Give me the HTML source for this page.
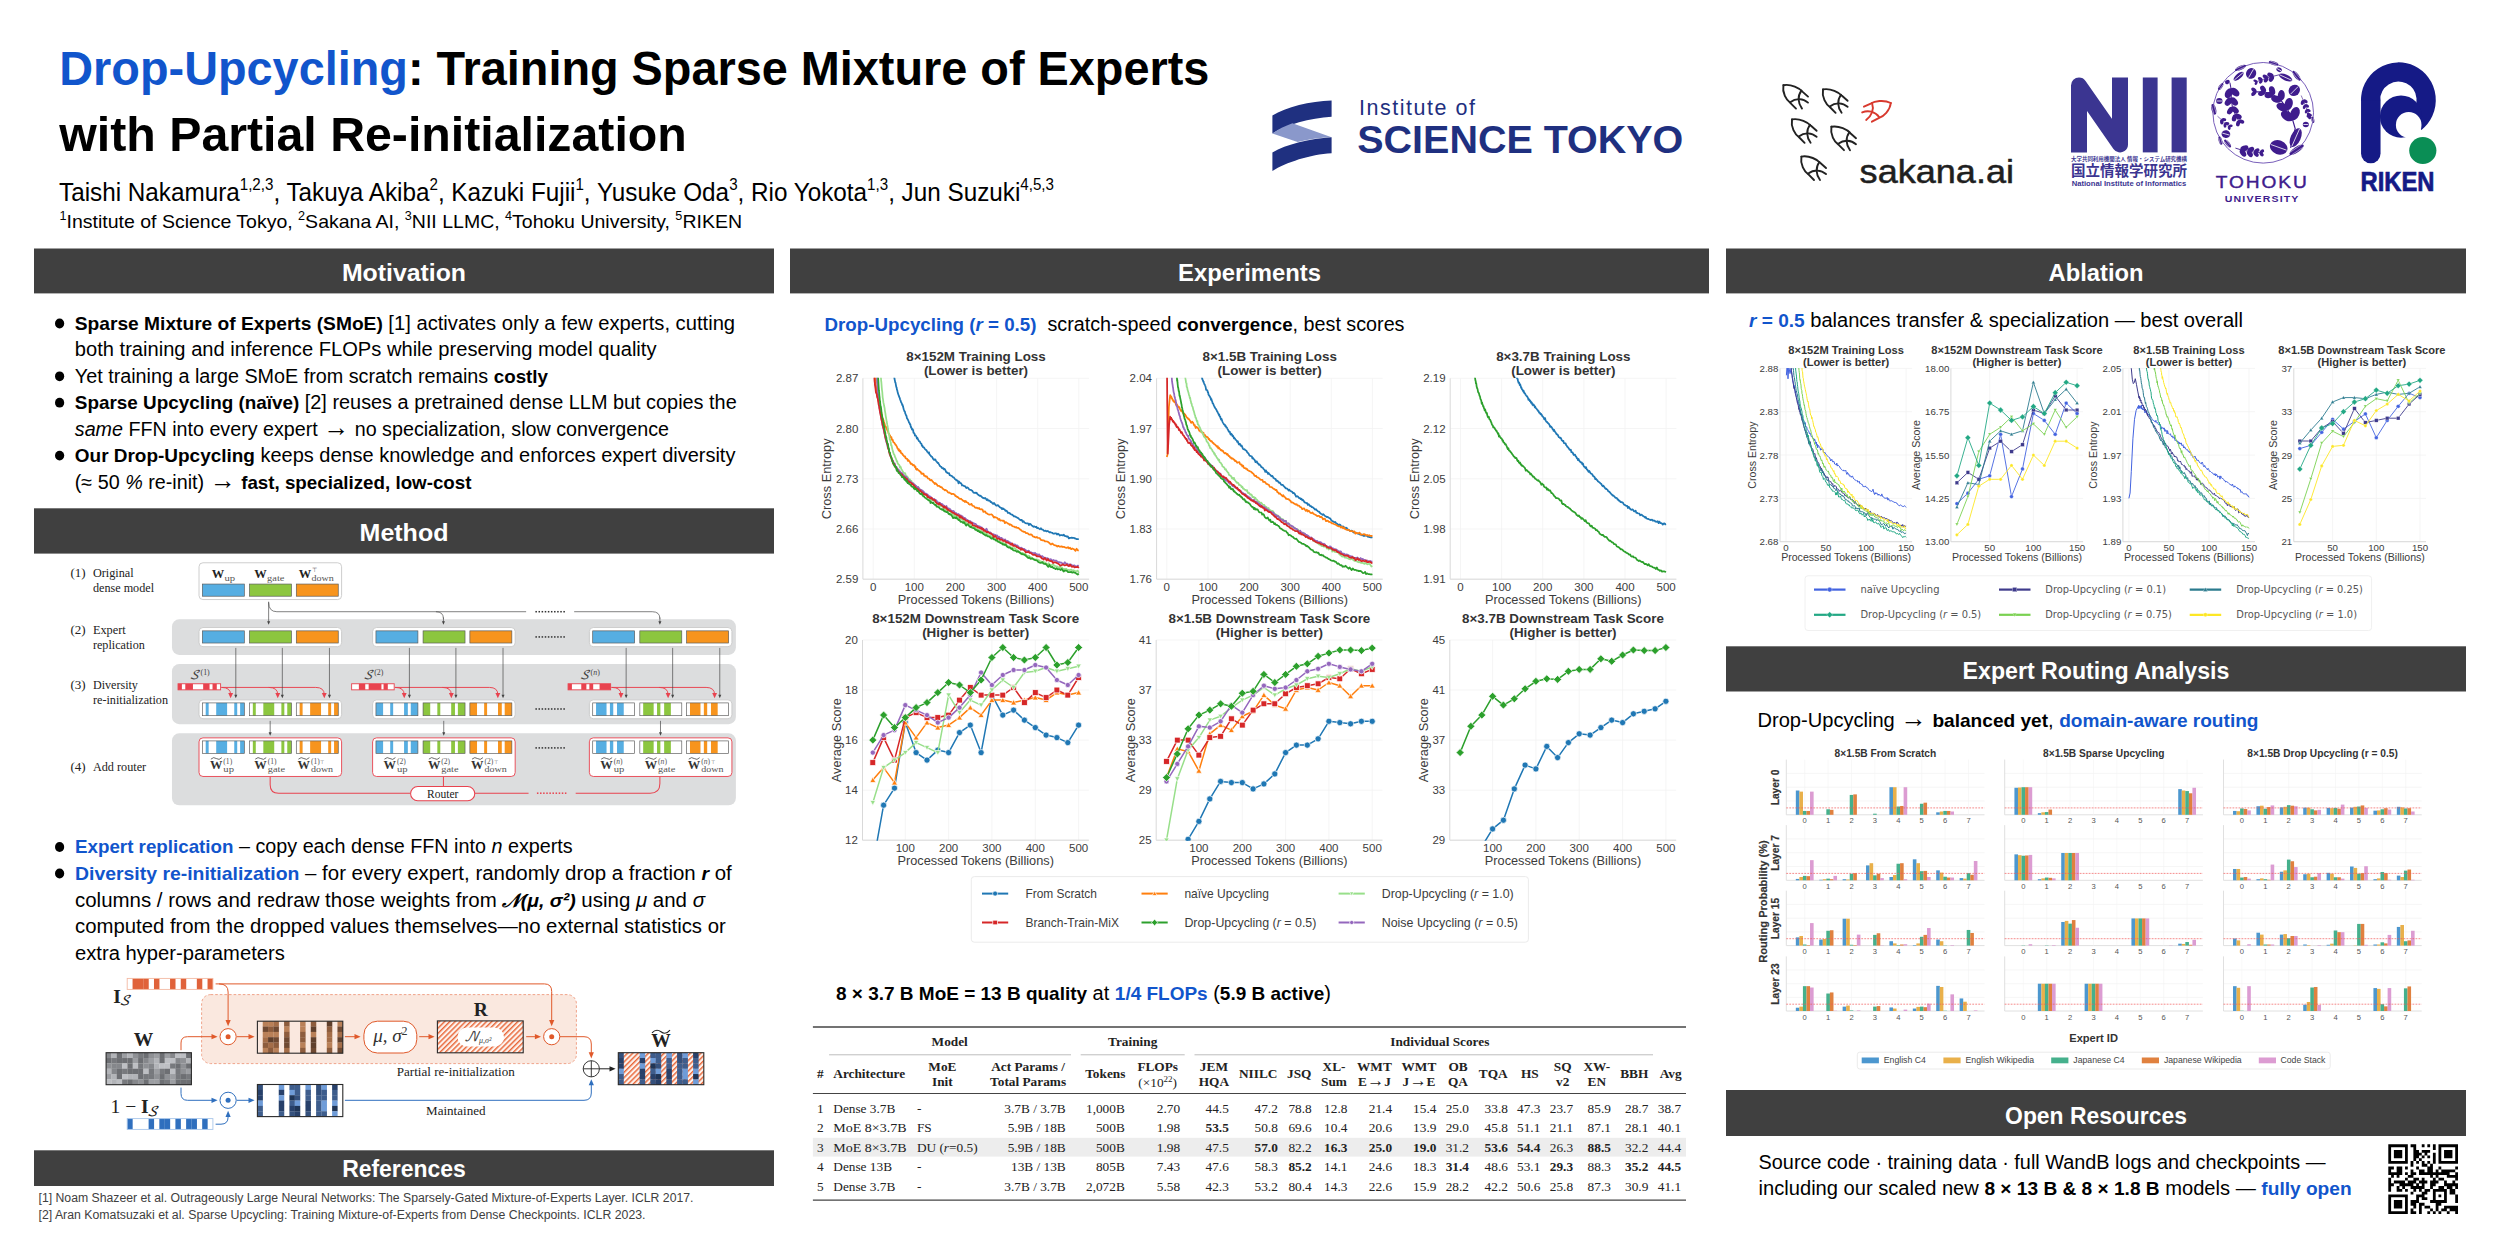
<!DOCTYPE html>
<html lang="en"><head><meta charset="utf-8"><title>Drop-Upcycling poster</title>
<style>html,body{margin:0;padding:0;background:#fff;overflow:hidden}svg{display:block}text{white-space:pre}</style></head>
<body><svg width="2500" height="1250" viewBox="0 0 2500 1250" font-family="Liberation Sans, sans-serif">
<rect width="2500" height="1250" fill="#fff"/>
<g id="part_text">
<text x="59.3" y="85.4" font-size="48" font-weight="bold" textLength="1150.0" lengthAdjust="spacingAndGlyphs"><tspan fill="#1155cc">Drop-Upcycling</tspan>: Training Sparse Mixture of Experts</text>
<text x="59.3" y="151.2" font-size="48" font-weight="bold" textLength="627.5" lengthAdjust="spacingAndGlyphs">with Partial Re-initialization</text>
<text x="59.0" y="200.6" font-size="25" textLength="995.0" lengthAdjust="spacingAndGlyphs"><tspan>Taishi Nakamura</tspan><tspan font-size="15.6" dy="-10.2">1,2,3</tspan><tspan dy="10.2">, Takuya Akiba</tspan><tspan font-size="15.6" dy="-10.2">2</tspan><tspan dy="10.2">, Kazuki Fujii</tspan><tspan font-size="15.6" dy="-10.2">1</tspan><tspan dy="10.2">, Yusuke Oda</tspan><tspan font-size="15.6" dy="-10.2">3</tspan><tspan dy="10.2">, Rio Yokota</tspan><tspan font-size="15.6" dy="-10.2">1,3</tspan><tspan dy="10.2">, Jun Suzuki</tspan><tspan font-size="15.6" dy="-10.2">4,5,3</tspan></text>
<text x="59.5" y="228.2" font-size="19" textLength="682.5" lengthAdjust="spacingAndGlyphs"><tspan font-size="12.3" dy="-8.2">1</tspan><tspan dy="8.2">Institute of Science Tokyo, </tspan><tspan font-size="12.3" dy="-8.2">2</tspan><tspan dy="8.2">Sakana AI, </tspan><tspan font-size="12.3" dy="-8.2">3</tspan><tspan dy="8.2">NII LLMC, </tspan><tspan font-size="12.3" dy="-8.2">4</tspan><tspan dy="8.2">Tohoku University, </tspan><tspan font-size="12.3" dy="-8.2">5</tspan><tspan dy="8.2">RIKEN</tspan></text>
<rect x="34.0" y="248.5" width="740.0" height="44.9" fill="#404040" /><text x="404.0" y="281.2" font-size="23.5" font-weight="bold" fill="#fff" text-anchor="middle" textLength="124.1" lengthAdjust="spacingAndGlyphs">Motivation</text>
<rect x="34.0" y="508.3" width="740.0" height="45.3" fill="#404040" /><text x="404.0" y="541.1" font-size="23.5" font-weight="bold" fill="#fff" text-anchor="middle" textLength="88.9" lengthAdjust="spacingAndGlyphs">Method</text>
<rect x="34.0" y="1150.3" width="740.0" height="35.7" fill="#404040" /><text x="404.0" y="1177.4" font-size="23.5" font-weight="bold" fill="#fff" text-anchor="middle" textLength="123.7" lengthAdjust="spacingAndGlyphs">References</text>
<rect x="790.0" y="248.5" width="919.0" height="44.9" fill="#404040" /><text x="1249.5" y="281.2" font-size="23.5" font-weight="bold" fill="#fff" text-anchor="middle" textLength="143.0" lengthAdjust="spacingAndGlyphs">Experiments</text>
<rect x="1726.0" y="248.5" width="740.0" height="44.9" fill="#404040" /><text x="2096.0" y="281.2" font-size="23.5" font-weight="bold" fill="#fff" text-anchor="middle" textLength="95.0" lengthAdjust="spacingAndGlyphs">Ablation</text>
<rect x="1726.0" y="646.3" width="740.0" height="45.2" fill="#404040" /><text x="2096.0" y="678.7" font-size="23.5" font-weight="bold" fill="#fff" text-anchor="middle" textLength="266.8" lengthAdjust="spacingAndGlyphs">Expert Routing Analysis</text>
<rect x="1726.0" y="1090.0" width="740.0" height="46.0" fill="#404040" /><text x="2096.0" y="1124.1" font-size="23.5" font-weight="bold" fill="#fff" text-anchor="middle" textLength="181.8" lengthAdjust="spacingAndGlyphs">Open Resources</text>
<text x="74.8" y="329.9" font-size="20" textLength="660.3" lengthAdjust="spacingAndGlyphs"><tspan font-weight="bold" font-size="0.95em">Sparse Mixture of Experts (SMoE)</tspan> [1] activates only a few experts, cutting</text>
<text x="74.8" y="356.3" font-size="20" textLength="581.7" lengthAdjust="spacingAndGlyphs">both training and inference FLOPs while preserving model quality</text>
<text x="74.8" y="382.7" font-size="20" textLength="473.2" lengthAdjust="spacingAndGlyphs">Yet training a large SMoE from scratch remains <tspan font-weight="bold" font-size="0.95em">costly</tspan></text>
<text x="74.8" y="409.1" font-size="20" textLength="661.9" lengthAdjust="spacingAndGlyphs"><tspan font-weight="bold" font-size="0.95em">Sparse Upcycling (naïve)</tspan> [2] reuses a pretrained dense LLM but copies the</text>
<text x="74.8" y="435.6" font-size="20" textLength="594.2" lengthAdjust="spacingAndGlyphs"><tspan font-style="italic">same</tspan> FFN into every expert <tspan font-size="1.32em">→</tspan> no specialization, slow convergence</text>
<text x="74.8" y="462.0" font-size="20" textLength="660.6" lengthAdjust="spacingAndGlyphs"><tspan font-weight="bold" font-size="0.95em">Our Drop‑Upcycling</tspan> keeps dense knowledge and enforces expert diversity</text>
<text x="74.8" y="488.5" font-size="20" textLength="396.7" lengthAdjust="spacingAndGlyphs">(≈ 50 <tspan font-style="italic">%</tspan> re‑init) <tspan font-size="1.32em">→</tspan> <tspan font-weight="bold" font-size="0.95em">fast, specialized, low‑cost</tspan></text>
<ellipse cx="59.6" cy="323.5" rx="4.6" ry="4.9" fill="#000"/>
<ellipse cx="59.6" cy="376.3" rx="4.6" ry="4.9" fill="#000"/>
<ellipse cx="59.6" cy="402.7" rx="4.6" ry="4.9" fill="#000"/>
<ellipse cx="59.6" cy="455.6" rx="4.6" ry="4.9" fill="#000"/>
<text x="75.0" y="853.4" font-size="20" textLength="497.7" lengthAdjust="spacingAndGlyphs"><tspan font-weight="bold" font-size="0.95em"><tspan fill="#1155cc">Expert replication</tspan></tspan> – copy each dense FFN into <tspan font-style="italic">n</tspan> experts</text>
<text x="75.0" y="879.9" font-size="20" textLength="656.7" lengthAdjust="spacingAndGlyphs"><tspan font-weight="bold" font-size="0.95em"><tspan fill="#1155cc">Diversity re‑initialization</tspan></tspan> – for every expert, randomly drop a fraction <tspan font-weight="bold" font-size="0.95em"><tspan font-style="italic">r</tspan></tspan> of</text>
<text x="75.0" y="906.7" font-size="20" textLength="630.0" lengthAdjust="spacingAndGlyphs">columns / rows and redraw those weights from <tspan font-weight="bold" font-size="0.95em"><tspan font-style="italic">𝒩(μ, σ²)</tspan></tspan> using <tspan font-style="italic">μ</tspan> and <tspan font-style="italic">σ</tspan></text>
<text x="75.0" y="933.1" font-size="20" textLength="650.7" lengthAdjust="spacingAndGlyphs">computed from the dropped values themselves—no external statistics or</text>
<text x="75.0" y="959.6" font-size="20" textLength="209.8" lengthAdjust="spacingAndGlyphs">extra hyper‑parameters</text>
<ellipse cx="59.6" cy="847.0" rx="4.6" ry="4.9" fill="#000"/>
<ellipse cx="59.6" cy="873.5" rx="4.6" ry="4.9" fill="#000"/>
<text x="38.5" y="1202.0" font-size="12.3" fill="#404040" textLength="655.0" lengthAdjust="spacingAndGlyphs">[1] Noam Shazeer et al. Outrageously Large Neural Networks: The Sparsely-Gated Mixture-of-Experts Layer. ICLR 2017.</text>
<text x="38.5" y="1218.6" font-size="12.3" fill="#404040" textLength="607.0" lengthAdjust="spacingAndGlyphs">[2] Aran Komatsuzaki et al. Sparse Upcycling: Training Mixture-of-Experts from Dense Checkpoints. ICLR 2023.</text>
<text x="824.5" y="331.0" font-size="20" textLength="580.0" lengthAdjust="spacingAndGlyphs"><tspan font-weight="bold" font-size="0.95em"><tspan fill="#1155cc">Drop‑Upcycling (<tspan font-style="italic">r</tspan> = 0.5)</tspan></tspan>  scratch‑speed <tspan font-weight="bold" font-size="0.95em">convergence</tspan>, best scores</text>
<text x="836.0" y="1000.0" font-size="20" textLength="495.0" lengthAdjust="spacingAndGlyphs"><tspan font-weight="bold" font-size="0.95em">8 × 3.7 B MoE = 13 B quality</tspan> at <tspan font-weight="bold" font-size="0.95em"><tspan fill="#1155cc">1/4 FLOPs</tspan></tspan> (<tspan font-weight="bold" font-size="0.95em">5.9 B active</tspan>)</text>
<text x="1749.0" y="326.5" font-size="20" textLength="494.0" lengthAdjust="spacingAndGlyphs"><tspan font-weight="bold" font-size="0.95em"><tspan fill="#1155cc"><tspan font-style="italic">r</tspan> = 0.5</tspan></tspan> balances transfer &amp; specialization — best overall</text>
<text x="1757.5" y="726.5" font-size="20" textLength="501.0" lengthAdjust="spacingAndGlyphs">Drop‑Upcycling <tspan font-size="1.32em">→</tspan> <tspan font-weight="bold" font-size="0.95em">balanced yet</tspan>, <tspan font-weight="bold" font-size="0.95em"><tspan fill="#1155cc">domain‑aware routing</tspan></tspan></text>
<text x="1758.6" y="1168.8" font-size="20" textLength="567.0" lengthAdjust="spacingAndGlyphs">Source code · training data · full WandB logs and checkpoints —</text>
<text x="1758.6" y="1195.0" font-size="20" textLength="593.0" lengthAdjust="spacingAndGlyphs">including our scaled new <tspan font-weight="bold" font-size="0.95em">8 × 13 B &amp; 8 × 1.8 B</tspan> models — <tspan font-weight="bold" font-size="0.95em"><tspan fill="#1155cc">fully open</tspan></tspan></text>
</g>
<g id="part_logos">
<path d="M1331.6,100.4 C1310.0,101.0 1286.0,107.0 1272.4,115.6 L1272.4,133.4 C1286.0,125.0 1310.0,118.0 1331.6,116.8 Z" fill="#1f3080"/><path d="M1272.4,133.4 C1278.0,129.4 1285.0,125.8 1292.4,123.2 L1331.6,137.2 C1320.0,137.6 1308.0,139.2 1297.6,142.0 Z" fill="#8a98cb"/><path d="M1331.6,137.2 L1331.6,153.2 C1310.0,154.4 1286.0,162.4 1272.4,171.0 L1272.4,152.4 C1286.0,144.4 1310.0,138.4 1331.6,137.2 Z" fill="#1f3080"/><text x="1359" y="115" font-size="21.5" fill="#1f3080" textLength="116" lengthAdjust="spacing">Institute of</text><text x="1357.3" y="153.0" font-size="38.4" font-weight="bold" fill="#1f3080" textLength="326.0" lengthAdjust="spacingAndGlyphs">SCIENCE TOKYO</text>
<g transform="translate(1782.8,84.6)" fill="none" stroke="#222" stroke-width="1.9" stroke-linecap="round" stroke-linejoin="round"><path d="M0.6,0.6 C8.4,-0.8 16.8,3.6 19.6,7 L25.2,12.0"/><path d="M0.6,0.6 C-0.8,8.4 3.6,15.6 7.4,18.2 L13.2,24.0"/><path d="M18.6,6.0 C14.6,11.4 15.0,18.4 19.2,24.0"/><path d="M7.4,17.6 C13.2,13.2 20.4,13.8 25.2,18.0"/></g><g transform="translate(1822.4,88.8)" fill="none" stroke="#222" stroke-width="1.9" stroke-linecap="round" stroke-linejoin="round"><path d="M0.6,0.6 C8.4,-0.8 16.8,3.6 19.6,7 L25.2,12.0"/><path d="M0.6,0.6 C-0.8,8.4 3.6,15.6 7.4,18.2 L13.2,24.0"/><path d="M18.6,6.0 C14.6,11.4 15.0,18.4 19.2,24.0"/><path d="M7.4,17.6 C13.2,13.2 20.4,13.8 25.2,18.0"/></g><g transform="translate(1791.4,118.8)" fill="none" stroke="#222" stroke-width="1.9" stroke-linecap="round" stroke-linejoin="round"><path d="M0.6,0.6 C8.4,-0.8 16.8,3.6 19.6,7 L25.2,12.0"/><path d="M0.6,0.6 C-0.8,8.4 3.6,15.6 7.4,18.2 L13.2,24.0"/><path d="M18.6,6.0 C14.6,11.4 15.0,18.4 19.2,24.0"/><path d="M7.4,17.6 C13.2,13.2 20.4,13.8 25.2,18.0"/></g><g transform="translate(1830.8,126.2)" fill="none" stroke="#222" stroke-width="1.9" stroke-linecap="round" stroke-linejoin="round"><path d="M0.6,0.6 C8.4,-0.8 16.8,3.6 19.6,7 L25.2,12.0"/><path d="M0.6,0.6 C-0.8,8.4 3.6,15.6 7.4,18.2 L13.2,24.0"/><path d="M18.6,6.0 C14.6,11.4 15.0,18.4 19.2,24.0"/><path d="M7.4,17.6 C13.2,13.2 20.4,13.8 25.2,18.0"/></g><g transform="translate(1800.8,156.0)" fill="none" stroke="#222" stroke-width="1.9" stroke-linecap="round" stroke-linejoin="round"><path d="M0.6,0.6 C8.4,-0.8 16.8,3.6 19.6,7 L25.2,12.0"/><path d="M0.6,0.6 C-0.8,8.4 3.6,15.6 7.4,18.2 L13.2,24.0"/><path d="M18.6,6.0 C14.6,11.4 15.0,18.4 19.2,24.0"/><path d="M7.4,17.6 C13.2,13.2 20.4,13.8 25.2,18.0"/></g><g transform="translate(1890.8,103.0) rotate(17) scale(-1,1) translate(-0.6,-0.6)" fill="none" stroke="#d8392e" stroke-width="1.9" stroke-linecap="round" stroke-linejoin="round"><path d="M0.6,0.6 C8.4,-0.8 16.8,3.6 19.6,7 L25.2,12.0"/><path d="M0.6,0.6 C-0.8,8.4 3.6,15.6 7.4,18.2 L13.2,24.0"/><path d="M18.6,6.0 C14.6,11.4 15.0,18.4 19.2,24.0"/><path d="M7.4,17.6 C13.2,13.2 20.4,13.8 25.2,18.0"/></g><text x="1859.6" y="182.7" font-size="33" fill="#1f1f1f" textLength="154.4" lengthAdjust="spacingAndGlyphs" stroke="#1f1f1f" stroke-width="0.5">sakana.ai</text>
<path d="M2079,152.4 L2079,85.5 L2120,144.4 L2120,77.5" fill="none" stroke="#3b3591" stroke-width="16" stroke-linejoin="round"/><rect x="2142.8" y="77.5" width="14.8" height="74.9" fill="#3b3591" /><rect x="2171.6" y="77.5" width="15.1" height="74.9" fill="#3b3591" /><text x="2071.0" y="160.6" font-size="5.2" font-family="Liberation Sans, Noto Sans CJK JP, sans-serif" font-weight="bold" fill="#3b3591" textLength="116.0" lengthAdjust="spacingAndGlyphs">大学共同利用機関法人 情報・システム研究機構</text><text x="2071.0" y="176.0" font-size="14.4" font-family="Liberation Sans, Noto Sans CJK JP, sans-serif" font-weight="bold" fill="#3b3591" textLength="116.0" lengthAdjust="spacingAndGlyphs">国立情報学研究所</text><text x="2071.7" y="186.3" font-size="7.3" font-weight="bold" fill="#3b3591" textLength="114.6" lengthAdjust="spacingAndGlyphs">National Institute of Informatics</text>
<circle cx="2263.2" cy="112.8" r="50.3" fill="none" stroke="#6a4db2" stroke-width="0.9"/><path d="M2290.6,147.9 L2295.2,128.6 L2292.5,119.4 L2287.4,109.3 L2281.0,100.3 L2273.1,94.7 L2264.9,92.0 L2255.9,91.8" fill="none" stroke="#3f1c8d" stroke-width="1.2" stroke-linejoin="round"/><ellipse cx="2294.9" cy="113.6" rx="6.9" ry="4.5" transform="rotate(-67 2294.9 113.6)" fill="#3f1c8d"/><ellipse cx="2287.2" cy="115.9" rx="6.9" ry="4.5" transform="rotate(-147 2287.2 115.9)" fill="#3f1c8d"/><ellipse cx="2288.7" cy="103.9" rx="6.1" ry="4.0" transform="rotate(-77 2288.7 103.9)" fill="#3f1c8d"/><ellipse cx="2282.3" cy="107.1" rx="6.1" ry="4.0" transform="rotate(-157 2282.3 107.1)" fill="#3f1c8d"/><ellipse cx="2281.3" cy="95.4" rx="5.3" ry="3.5" transform="rotate(-86 2281.3 95.4)" fill="#3f1c8d"/><ellipse cx="2276.3" cy="99.1" rx="5.3" ry="3.5" transform="rotate(-166 2276.3 99.1)" fill="#3f1c8d"/><ellipse cx="2272.1" cy="90.7" rx="4.5" ry="3.0" transform="rotate(-105 2272.1 90.7)" fill="#3f1c8d"/><ellipse cx="2269.0" cy="95.1" rx="4.5" ry="3.0" transform="rotate(-185 2269.0 95.1)" fill="#3f1c8d"/><ellipse cx="2263.1" cy="89.1" rx="3.8" ry="2.5" transform="rotate(-122 2263.1 89.1)" fill="#3f1c8d"/><ellipse cx="2261.7" cy="93.2" rx="3.8" ry="2.5" transform="rotate(-202 2261.7 93.2)" fill="#3f1c8d"/><ellipse cx="2253.9" cy="90.0" rx="3.0" ry="1.9" transform="rotate(-139 2253.9 90.0)" fill="#3f1c8d"/><ellipse cx="2253.8" cy="93.5" rx="3.0" ry="1.9" transform="rotate(-219 2253.8 93.5)" fill="#3f1c8d"/><path d="M2279.1,74.8 L2273.1,76.3 L2267.6,77.8 L2262.1,79.7 L2257.0,81.5" fill="none" stroke="#3f1c8d" stroke-width="0.8" stroke-linejoin="round"/><ellipse cx="2270.4" cy="75.1" rx="3.3" ry="2.2" transform="rotate(205 2270.4 75.1)" fill="#3f1c8d"/><ellipse cx="2271.4" cy="78.8" rx="3.3" ry="2.2" transform="rotate(125 2271.4 78.8)" fill="#3f1c8d"/><ellipse cx="2265.3" cy="76.7" rx="2.9" ry="1.9" transform="rotate(205 2265.3 76.7)" fill="#3f1c8d"/><ellipse cx="2266.1" cy="79.9" rx="2.9" ry="1.9" transform="rotate(125 2266.1 79.9)" fill="#3f1c8d"/><ellipse cx="2260.1" cy="78.8" rx="2.4" ry="1.6" transform="rotate(202 2260.1 78.8)" fill="#3f1c8d"/><ellipse cx="2260.9" cy="81.5" rx="2.4" ry="1.6" transform="rotate(122 2260.9 81.5)" fill="#3f1c8d"/><ellipse cx="2255.3" cy="80.9" rx="2.0" ry="1.3" transform="rotate(200 2255.3 80.9)" fill="#3f1c8d"/><ellipse cx="2256.1" cy="83.1" rx="2.0" ry="1.3" transform="rotate(120 2256.1 83.1)" fill="#3f1c8d"/><path d="M2229.9,82.6 L2231.1,89.0 L2231.3,98.2 L2232.4,107.4 L2235.4,114.8 L2238.6,120.5" fill="none" stroke="#3f1c8d" stroke-width="1.0" stroke-linejoin="round"/><ellipse cx="2228.7" cy="93.2" rx="5.3" ry="3.5" transform="rotate(119 2228.7 93.2)" fill="#3f1c8d"/><ellipse cx="2234.8" cy="92.1" rx="5.3" ry="3.5" transform="rotate(39 2234.8 92.1)" fill="#3f1c8d"/><ellipse cx="2228.6" cy="101.6" rx="4.7" ry="3.1" transform="rotate(129 2228.6 101.6)" fill="#3f1c8d"/><ellipse cx="2234.1" cy="101.5" rx="4.7" ry="3.1" transform="rotate(49 2234.1 101.5)" fill="#3f1c8d"/><ellipse cx="2230.3" cy="110.6" rx="4.2" ry="2.7" transform="rotate(123 2230.3 110.6)" fill="#3f1c8d"/><ellipse cx="2235.2" cy="110.0" rx="4.2" ry="2.7" transform="rotate(43 2235.2 110.0)" fill="#3f1c8d"/><ellipse cx="2234.4" cy="117.9" rx="3.6" ry="2.4" transform="rotate(108 2234.4 117.9)" fill="#3f1c8d"/><ellipse cx="2238.3" cy="116.3" rx="3.6" ry="2.4" transform="rotate(28 2238.3 116.3)" fill="#3f1c8d"/><ellipse cx="2238.1" cy="123.3" rx="3.1" ry="2.0" transform="rotate(101 2238.1 123.3)" fill="#3f1c8d"/><ellipse cx="2241.3" cy="121.5" rx="3.1" ry="2.0" transform="rotate(21 2241.3 121.5)" fill="#3f1c8d"/><path d="M2217.5,116.2 L2221.3,119.6 L2224.8,123.3 L2228.7,126.0" fill="none" stroke="#3f1c8d" stroke-width="0.6" stroke-linejoin="round"/><ellipse cx="2221.7" cy="122.0" rx="2.6" ry="1.7" transform="rotate(81 2221.7 122.0)" fill="#3f1c8d"/><ellipse cx="2223.7" cy="119.6" rx="2.6" ry="1.7" transform="rotate(1 2223.7 119.6)" fill="#3f1c8d"/><ellipse cx="2225.0" cy="125.4" rx="2.4" ry="1.5" transform="rotate(86 2225.0 125.4)" fill="#3f1c8d"/><ellipse cx="2227.0" cy="123.5" rx="2.4" ry="1.5" transform="rotate(6 2227.0 123.5)" fill="#3f1c8d"/><ellipse cx="2229.2" cy="127.9" rx="2.1" ry="1.4" transform="rotate(76 2229.2 127.9)" fill="#3f1c8d"/><ellipse cx="2230.6" cy="125.9" rx="2.1" ry="1.4" transform="rotate(-4 2230.6 125.9)" fill="#3f1c8d"/><path d="M2235.4,148.1 L2240.9,149.8 L2247.8,151.2 L2254.3,152.1 L2260.0,152.7" fill="none" stroke="#3f1c8d" stroke-width="0.9" stroke-linejoin="round"/><ellipse cx="2243.0" cy="152.9" rx="4.2" ry="2.7" transform="rotate(57 2243.0 152.9)" fill="#3f1c8d"/><ellipse cx="2244.4" cy="148.3" rx="4.2" ry="2.7" transform="rotate(-23 2244.4 148.3)" fill="#3f1c8d"/><ellipse cx="2249.9" cy="153.8" rx="3.6" ry="2.4" transform="rotate(52 2249.9 153.8)" fill="#3f1c8d"/><ellipse cx="2250.8" cy="149.7" rx="3.6" ry="2.4" transform="rotate(-28 2250.8 149.7)" fill="#3f1c8d"/><ellipse cx="2256.1" cy="154.2" rx="3.1" ry="2.0" transform="rotate(48 2256.1 154.2)" fill="#3f1c8d"/><ellipse cx="2256.7" cy="150.7" rx="3.1" ry="2.0" transform="rotate(-32 2256.7 150.7)" fill="#3f1c8d"/><ellipse cx="2261.6" cy="154.3" rx="2.5" ry="1.7" transform="rotate(46 2261.6 154.3)" fill="#3f1c8d"/><ellipse cx="2261.9" cy="151.4" rx="2.5" ry="1.7" transform="rotate(-34 2261.9 151.4)" fill="#3f1c8d"/><path d="M2301.2,95.5 L2303.2,100.3 L2305.1,104.9 L2306.9,109.5 L2308.6,113.9" fill="none" stroke="#3f1c8d" stroke-width="0.6" stroke-linejoin="round"/><ellipse cx="2302.5" cy="102.5" rx="2.5" ry="1.7" transform="rotate(107 2302.5 102.5)" fill="#3f1c8d"/><ellipse cx="2305.3" cy="101.3" rx="2.5" ry="1.7" transform="rotate(27 2305.3 101.3)" fill="#3f1c8d"/><ellipse cx="2304.4" cy="106.9" rx="2.3" ry="1.5" transform="rotate(108 2304.4 106.9)" fill="#3f1c8d"/><ellipse cx="2306.9" cy="105.9" rx="2.3" ry="1.5" transform="rotate(28 2306.9 105.9)" fill="#3f1c8d"/><ellipse cx="2306.3" cy="111.3" rx="2.2" ry="1.4" transform="rotate(108 2306.3 111.3)" fill="#3f1c8d"/><ellipse cx="2308.6" cy="110.4" rx="2.2" ry="1.4" transform="rotate(28 2308.6 110.4)" fill="#3f1c8d"/><ellipse cx="2308.0" cy="115.6" rx="2.0" ry="1.3" transform="rotate(109 2308.0 115.6)" fill="#3f1c8d"/><ellipse cx="2310.1" cy="114.8" rx="2.0" ry="1.3" transform="rotate(29 2310.1 114.8)" fill="#3f1c8d"/><ellipse cx="2251.1" cy="73.4" rx="5.5" ry="5.0" transform="rotate(-60 2251.1 73.4)" fill="#3f1c8d"/><path d="M2248.6,77.6 L2253.5,69.2" stroke="#fff" stroke-width="0.8"/><ellipse cx="2238.6" cy="76.3" rx="6.2" ry="2.6" transform="rotate(-40 2238.6 76.3)" fill="#3f1c8d"/><path d="M2234.3,80.0 L2243.0,72.7" stroke="#fff" stroke-width="0.8"/><ellipse cx="2240.5" cy="67.9" rx="6.0" ry="2.1" transform="rotate(-25 2240.5 67.9)" fill="#3f1c8d"/><path d="M2235.6,68.8 L2244.3,64.8" stroke="#fff" stroke-width="0.5"/><path d="M2236.6,71.0 L2245.3,66.9" stroke="#fff" stroke-width="0.5"/><ellipse cx="2273.6" cy="63.3" rx="5.0" ry="1.8" transform="rotate(18 2273.6 63.3)" fill="#3f1c8d"/><path d="M2270.3,61.1 L2277.5,63.5" stroke="#fff" stroke-width="0.5"/><path d="M2269.7,63.1 L2276.9,65.4" stroke="#fff" stroke-width="0.5"/><ellipse cx="2279.1" cy="69.7" rx="2.8" ry="2.2" transform="rotate(30 2279.1 69.7)" fill="#3f1c8d"/><path d="M2277.2,68.6 L2281.0,70.8" stroke="#fff" stroke-width="0.8"/><ellipse cx="2285.6" cy="77.5" rx="7.2" ry="2.9" transform="rotate(24 2285.6 77.5)" fill="#3f1c8d"/><path d="M2279.5,74.8 L2291.6,80.2" stroke="#fff" stroke-width="0.8"/><ellipse cx="2296.6" cy="75.8" rx="6.0" ry="2.2" transform="rotate(52 2296.6 75.8)" fill="#3f1c8d"/><path d="M2294.6,71.3 L2300.5,78.8" stroke="#fff" stroke-width="0.5"/><path d="M2292.7,72.8 L2298.6,80.3" stroke="#fff" stroke-width="0.5"/><ellipse cx="2294.3" cy="90.4" rx="6.0" ry="5.4" transform="rotate(-45 2294.3 90.4)" fill="#3f1c8d"/><path d="M2290.5,94.2 L2298.1,86.6" stroke="#fff" stroke-width="0.8"/><ellipse cx="2295.7" cy="137.6" rx="10.0" ry="5.0" transform="rotate(-66 2295.7 137.6)" fill="#3f1c8d"/><path d="M2291.9,146.2 L2299.5,129.0" stroke="#fff" stroke-width="0.8"/><ellipse cx="2278.7" cy="147.4" rx="9.0" ry="7.0" transform="rotate(20 2278.7 147.4)" fill="#3f1c8d"/><path d="M2270.8,144.5 L2286.6,150.2" stroke="#fff" stroke-width="0.8"/><ellipse cx="2296.6" cy="149.8" rx="8.5" ry="2.8" transform="rotate(-34 2296.6 149.8)" fill="#3f1c8d"/><path d="M2289.7,152.5 L2301.8,144.4" stroke="#fff" stroke-width="0.5"/><path d="M2291.4,155.1 L2303.5,147.0" stroke="#fff" stroke-width="0.5"/><ellipse cx="2225.9" cy="134.1" rx="4.4" ry="3.9" transform="rotate(15 2225.9 134.1)" fill="#3f1c8d"/><path d="M2222.3,133.1 L2229.6,135.1" stroke="#fff" stroke-width="0.8"/><ellipse cx="2219.3" cy="101.0" rx="3.2" ry="2.9" transform="rotate(0 2219.3 101.0)" fill="#3f1c8d"/><path d="M2216.7,101.0 L2221.9,101.0" stroke="#fff" stroke-width="0.8"/><ellipse cx="2213.8" cy="109.3" rx="5.5" ry="2.3" transform="rotate(75 2213.8 109.3)" fill="#3f1c8d"/><path d="M2213.9,104.8 L2216.2,113.1" stroke="#fff" stroke-width="0.5"/><path d="M2211.4,105.5 L2213.7,113.8" stroke="#fff" stroke-width="0.5"/><ellipse cx="2227.6" cy="143.5" rx="4.8" ry="1.9" transform="rotate(50 2227.6 143.5)" fill="#3f1c8d"/><path d="M2226.1,140.1 L2230.7,145.5" stroke="#fff" stroke-width="0.5"/><path d="M2224.5,141.5 L2229.1,146.9" stroke="#fff" stroke-width="0.5"/><ellipse cx="2220.4" cy="140.6" rx="4.2" ry="1.8" transform="rotate(75 2220.4 140.6)" fill="#3f1c8d"/><path d="M2220.6,137.3 L2222.2,143.2" stroke="#fff" stroke-width="0.5"/><path d="M2218.7,137.9 L2220.2,143.8" stroke="#fff" stroke-width="0.5"/><ellipse cx="2305.8" cy="124.5" rx="3.0" ry="2.7" transform="rotate(0 2305.8 124.5)" fill="#3f1c8d"/><path d="M2303.4,124.5 L2308.2,124.5" stroke="#fff" stroke-width="0.8"/><ellipse cx="2312.8" cy="119.9" rx="3.2" ry="1.5" transform="rotate(78 2312.8 119.9)" fill="#3f1c8d"/><path d="M2313.2,117.8 L2314.0,121.8" stroke="#fff" stroke-width="0.5"/><path d="M2311.5,118.1 L2312.4,122.1" stroke="#fff" stroke-width="0.5"/><ellipse cx="2227.4" cy="81.9" rx="2.5" ry="2.0" transform="rotate(-30 2227.4 81.9)" fill="#3f1c8d"/><ellipse cx="2220.7" cy="86.5" rx="4.0" ry="1.7" transform="rotate(-55 2220.7 86.5)" fill="#3f1c8d"/><path d="M2218.3,88.2 L2221.5,83.6" stroke="#fff" stroke-width="0.5"/><path d="M2219.9,89.3 L2223.1,84.7" stroke="#fff" stroke-width="0.5"/><ellipse cx="2309.0" cy="115.9" rx="3.5" ry="1.7" transform="rotate(70 2309.0 115.9)" fill="#3f1c8d"/><text transform="translate(2215.8,188.2) scale(1.14,1)" font-size="16.8" fill="#3f1c8d" stroke="#3f1c8d" stroke-width="0.4" textLength="79.8" lengthAdjust="spacing">TOHOKU</text><text transform="translate(2224.8,202.4) scale(1.1,1)" font-size="9.6" font-weight="bold" fill="#3f1c8d" textLength="66.9" lengthAdjust="spacing">UNIVERSITY</text>
<path d="M2370.8,153.6 L2370.8,100.6" stroke="#151a86" stroke-width="19.5" stroke-linecap="round" fill="none"/><path d="M2370.6,100.6 A27.8,28.2 0 1 1 2415.5,122.4" stroke="#151a86" stroke-width="19.2" fill="none"/><circle cx="2401.0" cy="116.6" r="21.1" fill="#151a86"/><clipPath id="rkc"><circle cx="2398.4" cy="100.6" r="18.3"/></clipPath><circle cx="2408.7" cy="124.9" r="12.8" fill="#fff"/><circle cx="2422.8" cy="150.5" r="13.6" fill="#0a8e55"/><text x="2360.5" y="190.6" font-size="27" font-weight="bold" fill="#151a86" textLength="74.0" lengthAdjust="spacingAndGlyphs" stroke="#151a86" stroke-width="0.7">RIKEN</text>
</g>
<g id="part_method">
<g transform="translate(30,550) scale(0.30400)"><rect x="467" y="228" width="1855" height="117" rx="24" fill="#dcddde"/><rect x="467" y="375" width="1855" height="198" rx="24" fill="#dcddde"/><rect x="467" y="603" width="1855" height="237" rx="24" fill="#dcddde"/><text x="133.0" y="88.0" font-size="38" font-family="Liberation Serif, serif" fill="#222" textLength="50.0" lengthAdjust="spacingAndGlyphs">(1)</text><text x="207.0" y="88.0" font-size="38" font-family="Liberation Serif, serif" fill="#222" textLength="134.0" lengthAdjust="spacingAndGlyphs">Original</text><text x="207.0" y="137.0" font-size="38" font-family="Liberation Serif, serif" fill="#222" textLength="201.0" lengthAdjust="spacingAndGlyphs">dense model</text><text x="133.0" y="277.0" font-size="38" font-family="Liberation Serif, serif" fill="#222" textLength="50.0" lengthAdjust="spacingAndGlyphs">(2)</text><text x="207.0" y="277.0" font-size="38" font-family="Liberation Serif, serif" fill="#222" textLength="108.0" lengthAdjust="spacingAndGlyphs">Expert</text><text x="207.0" y="325.0" font-size="38" font-family="Liberation Serif, serif" fill="#222" textLength="171.0" lengthAdjust="spacingAndGlyphs">replication</text><text x="133.0" y="458.0" font-size="38" font-family="Liberation Serif, serif" fill="#222" textLength="50.0" lengthAdjust="spacingAndGlyphs">(3)</text><text x="207.0" y="458.0" font-size="38" font-family="Liberation Serif, serif" fill="#222" textLength="148.0" lengthAdjust="spacingAndGlyphs">Diversity</text><text x="207.0" y="506.0" font-size="38" font-family="Liberation Serif, serif" fill="#222" textLength="247.0" lengthAdjust="spacingAndGlyphs">re-initialization</text><text x="133.0" y="727.0" font-size="38" font-family="Liberation Serif, serif" fill="#222" textLength="50.0" lengthAdjust="spacingAndGlyphs">(4)</text><text x="207.0" y="727.0" font-size="38" font-family="Liberation Serif, serif" fill="#222" textLength="175.0" lengthAdjust="spacingAndGlyphs">Add router</text><rect x="556" y="42" width="469" height="121" rx="13" fill="#fff" stroke="#c9c9c9" stroke-width="3"/><rect x="567" y="112" width="138" height="40" fill="#56aee2" stroke="#5a5a5a" stroke-width="2.2"/><rect x="722" y="112" width="138" height="40" fill="#8cc63f" stroke="#5a5a5a" stroke-width="2.2"/><rect x="876" y="112" width="138" height="40" fill="#f7941d" stroke="#5a5a5a" stroke-width="2.2"/><text x="598.0" y="92.0" font-size="41" font-family="Liberation Serif, serif" font-weight="bold" fill="#222">W</text><text x="640.0" y="101.0" font-size="25" font-family="Liberation Serif, serif" fill="#555" textLength="35.0" lengthAdjust="spacingAndGlyphs">up</text><text x="738.0" y="92.0" font-size="41" font-family="Liberation Serif, serif" font-weight="bold" fill="#222">W</text><text x="780.0" y="101.0" font-size="25" font-family="Liberation Serif, serif" fill="#555" textLength="57.0" lengthAdjust="spacingAndGlyphs">gate</text><text x="884.0" y="92.0" font-size="41" font-family="Liberation Serif, serif" font-weight="bold" fill="#222">W</text><text x="926.0" y="101.0" font-size="25" font-family="Liberation Serif, serif" fill="#555" textLength="73.0" lengthAdjust="spacingAndGlyphs">down</text><text x="928.0" y="74.0" font-size="20" font-family="Liberation Serif, serif" fill="#555">⊤</text><path d="M785,170 L785,239" stroke="#444" stroke-width="2.2" fill="none"/><path d="M780.0,234.1 L785,246 L790.0,234.1 Z" fill="#444"/><path d="M785,172 Q785,203 812,203 L1335,203 Q1360,203 1360,226 M1335,203 L1632,203 M1790,203 L2047,203 Q2072,203 2072,226" stroke="#444" stroke-width="2.2" fill="none"/><path d="M1360,222 L1360,239" stroke="#444" stroke-width="2.2" fill="none"/><path d="M1355.0,234.1 L1360,246 L1365.0,234.1 Z" fill="#444"/><path d="M2072,222 L2072,239" stroke="#444" stroke-width="2.2" fill="none"/><path d="M2067.0,234.1 L2072,246 L2077.0,234.1 Z" fill="#444"/><rect x="1662.5" y="200.5" width="5" height="5" fill="#333"/><rect x="1672.7" y="200.5" width="5" height="5" fill="#333"/><rect x="1682.9" y="200.5" width="5" height="5" fill="#333"/><rect x="1693.2" y="200.5" width="5" height="5" fill="#333"/><rect x="1703.4" y="200.5" width="5" height="5" fill="#333"/><rect x="1713.6" y="200.5" width="5" height="5" fill="#333"/><rect x="1723.8" y="200.5" width="5" height="5" fill="#333"/><rect x="1734.1" y="200.5" width="5" height="5" fill="#333"/><rect x="1744.3" y="200.5" width="5" height="5" fill="#333"/><rect x="1754.5" y="200.5" width="5" height="5" fill="#333"/><rect x="556" y="255" width="469" height="63" rx="13" fill="#fff" stroke="#c9c9c9" stroke-width="3"/><rect x="567" y="266" width="138" height="40" fill="#56aee2" stroke="#5a5a5a" stroke-width="2.2"/><rect x="722" y="266" width="138" height="40" fill="#8cc63f" stroke="#5a5a5a" stroke-width="2.2"/><rect x="876" y="266" width="138" height="40" fill="#f7941d" stroke="#5a5a5a" stroke-width="2.2"/><rect x="1127" y="255" width="469" height="63" rx="13" fill="#fff" stroke="#c9c9c9" stroke-width="3"/><rect x="1138" y="266" width="138" height="40" fill="#56aee2" stroke="#5a5a5a" stroke-width="2.2"/><rect x="1293" y="266" width="138" height="40" fill="#8cc63f" stroke="#5a5a5a" stroke-width="2.2"/><rect x="1447" y="266" width="138" height="40" fill="#f7941d" stroke="#5a5a5a" stroke-width="2.2"/><rect x="1840" y="255" width="469" height="63" rx="13" fill="#fff" stroke="#c9c9c9" stroke-width="3"/><rect x="1851" y="266" width="138" height="40" fill="#56aee2" stroke="#5a5a5a" stroke-width="2.2"/><rect x="2006" y="266" width="138" height="40" fill="#8cc63f" stroke="#5a5a5a" stroke-width="2.2"/><rect x="2160" y="266" width="138" height="40" fill="#f7941d" stroke="#5a5a5a" stroke-width="2.2"/><rect x="1662.5" y="283.5" width="5" height="5" fill="#333"/><rect x="1672.7" y="283.5" width="5" height="5" fill="#333"/><rect x="1682.9" y="283.5" width="5" height="5" fill="#333"/><rect x="1693.2" y="283.5" width="5" height="5" fill="#333"/><rect x="1703.4" y="283.5" width="5" height="5" fill="#333"/><rect x="1713.6" y="283.5" width="5" height="5" fill="#333"/><rect x="1723.8" y="283.5" width="5" height="5" fill="#333"/><rect x="1734.1" y="283.5" width="5" height="5" fill="#333"/><rect x="1744.3" y="283.5" width="5" height="5" fill="#333"/><rect x="1754.5" y="283.5" width="5" height="5" fill="#333"/><rect x="556" y="493" width="469" height="62" rx="13" fill="#fff" stroke="#c9c9c9" stroke-width="3"/><rect x="567" y="503" width="138" height="42" fill="#fff"/><rect x="578.0" y="503" width="9.7" height="42" fill="#56aee2"/><rect x="612.5" y="503" width="35.9" height="42" fill="#56aee2"/><rect x="671.9" y="503" width="9.7" height="42" fill="#56aee2"/><rect x="691.2" y="503" width="13.8" height="42" fill="#56aee2"/><rect x="567" y="503" width="138" height="42" fill="none" stroke="#5a5a5a" stroke-width="2.2"/><rect x="722" y="503" width="138" height="42" fill="#fff"/><rect x="733.0" y="503" width="9.7" height="42" fill="#8cc63f"/><rect x="767.5" y="503" width="35.9" height="42" fill="#8cc63f"/><rect x="826.9" y="503" width="9.7" height="42" fill="#8cc63f"/><rect x="846.2" y="503" width="13.8" height="42" fill="#8cc63f"/><rect x="722" y="503" width="138" height="42" fill="none" stroke="#5a5a5a" stroke-width="2.2"/><rect x="876" y="503" width="138" height="42" fill="#fff"/><rect x="887.0" y="503" width="9.7" height="42" fill="#f7941d"/><rect x="921.5" y="503" width="35.9" height="42" fill="#f7941d"/><rect x="980.9" y="503" width="9.7" height="42" fill="#f7941d"/><rect x="1000.2" y="503" width="13.8" height="42" fill="#f7941d"/><rect x="876" y="503" width="138" height="42" fill="none" stroke="#5a5a5a" stroke-width="2.2"/><rect x="487" y="440" width="140" height="20" fill="#fff"/><rect x="487.0" y="440" width="12.6" height="20" fill="#e8434f"/><rect x="510.8" y="440" width="25.2" height="20" fill="#e8434f"/><rect x="569.6" y="440" width="21.0" height="20" fill="#e8434f"/><rect x="600.4" y="440" width="14.0" height="20" fill="#e8434f"/><rect x="487" y="440" width="140" height="20" fill="none" stroke="#e8434f" stroke-width="3"/><text x="525.0" y="425.0" font-size="40" font-family="DejaVu Math TeX Gyre, DejaVu Serif, serif" font-style="italic" fill="#444">𝒮</text><text x="561.0" y="410.0" font-size="26" font-family="Liberation Serif, serif" fill="#444">(1)</text><path d="M629,452 L940,452 Q968,452 968,476 M630,452 Q660,452 660,476 M785,452 Q815,452 815,476" stroke="#e8434f" stroke-width="3.2" fill="none"/><path d="M652,470 L660,488 L668,470 Z" fill="#e8434f"/><path d="M807,470 L815,488 L823,470 Z" fill="#e8434f"/><path d="M960,470 L968,488 L976,470 Z" fill="#e8434f"/><path d="M677,322 L677,481" stroke="#444" stroke-width="2.2" fill="none"/><path d="M672.0,476.1 L677,488 L682.0,476.1 Z" fill="#444"/><path d="M830,322 L830,481" stroke="#444" stroke-width="2.2" fill="none"/><path d="M825.0,476.1 L830,488 L835.0,476.1 Z" fill="#444"/><path d="M985,322 L985,481" stroke="#444" stroke-width="2.2" fill="none"/><path d="M980.0,476.1 L985,488 L990.0,476.1 Z" fill="#444"/><path d="M790,562 L790,604" stroke="#444" stroke-width="2.2" fill="none"/><path d="M785.0,599.1 L790,611 L795.0,599.1 Z" fill="#444"/><rect x="556" y="618" width="469" height="127" rx="13" fill="#fff" stroke="#e8434f" stroke-width="3"/><rect x="567" y="628" width="138" height="41" fill="#fff"/><rect x="578.0" y="628" width="9.7" height="41" fill="#56aee2"/><rect x="612.5" y="628" width="35.9" height="41" fill="#56aee2"/><rect x="671.9" y="628" width="9.7" height="41" fill="#56aee2"/><rect x="691.2" y="628" width="13.8" height="41" fill="#56aee2"/><rect x="567" y="628" width="138" height="41" fill="none" stroke="#5a5a5a" stroke-width="2.2"/><rect x="722" y="628" width="138" height="41" fill="#fff"/><rect x="733.0" y="628" width="9.7" height="41" fill="#8cc63f"/><rect x="767.5" y="628" width="35.9" height="41" fill="#8cc63f"/><rect x="826.9" y="628" width="9.7" height="41" fill="#8cc63f"/><rect x="846.2" y="628" width="13.8" height="41" fill="#8cc63f"/><rect x="722" y="628" width="138" height="41" fill="none" stroke="#5a5a5a" stroke-width="2.2"/><rect x="876" y="628" width="138" height="41" fill="#fff"/><rect x="887.0" y="628" width="9.7" height="41" fill="#f7941d"/><rect x="921.5" y="628" width="35.9" height="41" fill="#f7941d"/><rect x="980.9" y="628" width="9.7" height="41" fill="#f7941d"/><rect x="1000.2" y="628" width="13.8" height="41" fill="#f7941d"/><rect x="876" y="628" width="138" height="41" fill="none" stroke="#5a5a5a" stroke-width="2.2"/><text x="592.0" y="719.0" font-size="41" font-family="Liberation Serif, serif" font-weight="bold" fill="#333">W</text><path d="M595,688 q9,-9 18,-2 t18,-3" stroke="#333" stroke-width="2.4" fill="none"/><text x="636.0" y="703.0" font-size="25" font-family="Liberation Serif, serif" fill="#555">(1)</text><text x="636.0" y="729.0" font-size="25" font-family="Liberation Serif, serif" fill="#555" textLength="35.0" lengthAdjust="spacingAndGlyphs">up</text><text x="738.0" y="719.0" font-size="41" font-family="Liberation Serif, serif" font-weight="bold" fill="#333">W</text><path d="M741,688 q9,-9 18,-2 t18,-3" stroke="#333" stroke-width="2.4" fill="none"/><text x="782.0" y="703.0" font-size="25" font-family="Liberation Serif, serif" fill="#555">(1)</text><text x="782.0" y="729.0" font-size="25" font-family="Liberation Serif, serif" fill="#555" textLength="57.0" lengthAdjust="spacingAndGlyphs">gate</text><text x="880.0" y="719.0" font-size="41" font-family="Liberation Serif, serif" font-weight="bold" fill="#333">W</text><path d="M883,688 q9,-9 18,-2 t18,-3" stroke="#333" stroke-width="2.4" fill="none"/><text x="924.0" y="703.0" font-size="25" font-family="Liberation Serif, serif" fill="#555">(1)<tspan font-size="18" dx="2">⊤</tspan></text><text x="924.0" y="729.0" font-size="25" font-family="Liberation Serif, serif" fill="#555" textLength="73.0" lengthAdjust="spacingAndGlyphs">down</text><rect x="1127" y="493" width="469" height="62" rx="13" fill="#fff" stroke="#c9c9c9" stroke-width="3"/><rect x="1138" y="503" width="138" height="42" fill="#fff"/><rect x="1138.0" y="503" width="23.5" height="42" fill="#56aee2"/><rect x="1184.9" y="503" width="9.7" height="42" fill="#56aee2"/><rect x="1230.5" y="503" width="12.4" height="42" fill="#56aee2"/><rect x="1252.5" y="503" width="23.5" height="42" fill="#56aee2"/><rect x="1138" y="503" width="138" height="42" fill="none" stroke="#5a5a5a" stroke-width="2.2"/><rect x="1293" y="503" width="138" height="42" fill="#fff"/><rect x="1293.0" y="503" width="23.5" height="42" fill="#8cc63f"/><rect x="1339.9" y="503" width="9.7" height="42" fill="#8cc63f"/><rect x="1385.5" y="503" width="12.4" height="42" fill="#8cc63f"/><rect x="1407.5" y="503" width="23.5" height="42" fill="#8cc63f"/><rect x="1293" y="503" width="138" height="42" fill="none" stroke="#5a5a5a" stroke-width="2.2"/><rect x="1447" y="503" width="138" height="42" fill="#fff"/><rect x="1447.0" y="503" width="23.5" height="42" fill="#f7941d"/><rect x="1493.9" y="503" width="9.7" height="42" fill="#f7941d"/><rect x="1539.5" y="503" width="12.4" height="42" fill="#f7941d"/><rect x="1561.5" y="503" width="23.5" height="42" fill="#f7941d"/><rect x="1447" y="503" width="138" height="42" fill="none" stroke="#5a5a5a" stroke-width="2.2"/><rect x="1058" y="440" width="140" height="20" fill="#fff"/><rect x="1081.8" y="440" width="21.0" height="20" fill="#e8434f"/><rect x="1114.0" y="440" width="42.0" height="20" fill="#e8434f"/><rect x="1163.0" y="440" width="14.0" height="20" fill="#e8434f"/><rect x="1058" y="440" width="140" height="20" fill="none" stroke="#e8434f" stroke-width="3"/><text x="1096.0" y="425.0" font-size="40" font-family="DejaVu Math TeX Gyre, DejaVu Serif, serif" font-style="italic" fill="#444">𝒮</text><text x="1132.0" y="410.0" font-size="26" font-family="Liberation Serif, serif" fill="#444">(2)</text><path d="M1200,452 L1511,452 Q1539,452 1539,476 M1201,452 Q1231,452 1231,476 M1356,452 Q1386,452 1386,476" stroke="#e8434f" stroke-width="3.2" fill="none"/><path d="M1223,470 L1231,488 L1239,470 Z" fill="#e8434f"/><path d="M1378,470 L1386,488 L1394,470 Z" fill="#e8434f"/><path d="M1531,470 L1539,488 L1547,470 Z" fill="#e8434f"/><path d="M1248,322 L1248,481" stroke="#444" stroke-width="2.2" fill="none"/><path d="M1243.0,476.1 L1248,488 L1253.0,476.1 Z" fill="#444"/><path d="M1401,322 L1401,481" stroke="#444" stroke-width="2.2" fill="none"/><path d="M1396.0,476.1 L1401,488 L1406.0,476.1 Z" fill="#444"/><path d="M1556,322 L1556,481" stroke="#444" stroke-width="2.2" fill="none"/><path d="M1551.0,476.1 L1556,488 L1561.0,476.1 Z" fill="#444"/><path d="M1361,562 L1361,604" stroke="#444" stroke-width="2.2" fill="none"/><path d="M1356.0,599.1 L1361,611 L1366.0,599.1 Z" fill="#444"/><rect x="1127" y="618" width="469" height="127" rx="13" fill="#fff" stroke="#e8434f" stroke-width="3"/><rect x="1138" y="628" width="138" height="41" fill="#fff"/><rect x="1138.0" y="628" width="23.5" height="41" fill="#56aee2"/><rect x="1184.9" y="628" width="9.7" height="41" fill="#56aee2"/><rect x="1230.5" y="628" width="12.4" height="41" fill="#56aee2"/><rect x="1252.5" y="628" width="23.5" height="41" fill="#56aee2"/><rect x="1138" y="628" width="138" height="41" fill="none" stroke="#5a5a5a" stroke-width="2.2"/><rect x="1293" y="628" width="138" height="41" fill="#fff"/><rect x="1293.0" y="628" width="23.5" height="41" fill="#8cc63f"/><rect x="1339.9" y="628" width="9.7" height="41" fill="#8cc63f"/><rect x="1385.5" y="628" width="12.4" height="41" fill="#8cc63f"/><rect x="1407.5" y="628" width="23.5" height="41" fill="#8cc63f"/><rect x="1293" y="628" width="138" height="41" fill="none" stroke="#5a5a5a" stroke-width="2.2"/><rect x="1447" y="628" width="138" height="41" fill="#fff"/><rect x="1447.0" y="628" width="23.5" height="41" fill="#f7941d"/><rect x="1493.9" y="628" width="9.7" height="41" fill="#f7941d"/><rect x="1539.5" y="628" width="12.4" height="41" fill="#f7941d"/><rect x="1561.5" y="628" width="23.5" height="41" fill="#f7941d"/><rect x="1447" y="628" width="138" height="41" fill="none" stroke="#5a5a5a" stroke-width="2.2"/><text x="1163.0" y="719.0" font-size="41" font-family="Liberation Serif, serif" font-weight="bold" fill="#333">W</text><path d="M1166,688 q9,-9 18,-2 t18,-3" stroke="#333" stroke-width="2.4" fill="none"/><text x="1207.0" y="703.0" font-size="25" font-family="Liberation Serif, serif" fill="#555">(2)</text><text x="1207.0" y="729.0" font-size="25" font-family="Liberation Serif, serif" fill="#555" textLength="35.0" lengthAdjust="spacingAndGlyphs">up</text><text x="1309.0" y="719.0" font-size="41" font-family="Liberation Serif, serif" font-weight="bold" fill="#333">W</text><path d="M1312,688 q9,-9 18,-2 t18,-3" stroke="#333" stroke-width="2.4" fill="none"/><text x="1353.0" y="703.0" font-size="25" font-family="Liberation Serif, serif" fill="#555">(2)</text><text x="1353.0" y="729.0" font-size="25" font-family="Liberation Serif, serif" fill="#555" textLength="57.0" lengthAdjust="spacingAndGlyphs">gate</text><text x="1451.0" y="719.0" font-size="41" font-family="Liberation Serif, serif" font-weight="bold" fill="#333">W</text><path d="M1454,688 q9,-9 18,-2 t18,-3" stroke="#333" stroke-width="2.4" fill="none"/><text x="1495.0" y="703.0" font-size="25" font-family="Liberation Serif, serif" fill="#555">(2)<tspan font-size="18" dx="2">⊤</tspan></text><text x="1495.0" y="729.0" font-size="25" font-family="Liberation Serif, serif" fill="#555" textLength="73.0" lengthAdjust="spacingAndGlyphs">down</text><rect x="1840" y="493" width="469" height="62" rx="13" fill="#fff" stroke="#c9c9c9" stroke-width="3"/><rect x="1851" y="503" width="138" height="42" fill="#fff"/><rect x="1862.0" y="503" width="34.5" height="42" fill="#56aee2"/><rect x="1907.6" y="503" width="11.0" height="42" fill="#56aee2"/><rect x="1931.0" y="503" width="22.1" height="42" fill="#56aee2"/><rect x="1851" y="503" width="138" height="42" fill="none" stroke="#5a5a5a" stroke-width="2.2"/><rect x="2006" y="503" width="138" height="42" fill="#fff"/><rect x="2017.0" y="503" width="34.5" height="42" fill="#8cc63f"/><rect x="2062.6" y="503" width="11.0" height="42" fill="#8cc63f"/><rect x="2086.0" y="503" width="22.1" height="42" fill="#8cc63f"/><rect x="2006" y="503" width="138" height="42" fill="none" stroke="#5a5a5a" stroke-width="2.2"/><rect x="2160" y="503" width="138" height="42" fill="#fff"/><rect x="2171.0" y="503" width="34.5" height="42" fill="#f7941d"/><rect x="2216.6" y="503" width="11.0" height="42" fill="#f7941d"/><rect x="2240.0" y="503" width="22.1" height="42" fill="#f7941d"/><rect x="2160" y="503" width="138" height="42" fill="none" stroke="#5a5a5a" stroke-width="2.2"/><rect x="1770" y="440" width="140" height="20" fill="#fff"/><rect x="1770.0" y="440" width="12.6" height="20" fill="#e8434f"/><rect x="1813.4" y="440" width="16.8" height="20" fill="#e8434f"/><rect x="1840.0" y="440" width="12.6" height="20" fill="#e8434f"/><rect x="1873.6" y="440" width="36.4" height="20" fill="#e8434f"/><rect x="1770" y="440" width="140" height="20" fill="none" stroke="#e8434f" stroke-width="3"/><text x="1808.0" y="425.0" font-size="40" font-family="DejaVu Math TeX Gyre, DejaVu Serif, serif" font-style="italic" fill="#444">𝒮</text><text x="1844.0" y="410.0" font-size="26" font-family="Liberation Serif, serif" fill="#444">(<tspan font-style="italic">n</tspan>)</text><path d="M1912,452 L2224,452 Q2252,452 2252,476 M1914,452 Q1944,452 1944,476 M2069,452 Q2099,452 2099,476" stroke="#e8434f" stroke-width="3.2" fill="none"/><path d="M1936,470 L1944,488 L1952,470 Z" fill="#e8434f"/><path d="M2091,470 L2099,488 L2107,470 Z" fill="#e8434f"/><path d="M2244,470 L2252,488 L2260,470 Z" fill="#e8434f"/><path d="M1961,322 L1961,481" stroke="#444" stroke-width="2.2" fill="none"/><path d="M1956.0,476.1 L1961,488 L1966.0,476.1 Z" fill="#444"/><path d="M2114,322 L2114,481" stroke="#444" stroke-width="2.2" fill="none"/><path d="M2109.0,476.1 L2114,488 L2119.0,476.1 Z" fill="#444"/><path d="M2269,322 L2269,481" stroke="#444" stroke-width="2.2" fill="none"/><path d="M2264.0,476.1 L2269,488 L2274.0,476.1 Z" fill="#444"/><path d="M2074,562 L2074,604" stroke="#444" stroke-width="2.2" fill="none"/><path d="M2069.0,599.1 L2074,611 L2079.0,599.1 Z" fill="#444"/><rect x="1840" y="618" width="469" height="127" rx="13" fill="#fff" stroke="#e8434f" stroke-width="3"/><rect x="1851" y="628" width="138" height="41" fill="#fff"/><rect x="1862.0" y="628" width="34.5" height="41" fill="#56aee2"/><rect x="1907.6" y="628" width="11.0" height="41" fill="#56aee2"/><rect x="1931.0" y="628" width="22.1" height="41" fill="#56aee2"/><rect x="1851" y="628" width="138" height="41" fill="none" stroke="#5a5a5a" stroke-width="2.2"/><rect x="2006" y="628" width="138" height="41" fill="#fff"/><rect x="2017.0" y="628" width="34.5" height="41" fill="#8cc63f"/><rect x="2062.6" y="628" width="11.0" height="41" fill="#8cc63f"/><rect x="2086.0" y="628" width="22.1" height="41" fill="#8cc63f"/><rect x="2006" y="628" width="138" height="41" fill="none" stroke="#5a5a5a" stroke-width="2.2"/><rect x="2160" y="628" width="138" height="41" fill="#fff"/><rect x="2171.0" y="628" width="34.5" height="41" fill="#f7941d"/><rect x="2216.6" y="628" width="11.0" height="41" fill="#f7941d"/><rect x="2240.0" y="628" width="22.1" height="41" fill="#f7941d"/><rect x="2160" y="628" width="138" height="41" fill="none" stroke="#5a5a5a" stroke-width="2.2"/><text x="1876.0" y="719.0" font-size="41" font-family="Liberation Serif, serif" font-weight="bold" fill="#333">W</text><path d="M1879,688 q9,-9 18,-2 t18,-3" stroke="#333" stroke-width="2.4" fill="none"/><text x="1920.0" y="703.0" font-size="25" font-family="Liberation Serif, serif" fill="#555">(<tspan font-style="italic">n</tspan>)</text><text x="1920.0" y="729.0" font-size="25" font-family="Liberation Serif, serif" fill="#555" textLength="35.0" lengthAdjust="spacingAndGlyphs">up</text><text x="2022.0" y="719.0" font-size="41" font-family="Liberation Serif, serif" font-weight="bold" fill="#333">W</text><path d="M2025,688 q9,-9 18,-2 t18,-3" stroke="#333" stroke-width="2.4" fill="none"/><text x="2066.0" y="703.0" font-size="25" font-family="Liberation Serif, serif" fill="#555">(<tspan font-style="italic">n</tspan>)</text><text x="2066.0" y="729.0" font-size="25" font-family="Liberation Serif, serif" fill="#555" textLength="57.0" lengthAdjust="spacingAndGlyphs">gate</text><text x="2164.0" y="719.0" font-size="41" font-family="Liberation Serif, serif" font-weight="bold" fill="#333">W</text><path d="M2167,688 q9,-9 18,-2 t18,-3" stroke="#333" stroke-width="2.4" fill="none"/><text x="2208.0" y="703.0" font-size="25" font-family="Liberation Serif, serif" fill="#555">(<tspan font-style="italic">n</tspan>)<tspan font-size="18" dx="2">⊤</tspan></text><text x="2208.0" y="729.0" font-size="25" font-family="Liberation Serif, serif" fill="#555" textLength="73.0" lengthAdjust="spacingAndGlyphs">down</text><rect x="1662.5" y="520.5" width="5" height="5" fill="#333"/><rect x="1672.7" y="520.5" width="5" height="5" fill="#333"/><rect x="1682.9" y="520.5" width="5" height="5" fill="#333"/><rect x="1693.2" y="520.5" width="5" height="5" fill="#333"/><rect x="1703.4" y="520.5" width="5" height="5" fill="#333"/><rect x="1713.6" y="520.5" width="5" height="5" fill="#333"/><rect x="1723.8" y="520.5" width="5" height="5" fill="#333"/><rect x="1734.1" y="520.5" width="5" height="5" fill="#333"/><rect x="1744.3" y="520.5" width="5" height="5" fill="#333"/><rect x="1754.5" y="520.5" width="5" height="5" fill="#333"/><rect x="1662.5" y="648.5" width="5" height="5" fill="#333"/><rect x="1672.7" y="648.5" width="5" height="5" fill="#333"/><rect x="1682.9" y="648.5" width="5" height="5" fill="#333"/><rect x="1693.2" y="648.5" width="5" height="5" fill="#333"/><rect x="1703.4" y="648.5" width="5" height="5" fill="#333"/><rect x="1713.6" y="648.5" width="5" height="5" fill="#333"/><rect x="1723.8" y="648.5" width="5" height="5" fill="#333"/><rect x="1734.1" y="648.5" width="5" height="5" fill="#333"/><rect x="1744.3" y="648.5" width="5" height="5" fill="#333"/><rect x="1754.5" y="648.5" width="5" height="5" fill="#333"/><path d="M790,746 L790,772 Q790,800 818,800 L1252,800 M1360,746 L1360,778 M1463,800 L1640,800 M1795,800 L2040,800 Q2072,800 2072,768 L2072,746" stroke="#e8434f" stroke-width="3.4" fill="none"/><rect x="1667.5" y="797.5" width="5" height="5" fill="#e8434f"/><rect x="1677.7" y="797.5" width="5" height="5" fill="#e8434f"/><rect x="1687.9" y="797.5" width="5" height="5" fill="#e8434f"/><rect x="1698.2" y="797.5" width="5" height="5" fill="#e8434f"/><rect x="1708.4" y="797.5" width="5" height="5" fill="#e8434f"/><rect x="1718.6" y="797.5" width="5" height="5" fill="#e8434f"/><rect x="1728.8" y="797.5" width="5" height="5" fill="#e8434f"/><rect x="1739.1" y="797.5" width="5" height="5" fill="#e8434f"/><rect x="1749.3" y="797.5" width="5" height="5" fill="#e8434f"/><rect x="1759.5" y="797.5" width="5" height="5" fill="#e8434f"/><rect x="1252" y="778" width="211" height="47" rx="23.5" fill="#fff" stroke="#e8434f" stroke-width="3.4"/><text x="1357.5" y="815.0" font-size="38" font-family="Liberation Serif, serif" fill="#222" text-anchor="middle">Router</text></g>
<defs><pattern id="hatch" width="3.7" height="3.7" patternUnits="userSpaceOnUse" patternTransform="rotate(-45)"><rect width="3.7" height="3.7" fill="#fdf3ee"/><rect width="3.7" height="1.45" fill="#e8683a"/></pattern></defs><rect x="201.6" y="994.6" width="374.8" height="69" rx="9" fill="#fae8df" stroke="#ee9b7f" stroke-width="0.9" stroke-dasharray="2.6 2"/><rect x="127.2" y="978.4" width="85.7" height="11" fill="#fff"/><rect x="132.56" y="978.4" width="5.46" height="11" fill="#e0623a"/><rect x="137.91" y="978.4" width="5.46" height="11" fill="#e0623a"/><rect x="143.27" y="978.4" width="5.46" height="11" fill="#e0623a"/><rect x="153.98" y="978.4" width="5.46" height="11" fill="#e0623a"/><rect x="170.05" y="978.4" width="5.46" height="11" fill="#e0623a"/><rect x="180.76" y="978.4" width="5.46" height="11" fill="#e0623a"/><rect x="196.83" y="978.4" width="5.46" height="11" fill="#e0623a"/><rect x="207.54" y="978.4" width="5.46" height="11" fill="#e0623a"/><rect x="127.2" y="978.4" width="85.7" height="11" fill="none" stroke="#f3b9a3" stroke-width="0.9"/><rect x="127.2" y="1118.6" width="85.7" height="10.8" fill="#fff"/><rect x="127.20" y="1118.6" width="5.46" height="10.8" fill="#2f6fbe"/><rect x="148.62" y="1118.6" width="5.46" height="10.8" fill="#2f6fbe"/><rect x="159.34" y="1118.6" width="5.46" height="10.8" fill="#2f6fbe"/><rect x="164.69" y="1118.6" width="5.46" height="10.8" fill="#2f6fbe"/><rect x="175.41" y="1118.6" width="5.46" height="10.8" fill="#2f6fbe"/><rect x="186.12" y="1118.6" width="5.46" height="10.8" fill="#2f6fbe"/><rect x="191.48" y="1118.6" width="5.46" height="10.8" fill="#2f6fbe"/><rect x="202.19" y="1118.6" width="5.46" height="10.8" fill="#2f6fbe"/><rect x="127.2" y="1118.6" width="85.7" height="10.8" fill="none" stroke="#a9c6ea" stroke-width="0.9"/><text x="113.2" y="1002.6" font-size="19.5" font-family="Liberation Serif, serif" font-weight="bold" fill="#222">I<tspan font-size="13.5" font-weight="normal" font-style="italic" dy="2.6" dx="-1.6" font-family="DejaVu Math TeX Gyre, DejaVu Serif, serif">𝒮</tspan></text><text x="110.6" y="1112.9" font-size="19.5" font-family="Liberation Serif, serif" fill="#222">1 − <tspan font-weight="bold">I</tspan><tspan font-size="13.5" font-style="italic" dy="2.6" dx="-1.6" font-family="DejaVu Math TeX Gyre, DejaVu Serif, serif">𝒮</tspan></text><text x="143.6" y="1046.3" font-size="19.5" font-family="Liberation Serif, serif" font-weight="bold" fill="#222" text-anchor="middle">W</text><text x="480.8" y="1015.8" font-size="19.5" font-family="Liberation Serif, serif" font-weight="bold" fill="#222" text-anchor="middle">R</text><text x="661.0" y="1046.8" font-size="19.5" font-family="Liberation Serif, serif" font-weight="bold" fill="#222" text-anchor="middle">W</text><path d="M652,1032.8 q4.4,-4.6 9,-1 t9,-1.6" stroke="#222" stroke-width="1.1" fill="none"/><rect x="106.10" y="1052.70" width="5.48" height="5.48" fill="#85878b"/><rect x="106.10" y="1058.03" width="5.48" height="5.48" fill="#6d6f73"/><rect x="106.10" y="1063.37" width="5.48" height="5.48" fill="#8f9195"/><rect x="106.10" y="1068.70" width="5.48" height="5.48" fill="#b2b4b8"/><rect x="106.10" y="1074.03" width="5.48" height="5.48" fill="#9c9ea2"/><rect x="106.10" y="1079.37" width="5.48" height="5.48" fill="#bdbfc3"/><rect x="111.43" y="1052.70" width="5.48" height="5.48" fill="#b2b4b8"/><rect x="111.43" y="1058.03" width="5.48" height="5.48" fill="#77797d"/><rect x="111.43" y="1063.37" width="5.48" height="5.48" fill="#85878b"/><rect x="111.43" y="1068.70" width="5.48" height="5.48" fill="#85878b"/><rect x="111.43" y="1074.03" width="5.48" height="5.48" fill="#b2b4b8"/><rect x="111.43" y="1079.37" width="5.48" height="5.48" fill="#b2b4b8"/><rect x="116.76" y="1052.70" width="5.48" height="5.48" fill="#6d6f73"/><rect x="116.76" y="1058.03" width="5.48" height="5.48" fill="#6d6f73"/><rect x="116.76" y="1063.37" width="5.48" height="5.48" fill="#85878b"/><rect x="116.76" y="1068.70" width="5.48" height="5.48" fill="#6d6f73"/><rect x="116.76" y="1074.03" width="5.48" height="5.48" fill="#6d6f73"/><rect x="116.76" y="1079.37" width="5.48" height="5.48" fill="#bdbfc3"/><rect x="122.09" y="1052.70" width="5.48" height="5.48" fill="#9c9ea2"/><rect x="122.09" y="1058.03" width="5.48" height="5.48" fill="#6d6f73"/><rect x="122.09" y="1063.37" width="5.48" height="5.48" fill="#bdbfc3"/><rect x="122.09" y="1068.70" width="5.48" height="5.48" fill="#77797d"/><rect x="122.09" y="1074.03" width="5.48" height="5.48" fill="#bdbfc3"/><rect x="122.09" y="1079.37" width="5.48" height="5.48" fill="#77797d"/><rect x="127.42" y="1052.70" width="5.48" height="5.48" fill="#b2b4b8"/><rect x="127.42" y="1058.03" width="5.48" height="5.48" fill="#6d6f73"/><rect x="127.42" y="1063.37" width="5.48" height="5.48" fill="#6d6f73"/><rect x="127.42" y="1068.70" width="5.48" height="5.48" fill="#6d6f73"/><rect x="127.42" y="1074.03" width="5.48" height="5.48" fill="#b2b4b8"/><rect x="127.42" y="1079.37" width="5.48" height="5.48" fill="#6d6f73"/><rect x="132.76" y="1052.70" width="5.48" height="5.48" fill="#8f9195"/><rect x="132.76" y="1058.03" width="5.48" height="5.48" fill="#9c9ea2"/><rect x="132.76" y="1063.37" width="5.48" height="5.48" fill="#bdbfc3"/><rect x="132.76" y="1068.70" width="5.48" height="5.48" fill="#6d6f73"/><rect x="132.76" y="1074.03" width="5.48" height="5.48" fill="#b2b4b8"/><rect x="132.76" y="1079.37" width="5.48" height="5.48" fill="#85878b"/><rect x="138.09" y="1052.70" width="5.48" height="5.48" fill="#77797d"/><rect x="138.09" y="1058.03" width="5.48" height="5.48" fill="#6d6f73"/><rect x="138.09" y="1063.37" width="5.48" height="5.48" fill="#77797d"/><rect x="138.09" y="1068.70" width="5.48" height="5.48" fill="#6d6f73"/><rect x="138.09" y="1074.03" width="5.48" height="5.48" fill="#6d6f73"/><rect x="138.09" y="1079.37" width="5.48" height="5.48" fill="#8f9195"/><rect x="143.42" y="1052.70" width="5.48" height="5.48" fill="#6d6f73"/><rect x="143.42" y="1058.03" width="5.48" height="5.48" fill="#85878b"/><rect x="143.42" y="1063.37" width="5.48" height="5.48" fill="#8f9195"/><rect x="143.42" y="1068.70" width="5.48" height="5.48" fill="#bdbfc3"/><rect x="143.42" y="1074.03" width="5.48" height="5.48" fill="#77797d"/><rect x="143.42" y="1079.37" width="5.48" height="5.48" fill="#6d6f73"/><rect x="148.75" y="1052.70" width="5.48" height="5.48" fill="#8f9195"/><rect x="148.75" y="1058.03" width="5.48" height="5.48" fill="#9c9ea2"/><rect x="148.75" y="1063.37" width="5.48" height="5.48" fill="#85878b"/><rect x="148.75" y="1068.70" width="5.48" height="5.48" fill="#77797d"/><rect x="148.75" y="1074.03" width="5.48" height="5.48" fill="#77797d"/><rect x="148.75" y="1079.37" width="5.48" height="5.48" fill="#9c9ea2"/><rect x="154.08" y="1052.70" width="5.48" height="5.48" fill="#9c9ea2"/><rect x="154.08" y="1058.03" width="5.48" height="5.48" fill="#b2b4b8"/><rect x="154.08" y="1063.37" width="5.48" height="5.48" fill="#b2b4b8"/><rect x="154.08" y="1068.70" width="5.48" height="5.48" fill="#9c9ea2"/><rect x="154.08" y="1074.03" width="5.48" height="5.48" fill="#8f9195"/><rect x="154.08" y="1079.37" width="5.48" height="5.48" fill="#9c9ea2"/><rect x="159.41" y="1052.70" width="5.48" height="5.48" fill="#6d6f73"/><rect x="159.41" y="1058.03" width="5.48" height="5.48" fill="#6d6f73"/><rect x="159.41" y="1063.37" width="5.48" height="5.48" fill="#bdbfc3"/><rect x="159.41" y="1068.70" width="5.48" height="5.48" fill="#77797d"/><rect x="159.41" y="1074.03" width="5.48" height="5.48" fill="#6d6f73"/><rect x="159.41" y="1079.37" width="5.48" height="5.48" fill="#6d6f73"/><rect x="164.74" y="1052.70" width="5.48" height="5.48" fill="#9c9ea2"/><rect x="164.74" y="1058.03" width="5.48" height="5.48" fill="#bdbfc3"/><rect x="164.74" y="1063.37" width="5.48" height="5.48" fill="#bdbfc3"/><rect x="164.74" y="1068.70" width="5.48" height="5.48" fill="#6d6f73"/><rect x="164.74" y="1074.03" width="5.48" height="5.48" fill="#8f9195"/><rect x="164.74" y="1079.37" width="5.48" height="5.48" fill="#77797d"/><rect x="170.07" y="1052.70" width="5.48" height="5.48" fill="#85878b"/><rect x="170.07" y="1058.03" width="5.48" height="5.48" fill="#bdbfc3"/><rect x="170.07" y="1063.37" width="5.48" height="5.48" fill="#77797d"/><rect x="170.07" y="1068.70" width="5.48" height="5.48" fill="#bdbfc3"/><rect x="170.07" y="1074.03" width="5.48" height="5.48" fill="#9c9ea2"/><rect x="170.07" y="1079.37" width="5.48" height="5.48" fill="#9c9ea2"/><rect x="175.41" y="1052.70" width="5.48" height="5.48" fill="#bdbfc3"/><rect x="175.41" y="1058.03" width="5.48" height="5.48" fill="#85878b"/><rect x="175.41" y="1063.37" width="5.48" height="5.48" fill="#6d6f73"/><rect x="175.41" y="1068.70" width="5.48" height="5.48" fill="#77797d"/><rect x="175.41" y="1074.03" width="5.48" height="5.48" fill="#77797d"/><rect x="175.41" y="1079.37" width="5.48" height="5.48" fill="#6d6f73"/><rect x="180.74" y="1052.70" width="5.48" height="5.48" fill="#bdbfc3"/><rect x="180.74" y="1058.03" width="5.48" height="5.48" fill="#8f9195"/><rect x="180.74" y="1063.37" width="5.48" height="5.48" fill="#8f9195"/><rect x="180.74" y="1068.70" width="5.48" height="5.48" fill="#8f9195"/><rect x="180.74" y="1074.03" width="5.48" height="5.48" fill="#6d6f73"/><rect x="180.74" y="1079.37" width="5.48" height="5.48" fill="#6d6f73"/><rect x="186.07" y="1052.70" width="5.48" height="5.48" fill="#6d6f73"/><rect x="186.07" y="1058.03" width="5.48" height="5.48" fill="#b2b4b8"/><rect x="186.07" y="1063.37" width="5.48" height="5.48" fill="#6d6f73"/><rect x="186.07" y="1068.70" width="5.48" height="5.48" fill="#9c9ea2"/><rect x="186.07" y="1074.03" width="5.48" height="5.48" fill="#77797d"/><rect x="186.07" y="1079.37" width="5.48" height="5.48" fill="#6d6f73"/><rect x="106.1" y="1052.7" width="85.3" height="32.0" fill="none" stroke="#2a2a2a" stroke-width="1.1"/><rect x="257.4" y="1021.2" width="85.4" height="32.0" fill="#fae8df"/><rect x="262.74" y="1021.20" width="5.49" height="5.48" fill="#b98058"/><rect x="262.74" y="1026.53" width="5.49" height="5.48" fill="#6f4932"/><rect x="262.74" y="1031.87" width="5.49" height="5.48" fill="#b98058"/><rect x="262.74" y="1037.20" width="5.49" height="5.48" fill="#a46d48"/><rect x="262.74" y="1042.53" width="5.49" height="5.48" fill="#8d5c3d"/><rect x="262.74" y="1047.87" width="5.49" height="5.48" fill="#b98058"/><rect x="268.07" y="1021.20" width="5.49" height="5.48" fill="#b98058"/><rect x="268.07" y="1026.53" width="5.49" height="5.48" fill="#8d5c3d"/><rect x="268.07" y="1031.87" width="5.49" height="5.48" fill="#b98058"/><rect x="268.07" y="1037.20" width="5.49" height="5.48" fill="#5f3f2c"/><rect x="268.07" y="1042.53" width="5.49" height="5.48" fill="#a46d48"/><rect x="268.07" y="1047.87" width="5.49" height="5.48" fill="#8d5c3d"/><rect x="273.41" y="1021.20" width="5.49" height="5.48" fill="#a46d48"/><rect x="273.41" y="1026.53" width="5.49" height="5.48" fill="#6f4932"/><rect x="273.41" y="1031.87" width="5.49" height="5.48" fill="#b98058"/><rect x="273.41" y="1037.20" width="5.49" height="5.48" fill="#6f4932"/><rect x="273.41" y="1042.53" width="5.49" height="5.48" fill="#8d5c3d"/><rect x="273.41" y="1047.87" width="5.49" height="5.48" fill="#b98058"/><rect x="284.09" y="1021.20" width="5.49" height="5.48" fill="#8d5c3d"/><rect x="284.09" y="1026.53" width="5.49" height="5.48" fill="#b98058"/><rect x="284.09" y="1031.87" width="5.49" height="5.48" fill="#8d5c3d"/><rect x="284.09" y="1037.20" width="5.49" height="5.48" fill="#6f4932"/><rect x="284.09" y="1042.53" width="5.49" height="5.48" fill="#6f4932"/><rect x="284.09" y="1047.87" width="5.49" height="5.48" fill="#a46d48"/><rect x="300.10" y="1021.20" width="5.49" height="5.48" fill="#b98058"/><rect x="300.10" y="1026.53" width="5.49" height="5.48" fill="#b98058"/><rect x="300.10" y="1031.87" width="5.49" height="5.48" fill="#8d5c3d"/><rect x="300.10" y="1037.20" width="5.49" height="5.48" fill="#8d5c3d"/><rect x="300.10" y="1042.53" width="5.49" height="5.48" fill="#b98058"/><rect x="300.10" y="1047.87" width="5.49" height="5.48" fill="#8d5c3d"/><rect x="310.77" y="1021.20" width="5.49" height="5.48" fill="#8d5c3d"/><rect x="310.77" y="1026.53" width="5.49" height="5.48" fill="#5f3f2c"/><rect x="310.77" y="1031.87" width="5.49" height="5.48" fill="#b98058"/><rect x="310.77" y="1037.20" width="5.49" height="5.48" fill="#5f3f2c"/><rect x="310.77" y="1042.53" width="5.49" height="5.48" fill="#5f3f2c"/><rect x="310.77" y="1047.87" width="5.49" height="5.48" fill="#6f4932"/><rect x="326.79" y="1021.20" width="5.49" height="5.48" fill="#5f3f2c"/><rect x="326.79" y="1026.53" width="5.49" height="5.48" fill="#8d5c3d"/><rect x="326.79" y="1031.87" width="5.49" height="5.48" fill="#a46d48"/><rect x="326.79" y="1037.20" width="5.49" height="5.48" fill="#a46d48"/><rect x="326.79" y="1042.53" width="5.49" height="5.48" fill="#b98058"/><rect x="326.79" y="1047.87" width="5.49" height="5.48" fill="#8d5c3d"/><rect x="337.46" y="1021.20" width="5.49" height="5.48" fill="#b98058"/><rect x="337.46" y="1026.53" width="5.49" height="5.48" fill="#6f4932"/><rect x="337.46" y="1031.87" width="5.49" height="5.48" fill="#a46d48"/><rect x="337.46" y="1037.20" width="5.49" height="5.48" fill="#5f3f2c"/><rect x="337.46" y="1042.53" width="5.49" height="5.48" fill="#a46d48"/><rect x="337.46" y="1047.87" width="5.49" height="5.48" fill="#6f4932"/><rect x="257.4" y="1021.2" width="85.4" height="32.0" fill="none" stroke="#2a2a2a" stroke-width="1.1"/><rect x="257.4" y="1084.5" width="85.4" height="32.1" fill="#fff"/><rect x="257.40" y="1084.50" width="5.49" height="5.50" fill="#34507c"/><rect x="257.40" y="1089.85" width="5.49" height="5.50" fill="#27406a"/><rect x="257.40" y="1095.20" width="5.49" height="5.50" fill="#27406a"/><rect x="257.40" y="1100.55" width="5.49" height="5.50" fill="#6f9cd8"/><rect x="257.40" y="1105.90" width="5.49" height="5.50" fill="#3e5d8c"/><rect x="257.40" y="1111.25" width="5.49" height="5.50" fill="#3e5d8c"/><rect x="278.75" y="1084.50" width="5.49" height="5.50" fill="#6f9cd8"/><rect x="278.75" y="1089.85" width="5.49" height="5.50" fill="#27406a"/><rect x="278.75" y="1095.20" width="5.49" height="5.50" fill="#6f9cd8"/><rect x="278.75" y="1100.55" width="5.49" height="5.50" fill="#27406a"/><rect x="278.75" y="1105.90" width="5.49" height="5.50" fill="#27406a"/><rect x="278.75" y="1111.25" width="5.49" height="5.50" fill="#3e5d8c"/><rect x="289.42" y="1084.50" width="5.49" height="5.50" fill="#3e5d8c"/><rect x="289.42" y="1089.85" width="5.49" height="5.50" fill="#6f9cd8"/><rect x="289.42" y="1095.20" width="5.49" height="5.50" fill="#1f3556"/><rect x="289.42" y="1100.55" width="5.49" height="5.50" fill="#3e5d8c"/><rect x="289.42" y="1105.90" width="5.49" height="5.50" fill="#27406a"/><rect x="289.42" y="1111.25" width="5.49" height="5.50" fill="#34507c"/><rect x="294.76" y="1084.50" width="5.49" height="5.50" fill="#3e5d8c"/><rect x="294.76" y="1089.85" width="5.49" height="5.50" fill="#3e5d8c"/><rect x="294.76" y="1095.20" width="5.49" height="5.50" fill="#34507c"/><rect x="294.76" y="1100.55" width="5.49" height="5.50" fill="#6f9cd8"/><rect x="294.76" y="1105.90" width="5.49" height="5.50" fill="#1f3556"/><rect x="294.76" y="1111.25" width="5.49" height="5.50" fill="#27406a"/><rect x="305.44" y="1084.50" width="5.49" height="5.50" fill="#6f9cd8"/><rect x="305.44" y="1089.85" width="5.49" height="5.50" fill="#3e5d8c"/><rect x="305.44" y="1095.20" width="5.49" height="5.50" fill="#3e5d8c"/><rect x="305.44" y="1100.55" width="5.49" height="5.50" fill="#27406a"/><rect x="305.44" y="1105.90" width="5.49" height="5.50" fill="#27406a"/><rect x="305.44" y="1111.25" width="5.49" height="5.50" fill="#34507c"/><rect x="316.11" y="1084.50" width="5.49" height="5.50" fill="#34507c"/><rect x="316.11" y="1089.85" width="5.49" height="5.50" fill="#34507c"/><rect x="316.11" y="1095.20" width="5.49" height="5.50" fill="#3e5d8c"/><rect x="316.11" y="1100.55" width="5.49" height="5.50" fill="#3e5d8c"/><rect x="316.11" y="1105.90" width="5.49" height="5.50" fill="#3e5d8c"/><rect x="316.11" y="1111.25" width="5.49" height="5.50" fill="#3e5d8c"/><rect x="321.45" y="1084.50" width="5.49" height="5.50" fill="#6f9cd8"/><rect x="321.45" y="1089.85" width="5.49" height="5.50" fill="#3e5d8c"/><rect x="321.45" y="1095.20" width="5.49" height="5.50" fill="#3e5d8c"/><rect x="321.45" y="1100.55" width="5.49" height="5.50" fill="#6f9cd8"/><rect x="321.45" y="1105.90" width="5.49" height="5.50" fill="#6f9cd8"/><rect x="321.45" y="1111.25" width="5.49" height="5.50" fill="#3e5d8c"/><rect x="332.12" y="1084.50" width="5.49" height="5.50" fill="#27406a"/><rect x="332.12" y="1089.85" width="5.49" height="5.50" fill="#3e5d8c"/><rect x="332.12" y="1095.20" width="5.49" height="5.50" fill="#3e5d8c"/><rect x="332.12" y="1100.55" width="5.49" height="5.50" fill="#6f9cd8"/><rect x="332.12" y="1105.90" width="5.49" height="5.50" fill="#1f3556"/><rect x="332.12" y="1111.25" width="5.49" height="5.50" fill="#6f9cd8"/><rect x="257.4" y="1084.5" width="85.4" height="32.1" fill="none" stroke="#2a2a2a" stroke-width="1.1"/><rect x="618.3" y="1052.7" width="85.5" height="32" fill="url(#hatch)"/><rect x="618.30" y="1052.70" width="5.49" height="5.48" fill="#34507c"/><rect x="618.30" y="1058.03" width="5.49" height="5.48" fill="#27406a"/><rect x="618.30" y="1063.37" width="5.49" height="5.48" fill="#27406a"/><rect x="618.30" y="1068.70" width="5.49" height="5.48" fill="#6f9cd8"/><rect x="618.30" y="1074.03" width="5.49" height="5.48" fill="#3e5d8c"/><rect x="618.30" y="1079.37" width="5.49" height="5.48" fill="#3e5d8c"/><rect x="639.67" y="1052.70" width="5.49" height="5.48" fill="#6f9cd8"/><rect x="639.67" y="1058.03" width="5.49" height="5.48" fill="#27406a"/><rect x="639.67" y="1063.37" width="5.49" height="5.48" fill="#6f9cd8"/><rect x="639.67" y="1068.70" width="5.49" height="5.48" fill="#27406a"/><rect x="639.67" y="1074.03" width="5.49" height="5.48" fill="#27406a"/><rect x="639.67" y="1079.37" width="5.49" height="5.48" fill="#3e5d8c"/><rect x="650.36" y="1052.70" width="5.49" height="5.48" fill="#3e5d8c"/><rect x="650.36" y="1058.03" width="5.49" height="5.48" fill="#6f9cd8"/><rect x="650.36" y="1063.37" width="5.49" height="5.48" fill="#1f3556"/><rect x="650.36" y="1068.70" width="5.49" height="5.48" fill="#3e5d8c"/><rect x="650.36" y="1074.03" width="5.49" height="5.48" fill="#27406a"/><rect x="650.36" y="1079.37" width="5.49" height="5.48" fill="#34507c"/><rect x="655.71" y="1052.70" width="5.49" height="5.48" fill="#3e5d8c"/><rect x="655.71" y="1058.03" width="5.49" height="5.48" fill="#3e5d8c"/><rect x="655.71" y="1063.37" width="5.49" height="5.48" fill="#34507c"/><rect x="655.71" y="1068.70" width="5.49" height="5.48" fill="#6f9cd8"/><rect x="655.71" y="1074.03" width="5.49" height="5.48" fill="#1f3556"/><rect x="655.71" y="1079.37" width="5.49" height="5.48" fill="#27406a"/><rect x="666.39" y="1052.70" width="5.49" height="5.48" fill="#6f9cd8"/><rect x="666.39" y="1058.03" width="5.49" height="5.48" fill="#3e5d8c"/><rect x="666.39" y="1063.37" width="5.49" height="5.48" fill="#3e5d8c"/><rect x="666.39" y="1068.70" width="5.49" height="5.48" fill="#27406a"/><rect x="666.39" y="1074.03" width="5.49" height="5.48" fill="#27406a"/><rect x="666.39" y="1079.37" width="5.49" height="5.48" fill="#34507c"/><rect x="677.08" y="1052.70" width="5.49" height="5.48" fill="#34507c"/><rect x="677.08" y="1058.03" width="5.49" height="5.48" fill="#34507c"/><rect x="677.08" y="1063.37" width="5.49" height="5.48" fill="#3e5d8c"/><rect x="677.08" y="1068.70" width="5.49" height="5.48" fill="#3e5d8c"/><rect x="677.08" y="1074.03" width="5.49" height="5.48" fill="#3e5d8c"/><rect x="677.08" y="1079.37" width="5.49" height="5.48" fill="#3e5d8c"/><rect x="682.42" y="1052.70" width="5.49" height="5.48" fill="#6f9cd8"/><rect x="682.42" y="1058.03" width="5.49" height="5.48" fill="#3e5d8c"/><rect x="682.42" y="1063.37" width="5.49" height="5.48" fill="#3e5d8c"/><rect x="682.42" y="1068.70" width="5.49" height="5.48" fill="#6f9cd8"/><rect x="682.42" y="1074.03" width="5.49" height="5.48" fill="#6f9cd8"/><rect x="682.42" y="1079.37" width="5.49" height="5.48" fill="#3e5d8c"/><rect x="693.11" y="1052.70" width="5.49" height="5.48" fill="#27406a"/><rect x="693.11" y="1058.03" width="5.49" height="5.48" fill="#3e5d8c"/><rect x="693.11" y="1063.37" width="5.49" height="5.48" fill="#3e5d8c"/><rect x="693.11" y="1068.70" width="5.49" height="5.48" fill="#6f9cd8"/><rect x="693.11" y="1074.03" width="5.49" height="5.48" fill="#1f3556"/><rect x="693.11" y="1079.37" width="5.49" height="5.48" fill="#6f9cd8"/><rect x="618.3" y="1052.7" width="85.5" height="32.0" fill="none" stroke="#2a2a2a" stroke-width="1.1"/><rect x="437.4" y="1020.9" width="85.8" height="31.9" fill="url(#hatch)" stroke="#2a2a2a" stroke-width="1.1"/><rect x="457.5" y="1027.5" width="46.5" height="19" rx="9.5" fill="#fff"/><text x="464.0" y="1040.5" font-size="13.5" font-family="Liberation Serif, serif" fill="#444"><tspan font-family="DejaVu Math TeX Gyre, DejaVu Serif, serif" font-style="italic">𝒩</tspan><tspan font-size="8" dy="2.6" font-style="italic">μ,σ²</tspan></text><rect x="363.9" y="1021.2" width="52.9" height="31.8" rx="13.5" fill="#fff" stroke="#e0592a" stroke-width="1"/><text x="390.4" y="1042.3" font-size="19" font-family="Liberation Serif, serif" fill="#333" text-anchor="middle"><tspan font-style="italic">μ, σ</tspan><tspan font-size="12" dy="-7.5">2</tspan></text><path d="M215.6,983.9 L544.5,983.9 Q551.7,983.9 551.7,991.5 L551.7,1022 M219,983.9 Q228.1,983.9 228.1,992 L228.1,1022 M181,1050.2 L181,1043 Q181,1036.7 187.5,1036.7 L213,1036.7 M236.7,1036.7 L250.5,1036.7 M344.9,1036.7 L356.5,1036.7 M419.2,1036.7 L430.5,1036.7 M526.2,1036.7 L537,1036.7 M560,1036.7 L584,1036.7 Q591.3,1036.7 591.3,1044 L591.3,1054" stroke="#e0592a" stroke-width="1" fill="none"/><path d="M0,0 L-6.1,-2.6 L-6.1,2.6 Z" fill="#e0592a" transform="translate(551.7,1026.2) rotate(90)"/><path d="M0,0 L-6.1,-2.6 L-6.1,2.6 Z" fill="#e0592a" transform="translate(228.1,1026.2) rotate(90)"/><path d="M0,0 L-6.1,-2.6 L-6.1,2.6 Z" fill="#e0592a" transform="translate(217.6,1036.7) rotate(0)"/><path d="M0,0 L-6.1,-2.6 L-6.1,2.6 Z" fill="#e0592a" transform="translate(254.6,1036.7) rotate(0)"/><path d="M0,0 L-6.1,-2.6 L-6.1,2.6 Z" fill="#e0592a" transform="translate(360.6,1036.7) rotate(0)"/><path d="M0,0 L-6.1,-2.6 L-6.1,2.6 Z" fill="#e0592a" transform="translate(434.6,1036.7) rotate(0)"/><path d="M0,0 L-6.1,-2.6 L-6.1,2.6 Z" fill="#e0592a" transform="translate(541.0,1036.7) rotate(0)"/><path d="M0,0 L-6.1,-2.6 L-6.1,2.6 Z" fill="#e0592a" transform="translate(591.3,1058.4) rotate(90)"/><circle cx="228.1" cy="1036.7" r="8.1" fill="#fff" stroke="#e0592a" stroke-width="1"/><circle cx="228.1" cy="1036.7" r="2.5" fill="#e0592a"/><circle cx="551.7" cy="1036.7" r="8.1" fill="#fff" stroke="#e0592a" stroke-width="1"/><circle cx="551.7" cy="1036.7" r="2.5" fill="#e0592a"/><path d="M181,1087.6 L181,1093.5 Q181,1100.3 187.5,1100.3 L213,1100.3 M236.7,1100.3 L250.5,1100.3 M344.9,1100.3 L584,1100.3 Q591.3,1100.3 591.3,1093 L591.3,1083.5 M215.6,1124.2 L221,1124.2 Q228.1,1124.2 228.1,1117 L228.1,1115" stroke="#2f6fbe" stroke-width="1" fill="none"/><path d="M0,0 L-6.1,-2.6 L-6.1,2.6 Z" fill="#2f6fbe" transform="translate(217.6,1100.3) rotate(0)"/><path d="M0,0 L-6.1,-2.6 L-6.1,2.6 Z" fill="#2f6fbe" transform="translate(254.6,1100.3) rotate(0)"/><path d="M0,0 L-6.1,-2.6 L-6.1,2.6 Z" fill="#2f6fbe" transform="translate(591.3,1079.2) rotate(-90)"/><path d="M0,0 L-6.1,-2.6 L-6.1,2.6 Z" fill="#2f6fbe" transform="translate(228.1,1110.8) rotate(-90)"/><circle cx="228.1" cy="1100.3" r="8.1" fill="#fff" stroke="#2f6fbe" stroke-width="1"/><circle cx="228.1" cy="1100.3" r="2.5" fill="#2f6fbe"/><circle cx="591.3" cy="1068.8" r="8.1" fill="#fff" stroke="#222" stroke-width="0.9"/><path d="M583.2,1068.8 L599.4,1068.8 M591.3,1060.7 L591.3,1076.9" stroke="#222" stroke-width="0.9"/><path d="M599.4,1068.8 L611,1068.8" stroke="#222" stroke-width="1"/><path d="M0,0 L-6.1,-2.6 L-6.1,2.6 Z" fill="#222" transform="translate(615.6,1068.8) rotate(0)"/><text x="455.8" y="1076.3" font-size="12.8" font-family="Liberation Serif, serif" fill="#222" text-anchor="middle" textLength="118.0" lengthAdjust="spacingAndGlyphs">Partial re-initialization</text><text x="455.8" y="1114.6" font-size="12.8" font-family="Liberation Serif, serif" fill="#222" text-anchor="middle" textLength="59.5" lengthAdjust="spacingAndGlyphs">Maintained</text>
</g>
<g id="part_charts">
<path d="M873.2,378.3 L873.2,579.2" stroke="#f3f3f3" stroke-width="0.8"/><path d="M914.3,378.3 L914.3,579.2" stroke="#f3f3f3" stroke-width="0.8"/><path d="M955.4,378.3 L955.4,579.2" stroke="#f3f3f3" stroke-width="0.8"/><path d="M996.6,378.3 L996.6,579.2" stroke="#f3f3f3" stroke-width="0.8"/><path d="M1037.7,378.3 L1037.7,579.2" stroke="#f3f3f3" stroke-width="0.8"/><path d="M1078.8,378.3 L1078.8,579.2" stroke="#f3f3f3" stroke-width="0.8"/><path d="M862.9,378.3 L1089.1,378.3" stroke="#f3f3f3" stroke-width="0.8"/><path d="M862.9,428.5 L1089.1,428.5" stroke="#f3f3f3" stroke-width="0.8"/><path d="M862.9,478.8 L1089.1,478.8" stroke="#f3f3f3" stroke-width="0.8"/><path d="M862.9,529.0 L1089.1,529.0" stroke="#f3f3f3" stroke-width="0.8"/><path d="M862.9,579.2 L1089.1,579.2" stroke="#f3f3f3" stroke-width="0.8"/><path d="M862.9,378.3 L862.9,579.2 L1089.1,579.2" stroke="#d9d9d9" stroke-width="1" fill="none"/><text x="873.2" y="590.8" font-size="11.5" fill="#3c3c3c" text-anchor="middle">0</text><text x="914.3" y="590.8" font-size="11.5" fill="#3c3c3c" text-anchor="middle">100</text><text x="955.4" y="590.8" font-size="11.5" fill="#3c3c3c" text-anchor="middle">200</text><text x="996.6" y="590.8" font-size="11.5" fill="#3c3c3c" text-anchor="middle">300</text><text x="1037.7" y="590.8" font-size="11.5" fill="#3c3c3c" text-anchor="middle">400</text><text x="1078.8" y="590.8" font-size="11.5" fill="#3c3c3c" text-anchor="middle">500</text><text x="858.3" y="382.4" font-size="11.5" fill="#3c3c3c" text-anchor="end">2.87</text><text x="858.3" y="432.7" font-size="11.5" fill="#3c3c3c" text-anchor="end">2.80</text><text x="858.3" y="482.9" font-size="11.5" fill="#3c3c3c" text-anchor="end">2.73</text><text x="858.3" y="533.1" font-size="11.5" fill="#3c3c3c" text-anchor="end">2.66</text><text x="858.3" y="583.3" font-size="11.5" fill="#3c3c3c" text-anchor="end">2.59</text><text x="976.0" y="360.7" font-size="13.4" font-weight="bold" fill="#333" text-anchor="middle">8×152M Training Loss</text><text x="976.0" y="375.4" font-size="13.4" font-weight="bold" fill="#333" text-anchor="middle">(Lower is better)</text><text x="976.0" y="603.5" font-size="12.75" fill="#3c3c3c" text-anchor="middle">Processed Tokens (Billions)</text><text x="831.4" y="478.8" font-size="12.75" fill="#3c3c3c" text-anchor="middle" transform="rotate(-90 831.4 478.8)">Cross Entropy</text>
<clipPath id="cp1"><rect x="862.9" y="377.8" width="226.2" height="201.9"/></clipPath>
<polyline points="889.6,334.6 889.7,335.1 889.7,336.8 889.8,336.6 889.8,337.1 889.9,338.7 890.0,339.3 890.1,340.5 890.2,341.8 890.3,343.2 890.5,344.3 890.6,345.4 890.8,348.1 890.9,348.6 891.1,350.7 891.2,352.3 891.4,354.9 891.6,356.0 891.8,357.1 891.9,360.2 892.1,362.5 892.3,364.2 892.6,365.0 892.8,365.6 893.0,368.1 893.2,369.5 893.4,372.0 893.7,372.9 893.9,375.4 894.2,376.4 894.4,378.3 894.7,379.7 894.9,380.7 895.2,382.3 895.5,382.6 895.8,384.4 896.0,385.5 896.3,387.1 896.6,387.4 896.9,389.6 897.2,390.0 897.5,391.6 897.8,392.9 898.1,393.7 898.5,394.9 898.8,395.6 899.1,396.7 899.4,397.3 899.8,398.2 900.1,399.5 900.5,400.4 900.8,401.2 901.2,402.5 901.5,402.8 901.9,403.7 902.2,405.0 902.6,404.8 903.0,406.6 903.4,408.1 903.7,409.3 904.1,410.2 904.5,411.4 904.9,411.6 905.3,413.6 905.7,414.3 906.1,415.6 906.5,415.8 906.9,418.1 907.3,418.6 907.8,419.5 908.2,420.3 908.6,421.3 909.0,422.6 909.5,423.0 909.9,424.3 910.3,424.2 910.8,427.2 911.2,427.0 911.7,428.8 912.1,429.6 912.6,429.1 913.1,430.1 913.5,432.9 914.0,432.9 914.5,433.6 914.9,435.5 915.4,435.2 915.9,435.8 916.4,436.7 916.9,438.6 917.4,437.8 917.8,439.0 918.3,439.9 918.8,441.0 919.3,441.0 919.9,441.6 920.4,443.0 920.9,443.5 921.4,443.8 921.9,445.9 922.4,445.5 923.0,447.3 923.5,447.5 924.0,447.4 924.6,448.4 925.1,449.2 925.6,449.8 926.2,449.9 926.7,450.6 927.3,452.0 927.8,452.1 928.4,453.2 929.0,452.3 929.5,454.6 930.1,455.0 930.7,455.7 931.2,456.4 931.8,456.7 932.4,457.3 933.0,458.9 933.5,459.0 934.1,460.0 934.7,459.3 935.3,459.3 935.9,460.6 936.5,461.7 937.1,462.0 937.7,463.1 938.3,462.9 938.9,464.1 939.5,465.2 940.2,466.3 940.8,466.6 941.4,466.8 942.0,468.2 942.6,468.3 943.3,468.1 943.9,469.3 944.5,468.9 945.2,469.8 945.8,471.3 946.5,472.5 947.1,472.4 947.8,473.2 948.4,473.3 949.1,473.2 949.7,475.2 950.4,475.4 951.0,475.6 951.7,475.8 952.4,476.6 953.0,477.3 953.7,477.3 954.4,478.3 955.1,479.2 955.8,479.6 956.4,480.5 957.1,480.4 957.8,480.7 958.5,483.3 959.2,481.6 959.9,482.8 960.6,483.1 961.3,483.5 962.0,485.5 962.7,485.4 963.4,485.5 964.1,486.2 964.9,486.1 965.6,487.0 966.3,488.1 967.0,487.4 967.7,487.6 968.5,488.4 969.2,489.5 969.9,489.8 970.7,489.8 971.4,490.3 972.1,490.5 972.9,491.7 973.6,492.7 974.4,492.8 975.1,492.6 975.9,493.0 976.6,492.7 977.4,494.2 978.2,494.6 978.9,495.3 979.7,495.9 980.4,495.7 981.2,496.3 982.0,497.1 982.8,497.9 983.5,497.9 984.3,498.4 985.1,498.0 985.9,498.6 986.7,500.0 987.5,499.3 988.3,500.7 989.0,500.7 989.8,500.6 990.6,502.2 991.4,502.0 992.2,503.1 993.1,504.0 993.9,502.9 994.7,503.9 995.5,504.8 996.3,505.7 997.1,505.6 997.9,505.1 998.8,506.1 999.6,507.0 1000.4,507.7 1001.2,507.8 1002.1,509.2 1002.9,508.3 1003.7,509.2 1004.6,509.4 1005.4,510.9 1006.3,510.7 1007.1,511.3 1008.0,513.0 1008.8,512.7 1009.7,513.1 1010.5,514.1 1011.4,514.6 1012.2,514.7 1013.1,515.5 1014.0,516.5 1014.8,516.2 1015.7,516.9 1016.6,517.3 1017.4,517.9 1018.3,518.2 1019.2,519.1 1020.1,519.9 1020.9,520.3 1021.8,519.8 1022.7,521.9 1023.6,521.1 1024.5,522.6 1025.4,523.1 1026.3,523.3 1027.2,523.4 1028.1,523.3 1029.0,525.0 1029.9,523.7 1030.8,524.4 1031.7,525.5 1032.6,526.0 1033.5,526.8 1034.4,526.4 1035.4,527.1 1036.3,526.7 1037.2,528.2 1038.1,527.9 1039.0,528.6 1040.0,529.3 1040.9,528.2 1041.8,529.4 1042.8,529.5 1043.7,530.7 1044.6,530.9 1045.6,530.7 1046.5,531.4 1047.5,531.0 1048.4,531.4 1049.4,532.3 1050.3,532.1 1051.3,532.5 1052.2,532.8 1053.2,533.6 1054.1,533.7 1055.1,533.4 1056.1,533.3 1057.0,534.6 1058.0,533.7 1059.0,534.5 1059.9,535.6 1060.9,535.0 1061.9,535.0 1062.9,535.5 1063.8,534.7 1064.8,536.0 1065.8,536.0 1066.8,536.7 1067.8,536.4 1068.8,538.4 1069.8,537.9 1070.8,537.9 1071.8,537.6 1072.8,538.0 1073.8,537.8 1074.8,538.4 1075.8,538.7 1076.8,539.1 1077.8,539.2 1078.8,539.1" fill="none" stroke="#1f77b4" stroke-width="1.75" stroke-linejoin="round" clip-path="url(#cp1)"/>
<polyline points="874.0,320.0 874.0,322.7 874.1,326.0 874.2,331.5 874.2,335.3 874.3,341.1 874.4,347.3 874.5,353.0 874.6,358.9 874.8,365.4 874.9,370.5 875.1,374.6 875.2,377.3 875.4,379.7 875.6,382.9 875.7,384.7 875.9,385.4 876.1,386.6 876.3,388.8 876.5,390.5 876.7,390.7 876.9,392.6 877.2,393.2 877.4,393.9 877.6,395.5 877.9,397.0 878.1,398.0 878.4,400.1 878.7,401.2 878.9,402.8 879.2,404.0 879.5,405.5 879.8,406.6 880.0,408.1 880.3,409.1 880.6,410.4 880.9,411.6 881.3,412.2 881.6,415.0 881.9,414.7 882.2,416.7 882.5,418.3 882.9,418.9 883.2,419.8 883.6,420.3 883.9,422.5 884.3,422.8 884.6,423.8 885.0,425.7 885.4,426.4 885.7,426.4 886.1,427.3 886.5,428.0 886.9,429.1 887.3,430.1 887.7,431.1 888.1,431.4 888.5,433.3 888.9,433.7 889.3,434.2 889.7,436.1 890.1,435.4 890.5,437.2 891.0,437.6 891.4,437.2 891.8,439.6 892.3,440.1 892.7,439.8 893.2,441.9 893.6,442.3 894.1,442.5 894.5,443.3 895.0,443.9 895.5,444.8 895.9,444.9 896.4,445.8 896.9,446.7 897.4,448.1 897.9,448.7 898.4,450.0 898.9,449.3 899.4,451.3 899.9,450.5 900.4,450.7 900.9,452.8 901.4,453.2 901.9,453.8 902.4,453.7 903.0,455.2 903.5,455.4 904.0,456.2 904.5,456.7 905.1,456.5 905.6,458.3 906.2,458.3 906.7,458.8 907.3,459.1 907.8,460.8 908.4,460.1 909.0,461.0 909.5,461.4 910.1,462.4 910.7,463.9 911.2,463.9 911.8,463.7 912.4,464.7 913.0,465.3 913.6,464.9 914.2,465.3 914.8,467.0 915.4,466.5 916.0,469.1 916.6,469.7 917.2,468.8 917.8,469.9 918.4,470.0 919.0,470.6 919.7,471.4 920.3,471.6 920.9,472.4 921.5,473.8 922.2,473.4 922.8,474.0 923.5,473.6 924.1,475.7 924.8,475.6 925.4,476.4 926.1,476.7 926.7,476.3 927.4,477.5 928.0,478.4 928.7,478.6 929.4,478.8 930.0,480.2 930.7,480.3 931.4,479.9 932.1,480.8 932.8,481.7 933.5,482.4 934.1,482.8 934.8,484.0 935.5,483.2 936.2,484.0 936.9,484.5 937.6,485.8 938.4,485.9 939.1,485.8 939.8,486.4 940.5,487.2 941.2,487.2 941.9,487.4 942.7,488.7 943.4,489.1 944.1,489.7 944.9,490.4 945.6,489.8 946.3,490.4 947.1,490.9 947.8,492.2 948.6,492.6 949.3,492.5 950.1,493.1 950.8,493.3 951.6,494.2 952.4,493.9 953.1,493.8 953.9,494.3 954.7,494.8 955.4,496.0 956.2,496.0 957.0,497.1 957.8,496.9 958.6,498.0 959.3,498.5 960.1,499.0 960.9,498.7 961.7,499.4 962.5,499.9 963.3,501.0 964.1,500.8 964.9,502.0 965.7,500.9 966.6,502.2 967.4,502.5 968.2,503.0 969.0,504.3 969.8,504.6 970.7,504.3 971.5,503.9 972.3,505.7 973.2,506.0 974.0,506.1 974.8,507.4 975.7,507.8 976.5,507.6 977.4,507.8 978.2,508.5 979.1,507.9 979.9,509.2 980.8,509.4 981.6,509.2 982.5,509.6 983.4,511.8 984.2,511.6 985.1,511.3 986.0,513.0 986.8,513.3 987.7,513.9 988.6,514.4 989.5,514.7 990.4,514.5 991.3,514.4 992.1,514.7 993.0,516.0 993.9,517.5 994.8,516.9 995.7,517.5 996.6,517.6 997.5,518.3 998.5,519.7 999.4,519.0 1000.3,520.7 1001.2,520.5 1002.1,520.4 1003.0,520.9 1003.9,520.7 1004.9,523.2 1005.8,522.2 1006.7,522.5 1007.7,523.5 1008.6,523.5 1009.5,524.9 1010.5,524.4 1011.4,524.9 1012.4,526.2 1013.3,526.5 1014.3,526.7 1015.2,527.4 1016.2,527.0 1017.1,528.0 1018.1,527.8 1019.0,528.4 1020.0,529.5 1021.0,530.1 1021.9,531.0 1022.9,531.4 1023.9,531.9 1024.9,531.8 1025.8,533.0 1026.8,533.0 1027.8,533.4 1028.8,534.3 1029.8,534.6 1030.8,534.3 1031.8,534.7 1032.8,536.4 1033.8,536.6 1034.8,537.1 1035.8,537.5 1036.8,537.0 1037.8,537.9 1038.8,538.0 1039.8,538.2 1040.8,539.8 1041.8,540.1 1042.8,540.4 1043.9,540.3 1044.9,541.3 1045.9,541.4 1046.9,541.5 1048.0,541.9 1049.0,542.7 1050.0,543.7 1051.1,544.5 1052.1,543.5 1053.1,544.2 1054.2,545.2 1055.2,545.3 1056.3,545.6 1057.3,546.5 1058.4,545.8 1059.4,546.6 1060.5,546.6 1061.6,546.3 1062.6,547.0 1063.7,546.9 1064.7,547.2 1065.8,547.7 1066.9,547.9 1068.0,547.1 1069.0,548.4 1070.1,547.7 1071.2,549.2 1072.3,548.5 1073.3,549.0 1074.4,549.6 1075.5,550.8 1076.6,548.7 1077.7,550.3 1078.8,550.3" fill="none" stroke="#ff7f0e" stroke-width="1.75" stroke-linejoin="round" clip-path="url(#cp1)"/>
<polyline points="879.0,313.5 879.0,315.0 879.0,316.4 879.1,319.9 879.2,321.7 879.2,326.5 879.3,329.6 879.4,333.9 879.6,338.8 879.7,341.6 879.8,348.3 880.0,352.6 880.1,357.1 880.3,363.1 880.4,366.2 880.6,371.2 880.8,374.3 881.0,378.5 881.2,381.2 881.4,382.7 881.6,385.5 881.8,388.1 882.0,390.1 882.3,392.2 882.5,395.1 882.7,397.6 883.0,399.2 883.2,401.0 883.5,402.9 883.7,403.7 884.0,405.3 884.3,406.7 884.6,408.2 884.8,410.1 885.1,411.8 885.4,413.4 885.7,415.8 886.0,417.5 886.3,419.1 886.6,421.3 887.0,423.2 887.3,424.9 887.6,426.1 887.9,428.5 888.3,430.7 888.6,432.7 889.0,434.4 889.3,435.0 889.7,439.6 890.0,439.4 890.4,441.3 890.8,442.6 891.1,445.3 891.5,445.1 891.9,447.2 892.3,449.2 892.7,450.4 893.1,452.1 893.4,452.9 893.8,454.1 894.3,454.6 894.7,455.9 895.1,457.1 895.5,457.7 895.9,458.7 896.3,459.8 896.8,461.6 897.2,461.2 897.6,463.2 898.1,463.9 898.5,464.3 899.0,464.8 899.4,465.1 899.9,467.5 900.4,466.6 900.8,467.2 901.3,469.1 901.8,469.6 902.2,470.5 902.7,471.2 903.2,472.3 903.7,473.1 904.2,473.0 904.7,473.4 905.2,473.2 905.7,475.3 906.2,476.5 906.7,476.0 907.2,476.9 907.7,477.1 908.2,478.1 908.7,479.1 909.3,479.4 909.8,479.2 910.3,480.1 910.9,481.3 911.4,480.9 912.0,482.7 912.5,482.8 913.0,483.0 913.6,484.4 914.2,484.9 914.7,484.9 915.3,485.5 915.8,486.2 916.4,487.0 917.0,487.8 917.6,488.2 918.1,486.8 918.7,489.2 919.3,488.7 919.9,490.3 920.5,489.8 921.1,490.4 921.7,491.4 922.3,492.5 922.9,493.4 923.5,492.7 924.1,494.3 924.7,494.8 925.3,493.9 926.0,494.4 926.6,495.7 927.2,496.3 927.8,497.0 928.5,497.0 929.1,497.9 929.7,498.9 930.4,499.0 931.0,498.9 931.7,500.4 932.3,500.5 933.0,500.4 933.6,500.1 934.3,501.3 935.0,501.9 935.6,501.3 936.3,503.3 937.0,503.6 937.6,503.3 938.3,503.6 939.0,504.4 939.7,506.5 940.4,505.2 941.0,505.7 941.7,506.4 942.4,506.6 943.1,506.6 943.8,507.8 944.5,508.8 945.2,509.7 945.9,509.2 946.7,510.0 947.4,510.4 948.1,511.2 948.8,510.9 949.5,511.1 950.3,511.8 951.0,513.0 951.7,512.5 952.4,513.2 953.2,515.2 953.9,514.0 954.7,515.9 955.4,515.9 956.2,515.3 956.9,515.9 957.7,517.1 958.4,517.7 959.2,517.6 959.9,519.2 960.7,518.5 961.5,519.3 962.2,519.3 963.0,520.2 963.8,521.2 964.5,521.0 965.3,521.8 966.1,522.8 966.9,523.2 967.7,523.6 968.5,523.5 969.3,523.6 970.1,524.5 970.9,525.6 971.7,525.6 972.5,525.6 973.3,525.8 974.1,527.4 974.9,527.2 975.7,528.0 976.5,529.4 977.3,529.5 978.2,529.6 979.0,530.0 979.8,530.4 980.6,531.0 981.5,531.0 982.3,532.2 983.1,533.0 984.0,532.3 984.8,533.4 985.7,533.1 986.5,534.5 987.4,533.8 988.2,535.6 989.1,536.1 989.9,535.6 990.8,535.5 991.6,537.3 992.5,536.5 993.4,537.0 994.2,537.9 995.1,538.9 996.0,540.4 996.9,540.5 997.7,540.6 998.6,540.4 999.5,541.2 1000.4,541.9 1001.3,542.0 1002.2,543.4 1003.1,542.8 1004.0,544.0 1004.9,543.3 1005.8,544.4 1006.7,545.4 1007.6,545.7 1008.5,546.8 1009.4,546.4 1010.3,547.5 1011.2,547.5 1012.1,547.3 1013.0,548.2 1014.0,548.6 1014.9,548.0 1015.8,549.5 1016.7,549.7 1017.7,550.9 1018.6,551.9 1019.5,551.6 1020.5,552.8 1021.4,554.3 1022.4,552.8 1023.3,553.4 1024.3,554.6 1025.2,553.8 1026.2,555.0 1027.1,555.7 1028.1,556.4 1029.0,555.7 1030.0,557.0 1031.0,557.4 1031.9,557.8 1032.9,558.4 1033.9,559.3 1034.8,559.2 1035.8,559.7 1036.8,559.3 1037.8,560.7 1038.8,560.0 1039.7,561.0 1040.7,561.6 1041.7,561.6 1042.7,561.9 1043.7,562.2 1044.7,562.3 1045.7,562.9 1046.7,564.2 1047.7,564.1 1048.7,563.2 1049.7,564.5 1050.7,566.0 1051.7,565.0 1052.7,564.5 1053.8,565.1 1054.8,566.0 1055.8,566.2 1056.8,566.3 1057.8,567.0 1058.9,567.4 1059.9,566.6 1060.9,567.9 1062.0,567.4 1063.0,569.1 1064.0,568.9 1065.1,569.3 1066.1,568.8 1067.2,569.6 1068.2,569.8 1069.3,570.2 1070.3,569.8 1071.4,569.6 1072.4,570.7 1073.5,570.2 1074.5,570.8 1075.6,571.3 1076.7,571.0 1077.7,570.6 1078.8,572.9" fill="none" stroke="#98df8a" stroke-width="1.75" stroke-linejoin="round" clip-path="url(#cp1)"/>
<polyline points="875.3,314.1 875.3,314.5 875.3,317.4 875.4,320.4 875.5,323.9 875.5,328.8 875.6,333.4 875.8,339.0 875.9,344.3 876.0,351.3 876.1,356.8 876.3,362.6 876.4,366.8 876.6,371.9 876.8,375.4 877.0,379.0 877.1,382.1 877.3,383.9 877.5,387.5 877.7,390.5 877.9,393.6 878.2,394.9 878.4,397.4 878.6,400.7 878.9,402.4 879.1,404.2 879.3,407.2 879.6,408.4 879.9,409.3 880.1,412.6 880.4,413.2 880.7,414.1 881.0,417.0 881.2,418.5 881.5,419.6 881.8,421.0 882.1,422.6 882.4,425.1 882.8,426.2 883.1,427.3 883.4,429.0 883.7,429.8 884.1,432.2 884.4,433.7 884.7,434.1 885.1,436.6 885.4,438.6 885.8,439.6 886.2,441.2 886.5,442.1 886.9,443.6 887.3,445.4 887.6,446.8 888.0,448.2 888.4,448.5 888.8,449.5 889.2,451.8 889.6,452.7 890.0,453.9 890.4,455.5 890.8,456.6 891.3,457.7 891.7,459.4 892.1,459.8 892.5,460.1 893.0,460.8 893.4,462.2 893.8,463.1 894.3,463.3 894.7,463.4 895.2,465.7 895.7,466.3 896.1,466.8 896.6,467.0 897.1,468.3 897.5,468.3 898.0,469.5 898.5,469.5 899.0,470.5 899.5,471.1 899.9,471.1 900.4,472.7 900.9,473.0 901.4,472.7 902.0,473.2 902.5,474.0 903.0,475.8 903.5,474.8 904.0,475.5 904.5,476.3 905.1,477.6 905.6,476.6 906.1,476.6 906.7,477.8 907.2,477.8 907.8,479.3 908.3,479.3 908.9,480.2 909.4,480.9 910.0,481.0 910.5,481.8 911.1,482.2 911.7,482.6 912.2,482.9 912.8,483.4 913.4,483.6 914.0,484.9 914.6,484.5 915.2,486.2 915.8,485.7 916.4,486.2 917.0,487.9 917.6,487.4 918.2,487.1 918.8,488.0 919.4,488.9 920.0,489.5 920.6,489.5 921.2,490.1 921.9,490.2 922.5,491.0 923.1,491.1 923.8,491.8 924.4,492.9 925.0,493.5 925.7,493.7 926.3,493.7 927.0,494.8 927.6,494.4 928.3,496.1 928.9,495.9 929.6,496.7 930.3,496.5 930.9,497.1 931.6,497.7 932.3,498.7 933.0,499.0 933.6,499.3 934.3,498.9 935.0,500.2 935.7,500.1 936.4,500.3 937.1,501.7 937.8,502.0 938.5,503.3 939.2,502.8 939.9,502.7 940.6,504.0 941.3,503.8 942.0,504.0 942.8,504.7 943.5,505.6 944.2,505.7 944.9,506.6 945.7,506.9 946.4,505.9 947.1,507.9 947.9,508.4 948.6,508.4 949.4,508.8 950.1,509.0 950.9,510.3 951.6,510.9 952.4,511.3 953.1,510.9 953.9,511.2 954.6,512.6 955.4,512.9 956.2,513.1 957.0,514.1 957.7,514.3 958.5,514.0 959.3,515.6 960.1,515.3 960.9,515.3 961.6,517.0 962.4,516.3 963.2,517.3 964.0,518.1 964.8,517.8 965.6,518.7 966.4,519.4 967.2,520.0 968.0,520.6 968.9,520.9 969.7,521.2 970.5,521.2 971.3,522.2 972.1,522.4 973.0,523.2 973.8,523.2 974.6,524.0 975.5,523.8 976.3,524.8 977.1,526.2 978.0,525.9 978.8,526.5 979.7,526.3 980.5,527.2 981.4,527.3 982.2,527.8 983.1,529.0 983.9,529.3 984.8,529.6 985.7,530.6 986.5,528.7 987.4,530.7 988.3,532.1 989.1,532.6 990.0,532.3 990.9,533.0 991.8,534.1 992.7,534.6 993.6,534.2 994.4,534.9 995.3,534.9 996.2,535.6 997.1,535.4 998.0,537.4 998.9,536.6 999.8,537.8 1000.7,538.3 1001.7,537.8 1002.6,539.8 1003.5,539.3 1004.4,539.9 1005.3,539.5 1006.2,541.4 1007.2,540.9 1008.1,541.3 1009.0,542.0 1010.0,542.4 1010.9,543.0 1011.8,544.1 1012.8,544.1 1013.7,545.3 1014.6,544.3 1015.6,544.7 1016.5,546.4 1017.5,545.5 1018.4,546.7 1019.4,547.8 1020.4,547.8 1021.3,547.6 1022.3,548.4 1023.3,549.3 1024.2,548.9 1025.2,549.8 1026.2,550.4 1027.1,551.2 1028.1,550.7 1029.1,550.9 1030.1,552.3 1031.1,552.4 1032.0,552.8 1033.0,552.9 1034.0,554.0 1035.0,552.8 1036.0,554.1 1037.0,554.2 1038.0,555.2 1039.0,554.3 1040.0,555.6 1041.0,557.1 1042.0,556.0 1043.1,557.0 1044.1,557.9 1045.1,557.7 1046.1,558.5 1047.1,558.1 1048.1,558.5 1049.2,559.9 1050.2,559.2 1051.2,559.3 1052.3,561.5 1053.3,559.9 1054.3,560.5 1055.4,560.7 1056.4,560.7 1057.5,561.8 1058.5,562.5 1059.6,562.1 1060.6,562.7 1061.7,562.6 1062.7,564.3 1063.8,563.6 1064.8,562.3 1065.9,563.7 1067.0,563.6 1068.0,564.2 1069.1,564.8 1070.2,564.4 1071.2,564.7 1072.3,565.5 1073.4,565.6 1074.5,565.3 1075.5,566.3 1076.6,566.5 1077.7,565.6 1078.8,565.8" fill="none" stroke="#9467bd" stroke-width="1.75" stroke-linejoin="round" clip-path="url(#cp1)"/>
<polyline points="873.4,312.9 873.4,316.0 873.5,320.6 873.5,326.9 873.6,335.0 873.7,341.6 873.8,350.4 873.9,357.1 874.0,364.6 874.2,369.9 874.3,375.4 874.4,378.5 874.6,381.4 874.8,382.5 874.9,384.8 875.1,386.0 875.3,387.4 875.5,388.7 875.7,390.4 875.9,392.3 876.1,393.0 876.3,392.9 876.6,393.7 876.8,394.5 877.0,396.5 877.3,397.7 877.5,397.8 877.8,399.0 878.1,400.8 878.3,402.3 878.6,404.4 878.9,405.4 879.2,406.1 879.4,408.9 879.7,410.2 880.0,411.6 880.3,413.3 880.7,415.7 881.0,416.7 881.3,418.3 881.6,419.8 882.0,421.5 882.3,422.9 882.6,425.0 883.0,425.1 883.3,427.7 883.7,428.3 884.0,429.8 884.4,432.1 884.8,434.4 885.2,436.5 885.5,437.8 885.9,438.8 886.3,440.2 886.7,442.3 887.1,443.8 887.5,443.7 887.9,446.6 888.3,448.9 888.7,449.5 889.1,451.9 889.6,454.1 890.0,454.2 890.4,456.1 890.8,456.9 891.3,457.3 891.7,459.4 892.2,461.1 892.6,460.8 893.1,463.8 893.5,464.2 894.0,463.8 894.5,464.5 894.9,466.2 895.4,467.3 895.9,467.5 896.4,468.2 896.8,469.0 897.3,470.0 897.8,471.1 898.3,471.4 898.8,471.9 899.3,472.5 899.8,473.2 900.3,473.5 900.9,474.9 901.4,474.1 901.9,474.4 902.4,475.9 903.0,476.9 903.5,476.5 904.0,476.9 904.6,477.7 905.1,477.6 905.7,478.9 906.2,479.7 906.8,478.8 907.3,480.3 907.9,480.7 908.4,482.2 909.0,481.7 909.6,482.3 910.2,482.4 910.7,482.5 911.3,483.3 911.9,484.5 912.5,483.8 913.1,484.7 913.7,485.1 914.3,485.9 914.9,486.4 915.5,487.7 916.1,488.2 916.7,488.3 917.3,488.8 917.9,488.9 918.6,491.2 919.2,490.3 919.8,490.9 920.4,490.4 921.1,491.8 921.7,492.2 922.3,492.4 923.0,492.7 923.6,494.4 924.3,494.5 924.9,494.0 925.6,494.7 926.3,495.3 926.9,495.0 927.6,497.1 928.3,496.7 928.9,497.5 929.6,497.5 930.3,498.5 931.0,498.4 931.6,497.7 932.3,499.2 933.0,499.8 933.7,499.6 934.4,500.5 935.1,500.2 935.8,502.2 936.5,502.8 937.2,503.7 937.9,503.6 938.6,504.6 939.4,503.2 940.1,504.4 940.8,504.7 941.5,505.3 942.3,505.9 943.0,506.4 943.7,507.6 944.5,506.4 945.2,507.9 945.9,507.2 946.7,508.2 947.4,509.8 948.2,509.7 948.9,510.2 949.7,510.8 950.4,511.2 951.2,511.4 952.0,512.2 952.7,512.7 953.5,512.8 954.3,513.3 955.1,514.0 955.8,514.0 956.6,514.9 957.4,514.9 958.2,515.6 959.0,515.5 959.8,517.5 960.6,516.1 961.4,517.8 962.2,517.4 963.0,518.8 963.8,519.1 964.6,519.2 965.4,520.1 966.2,520.7 967.0,521.0 967.9,520.6 968.7,522.8 969.5,522.4 970.3,522.1 971.2,523.4 972.0,522.9 972.8,525.4 973.7,525.4 974.5,525.5 975.4,526.1 976.2,526.6 977.1,526.3 977.9,527.7 978.8,527.4 979.6,527.9 980.5,528.7 981.3,527.9 982.2,529.7 983.1,528.9 983.9,530.8 984.8,530.6 985.7,531.2 986.6,532.3 987.4,531.9 988.3,532.1 989.2,532.9 990.1,533.7 991.0,533.4 991.9,534.2 992.8,534.9 993.7,537.1 994.6,536.1 995.5,536.0 996.4,537.6 997.3,539.1 998.2,538.4 999.1,538.5 1000.0,539.8 1001.0,539.6 1001.9,539.6 1002.8,540.8 1003.7,541.0 1004.7,540.5 1005.6,541.7 1006.5,542.7 1007.5,542.4 1008.4,542.7 1009.3,543.5 1010.3,544.0 1011.2,544.8 1012.2,543.4 1013.1,545.8 1014.1,545.7 1015.0,546.0 1016.0,546.1 1016.9,547.3 1017.9,547.4 1018.9,548.3 1019.8,548.3 1020.8,549.9 1021.8,548.7 1022.7,549.7 1023.7,549.9 1024.7,550.8 1025.7,552.3 1026.7,552.1 1027.7,552.2 1028.6,551.7 1029.6,553.0 1030.6,552.8 1031.6,553.7 1032.6,554.6 1033.6,554.8 1034.6,554.7 1035.6,555.1 1036.6,556.3 1037.6,556.2 1038.7,556.5 1039.7,556.6 1040.7,556.7 1041.7,558.5 1042.7,558.6 1043.7,559.6 1044.8,558.0 1045.8,559.3 1046.8,560.6 1047.9,559.0 1048.9,560.6 1049.9,560.8 1051.0,561.1 1052.0,561.2 1053.1,563.0 1054.1,562.3 1055.2,562.2 1056.2,562.7 1057.3,563.3 1058.3,563.8 1059.4,564.6 1060.4,565.7 1061.5,565.3 1062.6,564.3 1063.6,564.7 1064.7,565.4 1065.8,565.2 1066.8,564.5 1067.9,565.7 1069.0,566.2 1070.1,564.6 1071.2,566.3 1072.2,566.9 1073.3,566.1 1074.4,567.3 1075.5,567.1 1076.6,567.2 1077.7,566.7 1078.8,568.0" fill="none" stroke="#d62728" stroke-width="1.75" stroke-linejoin="round" clip-path="url(#cp1)"/>
<polyline points="876.5,313.9 876.5,314.7 876.6,317.3 876.6,320.7 876.7,324.1 876.8,329.6 876.9,334.2 877.0,339.5 877.1,344.6 877.2,350.4 877.4,356.0 877.5,361.3 877.7,366.4 877.8,371.3 878.0,376.0 878.2,378.7 878.4,382.1 878.5,384.0 878.7,387.2 878.9,390.2 879.2,392.8 879.4,395.6 879.6,397.3 879.8,400.1 880.1,401.4 880.3,404.5 880.6,406.1 880.8,406.5 881.1,408.2 881.3,410.0 881.6,413.3 881.9,414.8 882.2,416.3 882.4,418.1 882.7,418.7 883.0,420.7 883.3,422.2 883.6,424.2 883.9,426.2 884.3,426.4 884.6,429.0 884.9,431.6 885.2,432.2 885.6,434.9 885.9,436.4 886.3,437.2 886.6,440.0 887.0,441.4 887.3,443.1 887.7,443.6 888.1,445.1 888.4,447.5 888.8,448.2 889.2,451.4 889.6,452.2 890.0,452.8 890.4,455.0 890.8,456.0 891.2,457.3 891.6,458.2 892.0,459.6 892.4,461.6 892.8,462.1 893.2,463.3 893.7,463.5 894.1,465.6 894.5,466.0 895.0,465.8 895.4,467.0 895.9,466.7 896.3,468.8 896.8,470.9 897.2,469.7 897.7,470.8 898.2,471.8 898.6,473.0 899.1,473.0 899.6,473.2 900.1,474.0 900.5,474.7 901.0,475.1 901.5,475.9 902.0,477.1 902.5,476.9 903.0,477.4 903.5,477.2 904.0,478.7 904.6,479.8 905.1,479.1 905.6,479.9 906.1,481.1 906.6,481.9 907.2,481.0 907.7,483.2 908.3,483.1 908.8,483.1 909.3,484.3 909.9,484.4 910.4,484.5 911.0,485.5 911.6,486.5 912.1,486.7 912.7,486.9 913.3,486.8 913.8,488.5 914.4,487.7 915.0,489.4 915.6,488.8 916.2,488.9 916.7,489.9 917.3,491.2 917.9,490.7 918.5,491.5 919.1,492.4 919.7,493.3 920.3,493.9 921.0,494.2 921.6,493.4 922.2,494.9 922.8,495.5 923.4,496.4 924.1,496.5 924.7,497.3 925.3,498.0 926.0,498.1 926.6,498.9 927.3,499.0 927.9,499.6 928.5,500.4 929.2,500.3 929.9,500.7 930.5,503.0 931.2,502.1 931.8,502.5 932.5,503.0 933.2,502.7 933.8,503.8 934.5,504.5 935.2,505.2 935.9,504.9 936.6,506.6 937.3,506.3 938.0,507.0 938.6,507.3 939.3,507.7 940.0,508.6 940.7,509.1 941.5,509.0 942.2,509.9 942.9,509.1 943.6,510.2 944.3,511.4 945.0,511.0 945.7,511.8 946.5,512.1 947.2,511.8 947.9,512.6 948.7,514.0 949.4,513.8 950.1,514.7 950.9,514.4 951.6,515.4 952.4,516.7 953.1,518.2 953.9,517.2 954.6,517.7 955.4,518.2 956.2,517.1 956.9,518.6 957.7,518.7 958.5,520.1 959.2,519.8 960.0,520.9 960.8,521.8 961.6,521.7 962.4,522.0 963.1,523.0 963.9,522.1 964.7,523.3 965.5,524.6 966.3,525.6 967.1,524.3 967.9,524.8 968.7,525.3 969.5,526.6 970.3,527.1 971.1,526.7 972.0,527.7 972.8,528.0 973.6,528.1 974.4,528.3 975.3,529.8 976.1,529.9 976.9,530.1 977.7,531.1 978.6,530.7 979.4,532.2 980.3,531.9 981.1,532.8 982.0,532.4 982.8,533.4 983.7,534.3 984.5,534.6 985.4,535.5 986.2,535.0 987.1,535.9 988.0,536.4 988.8,536.5 989.7,536.9 990.6,537.9 991.4,538.7 992.3,538.0 993.2,538.8 994.1,539.4 995.0,539.5 995.8,540.6 996.7,540.1 997.6,541.5 998.5,541.9 999.4,542.2 1000.3,542.9 1001.2,543.3 1002.1,543.6 1003.0,544.6 1003.9,544.4 1004.9,545.1 1005.8,544.6 1006.7,546.3 1007.6,547.0 1008.5,547.6 1009.4,547.4 1010.4,547.9 1011.3,549.0 1012.2,548.6 1013.2,550.4 1014.1,550.5 1015.0,550.7 1016.0,551.0 1016.9,551.9 1017.9,551.2 1018.8,551.8 1019.8,552.8 1020.7,553.3 1021.7,553.9 1022.6,554.3 1023.6,554.4 1024.6,554.8 1025.5,555.5 1026.5,556.4 1027.5,557.4 1028.4,558.0 1029.4,557.5 1030.4,558.8 1031.3,558.8 1032.3,558.3 1033.3,559.2 1034.3,559.7 1035.3,560.2 1036.3,560.3 1037.3,560.7 1038.3,562.0 1039.3,562.5 1040.3,562.8 1041.3,562.8 1042.3,562.1 1043.3,563.5 1044.3,564.0 1045.3,563.9 1046.3,564.4 1047.3,565.7 1048.3,566.9 1049.3,564.8 1050.4,566.7 1051.4,567.2 1052.4,566.7 1053.5,568.2 1054.5,568.2 1055.5,569.1 1056.5,568.2 1057.6,569.4 1058.6,569.2 1059.7,569.2 1060.7,570.0 1061.8,568.9 1062.8,570.5 1063.9,571.5 1064.9,570.5 1066.0,570.7 1067.0,570.9 1068.1,572.1 1069.1,572.2 1070.2,572.2 1071.3,571.9 1072.3,572.7 1073.4,572.1 1074.5,572.6 1075.6,572.8 1076.6,573.8 1077.7,574.5 1078.8,573.6" fill="none" stroke="#2ca02c" stroke-width="1.75" stroke-linejoin="round" clip-path="url(#cp1)"/>
<path d="M1166.8,378.3 L1166.8,579.2" stroke="#f3f3f3" stroke-width="0.8"/><path d="M1208.0,378.3 L1208.0,579.2" stroke="#f3f3f3" stroke-width="0.8"/><path d="M1249.1,378.3 L1249.1,579.2" stroke="#f3f3f3" stroke-width="0.8"/><path d="M1290.2,378.3 L1290.2,579.2" stroke="#f3f3f3" stroke-width="0.8"/><path d="M1331.3,378.3 L1331.3,579.2" stroke="#f3f3f3" stroke-width="0.8"/><path d="M1372.4,378.3 L1372.4,579.2" stroke="#f3f3f3" stroke-width="0.8"/><path d="M1156.6,378.3 L1382.7,378.3" stroke="#f3f3f3" stroke-width="0.8"/><path d="M1156.6,428.5 L1382.7,428.5" stroke="#f3f3f3" stroke-width="0.8"/><path d="M1156.6,478.8 L1382.7,478.8" stroke="#f3f3f3" stroke-width="0.8"/><path d="M1156.6,529.0 L1382.7,529.0" stroke="#f3f3f3" stroke-width="0.8"/><path d="M1156.6,579.2 L1382.7,579.2" stroke="#f3f3f3" stroke-width="0.8"/><path d="M1156.6,378.3 L1156.6,579.2 L1382.7,579.2" stroke="#d9d9d9" stroke-width="1" fill="none"/><text x="1166.8" y="590.8" font-size="11.5" fill="#3c3c3c" text-anchor="middle">0</text><text x="1208.0" y="590.8" font-size="11.5" fill="#3c3c3c" text-anchor="middle">100</text><text x="1249.1" y="590.8" font-size="11.5" fill="#3c3c3c" text-anchor="middle">200</text><text x="1290.2" y="590.8" font-size="11.5" fill="#3c3c3c" text-anchor="middle">300</text><text x="1331.3" y="590.8" font-size="11.5" fill="#3c3c3c" text-anchor="middle">400</text><text x="1372.4" y="590.8" font-size="11.5" fill="#3c3c3c" text-anchor="middle">500</text><text x="1152.0" y="382.4" font-size="11.5" fill="#3c3c3c" text-anchor="end">2.04</text><text x="1152.0" y="432.7" font-size="11.5" fill="#3c3c3c" text-anchor="end">1.97</text><text x="1152.0" y="482.9" font-size="11.5" fill="#3c3c3c" text-anchor="end">1.90</text><text x="1152.0" y="533.1" font-size="11.5" fill="#3c3c3c" text-anchor="end">1.83</text><text x="1152.0" y="583.3" font-size="11.5" fill="#3c3c3c" text-anchor="end">1.76</text><text x="1269.7" y="360.7" font-size="13.4" font-weight="bold" fill="#333" text-anchor="middle">8×1.5B Training Loss</text><text x="1269.7" y="375.4" font-size="13.4" font-weight="bold" fill="#333" text-anchor="middle">(Lower is better)</text><text x="1269.7" y="603.5" font-size="12.75" fill="#3c3c3c" text-anchor="middle">Processed Tokens (Billions)</text><text x="1125.1" y="478.8" font-size="12.75" fill="#3c3c3c" text-anchor="middle" transform="rotate(-90 1125.1 478.8)">Cross Entropy</text>
<clipPath id="cp2"><rect x="1156.6" y="377.8" width="226.2" height="201.9"/></clipPath>
<polyline points="1195.6,349.1 1195.7,349.6 1195.7,349.7 1195.7,351.4 1195.8,351.1 1195.9,350.7 1196.0,351.0 1196.1,352.5 1196.2,352.3 1196.3,352.9 1196.4,353.6 1196.5,354.7 1196.7,355.5 1196.8,356.3 1197.0,357.3 1197.1,357.3 1197.3,358.2 1197.4,358.2 1197.6,359.3 1197.8,360.5 1198.0,361.7 1198.2,364.1 1198.4,362.8 1198.6,363.6 1198.8,365.3 1199.0,366.2 1199.2,367.1 1199.4,367.2 1199.6,368.9 1199.9,370.9 1200.1,371.3 1200.3,372.3 1200.6,372.2 1200.8,372.5 1201.1,375.0 1201.3,376.3 1201.6,376.1 1201.9,378.0 1202.2,377.9 1202.4,379.6 1202.7,380.0 1203.0,380.5 1203.3,381.8 1203.6,381.5 1203.9,382.7 1204.2,383.6 1204.5,384.4 1204.8,384.7 1205.1,385.5 1205.4,386.2 1205.7,387.4 1206.1,389.8 1206.4,389.4 1206.7,389.9 1207.1,390.2 1207.4,390.6 1207.8,392.3 1208.1,392.2 1208.5,394.5 1208.8,395.0 1209.2,395.7 1209.5,396.0 1209.9,396.6 1210.3,397.6 1210.6,397.8 1211.0,399.8 1211.4,399.0 1211.8,400.7 1212.2,401.4 1212.6,403.3 1213.0,403.3 1213.4,404.3 1213.8,405.4 1214.2,406.1 1214.6,407.1 1215.0,407.7 1215.4,408.4 1215.8,408.8 1216.2,409.5 1216.7,410.4 1217.1,411.5 1217.5,411.8 1217.9,413.0 1218.4,413.5 1218.8,414.9 1219.3,414.7 1219.7,416.5 1220.2,416.5 1220.6,418.4 1221.1,419.7 1221.5,418.9 1222.0,420.4 1222.5,421.8 1222.9,422.6 1223.4,423.4 1223.9,424.3 1224.3,424.7 1224.8,424.6 1225.3,426.2 1225.8,426.0 1226.3,427.4 1226.8,427.3 1227.3,428.5 1227.8,429.6 1228.3,430.2 1228.8,431.6 1229.3,431.4 1229.8,431.8 1230.3,434.0 1230.8,434.6 1231.3,433.7 1231.9,434.5 1232.4,436.0 1232.9,435.6 1233.4,436.6 1234.0,438.4 1234.5,438.0 1235.0,438.5 1235.6,439.8 1236.1,440.0 1236.7,440.7 1237.2,441.8 1237.8,441.3 1238.3,442.9 1238.9,444.4 1239.4,444.1 1240.0,443.9 1240.6,445.8 1241.1,446.0 1241.7,445.5 1242.3,447.2 1242.8,448.4 1243.4,449.2 1244.0,449.3 1244.6,449.2 1245.2,450.1 1245.8,450.5 1246.4,450.6 1247.0,452.0 1247.5,452.7 1248.1,453.2 1248.7,453.8 1249.4,455.3 1250.0,455.8 1250.6,456.0 1251.2,456.3 1251.8,456.3 1252.4,458.5 1253.0,458.0 1253.6,458.8 1254.3,459.5 1254.9,460.5 1255.5,462.1 1256.2,461.6 1256.8,461.4 1257.4,463.2 1258.1,463.4 1258.7,464.7 1259.4,464.3 1260.0,465.2 1260.7,465.9 1261.3,467.0 1262.0,467.4 1262.6,467.5 1263.3,468.6 1263.9,469.3 1264.6,470.0 1265.3,471.9 1265.9,470.3 1266.6,472.0 1267.3,472.0 1268.0,473.9 1268.6,472.9 1269.3,474.1 1270.0,474.7 1270.7,475.3 1271.4,476.3 1272.1,475.9 1272.7,476.2 1273.4,478.0 1274.1,478.3 1274.8,478.8 1275.5,478.8 1276.2,480.8 1276.9,480.7 1277.7,480.8 1278.4,482.2 1279.1,482.8 1279.8,482.4 1280.5,483.6 1281.2,484.8 1282.0,484.8 1282.7,484.8 1283.4,485.8 1284.1,486.4 1284.9,487.3 1285.6,488.3 1286.3,488.4 1287.1,488.6 1287.8,489.3 1288.6,490.5 1289.3,489.6 1290.0,490.8 1290.8,491.1 1291.5,491.7 1292.3,491.9 1293.1,493.3 1293.8,492.8 1294.6,493.6 1295.3,495.0 1296.1,496.7 1296.9,496.2 1297.6,496.3 1298.4,497.2 1299.2,498.2 1299.9,498.0 1300.7,499.2 1301.5,498.7 1302.3,500.3 1303.1,500.0 1303.9,501.2 1304.6,502.5 1305.4,502.6 1306.2,503.1 1307.0,503.0 1307.8,504.9 1308.6,504.1 1309.4,505.1 1310.2,506.2 1311.0,506.1 1311.8,507.1 1312.6,507.1 1313.5,508.0 1314.3,508.7 1315.1,509.7 1315.9,509.2 1316.7,510.1 1317.5,510.9 1318.4,511.7 1319.2,511.7 1320.0,513.0 1320.9,513.7 1321.7,514.0 1322.5,514.8 1323.4,514.2 1324.2,515.2 1325.0,516.0 1325.9,516.4 1326.7,517.0 1327.6,516.8 1328.4,517.6 1329.3,518.1 1330.1,518.3 1331.0,519.8 1331.8,520.7 1332.7,521.4 1333.6,521.7 1334.4,522.2 1335.3,522.0 1336.2,523.5 1337.0,523.6 1337.9,524.4 1338.8,525.3 1339.6,524.5 1340.5,525.0 1341.4,526.9 1342.3,526.7 1343.2,526.4 1344.0,527.7 1344.9,527.5 1345.8,528.8 1346.7,527.8 1347.6,529.7 1348.5,529.6 1349.4,530.4 1350.3,531.2 1351.2,530.7 1352.1,530.8 1353.0,531.8 1353.9,532.6 1354.8,532.5 1355.7,532.5 1356.6,533.2 1357.6,533.5 1358.5,533.9 1359.4,534.0 1360.3,534.7 1361.2,534.5 1362.2,535.4 1363.1,535.4 1364.0,536.1 1364.9,535.4 1365.9,535.6 1366.8,535.5 1367.7,536.7 1368.7,536.8 1369.6,537.2 1370.6,537.3 1371.5,537.3 1372.4,537.7" fill="none" stroke="#1f77b4" stroke-width="1.75" stroke-linejoin="round" clip-path="url(#cp2)"/>
<polyline points="1166.8,456.9 1167.5,454.4 1168.1,435.7 1168.9,407.0 1170.1,395.7 1170.2,395.8 1170.2,395.2 1170.3,396.5 1170.3,395.6 1170.4,397.0 1170.5,396.4 1170.6,396.5 1170.8,396.0 1170.9,396.8 1171.0,397.3 1171.2,396.5 1171.3,396.6 1171.5,398.0 1171.6,397.5 1171.8,398.4 1172.0,398.3 1172.2,398.6 1172.4,399.6 1172.6,399.2 1172.8,400.1 1173.0,400.4 1173.3,400.4 1173.5,401.5 1173.7,401.6 1174.0,401.0 1174.2,401.1 1174.5,401.4 1174.7,402.4 1175.0,402.1 1175.2,402.0 1175.5,402.6 1175.8,404.3 1176.1,404.9 1176.4,404.1 1176.7,404.1 1177.0,405.1 1177.3,405.0 1177.6,405.7 1177.9,406.2 1178.2,406.5 1178.6,407.0 1178.9,407.7 1179.2,407.0 1179.6,407.9 1179.9,409.1 1180.3,409.4 1180.6,410.3 1181.0,409.9 1181.3,411.4 1181.7,411.3 1182.1,411.2 1182.5,411.8 1182.8,412.2 1183.2,413.6 1183.6,413.1 1184.0,414.0 1184.4,413.7 1184.8,415.1 1185.2,414.5 1185.6,415.7 1186.0,416.0 1186.5,417.0 1186.9,417.5 1187.3,418.0 1187.7,417.8 1188.2,419.0 1188.6,419.3 1189.1,419.1 1189.5,419.9 1190.0,420.8 1190.4,421.0 1190.9,422.4 1191.3,422.9 1191.8,422.4 1192.3,421.7 1192.7,422.5 1193.2,422.8 1193.7,424.3 1194.2,425.3 1194.7,425.0 1195.2,426.7 1195.7,428.0 1196.2,426.8 1196.7,427.0 1197.2,427.6 1197.7,427.7 1198.2,428.6 1198.7,429.3 1199.2,430.6 1199.8,430.6 1200.3,431.6 1200.8,431.7 1201.4,431.0 1201.9,432.4 1202.4,432.8 1203.0,433.9 1203.5,432.7 1204.1,435.6 1204.7,435.5 1205.2,435.1 1205.8,436.5 1206.3,437.0 1206.9,436.8 1207.5,437.2 1208.1,437.8 1208.6,439.1 1209.2,438.8 1209.8,440.3 1210.4,440.7 1211.0,441.3 1211.6,441.1 1212.2,442.0 1212.8,442.9 1213.4,442.9 1214.0,444.0 1214.6,444.3 1215.2,444.7 1215.8,445.4 1216.5,446.2 1217.1,446.8 1217.7,446.2 1218.3,448.4 1219.0,447.7 1219.6,448.8 1220.3,449.3 1220.9,450.4 1221.5,450.0 1222.2,450.9 1222.8,450.6 1223.5,452.0 1224.2,452.8 1224.8,453.4 1225.5,452.8 1226.2,453.5 1226.8,454.5 1227.5,454.0 1228.2,455.3 1228.9,456.1 1229.5,456.2 1230.2,457.6 1230.9,457.5 1231.6,458.7 1232.3,458.3 1233.0,458.8 1233.7,459.7 1234.4,459.6 1235.1,461.1 1235.8,460.9 1236.5,461.8 1237.2,462.8 1238.0,462.4 1238.7,462.4 1239.4,462.2 1240.1,464.3 1240.8,464.6 1241.6,464.5 1242.3,466.4 1243.1,465.6 1243.8,467.8 1244.5,468.1 1245.3,468.1 1246.0,468.8 1246.8,468.6 1247.5,470.2 1248.3,470.3 1249.0,470.9 1249.8,471.2 1250.6,471.5 1251.3,471.9 1252.1,472.8 1252.9,473.4 1253.7,474.1 1254.4,475.5 1255.2,476.2 1256.0,475.7 1256.8,477.2 1257.6,477.4 1258.4,477.5 1259.2,478.4 1260.0,479.2 1260.8,479.8 1261.6,479.9 1262.4,479.8 1263.2,482.0 1264.0,481.9 1264.8,481.9 1265.6,482.8 1266.4,483.9 1267.3,484.1 1268.1,484.6 1268.9,484.8 1269.7,486.8 1270.6,487.0 1271.4,487.1 1272.2,487.6 1273.1,488.4 1273.9,488.9 1274.8,489.3 1275.6,490.2 1276.5,489.8 1277.3,492.1 1278.2,492.6 1279.0,493.8 1279.9,493.4 1280.7,494.3 1281.6,495.1 1282.5,496.3 1283.3,495.3 1284.2,496.8 1285.1,497.2 1286.0,498.9 1286.8,498.7 1287.7,499.2 1288.6,499.1 1289.5,500.3 1290.4,500.6 1291.3,502.5 1292.2,502.4 1293.1,502.8 1294.0,503.4 1294.9,504.0 1295.8,504.6 1296.7,504.2 1297.6,505.6 1298.5,505.5 1299.4,506.1 1300.3,507.1 1301.3,507.3 1302.2,509.2 1303.1,508.7 1304.0,508.3 1305.0,509.7 1305.9,510.9 1306.8,509.8 1307.8,511.5 1308.7,510.6 1309.6,511.8 1310.6,513.0 1311.5,513.1 1312.5,512.5 1313.4,513.7 1314.4,514.3 1315.3,514.7 1316.3,515.3 1317.2,516.1 1318.2,515.9 1319.2,515.9 1320.1,517.1 1321.1,516.8 1322.1,517.5 1323.0,519.4 1324.0,518.7 1325.0,518.8 1326.0,521.1 1327.0,520.8 1327.9,520.7 1328.9,521.9 1329.9,521.9 1330.9,522.5 1331.9,523.3 1332.9,523.4 1333.9,524.0 1334.9,524.3 1335.9,524.7 1336.9,525.5 1337.9,526.1 1338.9,526.4 1339.9,526.3 1341.0,527.6 1342.0,526.8 1343.0,528.4 1344.0,527.4 1345.0,528.9 1346.1,529.5 1347.1,529.9 1348.1,529.8 1349.2,530.3 1350.2,531.2 1351.2,531.0 1352.3,531.2 1353.3,531.7 1354.4,531.4 1355.4,533.7 1356.5,532.8 1357.5,533.3 1358.6,533.0 1359.6,532.6 1360.7,534.6 1361.7,534.6 1362.8,534.5 1363.9,534.1 1364.9,534.3 1366.0,535.5 1367.1,534.9 1368.1,535.6 1369.2,535.2 1370.3,535.9 1371.4,535.9 1372.4,536.4" fill="none" stroke="#ff7f0e" stroke-width="1.75" stroke-linejoin="round" clip-path="url(#cp2)"/>
<polyline points="1181.7,342.5 1181.7,343.4 1181.7,342.6 1181.8,344.0 1181.8,345.0 1181.9,346.3 1182.0,346.4 1182.1,348.7 1182.2,349.2 1182.4,351.2 1182.5,352.4 1182.6,354.1 1182.8,355.3 1182.9,356.8 1183.1,359.5 1183.2,360.1 1183.4,362.1 1183.6,363.7 1183.8,365.2 1184.0,368.6 1184.2,368.6 1184.4,372.1 1184.6,373.3 1184.8,374.4 1185.0,375.6 1185.3,377.3 1185.5,378.9 1185.7,380.2 1186.0,382.4 1186.2,383.1 1186.5,383.1 1186.7,386.9 1187.0,387.0 1187.3,388.1 1187.5,389.6 1187.8,390.4 1188.1,391.4 1188.4,392.6 1188.7,393.6 1189.0,395.2 1189.3,395.4 1189.6,397.1 1189.9,398.4 1190.2,397.8 1190.5,400.3 1190.9,401.4 1191.2,403.3 1191.5,403.3 1191.9,405.2 1192.2,406.2 1192.6,406.7 1192.9,408.0 1193.3,409.9 1193.6,410.5 1194.0,411.8 1194.4,413.3 1194.7,414.9 1195.1,415.3 1195.5,417.6 1195.9,417.7 1196.3,419.1 1196.7,420.8 1197.0,421.8 1197.4,421.0 1197.8,424.4 1198.3,424.3 1198.7,425.5 1199.1,426.0 1199.5,427.0 1199.9,427.6 1200.3,428.6 1200.8,429.9 1201.2,431.5 1201.6,431.8 1202.1,432.2 1202.5,433.1 1203.0,433.6 1203.4,435.1 1203.9,436.5 1204.3,437.0 1204.8,437.4 1205.3,437.9 1205.7,438.7 1206.2,439.6 1206.7,441.5 1207.2,441.9 1207.6,442.2 1208.1,443.2 1208.6,443.7 1209.1,445.7 1209.6,445.6 1210.1,448.2 1210.6,447.8 1211.1,448.4 1211.6,449.4 1212.1,449.7 1212.6,451.1 1213.2,451.8 1213.7,452.3 1214.2,453.9 1214.7,453.5 1215.3,455.5 1215.8,455.6 1216.3,456.7 1216.9,457.8 1217.4,458.4 1218.0,459.1 1218.5,460.3 1219.1,459.7 1219.6,462.2 1220.2,462.5 1220.7,462.7 1221.3,463.8 1221.9,464.3 1222.4,466.4 1223.0,466.5 1223.6,467.2 1224.2,467.3 1224.8,469.1 1225.3,469.5 1225.9,469.2 1226.5,470.7 1227.1,471.4 1227.7,472.4 1228.3,472.5 1228.9,474.8 1229.5,475.0 1230.1,475.5 1230.7,475.8 1231.4,476.6 1232.0,478.4 1232.6,477.9 1233.2,479.0 1233.9,477.8 1234.5,480.0 1235.1,480.0 1235.7,481.5 1236.4,482.0 1237.0,482.9 1237.7,482.7 1238.3,483.0 1239.0,485.0 1239.6,484.7 1240.3,485.2 1240.9,485.5 1241.6,487.1 1242.3,486.6 1242.9,488.6 1243.6,488.4 1244.3,489.4 1244.9,489.9 1245.6,489.8 1246.3,490.7 1247.0,490.1 1247.7,492.2 1248.3,493.2 1249.0,492.8 1249.7,493.9 1250.4,494.8 1251.1,494.5 1251.8,495.0 1252.5,497.1 1253.2,497.2 1253.9,496.9 1254.6,498.5 1255.4,497.8 1256.1,499.4 1256.8,499.6 1257.5,500.3 1258.2,501.6 1259.0,501.7 1259.7,502.5 1260.4,502.9 1261.2,502.7 1261.9,503.5 1262.6,504.6 1263.4,504.9 1264.1,504.8 1264.9,506.2 1265.6,506.9 1266.4,506.9 1267.1,508.2 1267.9,509.1 1268.6,508.0 1269.4,510.2 1270.2,510.1 1270.9,510.5 1271.7,511.5 1272.5,510.9 1273.2,511.5 1274.0,512.9 1274.8,514.5 1275.6,514.1 1276.4,515.8 1277.1,515.2 1277.9,515.6 1278.7,516.5 1279.5,516.6 1280.3,517.7 1281.1,518.9 1281.9,519.2 1282.7,519.0 1283.5,521.4 1284.3,520.7 1285.1,522.1 1286.0,520.8 1286.8,523.4 1287.6,524.4 1288.4,523.3 1289.2,523.9 1290.1,525.4 1290.9,525.6 1291.7,526.9 1292.5,526.8 1293.4,526.9 1294.2,527.8 1295.1,528.5 1295.9,529.4 1296.7,529.1 1297.6,529.3 1298.4,530.0 1299.3,532.1 1300.1,531.9 1301.0,533.0 1301.9,533.3 1302.7,533.5 1303.6,532.8 1304.4,534.6 1305.3,535.4 1306.2,536.2 1307.0,536.2 1307.9,537.9 1308.8,537.2 1309.7,537.7 1310.6,539.2 1311.4,538.4 1312.3,538.5 1313.2,540.7 1314.1,540.4 1315.0,541.6 1315.9,542.2 1316.8,541.9 1317.7,542.7 1318.6,544.1 1319.5,544.7 1320.4,544.3 1321.3,545.7 1322.2,546.1 1323.1,546.0 1324.0,546.7 1324.9,546.7 1325.9,546.3 1326.8,548.5 1327.7,547.5 1328.6,549.5 1329.6,549.2 1330.5,549.2 1331.4,548.9 1332.3,551.6 1333.3,550.2 1334.2,551.6 1335.2,552.0 1336.1,552.2 1337.0,552.0 1338.0,552.1 1338.9,553.7 1339.9,554.7 1340.8,555.3 1341.8,556.5 1342.8,556.6 1343.7,555.6 1344.7,557.6 1345.6,557.7 1346.6,557.8 1347.6,558.3 1348.5,558.7 1349.5,559.2 1350.5,559.3 1351.5,558.6 1352.4,559.3 1353.4,560.0 1354.4,560.8 1355.4,560.6 1356.4,560.9 1357.4,561.8 1358.4,562.3 1359.4,561.8 1360.3,562.7 1361.3,563.0 1362.3,562.9 1363.3,563.2 1364.3,563.9 1365.4,562.8 1366.4,563.8 1367.4,564.3 1368.4,564.0 1369.4,563.9 1370.4,564.9 1371.4,566.5 1372.4,566.0" fill="none" stroke="#98df8a" stroke-width="1.75" stroke-linejoin="round" clip-path="url(#cp2)"/>
<polyline points="1169.7,342.1 1169.8,342.9 1169.8,344.4 1169.9,345.0 1169.9,346.8 1170.0,349.7 1170.1,351.6 1170.2,354.3 1170.3,356.9 1170.5,357.9 1170.6,361.6 1170.8,363.8 1170.9,366.6 1171.1,369.3 1171.2,372.4 1171.4,374.7 1171.6,376.2 1171.8,377.8 1172.0,381.2 1172.2,382.4 1172.4,383.8 1172.6,384.8 1172.8,386.6 1173.1,388.0 1173.3,389.8 1173.6,391.8 1173.8,392.8 1174.1,393.4 1174.3,395.2 1174.6,397.2 1174.8,397.0 1175.1,398.7 1175.4,399.8 1175.7,400.3 1176.0,402.8 1176.3,404.0 1176.6,406.2 1176.9,406.0 1177.2,407.0 1177.5,408.5 1177.8,409.7 1178.2,410.4 1178.5,411.9 1178.8,413.1 1179.2,414.5 1179.5,415.6 1179.9,416.2 1180.2,417.9 1180.6,419.2 1181.0,420.4 1181.3,421.3 1181.7,422.2 1182.1,423.1 1182.5,424.3 1182.8,425.6 1183.2,427.3 1183.6,427.1 1184.0,428.9 1184.4,429.5 1184.8,429.7 1185.2,431.1 1185.7,432.6 1186.1,432.7 1186.5,434.1 1186.9,435.0 1187.4,435.0 1187.8,436.1 1188.2,435.6 1188.7,438.6 1189.1,438.8 1189.6,439.3 1190.0,439.6 1190.5,441.2 1191.0,440.9 1191.4,442.4 1191.9,443.5 1192.4,443.9 1192.9,444.5 1193.3,445.2 1193.8,446.1 1194.3,446.6 1194.8,446.6 1195.3,447.3 1195.8,447.4 1196.3,449.4 1196.8,450.1 1197.3,449.1 1197.9,450.6 1198.4,451.2 1198.9,452.5 1199.4,452.4 1199.9,453.2 1200.5,453.8 1201.0,453.8 1201.6,455.4 1202.1,455.5 1202.6,457.1 1203.2,456.6 1203.8,458.0 1204.3,457.0 1204.9,459.3 1205.4,458.4 1206.0,460.3 1206.6,461.3 1207.1,460.9 1207.7,461.6 1208.3,462.8 1208.9,463.6 1209.5,464.8 1210.1,464.4 1210.7,464.7 1211.3,466.6 1211.9,466.1 1212.5,465.9 1213.1,468.3 1213.7,467.8 1214.3,468.4 1214.9,469.7 1215.5,469.8 1216.1,471.2 1216.8,471.0 1217.4,471.0 1218.0,472.7 1218.7,473.4 1219.3,474.8 1219.9,473.4 1220.6,474.0 1221.2,475.9 1221.9,476.2 1222.5,476.9 1223.2,476.7 1223.9,478.9 1224.5,478.3 1225.2,480.4 1225.9,479.5 1226.5,480.8 1227.2,480.3 1227.9,481.3 1228.6,482.5 1229.2,483.1 1229.9,483.9 1230.6,483.0 1231.3,483.8 1232.0,485.3 1232.7,486.2 1233.4,485.8 1234.1,486.6 1234.8,487.4 1235.5,487.6 1236.2,487.8 1237.0,488.7 1237.7,488.9 1238.4,489.7 1239.1,490.1 1239.9,491.1 1240.6,490.9 1241.3,491.7 1242.0,492.5 1242.8,492.8 1243.5,493.5 1244.3,494.0 1245.0,494.1 1245.8,494.5 1246.5,496.3 1247.3,496.1 1248.0,496.5 1248.8,497.6 1249.6,497.4 1250.3,498.2 1251.1,498.9 1251.9,500.1 1252.6,500.5 1253.4,500.2 1254.2,499.8 1255.0,501.5 1255.8,502.9 1256.6,501.7 1257.3,502.8 1258.1,502.8 1258.9,504.3 1259.7,504.0 1260.5,504.8 1261.3,506.2 1262.1,506.3 1263.0,506.6 1263.8,507.6 1264.6,507.1 1265.4,508.5 1266.2,508.3 1267.0,509.5 1267.9,509.6 1268.7,510.2 1269.5,512.0 1270.4,511.7 1271.2,511.8 1272.0,512.9 1272.9,512.5 1273.7,513.2 1274.6,514.9 1275.4,514.9 1276.3,515.3 1277.1,516.6 1278.0,515.9 1278.8,517.0 1279.7,517.9 1280.6,519.0 1281.4,519.6 1282.3,520.1 1283.2,519.9 1284.0,521.4 1284.9,521.1 1285.8,520.9 1286.7,523.4 1287.6,523.6 1288.4,523.3 1289.3,524.3 1290.2,525.5 1291.1,525.6 1292.0,526.2 1292.9,526.4 1293.8,527.8 1294.7,528.1 1295.6,528.6 1296.5,528.9 1297.4,529.8 1298.4,531.0 1299.3,531.5 1300.2,530.7 1301.1,532.2 1302.0,532.4 1303.0,533.0 1303.9,533.4 1304.8,533.5 1305.7,534.7 1306.7,534.9 1307.6,535.5 1308.6,536.2 1309.5,537.5 1310.4,537.6 1311.4,537.4 1312.3,538.6 1313.3,539.1 1314.2,539.6 1315.2,540.6 1316.2,540.9 1317.1,540.8 1318.1,541.9 1319.1,542.5 1320.0,542.0 1321.0,542.4 1322.0,543.3 1322.9,544.3 1323.9,543.7 1324.9,544.5 1325.9,546.0 1326.9,546.1 1327.9,546.9 1328.8,547.6 1329.8,546.4 1330.8,546.7 1331.8,549.1 1332.8,548.1 1333.8,549.0 1334.8,549.2 1335.8,549.4 1336.8,549.9 1337.9,550.8 1338.9,551.6 1339.9,551.4 1340.9,551.3 1341.9,553.3 1342.9,553.5 1344.0,553.7 1345.0,554.5 1346.0,554.6 1347.0,554.4 1348.1,555.0 1349.1,555.7 1350.2,556.0 1351.2,556.7 1352.2,556.3 1353.3,557.3 1354.3,557.9 1355.4,557.9 1356.4,557.9 1357.5,557.5 1358.5,558.6 1359.6,559.0 1360.6,558.0 1361.7,559.4 1362.8,558.9 1363.8,559.6 1364.9,559.8 1366.0,561.0 1367.1,560.4 1368.1,561.1 1369.2,561.6 1370.3,561.0 1371.4,561.5 1372.4,561.6" fill="none" stroke="#9467bd" stroke-width="1.75" stroke-linejoin="round" clip-path="url(#cp2)"/>
<polyline points="1166.8,342.4 1167.3,407.0 1167.7,453.6 1168.3,442.9 1169.1,424.9 1170.1,416.7 1170.2,417.8 1170.2,417.7 1170.3,418.1 1170.3,418.2 1170.4,418.5 1170.5,417.6 1170.6,417.9 1170.8,419.1 1170.9,418.3 1171.0,418.2 1171.2,417.8 1171.3,418.5 1171.5,419.1 1171.6,419.7 1171.8,419.2 1172.0,419.2 1172.2,419.6 1172.4,420.4 1172.6,420.5 1172.8,421.7 1173.0,421.0 1173.3,420.9 1173.5,421.9 1173.7,422.2 1174.0,421.9 1174.2,422.9 1174.5,422.4 1174.7,423.4 1175.0,423.4 1175.2,424.5 1175.5,424.4 1175.8,424.1 1176.1,426.1 1176.4,425.0 1176.7,427.2 1177.0,426.6 1177.3,426.6 1177.6,427.6 1177.9,427.6 1178.2,427.5 1178.6,428.5 1178.9,430.1 1179.2,429.1 1179.6,429.5 1179.9,430.4 1180.3,431.0 1180.6,431.4 1181.0,432.8 1181.3,432.7 1181.7,432.1 1182.1,433.0 1182.5,433.7 1182.8,434.8 1183.2,435.3 1183.6,435.3 1184.0,436.1 1184.4,436.7 1184.8,437.5 1185.2,437.5 1185.6,438.7 1186.0,439.0 1186.5,438.9 1186.9,440.9 1187.3,440.2 1187.7,441.5 1188.2,442.9 1188.6,442.7 1189.1,443.2 1189.5,442.7 1190.0,443.2 1190.4,443.1 1190.9,445.0 1191.3,445.5 1191.8,446.0 1192.3,445.6 1192.7,446.7 1193.2,447.6 1193.7,448.6 1194.2,447.7 1194.7,450.1 1195.2,449.9 1195.7,450.5 1196.2,450.6 1196.7,452.2 1197.2,451.4 1197.7,452.7 1198.2,453.7 1198.7,454.2 1199.2,454.4 1199.8,455.2 1200.3,455.0 1200.8,456.6 1201.4,456.4 1201.9,456.2 1202.4,457.6 1203.0,457.8 1203.5,458.4 1204.1,460.4 1204.7,459.4 1205.2,460.6 1205.8,460.7 1206.3,461.1 1206.9,462.0 1207.5,462.7 1208.1,464.0 1208.6,463.5 1209.2,464.4 1209.8,464.7 1210.4,465.0 1211.0,466.6 1211.6,466.1 1212.2,466.4 1212.8,467.8 1213.4,469.1 1214.0,467.6 1214.6,468.9 1215.2,469.5 1215.8,470.3 1216.5,471.1 1217.1,471.7 1217.7,471.8 1218.3,472.4 1219.0,473.1 1219.6,473.9 1220.3,473.9 1220.9,475.1 1221.5,475.9 1222.2,476.3 1222.8,477.0 1223.5,476.4 1224.2,477.6 1224.8,477.4 1225.5,478.2 1226.2,478.0 1226.8,479.1 1227.5,479.6 1228.2,480.9 1228.9,482.1 1229.5,481.4 1230.2,481.8 1230.9,483.2 1231.6,483.9 1232.3,484.4 1233.0,485.2 1233.7,484.8 1234.4,486.1 1235.1,486.3 1235.8,487.2 1236.5,488.4 1237.2,487.6 1238.0,489.4 1238.7,490.3 1239.4,489.8 1240.1,490.8 1240.8,492.0 1241.6,493.0 1242.3,493.8 1243.1,494.2 1243.8,494.1 1244.5,495.4 1245.3,495.0 1246.0,496.4 1246.8,496.3 1247.5,497.8 1248.3,497.9 1249.0,498.5 1249.8,499.2 1250.6,499.7 1251.3,500.5 1252.1,500.8 1252.9,500.3 1253.7,501.7 1254.4,501.6 1255.2,502.1 1256.0,503.1 1256.8,503.3 1257.6,504.2 1258.4,504.9 1259.2,505.6 1260.0,506.3 1260.8,506.9 1261.6,506.0 1262.4,507.5 1263.2,508.0 1264.0,508.1 1264.8,510.6 1265.6,509.5 1266.4,510.1 1267.3,510.7 1268.1,511.6 1268.9,512.1 1269.7,511.9 1270.6,512.3 1271.4,513.3 1272.2,514.2 1273.1,514.8 1273.9,515.6 1274.8,516.8 1275.6,516.7 1276.5,517.9 1277.3,519.1 1278.2,518.9 1279.0,519.7 1279.9,520.3 1280.7,521.0 1281.6,522.1 1282.5,522.4 1283.3,523.1 1284.2,524.3 1285.1,523.9 1286.0,524.3 1286.8,525.4 1287.7,526.0 1288.6,526.6 1289.5,527.0 1290.4,528.3 1291.3,528.3 1292.2,529.0 1293.1,529.9 1294.0,530.0 1294.9,530.9 1295.8,531.1 1296.7,531.0 1297.6,531.0 1298.5,532.7 1299.4,533.6 1300.3,532.8 1301.3,534.5 1302.2,534.2 1303.1,534.9 1304.0,535.3 1305.0,536.0 1305.9,537.1 1306.8,536.5 1307.8,537.5 1308.7,538.3 1309.6,538.2 1310.6,539.2 1311.5,538.1 1312.5,539.5 1313.4,540.7 1314.4,540.8 1315.3,541.6 1316.3,542.2 1317.2,542.7 1318.2,542.8 1319.2,543.0 1320.1,543.6 1321.1,544.3 1322.1,544.4 1323.0,544.5 1324.0,545.8 1325.0,545.3 1326.0,545.7 1327.0,547.4 1327.9,547.3 1328.9,547.9 1329.9,548.0 1330.9,547.9 1331.9,548.7 1332.9,550.0 1333.9,549.8 1334.9,550.5 1335.9,550.1 1336.9,551.5 1337.9,552.2 1338.9,552.4 1339.9,553.0 1341.0,554.0 1342.0,554.2 1343.0,554.7 1344.0,555.3 1345.0,555.8 1346.1,555.5 1347.1,556.0 1348.1,555.7 1349.2,557.3 1350.2,557.5 1351.2,557.8 1352.3,557.0 1353.3,558.3 1354.4,557.8 1355.4,560.3 1356.5,559.6 1357.5,558.3 1358.6,560.0 1359.6,559.5 1360.7,560.7 1361.7,561.3 1362.8,560.6 1363.9,561.0 1364.9,561.3 1366.0,560.4 1367.1,562.2 1368.1,562.1 1369.2,561.6 1370.3,561.8 1371.4,563.0 1372.4,562.5" fill="none" stroke="#d62728" stroke-width="1.75" stroke-linejoin="round" clip-path="url(#cp2)"/>
<polyline points="1174.3,342.3 1174.3,342.3 1174.3,344.0 1174.4,344.9 1174.5,346.4 1174.5,347.4 1174.6,349.2 1174.7,349.7 1174.9,353.6 1175.0,354.0 1175.1,357.0 1175.3,358.8 1175.4,359.7 1175.6,363.7 1175.7,365.2 1175.9,368.1 1176.1,369.0 1176.3,372.4 1176.5,373.4 1176.7,376.1 1176.9,376.6 1177.1,381.0 1177.3,379.9 1177.5,382.7 1177.8,385.5 1178.0,387.3 1178.2,387.6 1178.5,389.5 1178.7,391.1 1179.0,391.2 1179.3,393.6 1179.5,396.0 1179.8,395.6 1180.1,397.6 1180.4,399.0 1180.7,400.4 1181.0,401.9 1181.3,403.8 1181.6,404.8 1181.9,407.4 1182.2,407.8 1182.5,410.4 1182.8,410.7 1183.2,412.7 1183.5,413.6 1183.8,415.5 1184.2,416.8 1184.5,418.4 1184.9,419.5 1185.2,419.8 1185.6,421.6 1186.0,422.6 1186.3,425.0 1186.7,425.0 1187.1,426.4 1187.5,428.3 1187.8,429.4 1188.2,429.9 1188.6,431.2 1189.0,431.4 1189.4,432.6 1189.8,434.0 1190.2,435.7 1190.7,435.5 1191.1,437.2 1191.5,437.3 1191.9,438.0 1192.4,438.8 1192.8,439.6 1193.2,441.0 1193.7,441.7 1194.1,443.4 1194.6,442.6 1195.0,443.2 1195.5,444.5 1195.9,445.8 1196.4,445.7 1196.9,447.0 1197.3,447.5 1197.8,447.1 1198.3,448.9 1198.8,450.0 1199.3,450.0 1199.8,451.1 1200.2,452.3 1200.7,452.3 1201.2,452.5 1201.7,454.1 1202.3,453.8 1202.8,455.4 1203.3,456.7 1203.8,456.5 1204.3,457.8 1204.8,457.5 1205.4,459.1 1205.9,459.5 1206.4,460.4 1207.0,460.7 1207.5,461.2 1208.1,462.3 1208.6,463.7 1209.2,463.2 1209.7,464.1 1210.3,466.1 1210.8,465.2 1211.4,466.8 1212.0,467.2 1212.5,467.6 1213.1,467.9 1213.7,469.4 1214.3,470.3 1214.9,470.7 1215.4,471.2 1216.0,473.0 1216.6,473.3 1217.2,473.8 1217.8,474.7 1218.4,475.2 1219.0,475.7 1219.6,476.5 1220.2,476.5 1220.9,478.1 1221.5,478.3 1222.1,479.0 1222.7,479.0 1223.4,479.3 1224.0,481.4 1224.6,481.8 1225.3,482.8 1225.9,483.2 1226.5,483.9 1227.2,484.7 1227.8,485.6 1228.5,486.0 1229.1,487.6 1229.8,486.4 1230.4,488.2 1231.1,489.2 1231.8,488.5 1232.4,489.7 1233.1,489.2 1233.8,491.4 1234.5,491.2 1235.1,492.4 1235.8,492.5 1236.5,493.6 1237.2,493.9 1237.9,494.7 1238.6,495.1 1239.3,494.7 1240.0,496.1 1240.7,496.1 1241.4,497.5 1242.1,497.4 1242.8,499.0 1243.5,499.5 1244.2,499.1 1245.0,500.3 1245.7,501.9 1246.4,501.5 1247.1,502.4 1247.9,502.3 1248.6,503.2 1249.3,503.4 1250.1,504.4 1250.8,505.5 1251.6,506.6 1252.3,506.9 1253.1,507.3 1253.8,509.0 1254.6,507.8 1255.3,509.7 1256.1,509.0 1256.8,509.7 1257.6,509.4 1258.4,510.9 1259.1,512.1 1259.9,512.4 1260.7,512.5 1261.5,512.7 1262.2,514.6 1263.0,514.1 1263.8,514.5 1264.6,516.7 1265.4,517.7 1266.2,518.4 1267.0,518.1 1267.8,517.5 1268.6,519.4 1269.4,520.6 1270.2,519.6 1271.0,522.1 1271.8,522.2 1272.6,521.7 1273.5,522.4 1274.3,524.1 1275.1,523.4 1275.9,524.9 1276.7,524.8 1277.6,525.5 1278.4,525.8 1279.2,526.6 1280.1,528.3 1280.9,528.6 1281.8,529.0 1282.6,529.9 1283.4,530.2 1284.3,530.8 1285.2,531.0 1286.0,531.1 1286.9,532.6 1287.7,533.0 1288.6,535.3 1289.4,534.8 1290.3,535.2 1291.2,535.8 1292.1,536.6 1292.9,536.8 1293.8,538.0 1294.7,538.6 1295.6,538.9 1296.4,538.7 1297.3,539.9 1298.2,541.2 1299.1,542.1 1300.0,542.2 1300.9,542.7 1301.8,543.7 1302.7,543.8 1303.6,543.8 1304.5,544.7 1305.4,544.8 1306.3,546.3 1307.2,545.9 1308.1,546.8 1309.1,547.4 1310.0,548.7 1310.9,549.5 1311.8,549.8 1312.8,550.1 1313.7,551.8 1314.6,552.2 1315.5,552.3 1316.5,552.1 1317.4,552.9 1318.4,552.7 1319.3,554.5 1320.2,555.1 1321.2,554.7 1322.1,555.5 1323.1,555.2 1324.0,556.4 1325.0,556.8 1326.0,557.7 1326.9,557.7 1327.9,558.5 1328.9,559.2 1329.8,559.5 1330.8,560.2 1331.8,560.7 1332.7,560.8 1333.7,560.7 1334.7,561.6 1335.7,561.7 1336.7,562.8 1337.6,563.8 1338.6,563.4 1339.6,564.8 1340.6,565.3 1341.6,565.1 1342.6,566.8 1343.6,566.4 1344.6,566.7 1345.6,565.8 1346.6,566.9 1347.6,567.7 1348.6,568.7 1349.6,567.5 1350.7,568.9 1351.7,570.1 1352.7,568.4 1353.7,569.4 1354.7,570.0 1355.8,569.8 1356.8,570.7 1357.8,570.5 1358.8,571.2 1359.9,570.9 1360.9,571.2 1362.0,572.2 1363.0,573.1 1364.0,573.0 1365.1,571.9 1366.1,574.1 1367.2,573.4 1368.2,574.1 1369.3,574.1 1370.3,574.3 1371.4,574.3 1372.4,574.7" fill="none" stroke="#2ca02c" stroke-width="1.75" stroke-linejoin="round" clip-path="url(#cp2)"/>
<path d="M1460.5,378.3 L1460.5,579.2" stroke="#f3f3f3" stroke-width="0.8"/><path d="M1501.6,378.3 L1501.6,579.2" stroke="#f3f3f3" stroke-width="0.8"/><path d="M1542.7,378.3 L1542.7,579.2" stroke="#f3f3f3" stroke-width="0.8"/><path d="M1583.9,378.3 L1583.9,579.2" stroke="#f3f3f3" stroke-width="0.8"/><path d="M1625.0,378.3 L1625.0,579.2" stroke="#f3f3f3" stroke-width="0.8"/><path d="M1666.1,378.3 L1666.1,579.2" stroke="#f3f3f3" stroke-width="0.8"/><path d="M1450.2,378.3 L1676.4,378.3" stroke="#f3f3f3" stroke-width="0.8"/><path d="M1450.2,428.5 L1676.4,428.5" stroke="#f3f3f3" stroke-width="0.8"/><path d="M1450.2,478.8 L1676.4,478.8" stroke="#f3f3f3" stroke-width="0.8"/><path d="M1450.2,529.0 L1676.4,529.0" stroke="#f3f3f3" stroke-width="0.8"/><path d="M1450.2,579.2 L1676.4,579.2" stroke="#f3f3f3" stroke-width="0.8"/><path d="M1450.2,378.3 L1450.2,579.2 L1676.4,579.2" stroke="#d9d9d9" stroke-width="1" fill="none"/><text x="1460.5" y="590.8" font-size="11.5" fill="#3c3c3c" text-anchor="middle">0</text><text x="1501.6" y="590.8" font-size="11.5" fill="#3c3c3c" text-anchor="middle">100</text><text x="1542.7" y="590.8" font-size="11.5" fill="#3c3c3c" text-anchor="middle">200</text><text x="1583.9" y="590.8" font-size="11.5" fill="#3c3c3c" text-anchor="middle">300</text><text x="1625.0" y="590.8" font-size="11.5" fill="#3c3c3c" text-anchor="middle">400</text><text x="1666.1" y="590.8" font-size="11.5" fill="#3c3c3c" text-anchor="middle">500</text><text x="1445.6" y="382.4" font-size="11.5" fill="#3c3c3c" text-anchor="end">2.19</text><text x="1445.6" y="432.7" font-size="11.5" fill="#3c3c3c" text-anchor="end">2.12</text><text x="1445.6" y="482.9" font-size="11.5" fill="#3c3c3c" text-anchor="end">2.05</text><text x="1445.6" y="533.1" font-size="11.5" fill="#3c3c3c" text-anchor="end">1.98</text><text x="1445.6" y="583.3" font-size="11.5" fill="#3c3c3c" text-anchor="end">1.91</text><text x="1563.3" y="360.7" font-size="13.4" font-weight="bold" fill="#333" text-anchor="middle">8×3.7B Training Loss</text><text x="1563.3" y="375.4" font-size="13.4" font-weight="bold" fill="#333" text-anchor="middle">(Lower is better)</text><text x="1563.3" y="603.5" font-size="12.75" fill="#3c3c3c" text-anchor="middle">Processed Tokens (Billions)</text><text x="1418.7" y="478.8" font-size="12.75" fill="#3c3c3c" text-anchor="middle" transform="rotate(-90 1418.7 478.8)">Cross Entropy</text>
<clipPath id="cp3"><rect x="1450.2" y="377.8" width="226.2" height="201.9"/></clipPath>
<polyline points="1509.8,350.3 1509.9,348.9 1509.9,350.4 1509.9,349.9 1510.0,350.5 1510.1,350.6 1510.1,352.1 1510.2,350.8 1510.3,352.0 1510.4,353.1 1510.5,352.3 1510.6,353.6 1510.8,354.6 1510.9,355.3 1511.0,354.8 1511.1,355.7 1511.3,357.0 1511.4,357.2 1511.6,359.3 1511.7,358.5 1511.9,359.7 1512.1,360.7 1512.2,361.4 1512.4,361.4 1512.6,364.3 1512.8,362.7 1513.0,363.6 1513.2,365.5 1513.4,365.5 1513.6,367.7 1513.8,368.2 1514.0,369.1 1514.2,368.8 1514.4,370.6 1514.7,371.2 1514.9,372.1 1515.1,371.9 1515.4,374.3 1515.6,374.4 1515.8,374.4 1516.1,375.1 1516.3,376.6 1516.6,377.1 1516.9,377.1 1517.1,378.7 1517.4,378.7 1517.7,378.9 1517.9,380.8 1518.2,381.4 1518.5,382.9 1518.8,382.2 1519.1,382.6 1519.4,383.3 1519.7,385.2 1520.0,384.2 1520.3,384.6 1520.6,385.9 1520.9,387.1 1521.2,387.8 1521.5,387.7 1521.8,389.1 1522.1,389.5 1522.5,389.6 1522.8,390.5 1523.1,391.1 1523.4,391.7 1523.8,391.1 1524.1,392.9 1524.5,392.7 1524.8,393.5 1525.2,393.7 1525.5,394.6 1525.9,395.0 1526.2,395.5 1526.6,396.1 1526.9,396.2 1527.3,396.5 1527.7,397.8 1528.0,397.9 1528.4,399.9 1528.8,399.1 1529.2,399.6 1529.6,400.2 1529.9,401.1 1530.3,400.8 1530.7,401.9 1531.1,402.8 1531.5,402.2 1531.9,402.7 1532.3,404.5 1532.7,404.4 1533.1,405.3 1533.5,404.4 1534.0,405.3 1534.4,405.8 1534.8,407.3 1535.2,406.6 1535.6,408.0 1536.1,408.2 1536.5,408.7 1536.9,409.2 1537.4,410.1 1537.8,410.1 1538.2,411.1 1538.7,411.1 1539.1,412.8 1539.6,413.0 1540.0,412.8 1540.5,414.3 1540.9,413.8 1541.4,414.4 1541.9,415.1 1542.3,416.3 1542.8,416.4 1543.2,417.0 1543.7,417.6 1544.2,419.2 1544.7,419.4 1545.1,418.1 1545.6,420.4 1546.1,421.2 1546.6,421.9 1547.1,421.8 1547.6,422.9 1548.1,423.1 1548.6,423.7 1549.1,424.1 1549.5,425.0 1550.1,426.8 1550.6,426.2 1551.1,426.8 1551.6,427.2 1552.1,428.0 1552.6,429.2 1553.1,429.4 1553.6,430.9 1554.1,429.9 1554.7,431.2 1555.2,432.0 1555.7,432.6 1556.2,433.6 1556.8,434.4 1557.3,434.4 1557.9,435.1 1558.4,436.4 1558.9,437.2 1559.5,437.4 1560.0,438.0 1560.6,437.7 1561.1,438.5 1561.7,440.1 1562.2,440.6 1562.8,441.1 1563.3,440.8 1563.9,443.0 1564.5,443.0 1565.0,443.5 1565.6,443.4 1566.2,445.2 1566.7,445.6 1567.3,446.9 1567.9,447.1 1568.5,448.2 1569.0,448.7 1569.6,449.7 1570.2,450.2 1570.8,449.6 1571.4,452.2 1572.0,452.3 1572.6,452.3 1573.2,454.0 1573.8,455.0 1574.4,454.9 1575.0,454.6 1575.6,456.1 1576.2,456.7 1576.8,458.1 1577.4,458.4 1578.0,460.1 1578.6,459.0 1579.2,460.7 1579.8,461.3 1580.5,462.3 1581.1,462.5 1581.7,462.3 1582.3,464.3 1583.0,463.6 1583.6,465.9 1584.2,466.9 1584.9,466.8 1585.5,468.0 1586.1,467.2 1586.8,469.4 1587.4,469.8 1588.1,471.0 1588.7,471.9 1589.3,471.0 1590.0,472.1 1590.6,473.5 1591.3,473.7 1592.0,474.0 1592.6,475.0 1593.3,476.4 1593.9,476.4 1594.6,477.1 1595.3,479.1 1595.9,478.6 1596.6,479.8 1597.3,480.0 1597.9,481.3 1598.6,481.8 1599.3,482.2 1600.0,482.8 1600.7,483.6 1601.3,483.8 1602.0,485.4 1602.7,486.2 1603.4,485.6 1604.1,486.7 1604.8,487.8 1605.5,488.8 1606.2,488.6 1606.9,489.4 1607.6,489.9 1608.3,491.3 1609.0,491.5 1609.7,492.1 1610.4,493.0 1611.1,493.9 1611.8,494.4 1612.5,495.6 1613.2,495.4 1614.0,496.1 1614.7,496.8 1615.4,497.9 1616.1,497.8 1616.9,498.0 1617.6,499.6 1618.3,499.5 1619.0,500.8 1619.8,500.8 1620.5,502.2 1621.2,502.0 1622.0,502.4 1622.7,502.4 1623.5,503.8 1624.2,504.9 1624.9,504.8 1625.7,505.5 1626.4,505.9 1627.2,505.8 1627.9,508.0 1628.7,506.8 1629.5,508.1 1630.2,509.0 1631.0,509.7 1631.7,509.8 1632.5,509.4 1633.3,510.1 1634.0,511.4 1634.8,511.3 1635.6,510.6 1636.3,512.8 1637.1,512.8 1637.9,513.4 1638.7,513.5 1639.4,513.7 1640.2,515.3 1641.0,514.8 1641.8,514.7 1642.6,515.7 1643.4,516.1 1644.1,516.7 1644.9,517.5 1645.7,517.0 1646.5,518.5 1647.3,518.8 1648.1,518.9 1648.9,519.3 1649.7,519.6 1650.5,520.1 1651.3,519.9 1652.1,519.7 1652.9,520.8 1653.7,520.5 1654.6,520.7 1655.4,521.6 1656.2,521.7 1657.0,521.9 1657.8,521.3 1658.6,523.1 1659.5,521.6 1660.3,523.1 1661.1,523.2 1661.9,523.4 1662.8,524.6 1663.6,523.6 1664.4,523.3 1665.3,524.3 1666.1,524.1" fill="none" stroke="#1f77b4" stroke-width="1.75" stroke-linejoin="round" clip-path="url(#cp3)"/>
<polyline points="1472.0,350.6 1472.0,350.1 1472.1,350.8 1472.1,351.5 1472.2,352.6 1472.3,352.5 1472.4,353.4 1472.5,354.5 1472.6,356.9 1472.7,357.4 1472.9,359.2 1473.0,361.4 1473.1,362.6 1473.3,363.9 1473.5,365.2 1473.6,366.9 1473.8,369.1 1474.0,370.3 1474.2,371.9 1474.4,372.8 1474.6,374.3 1474.8,376.5 1475.0,377.7 1475.2,378.9 1475.4,380.4 1475.7,381.1 1475.9,383.3 1476.2,383.2 1476.4,384.7 1476.7,386.8 1476.9,387.2 1477.2,388.5 1477.4,388.5 1477.7,389.9 1478.0,391.7 1478.3,392.4 1478.6,392.7 1478.9,393.2 1479.2,394.4 1479.5,395.7 1479.8,395.9 1480.1,396.9 1480.4,398.8 1480.7,399.5 1481.1,400.0 1481.4,401.5 1481.7,403.7 1482.1,402.5 1482.4,404.5 1482.8,404.9 1483.1,406.3 1483.5,406.1 1483.8,408.0 1484.2,408.2 1484.6,410.4 1484.9,409.1 1485.3,409.9 1485.7,411.9 1486.1,412.4 1486.5,413.5 1486.9,413.0 1487.3,415.3 1487.7,416.6 1488.1,417.4 1488.5,416.8 1488.9,416.9 1489.3,418.9 1489.7,419.5 1490.2,419.7 1490.6,421.0 1491.0,421.8 1491.5,422.9 1491.9,424.4 1492.3,425.1 1492.8,425.4 1493.2,427.3 1493.7,427.0 1494.2,427.7 1494.6,428.0 1495.1,429.2 1495.6,429.7 1496.0,430.7 1496.5,430.6 1497.0,431.9 1497.5,432.7 1498.0,433.8 1498.4,433.4 1498.9,436.5 1499.4,435.5 1499.9,436.9 1500.4,437.5 1500.9,438.1 1501.5,438.4 1502.0,439.2 1502.5,440.8 1503.0,440.4 1503.5,442.5 1504.1,442.6 1504.6,443.3 1505.1,444.4 1505.7,444.2 1506.2,445.4 1506.7,446.2 1507.3,448.0 1507.8,449.1 1508.4,448.3 1508.9,450.3 1509.5,450.8 1510.1,451.0 1510.6,452.3 1511.2,452.4 1511.8,453.6 1512.3,454.2 1512.9,455.0 1513.5,455.9 1514.1,456.8 1514.7,456.8 1515.3,458.1 1515.9,457.9 1516.5,458.1 1517.1,460.0 1517.7,461.2 1518.3,460.6 1518.9,462.6 1519.5,463.1 1520.1,462.5 1520.7,464.7 1521.3,464.5 1522.0,465.9 1522.6,465.7 1523.2,466.3 1523.8,466.9 1524.5,467.4 1525.1,468.5 1525.8,470.6 1526.4,470.0 1527.0,470.3 1527.7,471.2 1528.3,471.8 1529.0,472.3 1529.7,472.8 1530.3,474.4 1531.0,473.8 1531.6,474.7 1532.3,475.6 1533.0,476.8 1533.7,476.6 1534.3,477.3 1535.0,478.5 1535.7,479.0 1536.4,479.3 1537.1,480.1 1537.8,480.7 1538.5,480.2 1539.1,481.3 1539.8,481.7 1540.5,482.8 1541.3,484.8 1542.0,483.6 1542.7,484.5 1543.4,484.5 1544.1,486.8 1544.8,487.1 1545.5,487.7 1546.3,487.5 1547.0,489.7 1547.7,488.8 1548.4,490.0 1549.2,490.6 1549.9,490.2 1550.7,491.5 1551.4,493.1 1552.1,493.2 1552.9,494.0 1553.6,495.0 1554.4,496.4 1555.1,496.6 1555.9,498.2 1556.7,498.0 1557.4,498.2 1558.2,498.4 1559.0,498.9 1559.7,500.2 1560.5,500.6 1561.3,500.3 1562.0,503.3 1562.8,504.1 1563.6,503.8 1564.4,504.8 1565.2,504.9 1566.0,506.3 1566.8,506.6 1567.6,506.8 1568.4,507.5 1569.2,508.2 1570.0,508.6 1570.8,509.7 1571.6,510.4 1572.4,510.9 1573.2,511.7 1574.0,511.9 1574.8,512.4 1575.6,513.2 1576.5,514.9 1577.3,515.3 1578.1,516.0 1578.9,515.4 1579.8,517.1 1580.6,517.1 1581.4,518.8 1582.3,518.1 1583.1,519.0 1584.0,520.0 1584.8,521.2 1585.7,520.2 1586.5,522.4 1587.4,523.1 1588.2,523.2 1589.1,523.6 1589.9,525.5 1590.8,526.3 1591.7,525.7 1592.5,527.6 1593.4,527.8 1594.3,528.3 1595.2,528.8 1596.0,530.2 1596.9,530.0 1597.8,531.3 1598.7,531.7 1599.6,533.6 1600.5,534.3 1601.3,534.7 1602.2,535.3 1603.1,534.9 1604.0,536.3 1604.9,536.9 1605.8,536.8 1606.7,537.2 1607.6,538.7 1608.6,539.9 1609.5,540.8 1610.4,540.7 1611.3,541.8 1612.2,542.4 1613.1,542.6 1614.1,544.2 1615.0,544.2 1615.9,544.6 1616.8,546.5 1617.8,546.8 1618.7,547.3 1619.6,547.9 1620.6,549.3 1621.5,549.2 1622.5,549.8 1623.4,550.9 1624.4,551.6 1625.3,551.9 1626.3,552.7 1627.2,553.1 1628.2,553.7 1629.1,554.7 1630.1,554.5 1631.0,556.2 1632.0,556.6 1633.0,556.2 1633.9,557.4 1634.9,557.5 1635.9,558.1 1636.9,559.7 1637.8,560.3 1638.8,561.0 1639.8,560.5 1640.8,561.5 1641.8,562.1 1642.8,561.9 1643.8,563.1 1644.8,564.1 1645.7,563.9 1646.7,564.3 1647.7,565.3 1648.7,564.2 1649.8,565.9 1650.8,566.3 1651.8,566.3 1652.8,567.3 1653.8,567.7 1654.8,567.9 1655.8,569.0 1656.8,567.5 1657.9,569.6 1658.9,569.8 1659.9,570.8 1660.9,570.3 1662.0,571.6 1663.0,571.3 1664.0,571.3 1665.1,571.6 1666.1,571.8" fill="none" stroke="#2ca02c" stroke-width="1.75" stroke-linejoin="round" clip-path="url(#cp3)"/>
<path d="M905.3,640.0 L905.3,840.2" stroke="#f3f3f3" stroke-width="0.8"/><path d="M948.6,640.0 L948.6,840.2" stroke="#f3f3f3" stroke-width="0.8"/><path d="M991.9,640.0 L991.9,840.2" stroke="#f3f3f3" stroke-width="0.8"/><path d="M1035.3,640.0 L1035.3,840.2" stroke="#f3f3f3" stroke-width="0.8"/><path d="M1078.6,640.0 L1078.6,840.2" stroke="#f3f3f3" stroke-width="0.8"/><path d="M862.5,640.0 L1088.9,640.0" stroke="#f3f3f3" stroke-width="0.8"/><path d="M862.5,690.0 L1088.9,690.0" stroke="#f3f3f3" stroke-width="0.8"/><path d="M862.5,740.1 L1088.9,740.1" stroke="#f3f3f3" stroke-width="0.8"/><path d="M862.5,790.2 L1088.9,790.2" stroke="#f3f3f3" stroke-width="0.8"/><path d="M862.5,840.2 L1088.9,840.2" stroke="#f3f3f3" stroke-width="0.8"/><path d="M862.5,640.0 L862.5,840.2 L1088.9,840.2" stroke="#d9d9d9" stroke-width="1" fill="none"/><text x="905.3" y="851.7" font-size="11.5" fill="#3c3c3c" text-anchor="middle">100</text><text x="948.6" y="851.7" font-size="11.5" fill="#3c3c3c" text-anchor="middle">200</text><text x="991.9" y="851.7" font-size="11.5" fill="#3c3c3c" text-anchor="middle">300</text><text x="1035.3" y="851.7" font-size="11.5" fill="#3c3c3c" text-anchor="middle">400</text><text x="1078.6" y="851.7" font-size="11.5" fill="#3c3c3c" text-anchor="middle">500</text><text x="857.9" y="644.1" font-size="11.5" fill="#3c3c3c" text-anchor="end">20</text><text x="857.9" y="694.2" font-size="11.5" fill="#3c3c3c" text-anchor="end">18</text><text x="857.9" y="744.2" font-size="11.5" fill="#3c3c3c" text-anchor="end">16</text><text x="857.9" y="794.3" font-size="11.5" fill="#3c3c3c" text-anchor="end">14</text><text x="857.9" y="844.3" font-size="11.5" fill="#3c3c3c" text-anchor="end">12</text><text x="975.7" y="622.6" font-size="13.4" font-weight="bold" fill="#333" text-anchor="middle">8×152M Downstream Task Score</text><text x="975.7" y="637.2" font-size="13.4" font-weight="bold" fill="#333" text-anchor="middle">(Higher is better)</text><text x="975.7" y="864.6" font-size="12.75" fill="#3c3c3c" text-anchor="middle">Processed Tokens (Billions)</text><text x="841.0" y="740.1" font-size="12.75" fill="#3c3c3c" text-anchor="middle" transform="rotate(-90 841.0 740.1)">Average Score</text>
<clipPath id="cp4"><rect x="861.5" y="631.5" width="233.4" height="209.2"/></clipPath>
<g clip-path="url(#cp4)"><polyline points="872.8,865.2 883.6,805.2 894.5,788.1 905.3,722.6 916.1,752.6 927.0,760.1 937.8,750.1 948.6,752.6 959.5,732.6 970.3,725.1 981.1,752.6 991.9,695.1 1002.8,715.1 1013.6,710.1 1024.4,720.1 1035.3,727.6 1046.1,735.1 1056.9,737.6 1067.8,742.6 1078.6,725.1" fill="none" stroke="#1f77b4" stroke-width="1.5" stroke-linejoin="round"/><circle cx="872.8" cy="865.2" r="3.1" fill="#1f77b4" stroke="#fff" stroke-width="0.7"/><circle cx="883.6" cy="805.2" r="3.1" fill="#1f77b4" stroke="#fff" stroke-width="0.7"/><circle cx="894.5" cy="788.1" r="3.1" fill="#1f77b4" stroke="#fff" stroke-width="0.7"/><circle cx="905.3" cy="722.6" r="3.1" fill="#1f77b4" stroke="#fff" stroke-width="0.7"/><circle cx="916.1" cy="752.6" r="3.1" fill="#1f77b4" stroke="#fff" stroke-width="0.7"/><circle cx="927.0" cy="760.1" r="3.1" fill="#1f77b4" stroke="#fff" stroke-width="0.7"/><circle cx="937.8" cy="750.1" r="3.1" fill="#1f77b4" stroke="#fff" stroke-width="0.7"/><circle cx="948.6" cy="752.6" r="3.1" fill="#1f77b4" stroke="#fff" stroke-width="0.7"/><circle cx="959.5" cy="732.6" r="3.1" fill="#1f77b4" stroke="#fff" stroke-width="0.7"/><circle cx="970.3" cy="725.1" r="3.1" fill="#1f77b4" stroke="#fff" stroke-width="0.7"/><circle cx="981.1" cy="752.6" r="3.1" fill="#1f77b4" stroke="#fff" stroke-width="0.7"/><circle cx="991.9" cy="695.1" r="3.1" fill="#1f77b4" stroke="#fff" stroke-width="0.7"/><circle cx="1002.8" cy="715.1" r="3.1" fill="#1f77b4" stroke="#fff" stroke-width="0.7"/><circle cx="1013.6" cy="710.1" r="3.1" fill="#1f77b4" stroke="#fff" stroke-width="0.7"/><circle cx="1024.4" cy="720.1" r="3.1" fill="#1f77b4" stroke="#fff" stroke-width="0.7"/><circle cx="1035.3" cy="727.6" r="3.1" fill="#1f77b4" stroke="#fff" stroke-width="0.7"/><circle cx="1046.1" cy="735.1" r="3.1" fill="#1f77b4" stroke="#fff" stroke-width="0.7"/><circle cx="1056.9" cy="737.6" r="3.1" fill="#1f77b4" stroke="#fff" stroke-width="0.7"/><circle cx="1067.8" cy="742.6" r="3.1" fill="#1f77b4" stroke="#fff" stroke-width="0.7"/><circle cx="1078.6" cy="725.1" r="3.1" fill="#1f77b4" stroke="#fff" stroke-width="0.7"/></g>
<g clip-path="url(#cp4)"><polyline points="872.8,780.1 883.6,767.6 894.5,782.6 905.3,722.6 916.1,737.6 927.0,722.6 937.8,727.6 948.6,725.1 959.5,717.6 970.3,707.6 981.1,715.1 991.9,700.1 1002.8,700.1 1013.6,702.6 1024.4,700.1 1035.3,697.6 1046.1,700.1 1056.9,692.6 1067.8,695.1 1078.6,692.6" fill="none" stroke="#ff7f0e" stroke-width="1.5" stroke-linejoin="round"/><path d="M872.8,777.1 L875.8,782.5 L869.8,782.5 Z" fill="#ff7f0e" stroke="#fff" stroke-width="0.7"/><path d="M883.6,764.6 L886.6,770.0 L880.6,770.0 Z" fill="#ff7f0e" stroke="#fff" stroke-width="0.7"/><path d="M894.5,779.6 L897.5,785.0 L891.5,785.0 Z" fill="#ff7f0e" stroke="#fff" stroke-width="0.7"/><path d="M905.3,719.6 L908.3,725.0 L902.3,725.0 Z" fill="#ff7f0e" stroke="#fff" stroke-width="0.7"/><path d="M916.1,734.6 L919.1,740.0 L913.1,740.0 Z" fill="#ff7f0e" stroke="#fff" stroke-width="0.7"/><path d="M927.0,719.6 L930.0,725.0 L924.0,725.0 Z" fill="#ff7f0e" stroke="#fff" stroke-width="0.7"/><path d="M937.8,724.6 L940.8,730.0 L934.8,730.0 Z" fill="#ff7f0e" stroke="#fff" stroke-width="0.7"/><path d="M948.6,722.1 L951.6,727.5 L945.6,727.5 Z" fill="#ff7f0e" stroke="#fff" stroke-width="0.7"/><path d="M959.5,714.6 L962.5,720.0 L956.5,720.0 Z" fill="#ff7f0e" stroke="#fff" stroke-width="0.7"/><path d="M970.3,704.6 L973.3,710.0 L967.3,710.0 Z" fill="#ff7f0e" stroke="#fff" stroke-width="0.7"/><path d="M981.1,712.1 L984.1,717.5 L978.1,717.5 Z" fill="#ff7f0e" stroke="#fff" stroke-width="0.7"/><path d="M991.9,697.1 L994.9,702.5 L988.9,702.5 Z" fill="#ff7f0e" stroke="#fff" stroke-width="0.7"/><path d="M1002.8,697.1 L1005.8,702.5 L999.8,702.5 Z" fill="#ff7f0e" stroke="#fff" stroke-width="0.7"/><path d="M1013.6,699.6 L1016.6,705.0 L1010.6,705.0 Z" fill="#ff7f0e" stroke="#fff" stroke-width="0.7"/><path d="M1024.4,697.1 L1027.4,702.5 L1021.4,702.5 Z" fill="#ff7f0e" stroke="#fff" stroke-width="0.7"/><path d="M1035.3,694.6 L1038.3,700.0 L1032.3,700.0 Z" fill="#ff7f0e" stroke="#fff" stroke-width="0.7"/><path d="M1046.1,697.1 L1049.1,702.5 L1043.1,702.5 Z" fill="#ff7f0e" stroke="#fff" stroke-width="0.7"/><path d="M1056.9,689.6 L1059.9,695.0 L1053.9,695.0 Z" fill="#ff7f0e" stroke="#fff" stroke-width="0.7"/><path d="M1067.8,692.1 L1070.8,697.5 L1064.8,697.5 Z" fill="#ff7f0e" stroke="#fff" stroke-width="0.7"/><path d="M1078.6,689.6 L1081.6,695.0 L1075.6,695.0 Z" fill="#ff7f0e" stroke="#fff" stroke-width="0.7"/></g>
<g clip-path="url(#cp4)"><polyline points="872.8,762.6 883.6,737.6 894.5,760.1 905.3,717.6 916.1,712.6 927.0,717.6 937.8,717.6 948.6,715.1 959.5,700.1 970.3,687.5 981.1,695.1 991.9,695.1 1002.8,695.1 1013.6,687.5 1024.4,702.6 1035.3,692.6 1046.1,697.6 1056.9,690.0 1067.8,695.1 1078.6,677.5" fill="none" stroke="#d62728" stroke-width="1.5" stroke-linejoin="round"/><rect x="869.9" y="759.7" width="5.8" height="5.8" fill="#d62728" stroke="#fff" stroke-width="0.7"/><rect x="880.7" y="734.7" width="5.8" height="5.8" fill="#d62728" stroke="#fff" stroke-width="0.7"/><rect x="891.6" y="757.2" width="5.8" height="5.8" fill="#d62728" stroke="#fff" stroke-width="0.7"/><rect x="902.4" y="714.7" width="5.8" height="5.8" fill="#d62728" stroke="#fff" stroke-width="0.7"/><rect x="913.2" y="709.7" width="5.8" height="5.8" fill="#d62728" stroke="#fff" stroke-width="0.7"/><rect x="924.1" y="714.7" width="5.8" height="5.8" fill="#d62728" stroke="#fff" stroke-width="0.7"/><rect x="934.9" y="714.7" width="5.8" height="5.8" fill="#d62728" stroke="#fff" stroke-width="0.7"/><rect x="945.7" y="712.2" width="5.8" height="5.8" fill="#d62728" stroke="#fff" stroke-width="0.7"/><rect x="956.6" y="697.2" width="5.8" height="5.8" fill="#d62728" stroke="#fff" stroke-width="0.7"/><rect x="967.4" y="684.6" width="5.8" height="5.8" fill="#d62728" stroke="#fff" stroke-width="0.7"/><rect x="978.2" y="692.2" width="5.8" height="5.8" fill="#d62728" stroke="#fff" stroke-width="0.7"/><rect x="989.0" y="692.2" width="5.8" height="5.8" fill="#d62728" stroke="#fff" stroke-width="0.7"/><rect x="999.9" y="692.2" width="5.8" height="5.8" fill="#d62728" stroke="#fff" stroke-width="0.7"/><rect x="1010.7" y="684.6" width="5.8" height="5.8" fill="#d62728" stroke="#fff" stroke-width="0.7"/><rect x="1021.5" y="699.7" width="5.8" height="5.8" fill="#d62728" stroke="#fff" stroke-width="0.7"/><rect x="1032.4" y="689.7" width="5.8" height="5.8" fill="#d62728" stroke="#fff" stroke-width="0.7"/><rect x="1043.2" y="694.7" width="5.8" height="5.8" fill="#d62728" stroke="#fff" stroke-width="0.7"/><rect x="1054.0" y="687.1" width="5.8" height="5.8" fill="#d62728" stroke="#fff" stroke-width="0.7"/><rect x="1064.9" y="692.2" width="5.8" height="5.8" fill="#d62728" stroke="#fff" stroke-width="0.7"/><rect x="1075.7" y="674.6" width="5.8" height="5.8" fill="#d62728" stroke="#fff" stroke-width="0.7"/></g>
<g clip-path="url(#cp4)"><polyline points="872.8,802.7 883.6,767.6 894.5,760.1 905.3,752.6 916.1,742.6 927.0,747.6 937.8,752.6 948.6,695.1 959.5,712.6 970.3,700.1 981.1,705.1 991.9,690.0 1002.8,680.0 1013.6,687.5 1024.4,672.5 1035.3,671.3 1046.1,667.5 1056.9,671.3 1067.8,668.8 1078.6,666.3" fill="none" stroke="#98df8a" stroke-width="1.5" stroke-linejoin="round"/><path d="M872.8,805.4 L875.5,800.5 L870.1,800.5 Z" fill="#98df8a" stroke="#fff" stroke-width="0.7"/><path d="M883.6,770.3 L886.3,765.5 L880.9,765.5 Z" fill="#98df8a" stroke="#fff" stroke-width="0.7"/><path d="M894.5,762.8 L897.2,758.0 L891.8,758.0 Z" fill="#98df8a" stroke="#fff" stroke-width="0.7"/><path d="M905.3,755.3 L908.0,750.5 L902.6,750.5 Z" fill="#98df8a" stroke="#fff" stroke-width="0.7"/><path d="M916.1,745.3 L918.8,740.4 L913.4,740.4 Z" fill="#98df8a" stroke="#fff" stroke-width="0.7"/><path d="M927.0,750.3 L929.7,745.4 L924.3,745.4 Z" fill="#98df8a" stroke="#fff" stroke-width="0.7"/><path d="M937.8,755.3 L940.5,750.5 L935.1,750.5 Z" fill="#98df8a" stroke="#fff" stroke-width="0.7"/><path d="M948.6,697.8 L951.3,692.9 L945.9,692.9 Z" fill="#98df8a" stroke="#fff" stroke-width="0.7"/><path d="M959.5,715.3 L962.2,710.4 L956.8,710.4 Z" fill="#98df8a" stroke="#fff" stroke-width="0.7"/><path d="M970.3,702.8 L973.0,697.9 L967.6,697.9 Z" fill="#98df8a" stroke="#fff" stroke-width="0.7"/><path d="M981.1,707.8 L983.8,702.9 L978.4,702.9 Z" fill="#98df8a" stroke="#fff" stroke-width="0.7"/><path d="M991.9,692.8 L994.6,687.9 L989.2,687.9 Z" fill="#98df8a" stroke="#fff" stroke-width="0.7"/><path d="M1002.8,682.7 L1005.5,677.9 L1000.1,677.9 Z" fill="#98df8a" stroke="#fff" stroke-width="0.7"/><path d="M1013.6,690.2 L1016.3,685.4 L1010.9,685.4 Z" fill="#98df8a" stroke="#fff" stroke-width="0.7"/><path d="M1024.4,675.2 L1027.1,670.4 L1021.7,670.4 Z" fill="#98df8a" stroke="#fff" stroke-width="0.7"/><path d="M1035.3,674.0 L1038.0,669.1 L1032.6,669.1 Z" fill="#98df8a" stroke="#fff" stroke-width="0.7"/><path d="M1046.1,670.2 L1048.8,665.4 L1043.4,665.4 Z" fill="#98df8a" stroke="#fff" stroke-width="0.7"/><path d="M1056.9,674.0 L1059.6,669.1 L1054.2,669.1 Z" fill="#98df8a" stroke="#fff" stroke-width="0.7"/><path d="M1067.8,671.5 L1070.5,666.6 L1065.1,666.6 Z" fill="#98df8a" stroke="#fff" stroke-width="0.7"/><path d="M1078.6,669.0 L1081.3,664.1 L1075.9,664.1 Z" fill="#98df8a" stroke="#fff" stroke-width="0.7"/></g>
<g clip-path="url(#cp4)"><polyline points="872.8,752.6 883.6,735.1 894.5,730.1 905.3,705.1 916.1,710.1 927.0,715.1 937.8,722.6 948.6,717.6 959.5,707.6 970.3,695.1 981.1,672.5 991.9,685.0 1002.8,675.0 1013.6,670.0 1024.4,670.0 1035.3,665.0 1046.1,667.5 1056.9,680.0 1067.8,685.0 1078.6,675.0" fill="none" stroke="#9467bd" stroke-width="1.5" stroke-linejoin="round"/><circle cx="872.8" cy="752.6" r="2.6" fill="#9467bd" stroke="#fff" stroke-width="0.7"/><circle cx="883.6" cy="735.1" r="2.6" fill="#9467bd" stroke="#fff" stroke-width="0.7"/><circle cx="894.5" cy="730.1" r="2.6" fill="#9467bd" stroke="#fff" stroke-width="0.7"/><circle cx="905.3" cy="705.1" r="2.6" fill="#9467bd" stroke="#fff" stroke-width="0.7"/><circle cx="916.1" cy="710.1" r="2.6" fill="#9467bd" stroke="#fff" stroke-width="0.7"/><circle cx="927.0" cy="715.1" r="2.6" fill="#9467bd" stroke="#fff" stroke-width="0.7"/><circle cx="937.8" cy="722.6" r="2.6" fill="#9467bd" stroke="#fff" stroke-width="0.7"/><circle cx="948.6" cy="717.6" r="2.6" fill="#9467bd" stroke="#fff" stroke-width="0.7"/><circle cx="959.5" cy="707.6" r="2.6" fill="#9467bd" stroke="#fff" stroke-width="0.7"/><circle cx="970.3" cy="695.1" r="2.6" fill="#9467bd" stroke="#fff" stroke-width="0.7"/><circle cx="981.1" cy="672.5" r="2.6" fill="#9467bd" stroke="#fff" stroke-width="0.7"/><circle cx="991.9" cy="685.0" r="2.6" fill="#9467bd" stroke="#fff" stroke-width="0.7"/><circle cx="1002.8" cy="675.0" r="2.6" fill="#9467bd" stroke="#fff" stroke-width="0.7"/><circle cx="1013.6" cy="670.0" r="2.6" fill="#9467bd" stroke="#fff" stroke-width="0.7"/><circle cx="1024.4" cy="670.0" r="2.6" fill="#9467bd" stroke="#fff" stroke-width="0.7"/><circle cx="1035.3" cy="665.0" r="2.6" fill="#9467bd" stroke="#fff" stroke-width="0.7"/><circle cx="1046.1" cy="667.5" r="2.6" fill="#9467bd" stroke="#fff" stroke-width="0.7"/><circle cx="1056.9" cy="680.0" r="2.6" fill="#9467bd" stroke="#fff" stroke-width="0.7"/><circle cx="1067.8" cy="685.0" r="2.6" fill="#9467bd" stroke="#fff" stroke-width="0.7"/><circle cx="1078.6" cy="675.0" r="2.6" fill="#9467bd" stroke="#fff" stroke-width="0.7"/></g>
<g clip-path="url(#cp4)"><polyline points="872.8,740.1 883.6,715.1 894.5,727.6 905.3,717.6 916.1,707.6 927.0,702.6 937.8,692.6 948.6,682.5 959.5,685.0 970.3,692.6 981.1,680.0 991.9,657.5 1002.8,647.5 1013.6,657.5 1024.4,660.0 1035.3,657.5 1046.1,647.5 1056.9,665.0 1067.8,662.5 1078.6,647.5" fill="none" stroke="#2ca02c" stroke-width="1.5" stroke-linejoin="round"/><path d="M872.8,736.1 L876.8,740.1 L872.8,744.1 L868.8,740.1 Z" fill="#2ca02c" stroke="#fff" stroke-width="0.7"/><path d="M883.6,711.1 L887.6,715.1 L883.6,719.1 L879.6,715.1 Z" fill="#2ca02c" stroke="#fff" stroke-width="0.7"/><path d="M894.5,723.6 L898.5,727.6 L894.5,731.6 L890.5,727.6 Z" fill="#2ca02c" stroke="#fff" stroke-width="0.7"/><path d="M905.3,713.6 L909.3,717.6 L905.3,721.6 L901.3,717.6 Z" fill="#2ca02c" stroke="#fff" stroke-width="0.7"/><path d="M916.1,703.6 L920.1,707.6 L916.1,711.6 L912.1,707.6 Z" fill="#2ca02c" stroke="#fff" stroke-width="0.7"/><path d="M927.0,698.6 L931.0,702.6 L927.0,706.6 L923.0,702.6 Z" fill="#2ca02c" stroke="#fff" stroke-width="0.7"/><path d="M937.8,688.6 L941.8,692.6 L937.8,696.6 L933.8,692.6 Z" fill="#2ca02c" stroke="#fff" stroke-width="0.7"/><path d="M948.6,678.5 L952.6,682.5 L948.6,686.5 L944.6,682.5 Z" fill="#2ca02c" stroke="#fff" stroke-width="0.7"/><path d="M959.5,681.0 L963.5,685.0 L959.5,689.0 L955.5,685.0 Z" fill="#2ca02c" stroke="#fff" stroke-width="0.7"/><path d="M970.3,688.6 L974.3,692.6 L970.3,696.6 L966.3,692.6 Z" fill="#2ca02c" stroke="#fff" stroke-width="0.7"/><path d="M981.1,676.0 L985.1,680.0 L981.1,684.0 L977.1,680.0 Z" fill="#2ca02c" stroke="#fff" stroke-width="0.7"/><path d="M991.9,653.5 L995.9,657.5 L991.9,661.5 L987.9,657.5 Z" fill="#2ca02c" stroke="#fff" stroke-width="0.7"/><path d="M1002.8,643.5 L1006.8,647.5 L1002.8,651.5 L998.8,647.5 Z" fill="#2ca02c" stroke="#fff" stroke-width="0.7"/><path d="M1013.6,653.5 L1017.6,657.5 L1013.6,661.5 L1009.6,657.5 Z" fill="#2ca02c" stroke="#fff" stroke-width="0.7"/><path d="M1024.4,656.0 L1028.4,660.0 L1024.4,664.0 L1020.4,660.0 Z" fill="#2ca02c" stroke="#fff" stroke-width="0.7"/><path d="M1035.3,653.5 L1039.3,657.5 L1035.3,661.5 L1031.3,657.5 Z" fill="#2ca02c" stroke="#fff" stroke-width="0.7"/><path d="M1046.1,643.5 L1050.1,647.5 L1046.1,651.5 L1042.1,647.5 Z" fill="#2ca02c" stroke="#fff" stroke-width="0.7"/><path d="M1056.9,661.0 L1060.9,665.0 L1056.9,669.0 L1052.9,665.0 Z" fill="#2ca02c" stroke="#fff" stroke-width="0.7"/><path d="M1067.8,658.5 L1071.8,662.5 L1067.8,666.5 L1063.8,662.5 Z" fill="#2ca02c" stroke="#fff" stroke-width="0.7"/><path d="M1078.6,643.5 L1082.6,647.5 L1078.6,651.5 L1074.6,647.5 Z" fill="#2ca02c" stroke="#fff" stroke-width="0.7"/></g>
<path d="M1198.9,640.0 L1198.9,840.2" stroke="#f3f3f3" stroke-width="0.8"/><path d="M1242.3,640.0 L1242.3,840.2" stroke="#f3f3f3" stroke-width="0.8"/><path d="M1285.6,640.0 L1285.6,840.2" stroke="#f3f3f3" stroke-width="0.8"/><path d="M1328.9,640.0 L1328.9,840.2" stroke="#f3f3f3" stroke-width="0.8"/><path d="M1372.2,640.0 L1372.2,840.2" stroke="#f3f3f3" stroke-width="0.8"/><path d="M1156.2,640.0 L1382.5,640.0" stroke="#f3f3f3" stroke-width="0.8"/><path d="M1156.2,690.0 L1382.5,690.0" stroke="#f3f3f3" stroke-width="0.8"/><path d="M1156.2,740.1 L1382.5,740.1" stroke="#f3f3f3" stroke-width="0.8"/><path d="M1156.2,790.2 L1382.5,790.2" stroke="#f3f3f3" stroke-width="0.8"/><path d="M1156.2,840.2 L1382.5,840.2" stroke="#f3f3f3" stroke-width="0.8"/><path d="M1156.2,640.0 L1156.2,840.2 L1382.5,840.2" stroke="#d9d9d9" stroke-width="1" fill="none"/><text x="1198.9" y="851.7" font-size="11.5" fill="#3c3c3c" text-anchor="middle">100</text><text x="1242.3" y="851.7" font-size="11.5" fill="#3c3c3c" text-anchor="middle">200</text><text x="1285.6" y="851.7" font-size="11.5" fill="#3c3c3c" text-anchor="middle">300</text><text x="1328.9" y="851.7" font-size="11.5" fill="#3c3c3c" text-anchor="middle">400</text><text x="1372.2" y="851.7" font-size="11.5" fill="#3c3c3c" text-anchor="middle">500</text><text x="1151.6" y="644.1" font-size="11.5" fill="#3c3c3c" text-anchor="end">41</text><text x="1151.6" y="694.2" font-size="11.5" fill="#3c3c3c" text-anchor="end">37</text><text x="1151.6" y="744.2" font-size="11.5" fill="#3c3c3c" text-anchor="end">33</text><text x="1151.6" y="794.3" font-size="11.5" fill="#3c3c3c" text-anchor="end">29</text><text x="1151.6" y="844.3" font-size="11.5" fill="#3c3c3c" text-anchor="end">25</text><text x="1269.4" y="622.6" font-size="13.4" font-weight="bold" fill="#333" text-anchor="middle">8×1.5B Downstream Task Score</text><text x="1269.4" y="637.2" font-size="13.4" font-weight="bold" fill="#333" text-anchor="middle">(Higher is better)</text><text x="1269.4" y="864.6" font-size="12.75" fill="#3c3c3c" text-anchor="middle">Processed Tokens (Billions)</text><text x="1134.7" y="740.1" font-size="12.75" fill="#3c3c3c" text-anchor="middle" transform="rotate(-90 1134.7 740.1)">Average Score</text>
<clipPath id="cp5"><rect x="1155.2" y="631.5" width="233.4" height="209.2"/></clipPath>
<g clip-path="url(#cp5)"><polyline points="1166.5,896.5 1177.3,865.2 1188.1,839.3 1198.9,821.4 1209.8,798.9 1220.6,781.4 1231.4,782.6 1242.3,782.6 1253.1,788.9 1263.9,783.9 1274.8,773.9 1285.6,752.6 1296.4,745.1 1307.3,745.1 1318.1,738.8 1328.9,721.3 1339.8,722.6 1350.6,723.8 1361.4,721.3 1372.2,721.3" fill="none" stroke="#1f77b4" stroke-width="1.5" stroke-linejoin="round"/><circle cx="1166.5" cy="896.5" r="3.1" fill="#1f77b4" stroke="#fff" stroke-width="0.7"/><circle cx="1177.3" cy="865.2" r="3.1" fill="#1f77b4" stroke="#fff" stroke-width="0.7"/><circle cx="1188.1" cy="839.3" r="3.1" fill="#1f77b4" stroke="#fff" stroke-width="0.7"/><circle cx="1198.9" cy="821.4" r="3.1" fill="#1f77b4" stroke="#fff" stroke-width="0.7"/><circle cx="1209.8" cy="798.9" r="3.1" fill="#1f77b4" stroke="#fff" stroke-width="0.7"/><circle cx="1220.6" cy="781.4" r="3.1" fill="#1f77b4" stroke="#fff" stroke-width="0.7"/><circle cx="1231.4" cy="782.6" r="3.1" fill="#1f77b4" stroke="#fff" stroke-width="0.7"/><circle cx="1242.3" cy="782.6" r="3.1" fill="#1f77b4" stroke="#fff" stroke-width="0.7"/><circle cx="1253.1" cy="788.9" r="3.1" fill="#1f77b4" stroke="#fff" stroke-width="0.7"/><circle cx="1263.9" cy="783.9" r="3.1" fill="#1f77b4" stroke="#fff" stroke-width="0.7"/><circle cx="1274.8" cy="773.9" r="3.1" fill="#1f77b4" stroke="#fff" stroke-width="0.7"/><circle cx="1285.6" cy="752.6" r="3.1" fill="#1f77b4" stroke="#fff" stroke-width="0.7"/><circle cx="1296.4" cy="745.1" r="3.1" fill="#1f77b4" stroke="#fff" stroke-width="0.7"/><circle cx="1307.3" cy="745.1" r="3.1" fill="#1f77b4" stroke="#fff" stroke-width="0.7"/><circle cx="1318.1" cy="738.8" r="3.1" fill="#1f77b4" stroke="#fff" stroke-width="0.7"/><circle cx="1328.9" cy="721.3" r="3.1" fill="#1f77b4" stroke="#fff" stroke-width="0.7"/><circle cx="1339.8" cy="722.6" r="3.1" fill="#1f77b4" stroke="#fff" stroke-width="0.7"/><circle cx="1350.6" cy="723.8" r="3.1" fill="#1f77b4" stroke="#fff" stroke-width="0.7"/><circle cx="1361.4" cy="721.3" r="3.1" fill="#1f77b4" stroke="#fff" stroke-width="0.7"/><circle cx="1372.2" cy="721.3" r="3.1" fill="#1f77b4" stroke="#fff" stroke-width="0.7"/></g>
<g clip-path="url(#cp5)"><polyline points="1166.5,777.6 1177.3,748.9 1188.1,751.4 1198.9,770.8 1209.8,733.8 1220.6,725.1 1231.4,730.1 1242.3,716.3 1253.1,711.3 1263.9,695.1 1274.8,705.1 1285.6,708.8 1296.4,690.0 1307.3,687.5 1318.1,690.0 1328.9,682.5 1339.8,685.7 1350.6,696.3 1361.4,685.7 1372.2,685.7" fill="none" stroke="#ff7f0e" stroke-width="1.5" stroke-linejoin="round"/><path d="M1166.5,774.6 L1169.5,780.0 L1163.5,780.0 Z" fill="#ff7f0e" stroke="#fff" stroke-width="0.7"/><path d="M1177.3,745.9 L1180.3,751.3 L1174.3,751.3 Z" fill="#ff7f0e" stroke="#fff" stroke-width="0.7"/><path d="M1188.1,748.4 L1191.1,753.8 L1185.1,753.8 Z" fill="#ff7f0e" stroke="#fff" stroke-width="0.7"/><path d="M1198.9,767.8 L1201.9,773.2 L1195.9,773.2 Z" fill="#ff7f0e" stroke="#fff" stroke-width="0.7"/><path d="M1209.8,730.8 L1212.8,736.2 L1206.8,736.2 Z" fill="#ff7f0e" stroke="#fff" stroke-width="0.7"/><path d="M1220.6,722.1 L1223.6,727.5 L1217.6,727.5 Z" fill="#ff7f0e" stroke="#fff" stroke-width="0.7"/><path d="M1231.4,727.1 L1234.4,732.5 L1228.4,732.5 Z" fill="#ff7f0e" stroke="#fff" stroke-width="0.7"/><path d="M1242.3,713.3 L1245.3,718.7 L1239.3,718.7 Z" fill="#ff7f0e" stroke="#fff" stroke-width="0.7"/><path d="M1253.1,708.3 L1256.1,713.7 L1250.1,713.7 Z" fill="#ff7f0e" stroke="#fff" stroke-width="0.7"/><path d="M1263.9,692.1 L1266.9,697.5 L1260.9,697.5 Z" fill="#ff7f0e" stroke="#fff" stroke-width="0.7"/><path d="M1274.8,702.1 L1277.8,707.5 L1271.8,707.5 Z" fill="#ff7f0e" stroke="#fff" stroke-width="0.7"/><path d="M1285.6,705.8 L1288.6,711.2 L1282.6,711.2 Z" fill="#ff7f0e" stroke="#fff" stroke-width="0.7"/><path d="M1296.4,687.0 L1299.4,692.4 L1293.4,692.4 Z" fill="#ff7f0e" stroke="#fff" stroke-width="0.7"/><path d="M1307.3,684.5 L1310.3,689.9 L1304.3,689.9 Z" fill="#ff7f0e" stroke="#fff" stroke-width="0.7"/><path d="M1318.1,687.0 L1321.1,692.4 L1315.1,692.4 Z" fill="#ff7f0e" stroke="#fff" stroke-width="0.7"/><path d="M1328.9,679.5 L1331.9,684.9 L1325.9,684.9 Z" fill="#ff7f0e" stroke="#fff" stroke-width="0.7"/><path d="M1339.8,682.7 L1342.8,688.1 L1336.8,688.1 Z" fill="#ff7f0e" stroke="#fff" stroke-width="0.7"/><path d="M1350.6,693.3 L1353.6,698.7 L1347.6,698.7 Z" fill="#ff7f0e" stroke="#fff" stroke-width="0.7"/><path d="M1361.4,682.7 L1364.4,688.1 L1358.4,688.1 Z" fill="#ff7f0e" stroke="#fff" stroke-width="0.7"/><path d="M1372.2,682.7 L1375.2,688.1 L1369.2,688.1 Z" fill="#ff7f0e" stroke="#fff" stroke-width="0.7"/></g>
<g clip-path="url(#cp5)"><polyline points="1166.5,761.4 1177.3,740.1 1188.1,740.1 1198.9,755.1 1209.8,737.6 1220.6,736.3 1231.4,718.8 1242.3,725.1 1253.1,710.1 1263.9,703.8 1274.8,703.8 1285.6,693.8 1296.4,687.5 1307.3,685.7 1318.1,683.8 1328.9,677.5 1339.8,678.8 1350.6,668.8 1361.4,673.8 1372.2,669.4" fill="none" stroke="#d62728" stroke-width="1.5" stroke-linejoin="round"/><rect x="1163.6" y="758.5" width="5.8" height="5.8" fill="#d62728" stroke="#fff" stroke-width="0.7"/><rect x="1174.4" y="737.2" width="5.8" height="5.8" fill="#d62728" stroke="#fff" stroke-width="0.7"/><rect x="1185.2" y="737.2" width="5.8" height="5.8" fill="#d62728" stroke="#fff" stroke-width="0.7"/><rect x="1196.0" y="752.2" width="5.8" height="5.8" fill="#d62728" stroke="#fff" stroke-width="0.7"/><rect x="1206.9" y="734.7" width="5.8" height="5.8" fill="#d62728" stroke="#fff" stroke-width="0.7"/><rect x="1217.7" y="733.4" width="5.8" height="5.8" fill="#d62728" stroke="#fff" stroke-width="0.7"/><rect x="1228.5" y="715.9" width="5.8" height="5.8" fill="#d62728" stroke="#fff" stroke-width="0.7"/><rect x="1239.4" y="722.2" width="5.8" height="5.8" fill="#d62728" stroke="#fff" stroke-width="0.7"/><rect x="1250.2" y="707.2" width="5.8" height="5.8" fill="#d62728" stroke="#fff" stroke-width="0.7"/><rect x="1261.0" y="700.9" width="5.8" height="5.8" fill="#d62728" stroke="#fff" stroke-width="0.7"/><rect x="1271.9" y="700.9" width="5.8" height="5.8" fill="#d62728" stroke="#fff" stroke-width="0.7"/><rect x="1282.7" y="690.9" width="5.8" height="5.8" fill="#d62728" stroke="#fff" stroke-width="0.7"/><rect x="1293.5" y="684.6" width="5.8" height="5.8" fill="#d62728" stroke="#fff" stroke-width="0.7"/><rect x="1304.4" y="682.8" width="5.8" height="5.8" fill="#d62728" stroke="#fff" stroke-width="0.7"/><rect x="1315.2" y="680.9" width="5.8" height="5.8" fill="#d62728" stroke="#fff" stroke-width="0.7"/><rect x="1326.0" y="674.6" width="5.8" height="5.8" fill="#d62728" stroke="#fff" stroke-width="0.7"/><rect x="1336.9" y="675.9" width="5.8" height="5.8" fill="#d62728" stroke="#fff" stroke-width="0.7"/><rect x="1347.7" y="665.9" width="5.8" height="5.8" fill="#d62728" stroke="#fff" stroke-width="0.7"/><rect x="1358.5" y="670.9" width="5.8" height="5.8" fill="#d62728" stroke="#fff" stroke-width="0.7"/><rect x="1369.3" y="666.5" width="5.8" height="5.8" fill="#d62728" stroke="#fff" stroke-width="0.7"/></g>
<g clip-path="url(#cp5)"><polyline points="1166.5,840.2 1177.3,778.9 1188.1,750.1 1198.9,737.6 1209.8,720.1 1220.6,716.3 1231.4,707.6 1242.3,700.1 1253.1,695.1 1263.9,687.5 1274.8,695.1 1285.6,688.8 1296.4,685.0 1307.3,678.8 1318.1,676.3 1328.9,677.5 1339.8,673.8 1350.6,668.8 1361.4,671.3 1372.2,666.9" fill="none" stroke="#98df8a" stroke-width="1.5" stroke-linejoin="round"/><path d="M1166.5,842.9 L1169.2,838.0 L1163.8,838.0 Z" fill="#98df8a" stroke="#fff" stroke-width="0.7"/><path d="M1177.3,781.6 L1180.0,776.7 L1174.6,776.7 Z" fill="#98df8a" stroke="#fff" stroke-width="0.7"/><path d="M1188.1,752.8 L1190.8,748.0 L1185.4,748.0 Z" fill="#98df8a" stroke="#fff" stroke-width="0.7"/><path d="M1198.9,740.3 L1201.6,735.4 L1196.2,735.4 Z" fill="#98df8a" stroke="#fff" stroke-width="0.7"/><path d="M1209.8,722.8 L1212.5,717.9 L1207.1,717.9 Z" fill="#98df8a" stroke="#fff" stroke-width="0.7"/><path d="M1220.6,719.0 L1223.3,714.2 L1217.9,714.2 Z" fill="#98df8a" stroke="#fff" stroke-width="0.7"/><path d="M1231.4,710.3 L1234.1,705.4 L1228.7,705.4 Z" fill="#98df8a" stroke="#fff" stroke-width="0.7"/><path d="M1242.3,702.8 L1245.0,697.9 L1239.6,697.9 Z" fill="#98df8a" stroke="#fff" stroke-width="0.7"/><path d="M1253.1,697.8 L1255.8,692.9 L1250.4,692.9 Z" fill="#98df8a" stroke="#fff" stroke-width="0.7"/><path d="M1263.9,690.2 L1266.6,685.4 L1261.2,685.4 Z" fill="#98df8a" stroke="#fff" stroke-width="0.7"/><path d="M1274.8,697.8 L1277.5,692.9 L1272.1,692.9 Z" fill="#98df8a" stroke="#fff" stroke-width="0.7"/><path d="M1285.6,691.5 L1288.3,686.6 L1282.9,686.6 Z" fill="#98df8a" stroke="#fff" stroke-width="0.7"/><path d="M1296.4,687.7 L1299.1,682.9 L1293.7,682.9 Z" fill="#98df8a" stroke="#fff" stroke-width="0.7"/><path d="M1307.3,681.5 L1310.0,676.6 L1304.6,676.6 Z" fill="#98df8a" stroke="#fff" stroke-width="0.7"/><path d="M1318.1,679.0 L1320.8,674.1 L1315.4,674.1 Z" fill="#98df8a" stroke="#fff" stroke-width="0.7"/><path d="M1328.9,680.2 L1331.6,675.4 L1326.2,675.4 Z" fill="#98df8a" stroke="#fff" stroke-width="0.7"/><path d="M1339.8,676.5 L1342.5,671.6 L1337.1,671.6 Z" fill="#98df8a" stroke="#fff" stroke-width="0.7"/><path d="M1350.6,671.5 L1353.3,666.6 L1347.9,666.6 Z" fill="#98df8a" stroke="#fff" stroke-width="0.7"/><path d="M1361.4,674.0 L1364.1,669.1 L1358.7,669.1 Z" fill="#98df8a" stroke="#fff" stroke-width="0.7"/><path d="M1372.2,669.6 L1374.9,664.7 L1369.5,664.7 Z" fill="#98df8a" stroke="#fff" stroke-width="0.7"/></g>
<g clip-path="url(#cp5)"><polyline points="1166.5,781.4 1177.3,763.9 1188.1,746.4 1198.9,726.3 1209.8,727.6 1220.6,721.3 1231.4,705.1 1242.3,712.6 1253.1,695.1 1263.9,685.7 1274.8,688.8 1285.6,687.5 1296.4,680.0 1307.3,671.3 1318.1,668.8 1328.9,663.8 1339.8,666.9 1350.6,669.4 1361.4,671.3 1372.2,663.8" fill="none" stroke="#9467bd" stroke-width="1.5" stroke-linejoin="round"/><circle cx="1166.5" cy="781.4" r="2.6" fill="#9467bd" stroke="#fff" stroke-width="0.7"/><circle cx="1177.3" cy="763.9" r="2.6" fill="#9467bd" stroke="#fff" stroke-width="0.7"/><circle cx="1188.1" cy="746.4" r="2.6" fill="#9467bd" stroke="#fff" stroke-width="0.7"/><circle cx="1198.9" cy="726.3" r="2.6" fill="#9467bd" stroke="#fff" stroke-width="0.7"/><circle cx="1209.8" cy="727.6" r="2.6" fill="#9467bd" stroke="#fff" stroke-width="0.7"/><circle cx="1220.6" cy="721.3" r="2.6" fill="#9467bd" stroke="#fff" stroke-width="0.7"/><circle cx="1231.4" cy="705.1" r="2.6" fill="#9467bd" stroke="#fff" stroke-width="0.7"/><circle cx="1242.3" cy="712.6" r="2.6" fill="#9467bd" stroke="#fff" stroke-width="0.7"/><circle cx="1253.1" cy="695.1" r="2.6" fill="#9467bd" stroke="#fff" stroke-width="0.7"/><circle cx="1263.9" cy="685.7" r="2.6" fill="#9467bd" stroke="#fff" stroke-width="0.7"/><circle cx="1274.8" cy="688.8" r="2.6" fill="#9467bd" stroke="#fff" stroke-width="0.7"/><circle cx="1285.6" cy="687.5" r="2.6" fill="#9467bd" stroke="#fff" stroke-width="0.7"/><circle cx="1296.4" cy="680.0" r="2.6" fill="#9467bd" stroke="#fff" stroke-width="0.7"/><circle cx="1307.3" cy="671.3" r="2.6" fill="#9467bd" stroke="#fff" stroke-width="0.7"/><circle cx="1318.1" cy="668.8" r="2.6" fill="#9467bd" stroke="#fff" stroke-width="0.7"/><circle cx="1328.9" cy="663.8" r="2.6" fill="#9467bd" stroke="#fff" stroke-width="0.7"/><circle cx="1339.8" cy="666.9" r="2.6" fill="#9467bd" stroke="#fff" stroke-width="0.7"/><circle cx="1350.6" cy="669.4" r="2.6" fill="#9467bd" stroke="#fff" stroke-width="0.7"/><circle cx="1361.4" cy="671.3" r="2.6" fill="#9467bd" stroke="#fff" stroke-width="0.7"/><circle cx="1372.2" cy="663.8" r="2.6" fill="#9467bd" stroke="#fff" stroke-width="0.7"/></g>
<g clip-path="url(#cp5)"><polyline points="1166.5,777.6 1177.3,753.9 1188.1,728.8 1198.9,715.1 1209.8,710.1 1220.6,703.8 1231.4,706.3 1242.3,693.2 1253.1,691.3 1263.9,674.4 1274.8,682.5 1285.6,674.4 1296.4,666.3 1307.3,663.8 1318.1,656.3 1328.9,653.1 1339.8,650.0 1350.6,650.0 1361.4,650.6 1372.2,648.1" fill="none" stroke="#2ca02c" stroke-width="1.5" stroke-linejoin="round"/><path d="M1166.5,773.6 L1170.5,777.6 L1166.5,781.6 L1162.5,777.6 Z" fill="#2ca02c" stroke="#fff" stroke-width="0.7"/><path d="M1177.3,749.9 L1181.3,753.9 L1177.3,757.9 L1173.3,753.9 Z" fill="#2ca02c" stroke="#fff" stroke-width="0.7"/><path d="M1188.1,724.8 L1192.1,728.8 L1188.1,732.8 L1184.1,728.8 Z" fill="#2ca02c" stroke="#fff" stroke-width="0.7"/><path d="M1198.9,711.1 L1202.9,715.1 L1198.9,719.1 L1194.9,715.1 Z" fill="#2ca02c" stroke="#fff" stroke-width="0.7"/><path d="M1209.8,706.1 L1213.8,710.1 L1209.8,714.1 L1205.8,710.1 Z" fill="#2ca02c" stroke="#fff" stroke-width="0.7"/><path d="M1220.6,699.8 L1224.6,703.8 L1220.6,707.8 L1216.6,703.8 Z" fill="#2ca02c" stroke="#fff" stroke-width="0.7"/><path d="M1231.4,702.3 L1235.4,706.3 L1231.4,710.3 L1227.4,706.3 Z" fill="#2ca02c" stroke="#fff" stroke-width="0.7"/><path d="M1242.3,689.2 L1246.3,693.2 L1242.3,697.2 L1238.3,693.2 Z" fill="#2ca02c" stroke="#fff" stroke-width="0.7"/><path d="M1253.1,687.3 L1257.1,691.3 L1253.1,695.3 L1249.1,691.3 Z" fill="#2ca02c" stroke="#fff" stroke-width="0.7"/><path d="M1263.9,670.4 L1267.9,674.4 L1263.9,678.4 L1259.9,674.4 Z" fill="#2ca02c" stroke="#fff" stroke-width="0.7"/><path d="M1274.8,678.5 L1278.8,682.5 L1274.8,686.5 L1270.8,682.5 Z" fill="#2ca02c" stroke="#fff" stroke-width="0.7"/><path d="M1285.6,670.4 L1289.6,674.4 L1285.6,678.4 L1281.6,674.4 Z" fill="#2ca02c" stroke="#fff" stroke-width="0.7"/><path d="M1296.4,662.3 L1300.4,666.3 L1296.4,670.3 L1292.4,666.3 Z" fill="#2ca02c" stroke="#fff" stroke-width="0.7"/><path d="M1307.3,659.8 L1311.3,663.8 L1307.3,667.8 L1303.3,663.8 Z" fill="#2ca02c" stroke="#fff" stroke-width="0.7"/><path d="M1318.1,652.3 L1322.1,656.3 L1318.1,660.3 L1314.1,656.3 Z" fill="#2ca02c" stroke="#fff" stroke-width="0.7"/><path d="M1328.9,649.1 L1332.9,653.1 L1328.9,657.1 L1324.9,653.1 Z" fill="#2ca02c" stroke="#fff" stroke-width="0.7"/><path d="M1339.8,646.0 L1343.8,650.0 L1339.8,654.0 L1335.8,650.0 Z" fill="#2ca02c" stroke="#fff" stroke-width="0.7"/><path d="M1350.6,646.0 L1354.6,650.0 L1350.6,654.0 L1346.6,650.0 Z" fill="#2ca02c" stroke="#fff" stroke-width="0.7"/><path d="M1361.4,646.6 L1365.4,650.6 L1361.4,654.6 L1357.4,650.6 Z" fill="#2ca02c" stroke="#fff" stroke-width="0.7"/><path d="M1372.2,644.1 L1376.2,648.1 L1372.2,652.1 L1368.2,648.1 Z" fill="#2ca02c" stroke="#fff" stroke-width="0.7"/></g>
<path d="M1492.6,640.0 L1492.6,840.2" stroke="#f3f3f3" stroke-width="0.8"/><path d="M1535.9,640.0 L1535.9,840.2" stroke="#f3f3f3" stroke-width="0.8"/><path d="M1579.2,640.0 L1579.2,840.2" stroke="#f3f3f3" stroke-width="0.8"/><path d="M1622.6,640.0 L1622.6,840.2" stroke="#f3f3f3" stroke-width="0.8"/><path d="M1665.9,640.0 L1665.9,840.2" stroke="#f3f3f3" stroke-width="0.8"/><path d="M1449.8,640.0 L1676.2,640.0" stroke="#f3f3f3" stroke-width="0.8"/><path d="M1449.8,690.0 L1676.2,690.0" stroke="#f3f3f3" stroke-width="0.8"/><path d="M1449.8,740.1 L1676.2,740.1" stroke="#f3f3f3" stroke-width="0.8"/><path d="M1449.8,790.2 L1676.2,790.2" stroke="#f3f3f3" stroke-width="0.8"/><path d="M1449.8,840.2 L1676.2,840.2" stroke="#f3f3f3" stroke-width="0.8"/><path d="M1449.8,640.0 L1449.8,840.2 L1676.2,840.2" stroke="#d9d9d9" stroke-width="1" fill="none"/><text x="1492.6" y="851.7" font-size="11.5" fill="#3c3c3c" text-anchor="middle">100</text><text x="1535.9" y="851.7" font-size="11.5" fill="#3c3c3c" text-anchor="middle">200</text><text x="1579.2" y="851.7" font-size="11.5" fill="#3c3c3c" text-anchor="middle">300</text><text x="1622.6" y="851.7" font-size="11.5" fill="#3c3c3c" text-anchor="middle">400</text><text x="1665.9" y="851.7" font-size="11.5" fill="#3c3c3c" text-anchor="middle">500</text><text x="1445.2" y="644.1" font-size="11.5" fill="#3c3c3c" text-anchor="end">45</text><text x="1445.2" y="694.2" font-size="11.5" fill="#3c3c3c" text-anchor="end">41</text><text x="1445.2" y="744.2" font-size="11.5" fill="#3c3c3c" text-anchor="end">37</text><text x="1445.2" y="794.3" font-size="11.5" fill="#3c3c3c" text-anchor="end">33</text><text x="1445.2" y="844.3" font-size="11.5" fill="#3c3c3c" text-anchor="end">29</text><text x="1563.0" y="622.6" font-size="13.4" font-weight="bold" fill="#333" text-anchor="middle">8×3.7B Downstream Task Score</text><text x="1563.0" y="637.2" font-size="13.4" font-weight="bold" fill="#333" text-anchor="middle">(Higher is better)</text><text x="1563.0" y="864.6" font-size="12.75" fill="#3c3c3c" text-anchor="middle">Processed Tokens (Billions)</text><text x="1428.3" y="740.1" font-size="12.75" fill="#3c3c3c" text-anchor="middle" transform="rotate(-90 1428.3 740.1)">Average Score</text>
<clipPath id="cp6"><rect x="1448.8" y="631.5" width="233.4" height="209.2"/></clipPath>
<g clip-path="url(#cp6)"><polyline points="1460.1,902.8 1470.9,871.5 1481.8,846.5 1492.6,828.9 1503.4,820.2 1514.3,788.9 1525.1,765.1 1535.9,768.9 1546.8,746.4 1557.6,757.6 1568.4,742.6 1579.2,733.8 1590.1,735.1 1600.9,727.6 1611.7,720.1 1622.6,722.6 1633.4,713.8 1644.2,711.3 1655.1,708.8 1665.9,701.3" fill="none" stroke="#1f77b4" stroke-width="1.5" stroke-linejoin="round"/><circle cx="1460.1" cy="902.8" r="3.1" fill="#1f77b4" stroke="#fff" stroke-width="0.7"/><circle cx="1470.9" cy="871.5" r="3.1" fill="#1f77b4" stroke="#fff" stroke-width="0.7"/><circle cx="1481.8" cy="846.5" r="3.1" fill="#1f77b4" stroke="#fff" stroke-width="0.7"/><circle cx="1492.6" cy="828.9" r="3.1" fill="#1f77b4" stroke="#fff" stroke-width="0.7"/><circle cx="1503.4" cy="820.2" r="3.1" fill="#1f77b4" stroke="#fff" stroke-width="0.7"/><circle cx="1514.3" cy="788.9" r="3.1" fill="#1f77b4" stroke="#fff" stroke-width="0.7"/><circle cx="1525.1" cy="765.1" r="3.1" fill="#1f77b4" stroke="#fff" stroke-width="0.7"/><circle cx="1535.9" cy="768.9" r="3.1" fill="#1f77b4" stroke="#fff" stroke-width="0.7"/><circle cx="1546.8" cy="746.4" r="3.1" fill="#1f77b4" stroke="#fff" stroke-width="0.7"/><circle cx="1557.6" cy="757.6" r="3.1" fill="#1f77b4" stroke="#fff" stroke-width="0.7"/><circle cx="1568.4" cy="742.6" r="3.1" fill="#1f77b4" stroke="#fff" stroke-width="0.7"/><circle cx="1579.2" cy="733.8" r="3.1" fill="#1f77b4" stroke="#fff" stroke-width="0.7"/><circle cx="1590.1" cy="735.1" r="3.1" fill="#1f77b4" stroke="#fff" stroke-width="0.7"/><circle cx="1600.9" cy="727.6" r="3.1" fill="#1f77b4" stroke="#fff" stroke-width="0.7"/><circle cx="1611.7" cy="720.1" r="3.1" fill="#1f77b4" stroke="#fff" stroke-width="0.7"/><circle cx="1622.6" cy="722.6" r="3.1" fill="#1f77b4" stroke="#fff" stroke-width="0.7"/><circle cx="1633.4" cy="713.8" r="3.1" fill="#1f77b4" stroke="#fff" stroke-width="0.7"/><circle cx="1644.2" cy="711.3" r="3.1" fill="#1f77b4" stroke="#fff" stroke-width="0.7"/><circle cx="1655.1" cy="708.8" r="3.1" fill="#1f77b4" stroke="#fff" stroke-width="0.7"/><circle cx="1665.9" cy="701.3" r="3.1" fill="#1f77b4" stroke="#fff" stroke-width="0.7"/></g>
<g clip-path="url(#cp6)"><polyline points="1460.1,752.6 1470.9,726.3 1481.8,715.1 1492.6,696.3 1503.4,705.1 1514.3,698.8 1525.1,688.8 1535.9,681.3 1546.8,678.8 1557.6,679.4 1568.4,671.3 1579.2,669.4 1590.1,669.4 1600.9,658.8 1611.7,661.3 1622.6,655.0 1633.4,650.0 1644.2,650.6 1655.1,650.6 1665.9,647.5" fill="none" stroke="#2ca02c" stroke-width="1.5" stroke-linejoin="round"/><path d="M1460.1,748.6 L1464.1,752.6 L1460.1,756.6 L1456.1,752.6 Z" fill="#2ca02c" stroke="#fff" stroke-width="0.7"/><path d="M1470.9,722.3 L1474.9,726.3 L1470.9,730.3 L1466.9,726.3 Z" fill="#2ca02c" stroke="#fff" stroke-width="0.7"/><path d="M1481.8,711.1 L1485.8,715.1 L1481.8,719.1 L1477.8,715.1 Z" fill="#2ca02c" stroke="#fff" stroke-width="0.7"/><path d="M1492.6,692.3 L1496.6,696.3 L1492.6,700.3 L1488.6,696.3 Z" fill="#2ca02c" stroke="#fff" stroke-width="0.7"/><path d="M1503.4,701.1 L1507.4,705.1 L1503.4,709.1 L1499.4,705.1 Z" fill="#2ca02c" stroke="#fff" stroke-width="0.7"/><path d="M1514.3,694.8 L1518.3,698.8 L1514.3,702.8 L1510.3,698.8 Z" fill="#2ca02c" stroke="#fff" stroke-width="0.7"/><path d="M1525.1,684.8 L1529.1,688.8 L1525.1,692.8 L1521.1,688.8 Z" fill="#2ca02c" stroke="#fff" stroke-width="0.7"/><path d="M1535.9,677.3 L1539.9,681.3 L1535.9,685.3 L1531.9,681.3 Z" fill="#2ca02c" stroke="#fff" stroke-width="0.7"/><path d="M1546.8,674.8 L1550.8,678.8 L1546.8,682.8 L1542.8,678.8 Z" fill="#2ca02c" stroke="#fff" stroke-width="0.7"/><path d="M1557.6,675.4 L1561.6,679.4 L1557.6,683.4 L1553.6,679.4 Z" fill="#2ca02c" stroke="#fff" stroke-width="0.7"/><path d="M1568.4,667.3 L1572.4,671.3 L1568.4,675.3 L1564.4,671.3 Z" fill="#2ca02c" stroke="#fff" stroke-width="0.7"/><path d="M1579.2,665.4 L1583.2,669.4 L1579.2,673.4 L1575.2,669.4 Z" fill="#2ca02c" stroke="#fff" stroke-width="0.7"/><path d="M1590.1,665.4 L1594.1,669.4 L1590.1,673.4 L1586.1,669.4 Z" fill="#2ca02c" stroke="#fff" stroke-width="0.7"/><path d="M1600.9,654.8 L1604.9,658.8 L1600.9,662.8 L1596.9,658.8 Z" fill="#2ca02c" stroke="#fff" stroke-width="0.7"/><path d="M1611.7,657.3 L1615.7,661.3 L1611.7,665.3 L1607.7,661.3 Z" fill="#2ca02c" stroke="#fff" stroke-width="0.7"/><path d="M1622.6,651.0 L1626.6,655.0 L1622.6,659.0 L1618.6,655.0 Z" fill="#2ca02c" stroke="#fff" stroke-width="0.7"/><path d="M1633.4,646.0 L1637.4,650.0 L1633.4,654.0 L1629.4,650.0 Z" fill="#2ca02c" stroke="#fff" stroke-width="0.7"/><path d="M1644.2,646.6 L1648.2,650.6 L1644.2,654.6 L1640.2,650.6 Z" fill="#2ca02c" stroke="#fff" stroke-width="0.7"/><path d="M1655.1,646.6 L1659.1,650.6 L1655.1,654.6 L1651.1,650.6 Z" fill="#2ca02c" stroke="#fff" stroke-width="0.7"/><path d="M1665.9,643.5 L1669.9,647.5 L1665.9,651.5 L1661.9,647.5 Z" fill="#2ca02c" stroke="#fff" stroke-width="0.7"/></g>
<rect x="971.3" y="876.6" width="557.1" height="65.6" rx="3" fill="#fff" stroke="#ebebeb" stroke-width="1"/>
<path d="M982,893.6 L1008.2,893.6" stroke="#1f77b4" stroke-width="2"/>
<circle cx="995.1" cy="893.6" r="2.5" fill="#1f77b4" stroke="#fff" stroke-width="0.7"/>
<text x="1025.4" y="897.8" font-size="11.9" fill="#3c3c3c" textLength="71.5" lengthAdjust="spacingAndGlyphs">From Scratch</text>
<path d="M982,922.5 L1008.2,922.5" stroke="#d62728" stroke-width="2"/>
<rect x="992.8" y="920.2" width="4.6" height="4.6" fill="#d62728" stroke="#fff" stroke-width="0.7"/>
<text x="1025.4" y="926.7" font-size="11.9" fill="#3c3c3c" textLength="93.5" lengthAdjust="spacingAndGlyphs">Branch-Train-MiX</text>
<path d="M1141.5,893.6 L1167.7,893.6" stroke="#ff7f0e" stroke-width="2"/>
<path d="M1154.6,891.2 L1157.0,895.5 L1152.2,895.5 Z" fill="#ff7f0e" stroke="#fff" stroke-width="0.7"/>
<text x="1184.4" y="897.8" font-size="11.9" fill="#3c3c3c" textLength="84.5" lengthAdjust="spacingAndGlyphs">naïve Upcycling</text>
<path d="M1141.5,922.5 L1167.7,922.5" stroke="#2ca02c" stroke-width="2"/>
<path d="M1154.6,919.3 L1157.8,922.5 L1154.6,925.7 L1151.4,922.5 Z" fill="#2ca02c" stroke="#fff" stroke-width="0.7"/>
<text x="1184.4" y="926.7" font-size="11.9" fill="#3c3c3c" textLength="132.0" lengthAdjust="spacingAndGlyphs">Drop-Upcycling (<tspan font-style="italic">r</tspan> = 0.5)</text>
<path d="M1338.6,893.6 L1364.8,893.6" stroke="#98df8a" stroke-width="2"/>
<path d="M1351.7,895.8 L1353.9,891.9 L1349.5,891.9 Z" fill="#98df8a" stroke="#fff" stroke-width="0.7"/>
<text x="1381.7" y="897.8" font-size="11.9" fill="#3c3c3c" textLength="132.0" lengthAdjust="spacingAndGlyphs">Drop-Upcycling (<tspan font-style="italic">r</tspan> = 1.0)</text>
<path d="M1338.6,922.5 L1364.8,922.5" stroke="#9467bd" stroke-width="2"/>
<circle cx="1351.7" cy="922.5" r="2.1" fill="#9467bd" stroke="#fff" stroke-width="0.7"/>
<text x="1381.7" y="926.7" font-size="11.9" fill="#3c3c3c" textLength="136.3" lengthAdjust="spacingAndGlyphs">Noise Upcycling (<tspan font-style="italic">r</tspan> = 0.5)</text>
<path d="M1786.0,368.4 L1786.0,541.7" stroke="#f3f3f3" stroke-width="0.8"/><path d="M1826.0,368.4 L1826.0,541.7" stroke="#f3f3f3" stroke-width="0.8"/><path d="M1866.1,368.4 L1866.1,541.7" stroke="#f3f3f3" stroke-width="0.8"/><path d="M1906.1,368.4 L1906.1,541.7" stroke="#f3f3f3" stroke-width="0.8"/><path d="M1780.0,368.4 L1912.1,368.4" stroke="#f3f3f3" stroke-width="0.8"/><path d="M1780.0,411.7 L1912.1,411.7" stroke="#f3f3f3" stroke-width="0.8"/><path d="M1780.0,455.0 L1912.1,455.0" stroke="#f3f3f3" stroke-width="0.8"/><path d="M1780.0,498.4 L1912.1,498.4" stroke="#f3f3f3" stroke-width="0.8"/><path d="M1780.0,541.7 L1912.1,541.7" stroke="#f3f3f3" stroke-width="0.8"/><path d="M1780.0,368.4 L1780.0,541.7 L1912.1,541.7" stroke="#d9d9d9" stroke-width="1" fill="none"/><text x="1786.0" y="550.7" font-size="9.7" fill="#3c3c3c" text-anchor="middle">0</text><text x="1826.0" y="550.7" font-size="9.7" fill="#3c3c3c" text-anchor="middle">50</text><text x="1866.1" y="550.7" font-size="9.7" fill="#3c3c3c" text-anchor="middle">100</text><text x="1906.1" y="550.7" font-size="9.7" fill="#3c3c3c" text-anchor="middle">150</text><text x="1778.4" y="371.9" font-size="9.7" fill="#3c3c3c" text-anchor="end">2.88</text><text x="1778.4" y="415.2" font-size="9.7" fill="#3c3c3c" text-anchor="end">2.83</text><text x="1778.4" y="458.5" font-size="9.7" fill="#3c3c3c" text-anchor="end">2.78</text><text x="1778.4" y="501.9" font-size="9.7" fill="#3c3c3c" text-anchor="end">2.73</text><text x="1778.4" y="545.2" font-size="9.7" fill="#3c3c3c" text-anchor="end">2.68</text><text x="1846.1" y="353.6" font-size="11.1" font-weight="bold" fill="#333" text-anchor="middle">8×152M Training Loss</text><text x="1846.1" y="365.7" font-size="11.1" font-weight="bold" fill="#333" text-anchor="middle">(Lower is better)</text><text x="1846.1" y="560.7" font-size="10.6" fill="#3c3c3c" text-anchor="middle">Processed Tokens (Billions)</text><text x="1755.6" y="455.1" font-size="10.6" fill="#3c3c3c" text-anchor="middle" transform="rotate(-90 1755.6 455.1)">Cross Entropy</text>
<clipPath id="cp7"><rect x="1780.0" y="367.9" width="132.1" height="174.3"/></clipPath>
<polyline points="1786.4,375.3 1787.2,364.1 1788.0,378.8 1788.8,366.7 1790.0,373.6 1791.2,368.4 1792.4,378.8 1794.0,387.0 1794.0,385.9 1794.1,386.6 1794.1,387.5 1794.2,385.5 1794.3,387.5 1794.4,388.2 1794.5,387.1 1794.6,389.6 1794.7,390.2 1794.8,389.6 1794.9,389.6 1795.1,390.4 1795.2,392.0 1795.4,393.2 1795.5,391.8 1795.7,391.1 1795.9,393.8 1796.1,395.4 1796.3,395.6 1796.4,397.4 1796.6,397.8 1796.8,399.1 1797.1,399.8 1797.3,400.4 1797.5,401.1 1797.7,402.5 1797.9,401.7 1798.2,404.2 1798.4,404.3 1798.7,404.9 1798.9,405.6 1799.2,408.8 1799.4,408.1 1799.7,408.8 1800.0,410.0 1800.2,411.5 1800.5,411.0 1800.8,413.5 1801.1,413.6 1801.4,415.0 1801.7,415.0 1802.0,415.8 1802.3,418.6 1802.6,419.6 1802.9,419.3 1803.2,420.2 1803.6,420.5 1803.9,421.0 1804.2,423.4 1804.6,423.9 1804.9,424.0 1805.2,422.5 1805.6,426.8 1805.9,426.2 1806.3,426.6 1806.7,427.1 1807.0,428.4 1807.4,429.3 1807.8,429.7 1808.1,430.5 1808.5,431.3 1808.9,431.4 1809.3,433.4 1809.7,433.5 1810.1,433.0 1810.5,434.6 1810.9,435.4 1811.3,436.6 1811.7,436.7 1812.1,437.0 1812.5,437.6 1812.9,437.8 1813.3,438.6 1813.8,438.4 1814.2,440.7 1814.6,439.0 1815.1,440.4 1815.5,441.3 1815.9,443.8 1816.4,442.0 1816.8,445.6 1817.3,444.2 1817.7,447.9 1818.2,445.5 1818.7,445.6 1819.1,446.5 1819.6,447.5 1820.1,447.8 1820.5,450.2 1821.0,448.5 1821.5,449.8 1822.0,449.1 1822.5,448.9 1823.0,449.6 1823.5,452.5 1824.0,452.7 1824.5,452.5 1825.0,452.3 1825.5,454.0 1826.0,454.3 1826.5,454.6 1827.0,455.6 1827.5,455.9 1828.1,456.5 1828.6,457.0 1829.1,457.6 1829.6,457.7 1830.2,459.1 1830.7,461.0 1831.3,460.0 1831.8,459.3 1832.3,460.7 1832.9,462.1 1833.4,461.4 1834.0,461.4 1834.6,464.0 1835.1,464.4 1835.7,464.5 1836.3,465.1 1836.8,463.1 1837.4,466.1 1838.0,464.9 1838.5,465.5 1839.1,466.0 1839.7,466.9 1840.3,468.3 1840.9,468.6 1841.5,469.6 1842.1,469.9 1842.7,470.5 1843.3,470.1 1843.9,471.1 1844.5,470.7 1845.1,470.6 1845.7,470.0 1846.3,472.7 1846.9,474.4 1847.5,472.4 1848.2,474.2 1848.8,473.9 1849.4,476.1 1850.1,476.0 1850.7,475.9 1851.3,477.3 1852.0,476.0 1852.6,476.2 1853.2,477.8 1853.9,479.0 1854.5,479.6 1855.2,479.8 1855.8,480.3 1856.5,481.1 1857.2,480.4 1857.8,482.2 1858.5,482.0 1859.2,481.2 1859.8,483.6 1860.5,483.4 1861.2,484.3 1861.8,484.0 1862.5,485.2 1863.2,486.8 1863.9,486.3 1864.6,486.8 1865.3,485.9 1866.0,487.2 1866.7,487.5 1867.4,487.9 1868.1,488.4 1868.8,489.8 1869.5,490.5 1870.2,490.8 1870.9,490.9 1871.6,491.8 1872.3,490.8 1873.0,489.2 1873.7,492.1 1874.5,494.5 1875.2,492.6 1875.9,494.1 1876.6,492.8 1877.4,493.7 1878.1,495.3 1878.8,494.0 1879.6,495.2 1880.3,495.5 1881.1,496.2 1881.8,493.9 1882.6,496.6 1883.3,496.9 1884.1,497.3 1884.8,498.5 1885.6,498.2 1886.3,498.6 1887.1,497.4 1887.9,500.1 1888.6,498.5 1889.4,500.5 1890.2,501.3 1891.0,500.3 1891.7,501.1 1892.5,501.3 1893.3,501.5 1894.1,502.6 1894.9,502.2 1895.6,502.5 1896.4,502.7 1897.2,504.0 1898.0,504.4 1898.8,505.6 1899.6,505.8 1900.4,504.8 1901.2,505.4 1902.0,506.2 1902.8,506.4 1903.7,506.6 1904.5,505.6 1905.3,506.5 1906.1,507.4" fill="none" stroke="#4363e0" stroke-width="1.0" stroke-linejoin="round" clip-path="url(#cp7)"/>
<polyline points="1789.2,325.3 1789.2,325.6 1789.3,325.9 1789.3,329.8 1789.4,330.7 1789.5,333.2 1789.6,336.1 1789.7,339.5 1789.8,341.9 1789.9,342.6 1790.0,348.3 1790.2,351.6 1790.3,355.3 1790.5,356.8 1790.6,360.8 1790.8,363.2 1791.0,366.7 1791.2,368.8 1791.3,370.5 1791.5,371.8 1791.7,372.8 1791.9,374.4 1792.2,375.4 1792.4,377.9 1792.6,378.2 1792.8,380.2 1793.1,382.1 1793.3,383.5 1793.6,386.1 1793.8,387.0 1794.1,388.7 1794.3,387.4 1794.6,389.4 1794.9,390.4 1795.1,391.4 1795.4,393.7 1795.7,394.9 1796.0,396.5 1796.3,397.3 1796.6,399.2 1796.9,400.0 1797.2,402.1 1797.5,403.2 1797.8,404.0 1798.2,405.3 1798.5,407.1 1798.8,409.4 1799.2,408.6 1799.5,411.8 1799.9,412.4 1800.2,413.9 1800.6,415.1 1800.9,415.6 1801.3,416.5 1801.6,418.7 1802.0,420.3 1802.4,421.1 1802.8,422.1 1803.2,422.8 1803.5,425.4 1803.9,426.5 1804.3,428.2 1804.7,428.3 1805.1,430.5 1805.5,430.1 1805.9,430.9 1806.4,432.8 1806.8,433.5 1807.2,437.0 1807.6,436.2 1808.1,437.5 1808.5,439.6 1808.9,443.2 1809.4,441.3 1809.8,442.2 1810.3,441.7 1810.7,444.7 1811.2,446.3 1811.6,448.3 1812.1,448.4 1812.5,448.6 1813.0,450.0 1813.5,452.4 1814.0,454.2 1814.4,453.8 1814.9,453.5 1815.4,457.4 1815.9,457.2 1816.4,458.0 1816.9,460.1 1817.4,461.4 1817.9,461.8 1818.4,462.8 1818.9,463.6 1819.4,465.3 1819.9,466.5 1820.4,466.6 1821.0,469.6 1821.5,468.2 1822.0,469.8 1822.6,471.2 1823.1,473.2 1823.6,473.6 1824.2,473.3 1824.7,475.2 1825.3,475.4 1825.8,477.6 1826.4,477.6 1826.9,476.5 1827.5,477.9 1828.0,477.2 1828.6,480.6 1829.2,480.9 1829.8,481.1 1830.3,481.7 1830.9,481.6 1831.5,483.5 1832.1,484.3 1832.7,483.5 1833.3,486.8 1833.9,487.1 1834.4,485.5 1835.0,485.5 1835.7,486.0 1836.3,486.8 1836.9,489.3 1837.5,488.7 1838.1,489.4 1838.7,489.7 1839.3,491.1 1840.0,490.8 1840.6,490.6 1841.2,491.0 1841.8,492.4 1842.5,492.9 1843.1,492.9 1843.8,493.7 1844.4,493.9 1845.0,495.9 1845.7,495.5 1846.3,496.4 1847.0,496.6 1847.7,497.0 1848.3,498.0 1849.0,498.3 1849.6,497.8 1850.3,497.5 1851.0,500.0 1851.7,499.6 1852.3,499.3 1853.0,500.0 1853.7,501.3 1854.4,503.5 1855.1,501.3 1855.8,503.5 1856.4,503.2 1857.1,504.5 1857.8,504.9 1858.5,504.8 1859.2,506.2 1859.9,504.7 1860.7,506.4 1861.4,505.9 1862.1,507.0 1862.8,507.1 1863.5,508.3 1864.2,508.3 1865.0,509.9 1865.7,508.2 1866.4,509.4 1867.2,509.4 1867.9,512.6 1868.6,512.3 1869.4,511.7 1870.1,511.0 1870.9,512.6 1871.6,513.4 1872.4,513.9 1873.1,514.0 1873.9,514.2 1874.6,513.4 1875.4,514.3 1876.1,516.1 1876.9,515.1 1877.7,514.6 1878.4,516.6 1879.2,517.4 1880.0,516.3 1880.8,517.4 1881.6,516.4 1882.3,518.1 1883.1,517.6 1883.9,518.1 1884.7,517.7 1885.5,518.8 1886.3,518.6 1887.1,518.6 1887.9,521.4 1888.7,519.1 1889.5,520.8 1890.3,520.9 1891.1,520.4 1891.9,521.2 1892.7,522.0 1893.6,523.3 1894.4,522.7 1895.2,522.7 1896.0,523.9 1896.9,522.0 1897.7,522.5 1898.5,524.1 1899.3,525.1 1900.2,526.1 1901.0,524.9 1901.9,526.3 1902.7,524.5 1903.6,527.1 1904.4,525.3 1905.3,526.4 1906.1,526.0" fill="none" stroke="#3f3b8c" stroke-width="1.0" stroke-linejoin="round" clip-path="url(#cp7)"/>
<polyline points="1790.8,324.6 1790.8,326.6 1790.9,326.4 1790.9,328.6 1791.0,329.6 1791.1,331.2 1791.2,332.6 1791.3,335.4 1791.4,338.8 1791.5,339.7 1791.6,344.0 1791.8,345.2 1791.9,349.0 1792.1,351.6 1792.2,354.0 1792.4,357.8 1792.6,360.8 1792.7,362.9 1792.9,365.9 1793.1,368.8 1793.3,368.8 1793.5,370.4 1793.7,372.8 1793.9,375.6 1794.2,377.3 1794.4,377.5 1794.6,379.0 1794.9,381.7 1795.1,381.9 1795.3,385.1 1795.6,386.2 1795.9,388.3 1796.1,390.3 1796.4,390.7 1796.7,392.3 1796.9,393.3 1797.2,393.7 1797.5,396.1 1797.8,397.0 1798.1,399.4 1798.4,400.2 1798.7,401.4 1799.0,403.7 1799.3,404.1 1799.6,406.4 1800.0,408.9 1800.3,410.0 1800.6,413.9 1801.0,414.2 1801.3,413.8 1801.7,415.8 1802.0,416.9 1802.4,419.2 1802.7,421.5 1803.1,422.8 1803.4,424.4 1803.8,426.2 1804.2,426.8 1804.6,429.1 1804.9,430.0 1805.3,431.0 1805.7,433.6 1806.1,434.8 1806.5,434.5 1806.9,437.6 1807.3,438.4 1807.7,438.5 1808.1,440.4 1808.6,442.0 1809.0,444.2 1809.4,443.0 1809.8,445.3 1810.3,446.4 1810.7,447.2 1811.1,447.4 1811.6,449.6 1812.0,451.2 1812.5,451.8 1812.9,452.1 1813.4,455.1 1813.8,455.5 1814.3,457.6 1814.7,457.4 1815.2,457.2 1815.7,460.2 1816.2,460.6 1816.6,461.2 1817.1,462.3 1817.6,462.6 1818.1,465.0 1818.6,466.1 1819.1,467.2 1819.6,467.3 1820.1,468.7 1820.6,469.5 1821.1,471.0 1821.6,469.1 1822.1,471.9 1822.7,473.0 1823.2,471.5 1823.7,474.2 1824.2,475.8 1824.8,475.8 1825.3,476.1 1825.8,477.6 1826.4,479.4 1826.9,480.1 1827.5,480.8 1828.0,479.5 1828.6,480.4 1829.1,483.3 1829.7,484.5 1830.2,484.6 1830.8,484.7 1831.4,485.0 1831.9,486.1 1832.5,486.7 1833.1,486.0 1833.7,487.9 1834.3,488.9 1834.8,488.4 1835.4,489.5 1836.0,490.8 1836.6,489.2 1837.2,490.3 1837.8,490.9 1838.4,492.9 1839.0,493.6 1839.6,493.9 1840.2,493.7 1840.9,495.0 1841.5,495.0 1842.1,496.3 1842.7,495.3 1843.3,496.7 1844.0,496.6 1844.6,498.0 1845.2,499.2 1845.9,500.3 1846.5,499.6 1847.2,500.3 1847.8,501.3 1848.5,500.9 1849.1,502.4 1849.8,502.3 1850.4,502.8 1851.1,503.3 1851.7,503.4 1852.4,505.8 1853.1,506.2 1853.7,505.8 1854.4,505.5 1855.1,506.6 1855.8,509.2 1856.4,508.0 1857.1,508.0 1857.8,508.9 1858.5,508.9 1859.2,507.8 1859.9,511.7 1860.6,511.3 1861.3,511.6 1862.0,511.7 1862.7,511.8 1863.4,512.0 1864.1,513.1 1864.8,512.8 1865.5,514.2 1866.2,515.8 1867.0,513.1 1867.7,513.5 1868.4,515.2 1869.1,515.7 1869.9,517.1 1870.6,517.8 1871.3,517.6 1872.1,517.6 1872.8,519.0 1873.6,518.9 1874.3,519.0 1875.1,519.5 1875.8,518.8 1876.6,520.6 1877.3,519.7 1878.1,520.2 1878.8,520.3 1879.6,521.5 1880.4,522.6 1881.1,524.6 1881.9,524.8 1882.7,523.9 1883.4,523.5 1884.2,523.9 1885.0,525.5 1885.8,526.2 1886.6,524.1 1887.3,526.1 1888.1,527.0 1888.9,528.0 1889.7,526.3 1890.5,526.3 1891.3,526.7 1892.1,526.3 1892.9,529.2 1893.7,527.6 1894.5,527.7 1895.4,528.8 1896.2,529.0 1897.0,529.6 1897.8,529.3 1898.6,530.8 1899.4,531.4 1900.3,530.4 1901.1,532.3 1901.9,532.2 1902.8,531.8 1903.6,532.4 1904.4,533.7 1905.3,533.4 1906.1,533.1" fill="none" stroke="#2b7b8e" stroke-width="1.0" stroke-linejoin="round" clip-path="url(#cp7)"/>
<polyline points="1795.6,324.9 1795.6,324.4 1795.7,327.8 1795.7,327.5 1795.8,327.3 1795.9,327.4 1796.0,331.3 1796.1,331.8 1796.2,335.9 1796.3,336.2 1796.4,338.2 1796.5,340.4 1796.7,342.1 1796.8,344.6 1797.0,345.6 1797.1,350.3 1797.3,349.4 1797.5,354.0 1797.6,353.9 1797.8,356.2 1798.0,358.0 1798.2,361.7 1798.4,364.6 1798.6,366.7 1798.8,367.6 1799.0,370.6 1799.3,372.6 1799.5,374.1 1799.7,378.1 1800.0,380.2 1800.2,379.8 1800.4,382.1 1800.7,383.5 1801.0,385.1 1801.2,388.3 1801.5,389.8 1801.8,390.5 1802.0,393.7 1802.3,394.1 1802.6,396.7 1802.9,398.6 1803.2,400.2 1803.5,401.3 1803.8,403.3 1804.1,405.2 1804.4,404.9 1804.7,406.9 1805.0,409.5 1805.3,410.1 1805.7,411.3 1806.0,413.5 1806.3,415.4 1806.7,417.3 1807.0,417.6 1807.4,419.6 1807.7,420.2 1808.1,422.2 1808.4,423.3 1808.8,423.5 1809.2,425.3 1809.5,426.6 1809.9,428.2 1810.3,429.6 1810.7,429.8 1811.0,431.9 1811.4,433.6 1811.8,434.8 1812.2,435.6 1812.6,437.5 1813.0,439.2 1813.4,438.5 1813.8,441.4 1814.2,441.9 1814.7,444.5 1815.1,444.6 1815.5,445.4 1815.9,447.0 1816.4,449.4 1816.8,449.2 1817.2,449.6 1817.7,451.0 1818.1,454.2 1818.6,453.3 1819.0,455.6 1819.5,455.9 1819.9,455.9 1820.4,457.5 1820.8,459.0 1821.3,460.7 1821.8,459.9 1822.2,461.3 1822.7,464.0 1823.2,463.3 1823.7,465.9 1824.2,467.4 1824.6,465.9 1825.1,467.0 1825.6,468.4 1826.1,470.0 1826.6,470.4 1827.1,470.8 1827.6,471.4 1828.1,470.9 1828.7,472.0 1829.2,474.3 1829.7,474.7 1830.2,475.1 1830.7,475.0 1831.3,477.7 1831.8,477.6 1832.3,477.4 1832.9,479.0 1833.4,481.6 1833.9,481.2 1834.5,479.5 1835.0,483.0 1835.6,482.1 1836.1,483.1 1836.7,483.6 1837.2,483.4 1837.8,484.0 1838.4,485.0 1838.9,484.7 1839.5,486.9 1840.1,487.2 1840.7,488.0 1841.2,490.5 1841.8,488.0 1842.4,492.3 1843.0,491.0 1843.6,492.3 1844.2,491.1 1844.8,492.6 1845.4,492.8 1846.0,494.1 1846.6,496.1 1847.2,494.5 1847.8,496.9 1848.4,497.7 1849.0,497.1 1849.6,496.1 1850.2,498.3 1850.9,499.0 1851.5,499.8 1852.1,499.7 1852.7,501.7 1853.4,500.9 1854.0,502.5 1854.6,502.9 1855.3,502.6 1855.9,502.7 1856.6,503.7 1857.2,505.3 1857.9,505.1 1858.5,506.7 1859.2,506.9 1859.8,505.9 1860.5,507.4 1861.1,509.0 1861.8,507.4 1862.5,508.4 1863.1,509.4 1863.8,510.2 1864.5,510.1 1865.2,510.5 1865.9,511.3 1866.5,511.3 1867.2,511.9 1867.9,511.3 1868.6,513.8 1869.3,512.2 1870.0,515.6 1870.7,513.1 1871.4,515.4 1872.1,515.1 1872.8,515.5 1873.5,514.6 1874.2,516.0 1874.9,517.0 1875.6,517.3 1876.3,517.3 1877.1,517.9 1877.8,518.1 1878.5,518.6 1879.2,519.9 1880.0,521.1 1880.7,519.6 1881.4,521.0 1882.2,520.6 1882.9,521.4 1883.6,520.7 1884.4,523.0 1885.1,523.2 1885.9,523.3 1886.6,522.8 1887.4,523.8 1888.1,523.2 1888.9,523.3 1889.6,525.8 1890.4,526.4 1891.2,525.6 1891.9,525.4 1892.7,525.2 1893.5,524.8 1894.2,525.9 1895.0,526.0 1895.8,526.4 1896.6,525.9 1897.4,527.7 1898.1,526.8 1898.9,526.2 1899.7,527.6 1900.5,527.7 1901.3,530.5 1902.1,529.1 1902.9,529.8 1903.7,530.8 1904.5,529.7 1905.3,530.4 1906.1,530.8" fill="none" stroke="#7ad151" stroke-width="1.0" stroke-linejoin="round" clip-path="url(#cp7)"/>
<polyline points="1798.8,326.6 1798.8,326.3 1798.9,326.0 1798.9,328.2 1799.0,327.6 1799.1,328.8 1799.2,332.1 1799.2,333.9 1799.3,333.7 1799.5,336.6 1799.6,337.4 1799.7,339.8 1799.8,342.9 1800.0,344.8 1800.1,347.0 1800.3,348.9 1800.4,351.0 1800.6,353.2 1800.8,355.8 1801.0,355.2 1801.1,360.8 1801.3,361.8 1801.5,363.8 1801.7,364.8 1801.9,367.1 1802.1,370.3 1802.4,371.4 1802.6,372.0 1802.8,375.1 1803.0,377.8 1803.3,378.2 1803.5,380.9 1803.8,381.8 1804.0,383.2 1804.3,384.8 1804.5,386.2 1804.8,387.1 1805.0,388.2 1805.3,389.5 1805.6,391.1 1805.9,392.3 1806.2,393.3 1806.5,395.3 1806.7,396.3 1807.0,398.3 1807.3,400.1 1807.6,401.5 1808.0,401.0 1808.3,403.0 1808.6,404.8 1808.9,407.0 1809.2,408.4 1809.6,408.7 1809.9,410.1 1810.2,412.9 1810.6,415.0 1810.9,415.5 1811.3,415.6 1811.6,418.6 1812.0,417.3 1812.3,419.5 1812.7,420.6 1813.1,422.6 1813.4,424.2 1813.8,426.6 1814.2,426.5 1814.6,427.9 1814.9,429.1 1815.3,429.5 1815.7,432.1 1816.1,432.4 1816.5,433.7 1816.9,435.5 1817.3,437.3 1817.7,436.7 1818.1,437.6 1818.5,440.2 1819.0,441.5 1819.4,442.4 1819.8,443.3 1820.2,443.6 1820.7,445.2 1821.1,447.0 1821.5,447.4 1822.0,448.4 1822.4,447.7 1822.9,449.6 1823.3,452.9 1823.8,452.6 1824.2,453.6 1824.7,455.3 1825.1,456.3 1825.6,455.4 1826.1,456.6 1826.5,459.8 1827.0,458.6 1827.5,460.3 1828.0,461.6 1828.4,462.6 1828.9,463.8 1829.4,463.1 1829.9,464.5 1830.4,465.4 1830.9,467.4 1831.4,468.0 1831.9,468.0 1832.4,469.7 1832.9,470.1 1833.4,471.6 1833.9,470.6 1834.5,474.2 1835.0,473.6 1835.5,474.7 1836.0,476.9 1836.6,475.9 1837.1,476.5 1837.6,477.0 1838.2,477.5 1838.7,480.0 1839.2,480.9 1839.8,480.5 1840.3,481.5 1840.9,483.8 1841.4,483.3 1842.0,484.1 1842.6,484.0 1843.1,483.9 1843.7,485.3 1844.2,485.0 1844.8,487.7 1845.4,488.5 1846.0,488.1 1846.5,489.2 1847.1,489.0 1847.7,492.5 1848.3,490.9 1848.9,492.6 1849.5,492.4 1850.1,494.1 1850.7,494.9 1851.3,495.5 1851.9,494.0 1852.5,497.7 1853.1,496.5 1853.7,496.4 1854.3,498.8 1854.9,499.8 1855.5,501.1 1856.1,500.0 1856.7,500.6 1857.4,500.9 1858.0,502.6 1858.6,503.1 1859.3,504.7 1859.9,504.3 1860.5,505.6 1861.2,507.0 1861.8,505.1 1862.4,508.9 1863.1,507.0 1863.7,507.9 1864.4,509.3 1865.0,509.2 1865.7,509.8 1866.4,508.4 1867.0,511.0 1867.7,511.1 1868.3,509.2 1869.0,512.0 1869.7,512.5 1870.4,513.3 1871.0,512.9 1871.7,513.5 1872.4,513.3 1873.1,513.1 1873.8,513.2 1874.4,514.4 1875.1,514.5 1875.8,515.8 1876.5,515.4 1877.2,515.5 1877.9,516.6 1878.6,515.6 1879.3,515.6 1880.0,516.3 1880.7,518.7 1881.4,517.2 1882.1,518.4 1882.9,518.6 1883.6,518.4 1884.3,520.3 1885.0,520.0 1885.7,519.3 1886.5,520.2 1887.2,521.3 1887.9,519.2 1888.7,522.9 1889.4,521.8 1890.1,522.6 1890.9,521.5 1891.6,522.9 1892.3,523.7 1893.1,523.2 1893.8,523.5 1894.6,523.9 1895.3,523.0 1896.1,524.6 1896.9,524.4 1897.6,525.7 1898.4,524.1 1899.1,526.4 1899.9,524.8 1900.7,525.8 1901.4,527.2 1902.2,527.3 1903.0,526.8 1903.8,527.3 1904.5,525.7 1905.3,528.9 1906.1,528.5" fill="none" stroke="#fde725" stroke-width="1.0" stroke-linejoin="round" clip-path="url(#cp7)"/>
<polyline points="1793.2,326.4 1793.2,325.6 1793.3,327.9 1793.3,327.4 1793.4,328.9 1793.5,331.2 1793.6,332.9 1793.7,334.7 1793.8,336.6 1793.9,340.1 1794.0,341.1 1794.1,346.1 1794.3,346.5 1794.4,352.4 1794.6,354.0 1794.8,355.3 1794.9,359.0 1795.1,361.3 1795.3,363.7 1795.5,366.2 1795.7,370.1 1795.9,371.8 1796.1,373.2 1796.3,374.9 1796.5,376.9 1796.7,379.3 1796.9,381.5 1797.2,381.9 1797.4,384.9 1797.7,386.6 1797.9,389.0 1798.2,391.1 1798.4,392.1 1798.7,393.4 1798.9,395.0 1799.2,397.3 1799.5,400.5 1799.8,400.4 1800.1,403.9 1800.3,405.2 1800.6,406.3 1800.9,408.0 1801.2,408.1 1801.6,410.0 1801.9,411.3 1802.2,413.8 1802.5,414.6 1802.8,415.1 1803.2,418.5 1803.5,419.4 1803.8,420.8 1804.2,422.6 1804.5,423.0 1804.9,423.9 1805.2,425.7 1805.6,427.2 1805.9,427.5 1806.3,430.8 1806.7,431.7 1807.1,432.0 1807.4,433.9 1807.8,437.2 1808.2,435.2 1808.6,437.8 1809.0,439.4 1809.4,442.1 1809.8,443.3 1810.2,443.1 1810.6,445.2 1811.0,446.8 1811.4,447.4 1811.8,450.7 1812.2,450.3 1812.7,452.2 1813.1,452.4 1813.5,454.7 1814.0,456.3 1814.4,457.8 1814.8,457.8 1815.3,460.9 1815.7,459.4 1816.2,462.0 1816.7,462.7 1817.1,465.7 1817.6,466.1 1818.0,463.8 1818.5,467.5 1819.0,468.2 1819.5,471.0 1819.9,472.4 1820.4,472.5 1820.9,472.0 1821.4,472.9 1821.9,475.6 1822.4,476.2 1822.9,476.6 1823.4,479.5 1823.9,478.3 1824.4,478.6 1824.9,479.3 1825.4,480.8 1825.9,482.2 1826.5,482.4 1827.0,483.6 1827.5,485.1 1828.0,485.2 1828.6,485.8 1829.1,484.2 1829.6,487.4 1830.2,487.5 1830.7,488.4 1831.3,489.6 1831.8,489.2 1832.4,491.2 1832.9,491.2 1833.5,491.2 1834.0,491.6 1834.6,491.6 1835.2,492.3 1835.8,495.1 1836.3,492.6 1836.9,495.0 1837.5,491.3 1838.1,494.3 1838.6,497.0 1839.2,497.0 1839.8,497.0 1840.4,496.1 1841.0,497.9 1841.6,499.4 1842.2,499.3 1842.8,500.1 1843.4,500.5 1844.0,500.4 1844.7,500.7 1845.3,501.6 1845.9,503.5 1846.5,503.8 1847.1,503.7 1847.8,504.1 1848.4,505.1 1849.0,504.5 1849.7,506.1 1850.3,506.6 1850.9,507.3 1851.6,506.9 1852.2,508.3 1852.9,507.5 1853.5,508.3 1854.2,508.5 1854.8,509.5 1855.5,510.2 1856.1,511.0 1856.8,510.4 1857.5,510.3 1858.1,510.4 1858.8,512.1 1859.5,513.6 1860.2,513.9 1860.8,512.8 1861.5,513.7 1862.2,515.2 1862.9,514.2 1863.6,513.3 1864.3,517.0 1865.0,515.8 1865.7,516.7 1866.4,517.3 1867.1,518.3 1867.8,520.5 1868.5,519.7 1869.2,519.0 1869.9,520.4 1870.6,520.9 1871.3,518.2 1872.1,521.6 1872.8,519.5 1873.5,522.5 1874.2,522.7 1875.0,522.5 1875.7,521.9 1876.4,522.9 1877.2,524.0 1877.9,523.7 1878.7,523.2 1879.4,524.9 1880.1,525.1 1880.9,527.3 1881.6,527.1 1882.4,526.3 1883.2,525.8 1883.9,529.1 1884.7,527.8 1885.4,527.8 1886.2,527.8 1887.0,530.4 1887.7,530.3 1888.5,529.4 1889.3,531.3 1890.1,530.7 1890.8,531.0 1891.6,530.9 1892.4,532.0 1893.2,531.5 1894.0,532.3 1894.8,531.9 1895.6,533.0 1896.4,534.0 1897.2,533.4 1898.0,533.9 1898.8,534.5 1899.6,533.4 1900.4,535.0 1901.2,535.6 1902.0,536.3 1902.8,537.7 1903.6,536.5 1904.5,536.7 1905.3,536.4 1906.1,537.3" fill="none" stroke="#22a884" stroke-width="1.0" stroke-linejoin="round" clip-path="url(#cp7)"/>
<path d="M2128.9,368.4 L2128.9,541.7" stroke="#f3f3f3" stroke-width="0.8"/><path d="M2168.9,368.4 L2168.9,541.7" stroke="#f3f3f3" stroke-width="0.8"/><path d="M2209.0,368.4 L2209.0,541.7" stroke="#f3f3f3" stroke-width="0.8"/><path d="M2249.0,368.4 L2249.0,541.7" stroke="#f3f3f3" stroke-width="0.8"/><path d="M2122.9,368.4 L2255.0,368.4" stroke="#f3f3f3" stroke-width="0.8"/><path d="M2122.9,411.7 L2255.0,411.7" stroke="#f3f3f3" stroke-width="0.8"/><path d="M2122.9,455.1 L2255.0,455.1" stroke="#f3f3f3" stroke-width="0.8"/><path d="M2122.9,498.4 L2255.0,498.4" stroke="#f3f3f3" stroke-width="0.8"/><path d="M2122.9,541.7 L2255.0,541.7" stroke="#f3f3f3" stroke-width="0.8"/><path d="M2122.9,368.4 L2122.9,541.7 L2255.0,541.7" stroke="#d9d9d9" stroke-width="1" fill="none"/><text x="2128.9" y="550.7" font-size="9.7" fill="#3c3c3c" text-anchor="middle">0</text><text x="2168.9" y="550.7" font-size="9.7" fill="#3c3c3c" text-anchor="middle">50</text><text x="2209.0" y="550.7" font-size="9.7" fill="#3c3c3c" text-anchor="middle">100</text><text x="2249.0" y="550.7" font-size="9.7" fill="#3c3c3c" text-anchor="middle">150</text><text x="2121.3" y="371.9" font-size="9.7" fill="#3c3c3c" text-anchor="end">2.05</text><text x="2121.3" y="415.2" font-size="9.7" fill="#3c3c3c" text-anchor="end">2.01</text><text x="2121.3" y="458.5" font-size="9.7" fill="#3c3c3c" text-anchor="end">1.97</text><text x="2121.3" y="501.9" font-size="9.7" fill="#3c3c3c" text-anchor="end">1.93</text><text x="2121.3" y="545.2" font-size="9.7" fill="#3c3c3c" text-anchor="end">1.89</text><text x="2189.0" y="353.6" font-size="11.1" font-weight="bold" fill="#333" text-anchor="middle">8×1.5B Training Loss</text><text x="2189.0" y="365.7" font-size="11.1" font-weight="bold" fill="#333" text-anchor="middle">(Lower is better)</text><text x="2189.0" y="560.7" font-size="10.6" fill="#3c3c3c" text-anchor="middle">Processed Tokens (Billions)</text><text x="2097.1" y="455.1" font-size="10.6" fill="#3c3c3c" text-anchor="middle" transform="rotate(-90 2097.1 455.1)">Cross Entropy</text>
<clipPath id="cp8"><rect x="2122.9" y="367.9" width="132.1" height="174.3"/></clipPath>
<polyline points="2128.9,498.4 2130.1,493.0 2131.3,471.3 2132.9,438.8 2134.5,419.3 2136.1,410.6 2138.5,405.6 2138.5,406.2 2138.6,407.0 2138.6,406.7 2138.7,406.5 2138.8,405.5 2138.9,408.9 2139.0,406.8 2139.1,407.6 2139.2,407.1 2139.3,407.9 2139.4,405.9 2139.6,407.1 2139.7,407.1 2139.9,407.3 2140.0,406.5 2140.2,406.6 2140.4,407.2 2140.5,406.6 2140.7,406.3 2140.9,408.4 2141.1,408.5 2141.3,405.0 2141.5,408.8 2141.7,408.3 2141.9,407.6 2142.2,408.8 2142.4,409.5 2142.6,408.6 2142.9,408.4 2143.1,410.0 2143.3,409.1 2143.6,408.7 2143.9,410.0 2144.1,410.3 2144.4,410.8 2144.7,410.4 2144.9,412.8 2145.2,411.2 2145.5,411.5 2145.8,411.7 2146.1,412.8 2146.4,410.5 2146.7,412.2 2147.0,412.4 2147.3,413.8 2147.6,413.5 2147.9,414.2 2148.2,414.9 2148.6,414.2 2148.9,414.6 2149.2,416.4 2149.6,415.5 2149.9,416.2 2150.3,415.9 2150.6,416.6 2151.0,416.9 2151.3,418.0 2151.7,418.3 2152.1,418.9 2152.4,419.6 2152.8,420.1 2153.2,420.7 2153.6,420.4 2153.9,420.6 2154.3,421.2 2154.7,421.0 2155.1,422.1 2155.5,421.8 2155.9,420.3 2156.3,422.5 2156.7,423.1 2157.1,422.6 2157.6,422.7 2158.0,423.6 2158.4,424.6 2158.8,424.6 2159.3,424.7 2159.7,424.8 2160.1,425.6 2160.6,425.4 2161.0,426.4 2161.5,428.8 2161.9,427.4 2162.4,428.3 2162.8,427.6 2163.3,428.0 2163.7,429.2 2164.2,427.9 2164.7,431.0 2165.1,431.6 2165.6,429.7 2166.1,430.4 2166.6,430.7 2167.1,434.0 2167.5,430.6 2168.0,432.4 2168.5,433.7 2169.0,433.7 2169.5,434.4 2170.0,433.8 2170.5,433.9 2171.0,435.8 2171.6,436.7 2172.1,435.8 2172.6,437.2 2173.1,438.2 2173.6,437.5 2174.2,436.3 2174.7,439.3 2175.2,440.6 2175.8,439.8 2176.3,440.7 2176.8,440.2 2177.4,441.9 2177.9,441.2 2178.5,443.5 2179.0,442.0 2179.6,444.1 2180.1,442.9 2180.7,444.1 2181.3,442.9 2181.8,445.5 2182.4,445.5 2183.0,444.7 2183.6,447.9 2184.1,446.6 2184.7,447.9 2185.3,447.6 2185.9,449.3 2186.5,449.7 2187.1,450.0 2187.7,449.7 2188.3,451.6 2188.9,451.6 2189.5,452.6 2190.1,450.9 2190.7,452.0 2191.3,455.4 2191.9,454.7 2192.5,455.4 2193.1,457.6 2193.8,456.9 2194.4,457.0 2195.0,456.1 2195.6,458.4 2196.3,458.4 2196.9,460.5 2197.5,460.3 2198.2,460.1 2198.8,461.1 2199.5,462.5 2200.1,462.9 2200.8,463.5 2201.4,463.9 2202.1,462.0 2202.7,463.4 2203.4,465.7 2204.0,466.9 2204.7,465.4 2205.4,467.4 2206.0,467.6 2206.7,468.6 2207.4,469.8 2208.1,468.3 2208.8,469.6 2209.4,471.3 2210.1,471.1 2210.8,471.8 2211.5,472.5 2212.2,472.9 2212.9,473.2 2213.6,474.3 2214.3,475.1 2215.0,473.5 2215.7,476.0 2216.4,474.1 2217.1,475.2 2217.8,477.3 2218.5,476.4 2219.2,476.0 2220.0,479.2 2220.7,475.9 2221.4,477.4 2222.1,478.5 2222.9,478.4 2223.6,479.4 2224.3,480.7 2225.1,480.7 2225.8,482.2 2226.5,481.5 2227.3,482.1 2228.0,482.4 2228.8,483.4 2229.5,484.0 2230.3,484.7 2231.0,484.4 2231.8,485.7 2232.5,484.1 2233.3,486.6 2234.1,487.3 2234.8,485.8 2235.6,486.8 2236.4,487.6 2237.1,487.4 2237.9,489.1 2238.7,488.5 2239.5,489.9 2240.3,489.6 2241.0,492.5 2241.8,491.6 2242.6,492.9 2243.4,493.8 2244.2,493.9 2245.0,493.9 2245.8,493.9 2246.6,493.9 2247.4,495.8 2248.2,495.7 2249.0,497.4" fill="none" stroke="#4363e0" stroke-width="1.0" stroke-linejoin="round" clip-path="url(#cp8)"/>
<polyline points="2130.5,346.7 2131.3,368.4 2132.3,379.2 2133.3,383.6 2134.3,382.5 2135.3,378.7 2136.5,384.6 2137.7,391.1 2138.9,396.9 2138.9,397.6 2139.0,397.1 2139.0,396.4 2139.1,397.4 2139.2,396.7 2139.3,396.4 2139.4,398.4 2139.5,397.7 2139.6,398.9 2139.7,398.7 2139.8,397.5 2140.0,399.6 2140.1,400.5 2140.3,401.1 2140.4,399.6 2140.6,400.5 2140.8,401.0 2140.9,400.2 2141.1,402.8 2141.3,402.2 2141.5,402.2 2141.7,403.2 2141.9,402.8 2142.1,404.3 2142.3,404.7 2142.5,404.8 2142.8,406.1 2143.0,404.9 2143.2,405.5 2143.5,405.7 2143.7,408.1 2144.0,407.6 2144.2,407.7 2144.5,407.4 2144.8,410.9 2145.0,410.1 2145.3,409.1 2145.6,410.0 2145.9,410.5 2146.2,411.8 2146.5,411.6 2146.7,413.0 2147.0,414.4 2147.4,413.7 2147.7,416.0 2148.0,415.8 2148.3,416.3 2148.6,416.2 2148.9,417.2 2149.3,418.5 2149.6,418.6 2149.9,418.9 2150.3,418.8 2150.6,419.9 2151.0,420.1 2151.3,422.4 2151.7,422.5 2152.0,422.1 2152.4,423.8 2152.8,424.0 2153.2,424.5 2153.5,426.0 2153.9,425.1 2154.3,426.8 2154.7,426.2 2155.1,427.5 2155.5,429.1 2155.9,428.7 2156.3,429.4 2156.7,430.9 2157.1,430.9 2157.5,431.6 2157.9,432.2 2158.3,433.0 2158.7,432.6 2159.2,433.6 2159.6,434.5 2160.0,434.2 2160.4,436.2 2160.9,437.0 2161.3,438.3 2161.8,438.7 2162.2,439.2 2162.7,439.3 2163.1,439.6 2163.6,441.0 2164.0,441.9 2164.5,443.0 2165.0,443.9 2165.4,442.9 2165.9,444.6 2166.4,445.5 2166.9,446.1 2167.4,445.8 2167.8,446.6 2168.3,446.8 2168.8,448.9 2169.3,449.0 2169.8,451.1 2170.3,449.2 2170.8,450.7 2171.3,452.3 2171.8,454.1 2172.4,452.4 2172.9,454.1 2173.4,454.7 2173.9,454.7 2174.4,457.0 2175.0,456.0 2175.5,456.9 2176.0,457.1 2176.6,456.9 2177.1,458.1 2177.6,460.8 2178.2,460.3 2178.7,461.7 2179.3,461.5 2179.8,461.9 2180.4,461.0 2181.0,462.6 2181.5,464.4 2182.1,464.6 2182.7,464.7 2183.2,465.3 2183.8,465.9 2184.4,465.4 2185.0,467.4 2185.5,466.7 2186.1,469.7 2186.7,468.5 2187.3,469.6 2187.9,470.2 2188.5,471.1 2189.1,471.3 2189.7,471.1 2190.3,473.4 2190.9,472.2 2191.5,471.7 2192.1,476.4 2192.7,475.9 2193.3,476.4 2194.0,475.6 2194.6,476.0 2195.2,477.5 2195.8,476.9 2196.5,480.1 2197.1,477.8 2197.7,480.3 2198.4,479.4 2199.0,479.6 2199.6,481.4 2200.3,482.5 2200.9,484.6 2201.6,483.4 2202.2,482.9 2202.9,483.7 2203.5,484.3 2204.2,486.1 2204.9,486.6 2205.5,486.9 2206.2,487.9 2206.9,487.8 2207.5,488.9 2208.2,489.7 2208.9,490.5 2209.6,489.9 2210.3,491.2 2210.9,491.3 2211.6,492.0 2212.3,493.7 2213.0,494.0 2213.7,494.2 2214.4,493.2 2215.1,495.5 2215.8,495.5 2216.5,495.8 2217.2,496.4 2217.9,496.8 2218.6,497.2 2219.4,498.7 2220.1,497.8 2220.8,498.5 2221.5,498.6 2222.2,499.5 2223.0,499.1 2223.7,500.1 2224.4,501.1 2225.1,502.8 2225.9,503.5 2226.6,503.3 2227.4,505.7 2228.1,504.1 2228.8,505.3 2229.6,504.0 2230.3,507.0 2231.1,506.0 2231.8,507.3 2232.6,507.0 2233.4,507.8 2234.1,506.4 2234.9,509.7 2235.7,510.6 2236.4,509.9 2237.2,509.0 2238.0,508.9 2238.7,512.9 2239.5,512.3 2240.3,512.0 2241.1,512.4 2241.9,514.2 2242.6,514.5 2243.4,513.4 2244.2,516.1 2245.0,515.5 2245.8,516.6 2246.6,514.8 2247.4,515.8 2248.2,517.5 2249.0,517.0" fill="none" stroke="#3f3b8c" stroke-width="1.0" stroke-linejoin="round" clip-path="url(#cp8)"/>
<polyline points="2136.1,324.8 2136.1,326.0 2136.2,328.0 2136.2,326.6 2136.3,326.9 2136.4,331.0 2136.5,331.8 2136.6,332.4 2136.7,334.6 2136.8,337.2 2136.9,338.0 2137.0,340.7 2137.2,344.1 2137.3,345.5 2137.5,346.0 2137.7,350.7 2137.8,350.9 2138.0,354.0 2138.2,355.4 2138.4,357.8 2138.6,362.1 2138.8,363.7 2139.0,365.9 2139.2,366.0 2139.4,370.1 2139.6,369.9 2139.8,371.0 2140.1,374.7 2140.3,376.5 2140.6,377.0 2140.8,378.5 2141.1,380.6 2141.3,382.8 2141.6,384.3 2141.8,384.4 2142.1,388.0 2142.4,388.8 2142.7,389.0 2143.0,390.7 2143.2,392.4 2143.5,395.2 2143.8,396.9 2144.1,397.7 2144.5,397.5 2144.8,400.2 2145.1,401.6 2145.4,403.5 2145.7,402.4 2146.1,404.8 2146.4,406.7 2146.7,407.1 2147.1,407.6 2147.4,408.5 2147.8,410.1 2148.1,412.2 2148.5,412.4 2148.8,412.4 2149.2,413.6 2149.6,415.0 2150.0,416.1 2150.3,418.8 2150.7,420.0 2151.1,419.6 2151.5,422.4 2151.9,422.1 2152.3,423.6 2152.7,423.6 2153.1,424.6 2153.5,427.2 2153.9,427.8 2154.3,427.7 2154.7,428.6 2155.1,429.4 2155.6,431.4 2156.0,431.7 2156.4,431.6 2156.9,433.0 2157.3,433.8 2157.7,433.8 2158.2,434.7 2158.6,435.7 2159.1,436.0 2159.6,438.5 2160.0,438.2 2160.5,440.6 2160.9,440.2 2161.4,439.6 2161.9,441.4 2162.4,441.1 2162.8,443.0 2163.3,444.9 2163.8,442.5 2164.3,445.5 2164.8,444.8 2165.3,447.9 2165.8,448.1 2166.3,447.3 2166.8,448.9 2167.3,450.6 2167.8,450.7 2168.3,451.3 2168.8,454.1 2169.4,454.7 2169.9,453.2 2170.4,456.5 2170.9,455.3 2171.5,456.0 2172.0,456.8 2172.5,459.4 2173.1,460.0 2173.6,459.4 2174.2,460.5 2174.7,461.2 2175.3,463.6 2175.8,463.1 2176.4,464.2 2176.9,464.9 2177.5,465.0 2178.1,467.2 2178.7,465.3 2179.2,469.1 2179.8,466.8 2180.4,469.8 2181.0,471.0 2181.5,470.7 2182.1,471.6 2182.7,472.1 2183.3,473.4 2183.9,473.8 2184.5,472.6 2185.1,474.6 2185.7,474.8 2186.3,477.9 2186.9,478.6 2187.6,477.6 2188.2,480.4 2188.8,480.6 2189.4,480.9 2190.0,480.6 2190.7,482.9 2191.3,483.1 2191.9,484.6 2192.6,483.4 2193.2,484.5 2193.8,485.0 2194.5,486.5 2195.1,485.7 2195.8,488.2 2196.4,487.7 2197.1,488.4 2197.7,489.6 2198.4,490.3 2199.0,491.1 2199.7,491.5 2200.4,493.4 2201.0,493.2 2201.7,492.8 2202.4,495.2 2203.1,496.3 2203.7,495.6 2204.4,495.8 2205.1,497.9 2205.8,497.8 2206.5,499.1 2207.2,502.1 2207.9,501.9 2208.6,501.8 2209.3,500.9 2210.0,505.0 2210.7,503.0 2211.4,505.7 2212.1,505.4 2212.8,504.8 2213.5,505.3 2214.2,507.3 2215.0,507.9 2215.7,507.7 2216.4,507.6 2217.1,509.5 2217.9,510.2 2218.6,510.5 2219.3,511.1 2220.1,511.5 2220.8,512.9 2221.6,513.6 2222.3,515.2 2223.0,516.7 2223.8,515.2 2224.5,516.6 2225.3,516.2 2226.1,517.5 2226.8,518.2 2227.6,520.0 2228.3,519.1 2229.1,519.9 2229.9,521.0 2230.6,521.9 2231.4,522.6 2232.2,523.5 2233.0,522.9 2233.7,524.6 2234.5,524.0 2235.3,524.4 2236.1,525.4 2236.9,524.5 2237.7,525.9 2238.5,526.3 2239.3,527.9 2240.1,529.0 2240.9,528.5 2241.7,529.2 2242.5,530.5 2243.3,530.6 2244.1,530.7 2244.9,530.6 2245.7,532.2 2246.5,533.1 2247.4,535.6 2248.2,533.2 2249.0,534.0" fill="none" stroke="#2b7b8e" stroke-width="1.0" stroke-linejoin="round" clip-path="url(#cp8)"/>
<polyline points="2149.7,324.6 2149.7,323.5 2149.8,323.6 2149.8,326.0 2149.9,328.1 2150.0,327.7 2150.0,328.1 2150.1,330.7 2150.2,331.1 2150.3,330.7 2150.4,331.4 2150.5,335.3 2150.7,335.0 2150.8,336.9 2150.9,337.9 2151.1,340.5 2151.2,340.6 2151.4,343.0 2151.5,344.2 2151.7,346.3 2151.9,347.5 2152.1,349.2 2152.2,351.4 2152.4,353.2 2152.6,353.8 2152.8,355.0 2153.0,357.5 2153.2,359.5 2153.4,359.8 2153.6,361.1 2153.8,364.3 2154.1,365.9 2154.3,369.8 2154.5,367.5 2154.8,370.0 2155.0,371.7 2155.2,371.7 2155.5,373.0 2155.7,374.4 2156.0,376.8 2156.3,378.3 2156.5,378.9 2156.8,379.8 2157.1,382.9 2157.3,381.3 2157.6,385.0 2157.9,385.2 2158.2,387.0 2158.5,387.2 2158.8,388.7 2159.1,389.6 2159.4,390.4 2159.7,392.8 2160.0,393.3 2160.3,394.7 2160.6,397.3 2160.9,397.0 2161.2,397.4 2161.6,398.7 2161.9,401.1 2162.2,400.5 2162.6,403.0 2162.9,404.0 2163.2,404.2 2163.6,405.9 2163.9,405.5 2164.3,407.5 2164.6,407.9 2165.0,409.8 2165.4,410.7 2165.7,411.5 2166.1,414.7 2166.5,414.5 2166.8,416.3 2167.2,417.3 2167.6,416.5 2168.0,417.6 2168.4,419.2 2168.8,420.7 2169.1,421.6 2169.5,421.4 2169.9,424.2 2170.3,424.5 2170.7,425.9 2171.1,424.8 2171.6,427.4 2172.0,429.3 2172.4,428.8 2172.8,431.4 2173.2,432.6 2173.6,434.2 2174.1,435.0 2174.5,436.4 2174.9,434.9 2175.4,438.0 2175.8,439.0 2176.3,440.1 2176.7,441.7 2177.1,442.4 2177.6,442.7 2178.0,444.1 2178.5,444.3 2179.0,446.5 2179.4,447.9 2179.9,448.7 2180.3,448.1 2180.8,450.2 2181.3,452.8 2181.8,450.6 2182.2,454.3 2182.7,454.1 2183.2,454.9 2183.7,457.3 2184.2,457.8 2184.7,456.9 2185.1,458.2 2185.6,459.2 2186.1,460.1 2186.6,461.2 2187.1,462.6 2187.6,463.5 2188.1,463.9 2188.7,465.4 2189.2,466.6 2189.7,466.1 2190.2,465.4 2190.7,468.7 2191.2,470.2 2191.8,469.9 2192.3,470.7 2192.8,470.9 2193.4,472.5 2193.9,473.3 2194.4,473.5 2195.0,474.3 2195.5,474.8 2196.0,476.9 2196.6,478.0 2197.1,478.9 2197.7,478.8 2198.2,478.0 2198.8,481.0 2199.4,482.2 2199.9,480.6 2200.5,481.4 2201.0,484.2 2201.6,484.7 2202.2,484.4 2202.8,485.0 2203.3,486.4 2203.9,487.0 2204.5,488.2 2205.1,489.5 2205.7,489.4 2206.2,490.0 2206.8,490.9 2207.4,491.8 2208.0,490.6 2208.6,492.7 2209.2,493.2 2209.8,493.8 2210.4,494.0 2211.0,495.4 2211.6,496.4 2212.2,496.5 2212.8,498.4 2213.4,497.4 2214.1,497.8 2214.7,500.7 2215.3,498.4 2215.9,499.4 2216.5,501.3 2217.2,503.1 2217.8,501.3 2218.4,503.8 2219.1,504.3 2219.7,504.8 2220.3,504.6 2221.0,505.8 2221.6,506.7 2222.3,506.5 2222.9,508.2 2223.6,507.8 2224.2,509.3 2224.9,509.5 2225.5,511.1 2226.2,510.3 2226.8,511.4 2227.5,512.5 2228.2,514.3 2228.8,512.8 2229.5,514.0 2230.2,515.1 2230.8,515.0 2231.5,515.6 2232.2,515.9 2232.9,517.2 2233.5,516.3 2234.2,518.1 2234.9,518.4 2235.6,518.2 2236.3,519.6 2237.0,519.7 2237.7,521.2 2238.3,522.2 2239.0,521.8 2239.7,521.7 2240.4,522.8 2241.1,524.7 2241.9,526.3 2242.6,524.8 2243.3,526.0 2244.0,526.0 2244.7,526.6 2245.4,527.1 2246.1,526.5 2246.8,527.3 2247.6,527.2 2248.3,527.4 2249.0,528.5" fill="none" stroke="#7ad151" stroke-width="1.0" stroke-linejoin="round" clip-path="url(#cp8)"/>
<polyline points="2155.3,324.6 2155.3,325.8 2155.4,326.0 2155.4,325.4 2155.5,326.1 2155.5,327.9 2155.6,327.4 2155.7,328.0 2155.8,330.5 2155.9,330.7 2156.0,332.1 2156.1,332.2 2156.2,334.6 2156.3,335.4 2156.5,335.7 2156.6,338.4 2156.7,339.5 2156.9,341.3 2157.0,341.8 2157.2,343.3 2157.4,346.1 2157.5,348.1 2157.7,348.5 2157.9,350.6 2158.0,352.1 2158.2,352.5 2158.4,352.9 2158.6,355.6 2158.8,354.8 2159.0,359.7 2159.2,358.8 2159.4,361.0 2159.6,364.1 2159.9,364.7 2160.1,366.4 2160.3,367.7 2160.5,367.9 2160.8,368.9 2161.0,370.5 2161.2,372.0 2161.5,372.4 2161.7,375.1 2162.0,375.7 2162.2,378.5 2162.5,376.7 2162.8,378.1 2163.0,380.0 2163.3,380.3 2163.6,382.5 2163.9,382.9 2164.1,384.5 2164.4,384.7 2164.7,386.3 2165.0,387.3 2165.3,387.2 2165.6,388.9 2165.9,388.3 2166.2,389.7 2166.5,391.9 2166.8,393.1 2167.1,394.4 2167.4,393.3 2167.8,395.6 2168.1,396.2 2168.4,397.2 2168.7,397.7 2169.1,399.9 2169.4,400.1 2169.7,400.5 2170.1,403.1 2170.4,402.7 2170.8,402.5 2171.1,404.3 2171.5,405.8 2171.8,405.7 2172.2,407.2 2172.6,407.9 2172.9,408.9 2173.3,408.2 2173.7,411.2 2174.0,411.3 2174.4,410.6 2174.8,413.0 2175.2,412.8 2175.5,414.8 2175.9,417.0 2176.3,416.7 2176.7,417.3 2177.1,416.8 2177.5,418.5 2177.9,418.9 2178.3,422.1 2178.7,422.5 2179.1,424.0 2179.5,423.4 2179.9,424.7 2180.4,426.5 2180.8,427.9 2181.2,427.5 2181.6,429.2 2182.0,430.0 2182.5,432.8 2182.9,433.5 2183.3,433.7 2183.8,435.0 2184.2,436.6 2184.7,438.7 2185.1,438.2 2185.6,440.1 2186.0,442.6 2186.5,443.9 2186.9,443.8 2187.4,445.6 2187.8,445.9 2188.3,447.1 2188.7,447.9 2189.2,449.0 2189.7,450.1 2190.2,451.0 2190.6,452.3 2191.1,453.4 2191.6,453.9 2192.1,455.8 2192.5,455.4 2193.0,456.3 2193.5,457.5 2194.0,459.1 2194.5,458.8 2195.0,461.5 2195.5,460.2 2196.0,462.4 2196.5,463.2 2197.0,462.7 2197.5,465.8 2198.0,465.6 2198.5,466.9 2199.0,467.7 2199.6,468.7 2200.1,469.5 2200.6,470.6 2201.1,470.0 2201.6,470.2 2202.2,472.0 2202.7,473.0 2203.2,474.7 2203.8,475.0 2204.3,475.2 2204.8,476.8 2205.4,477.0 2205.9,477.3 2206.5,477.3 2207.0,478.8 2207.6,479.3 2208.1,481.1 2208.7,481.6 2209.2,483.6 2209.8,482.7 2210.3,483.3 2210.9,485.4 2211.5,484.5 2212.0,486.5 2212.6,487.1 2213.2,487.3 2213.7,489.0 2214.3,488.6 2214.9,489.5 2215.5,488.9 2216.0,491.0 2216.6,492.8 2217.2,493.6 2217.8,493.1 2218.4,493.5 2219.0,493.1 2219.6,494.1 2220.2,495.8 2220.8,495.8 2221.4,496.8 2222.0,495.7 2222.6,497.4 2223.2,500.1 2223.8,499.2 2224.4,500.1 2225.0,500.1 2225.6,501.1 2226.2,502.3 2226.8,502.3 2227.5,503.4 2228.1,501.8 2228.7,504.5 2229.3,503.8 2230.0,504.2 2230.6,505.7 2231.2,506.0 2231.9,506.2 2232.5,505.7 2233.1,508.2 2233.8,506.1 2234.4,509.4 2235.1,508.9 2235.7,508.0 2236.3,509.5 2237.0,508.7 2237.6,509.8 2238.3,510.0 2239.0,510.9 2239.6,510.1 2240.3,512.8 2240.9,512.2 2241.6,512.5 2242.3,512.7 2242.9,513.6 2243.6,513.7 2244.3,513.2 2244.9,514.9 2245.6,514.6 2246.3,514.8 2247.0,514.4 2247.6,514.4 2248.3,516.3 2249.0,517.6" fill="none" stroke="#fde725" stroke-width="1.0" stroke-linejoin="round" clip-path="url(#cp8)"/>
<polyline points="2142.5,325.7 2142.5,325.2 2142.6,325.4 2142.6,324.9 2142.7,327.0 2142.8,329.4 2142.8,329.0 2142.9,330.9 2143.0,330.9 2143.2,332.5 2143.3,334.8 2143.4,336.2 2143.5,338.9 2143.7,340.7 2143.8,341.3 2144.0,344.3 2144.1,346.1 2144.3,348.2 2144.5,348.7 2144.6,350.5 2144.8,352.7 2145.0,356.2 2145.2,356.7 2145.4,358.2 2145.6,361.3 2145.8,362.5 2146.0,364.8 2146.3,365.9 2146.5,369.2 2146.7,370.0 2146.9,371.3 2147.2,371.7 2147.4,373.2 2147.7,376.1 2147.9,378.0 2148.2,379.3 2148.4,379.1 2148.7,381.0 2149.0,382.0 2149.2,384.9 2149.5,386.3 2149.8,387.2 2150.1,389.1 2150.4,389.3 2150.7,391.4 2151.0,391.9 2151.3,395.7 2151.6,398.3 2151.9,399.2 2152.2,399.1 2152.5,399.9 2152.9,400.6 2153.2,402.4 2153.5,404.1 2153.8,404.3 2154.2,406.4 2154.5,408.4 2154.9,407.7 2155.2,408.4 2155.6,410.6 2155.9,412.7 2156.3,413.2 2156.7,415.7 2157.0,416.0 2157.4,415.5 2157.8,417.8 2158.1,420.9 2158.5,421.7 2158.9,422.5 2159.3,422.0 2159.7,424.9 2160.1,424.0 2160.5,429.3 2160.9,428.6 2161.3,431.0 2161.7,431.7 2162.1,434.4 2162.5,436.7 2162.9,436.8 2163.3,439.6 2163.8,440.1 2164.2,440.9 2164.6,442.8 2165.1,443.2 2165.5,443.4 2165.9,445.7 2166.4,447.6 2166.8,449.4 2167.3,449.2 2167.7,452.3 2168.2,452.7 2168.6,454.5 2169.1,455.0 2169.6,454.7 2170.0,455.1 2170.5,456.7 2171.0,457.8 2171.4,458.7 2171.9,459.2 2172.4,459.3 2172.9,461.4 2173.4,461.8 2173.9,463.1 2174.4,463.0 2174.9,463.3 2175.4,464.8 2175.9,466.7 2176.4,466.2 2176.9,467.9 2177.4,469.1 2177.9,468.5 2178.4,468.9 2178.9,469.9 2179.5,471.2 2180.0,471.2 2180.5,471.7 2181.0,473.4 2181.6,471.0 2182.1,474.5 2182.6,474.8 2183.2,475.6 2183.7,475.8 2184.3,477.1 2184.8,478.7 2185.4,476.0 2185.9,478.3 2186.5,478.3 2187.0,479.3 2187.6,480.4 2188.2,482.3 2188.7,482.2 2189.3,482.8 2189.9,483.8 2190.5,483.6 2191.0,484.3 2191.6,485.1 2192.2,486.8 2192.8,488.5 2193.4,487.2 2194.0,487.3 2194.6,487.7 2195.2,488.7 2195.8,489.1 2196.4,491.2 2197.0,488.8 2197.6,492.5 2198.2,492.5 2198.8,491.5 2199.4,493.8 2200.0,495.3 2200.6,495.0 2201.3,494.8 2201.9,495.3 2202.5,495.6 2203.1,497.2 2203.8,498.5 2204.4,499.9 2205.0,499.3 2205.7,499.9 2206.3,501.3 2207.0,500.9 2207.6,501.3 2208.3,502.5 2208.9,503.7 2209.6,503.1 2210.2,504.2 2210.9,505.2 2211.5,505.7 2212.2,505.1 2212.9,506.1 2213.5,507.1 2214.2,507.1 2214.9,508.7 2215.5,509.6 2216.2,509.0 2216.9,510.3 2217.6,510.8 2218.3,510.1 2218.9,511.5 2219.6,512.7 2220.3,512.5 2221.0,512.9 2221.7,513.9 2222.4,514.0 2223.1,516.3 2223.8,515.9 2224.5,516.6 2225.2,518.3 2225.9,517.3 2226.6,519.2 2227.4,520.0 2228.1,519.8 2228.8,520.6 2229.5,521.7 2230.2,521.5 2231.0,523.5 2231.7,523.1 2232.4,526.0 2233.1,523.6 2233.9,526.5 2234.6,525.5 2235.3,526.8 2236.1,527.6 2236.8,527.1 2237.6,528.3 2238.3,529.1 2239.1,530.7 2239.8,531.0 2240.6,532.0 2241.3,532.1 2242.1,532.9 2242.8,534.2 2243.6,534.3 2244.4,534.4 2245.1,535.6 2245.9,537.5 2246.7,537.4 2247.5,537.9 2248.2,538.3 2249.0,538.3" fill="none" stroke="#22a884" stroke-width="1.0" stroke-linejoin="round" clip-path="url(#cp8)"/>
<path d="M1989.7,368.4 L1989.7,541.7" stroke="#f3f3f3" stroke-width="0.8"/><path d="M2033.4,368.4 L2033.4,541.7" stroke="#f3f3f3" stroke-width="0.8"/><path d="M2077.1,368.4 L2077.1,541.7" stroke="#f3f3f3" stroke-width="0.8"/><path d="M1950.9,368.4 L2083.1,368.4" stroke="#f3f3f3" stroke-width="0.8"/><path d="M1950.9,411.7 L2083.1,411.7" stroke="#f3f3f3" stroke-width="0.8"/><path d="M1950.9,455.1 L2083.1,455.1" stroke="#f3f3f3" stroke-width="0.8"/><path d="M1950.9,498.4 L2083.1,498.4" stroke="#f3f3f3" stroke-width="0.8"/><path d="M1950.9,541.7 L2083.1,541.7" stroke="#f3f3f3" stroke-width="0.8"/><path d="M1950.9,368.4 L1950.9,541.7 L2083.1,541.7" stroke="#d9d9d9" stroke-width="1" fill="none"/><text x="1989.7" y="550.7" font-size="9.7" fill="#3c3c3c" text-anchor="middle">50</text><text x="2033.4" y="550.7" font-size="9.7" fill="#3c3c3c" text-anchor="middle">100</text><text x="2077.1" y="550.7" font-size="9.7" fill="#3c3c3c" text-anchor="middle">150</text><text x="1949.3" y="371.9" font-size="9.7" fill="#3c3c3c" text-anchor="end">18.00</text><text x="1949.3" y="415.2" font-size="9.7" fill="#3c3c3c" text-anchor="end">16.75</text><text x="1949.3" y="458.5" font-size="9.7" fill="#3c3c3c" text-anchor="end">15.50</text><text x="1949.3" y="501.9" font-size="9.7" fill="#3c3c3c" text-anchor="end">14.25</text><text x="1949.3" y="545.2" font-size="9.7" fill="#3c3c3c" text-anchor="end">13.00</text><text x="2017.0" y="353.6" font-size="11.1" font-weight="bold" fill="#333" text-anchor="middle">8×152M Downstream Task Score</text><text x="2017.0" y="365.7" font-size="11.1" font-weight="bold" fill="#333" text-anchor="middle">(Higher is better)</text><text x="2017.0" y="560.7" font-size="10.6" fill="#3c3c3c" text-anchor="middle">Processed Tokens (Billions)</text><text x="1920.2" y="455.1" font-size="10.6" fill="#3c3c3c" text-anchor="middle" transform="rotate(-90 1920.2 455.1)">Average Score</text>
<polyline points="1956.9,503.6 1967.9,493.2 1978.8,479.3 1989.7,475.8 2000.6,434.3 2011.5,496.6 2022.5,468.9 2033.4,413.5 2044.3,420.4 2055.2,434.3 2066.2,403.1 2077.1,413.5" fill="none" stroke="#4363e0" stroke-width="0.9" stroke-linejoin="round"/>
<circle cx="1956.9" cy="503.6" r="1.9" fill="#4363e0" stroke="#fff" stroke-width="0.3"/>
<circle cx="1967.9" cy="493.2" r="1.9" fill="#4363e0" stroke="#fff" stroke-width="0.3"/>
<circle cx="1978.8" cy="479.3" r="1.9" fill="#4363e0" stroke="#fff" stroke-width="0.3"/>
<circle cx="1989.7" cy="475.8" r="1.9" fill="#4363e0" stroke="#fff" stroke-width="0.3"/>
<circle cx="2000.6" cy="434.3" r="1.9" fill="#4363e0" stroke="#fff" stroke-width="0.3"/>
<circle cx="2011.5" cy="496.6" r="1.9" fill="#4363e0" stroke="#fff" stroke-width="0.3"/>
<circle cx="2022.5" cy="468.9" r="1.9" fill="#4363e0" stroke="#fff" stroke-width="0.3"/>
<circle cx="2033.4" cy="413.5" r="1.9" fill="#4363e0" stroke="#fff" stroke-width="0.3"/>
<circle cx="2044.3" cy="420.4" r="1.9" fill="#4363e0" stroke="#fff" stroke-width="0.3"/>
<circle cx="2055.2" cy="434.3" r="1.9" fill="#4363e0" stroke="#fff" stroke-width="0.3"/>
<circle cx="2066.2" cy="403.1" r="1.9" fill="#4363e0" stroke="#fff" stroke-width="0.3"/>
<circle cx="2077.1" cy="413.5" r="1.9" fill="#4363e0" stroke="#fff" stroke-width="0.3"/>
<polyline points="1956.9,482.8 1967.9,472.4 1978.8,479.3 1989.7,448.1 2000.6,441.2 2011.5,451.6 2022.5,444.7 2033.4,410.0 2044.3,413.5 2055.2,396.1 2066.2,410.0 2077.1,410.0" fill="none" stroke="#3f3b8c" stroke-width="0.9" stroke-linejoin="round"/>
<rect x="1955.1" y="481.0" width="3.6" height="3.6" fill="#3f3b8c" stroke="#fff" stroke-width="0.3"/>
<rect x="1966.1" y="470.6" width="3.6" height="3.6" fill="#3f3b8c" stroke="#fff" stroke-width="0.3"/>
<rect x="1977.0" y="477.5" width="3.6" height="3.6" fill="#3f3b8c" stroke="#fff" stroke-width="0.3"/>
<rect x="1987.9" y="446.3" width="3.6" height="3.6" fill="#3f3b8c" stroke="#fff" stroke-width="0.3"/>
<rect x="1998.8" y="439.4" width="3.6" height="3.6" fill="#3f3b8c" stroke="#fff" stroke-width="0.3"/>
<rect x="2009.8" y="449.8" width="3.6" height="3.6" fill="#3f3b8c" stroke="#fff" stroke-width="0.3"/>
<rect x="2020.7" y="442.9" width="3.6" height="3.6" fill="#3f3b8c" stroke="#fff" stroke-width="0.3"/>
<rect x="2031.6" y="408.2" width="3.6" height="3.6" fill="#3f3b8c" stroke="#fff" stroke-width="0.3"/>
<rect x="2042.5" y="411.7" width="3.6" height="3.6" fill="#3f3b8c" stroke="#fff" stroke-width="0.3"/>
<rect x="2053.5" y="394.3" width="3.6" height="3.6" fill="#3f3b8c" stroke="#fff" stroke-width="0.3"/>
<rect x="2064.4" y="408.2" width="3.6" height="3.6" fill="#3f3b8c" stroke="#fff" stroke-width="0.3"/>
<rect x="2075.3" y="408.2" width="3.6" height="3.6" fill="#3f3b8c" stroke="#fff" stroke-width="0.3"/>
<polyline points="1956.9,507.0 1967.9,482.8 1978.8,484.5 1989.7,441.2 2000.6,430.8 2011.5,434.3 2022.5,430.8 2033.4,382.3 2044.3,413.5 2055.2,399.6 2066.2,389.2 2077.1,403.1" fill="none" stroke="#2b7b8e" stroke-width="0.9" stroke-linejoin="round"/>
<path d="M1956.9,505.2 L1958.8,508.5 L1955.1,508.5 Z" fill="#2b7b8e" stroke="#fff" stroke-width="0.3"/>
<path d="M1967.9,480.9 L1969.7,484.3 L1966.0,484.3 Z" fill="#2b7b8e" stroke="#fff" stroke-width="0.3"/>
<path d="M1978.8,482.7 L1980.6,486.0 L1976.9,486.0 Z" fill="#2b7b8e" stroke="#fff" stroke-width="0.3"/>
<path d="M1989.7,439.3 L1991.6,442.7 L1987.8,442.7 Z" fill="#2b7b8e" stroke="#fff" stroke-width="0.3"/>
<path d="M2000.6,428.9 L2002.5,432.3 L1998.8,432.3 Z" fill="#2b7b8e" stroke="#fff" stroke-width="0.3"/>
<path d="M2011.5,432.4 L2013.4,435.7 L2009.7,435.7 Z" fill="#2b7b8e" stroke="#fff" stroke-width="0.3"/>
<path d="M2022.5,428.9 L2024.3,432.3 L2020.6,432.3 Z" fill="#2b7b8e" stroke="#fff" stroke-width="0.3"/>
<path d="M2033.4,380.4 L2035.3,383.8 L2031.5,383.8 Z" fill="#2b7b8e" stroke="#fff" stroke-width="0.3"/>
<path d="M2044.3,411.6 L2046.2,414.9 L2042.5,414.9 Z" fill="#2b7b8e" stroke="#fff" stroke-width="0.3"/>
<path d="M2055.2,397.7 L2057.1,401.1 L2053.4,401.1 Z" fill="#2b7b8e" stroke="#fff" stroke-width="0.3"/>
<path d="M2066.2,387.3 L2068.0,390.7 L2064.3,390.7 Z" fill="#2b7b8e" stroke="#fff" stroke-width="0.3"/>
<path d="M2077.1,401.2 L2079.0,404.5 L2075.2,404.5 Z" fill="#2b7b8e" stroke="#fff" stroke-width="0.3"/>
<polyline points="1956.9,524.4 1967.9,496.6 1978.8,451.6 1989.7,434.3 2000.6,427.3 2011.5,416.9 2022.5,430.8 2033.4,423.9 2044.3,434.3 2055.2,410.0 2066.2,427.3 2077.1,416.9" fill="none" stroke="#7ad151" stroke-width="0.9" stroke-linejoin="round"/>
<path d="M1956.9,526.0 L1958.6,523.0 L1955.3,523.0 Z" fill="#7ad151" stroke="#fff" stroke-width="0.3"/>
<path d="M1967.9,498.3 L1969.5,495.3 L1966.2,495.3 Z" fill="#7ad151" stroke="#fff" stroke-width="0.3"/>
<path d="M1978.8,453.3 L1980.4,450.2 L1977.1,450.2 Z" fill="#7ad151" stroke="#fff" stroke-width="0.3"/>
<path d="M1989.7,435.9 L1991.4,432.9 L1988.0,432.9 Z" fill="#7ad151" stroke="#fff" stroke-width="0.3"/>
<path d="M2000.6,429.0 L2002.3,426.0 L1999.0,426.0 Z" fill="#7ad151" stroke="#fff" stroke-width="0.3"/>
<path d="M2011.5,418.6 L2013.2,415.6 L2009.9,415.6 Z" fill="#7ad151" stroke="#fff" stroke-width="0.3"/>
<path d="M2022.5,432.5 L2024.1,429.4 L2020.8,429.4 Z" fill="#7ad151" stroke="#fff" stroke-width="0.3"/>
<path d="M2033.4,425.5 L2035.1,422.5 L2031.7,422.5 Z" fill="#7ad151" stroke="#fff" stroke-width="0.3"/>
<path d="M2044.3,435.9 L2046.0,432.9 L2042.7,432.9 Z" fill="#7ad151" stroke="#fff" stroke-width="0.3"/>
<path d="M2055.2,411.7 L2056.9,408.7 L2053.6,408.7 Z" fill="#7ad151" stroke="#fff" stroke-width="0.3"/>
<path d="M2066.2,429.0 L2067.8,426.0 L2064.5,426.0 Z" fill="#7ad151" stroke="#fff" stroke-width="0.3"/>
<path d="M2077.1,418.6 L2078.8,415.6 L2075.4,415.6 Z" fill="#7ad151" stroke="#fff" stroke-width="0.3"/>
<polyline points="1956.9,534.8 1967.9,524.4 1978.8,486.2 1989.7,479.3 2000.6,479.3 2011.5,465.4 2022.5,479.3 2033.4,455.1 2044.3,465.4 2055.2,441.2 2066.2,441.2 2077.1,448.1" fill="none" stroke="#fde725" stroke-width="0.9" stroke-linejoin="round"/>
<circle cx="1956.9" cy="534.8" r="1.6" fill="#fde725" stroke="#fff" stroke-width="0.3"/>
<circle cx="1967.9" cy="524.4" r="1.6" fill="#fde725" stroke="#fff" stroke-width="0.3"/>
<circle cx="1978.8" cy="486.2" r="1.6" fill="#fde725" stroke="#fff" stroke-width="0.3"/>
<circle cx="1989.7" cy="479.3" r="1.6" fill="#fde725" stroke="#fff" stroke-width="0.3"/>
<circle cx="2000.6" cy="479.3" r="1.6" fill="#fde725" stroke="#fff" stroke-width="0.3"/>
<circle cx="2011.5" cy="465.4" r="1.6" fill="#fde725" stroke="#fff" stroke-width="0.3"/>
<circle cx="2022.5" cy="479.3" r="1.6" fill="#fde725" stroke="#fff" stroke-width="0.3"/>
<circle cx="2033.4" cy="455.1" r="1.6" fill="#fde725" stroke="#fff" stroke-width="0.3"/>
<circle cx="2044.3" cy="465.4" r="1.6" fill="#fde725" stroke="#fff" stroke-width="0.3"/>
<circle cx="2055.2" cy="441.2" r="1.6" fill="#fde725" stroke="#fff" stroke-width="0.3"/>
<circle cx="2066.2" cy="441.2" r="1.6" fill="#fde725" stroke="#fff" stroke-width="0.3"/>
<circle cx="2077.1" cy="448.1" r="1.6" fill="#fde725" stroke="#fff" stroke-width="0.3"/>
<polyline points="1956.9,475.8 1967.9,437.7 1978.8,465.4 1989.7,403.1 2000.6,410.0 2011.5,420.4 2022.5,416.9 2033.4,406.5 2044.3,413.5 2055.2,392.7 2066.2,382.3 2077.1,385.7" fill="none" stroke="#22a884" stroke-width="0.9" stroke-linejoin="round"/>
<path d="M1956.9,473.0 L1959.8,475.8 L1956.9,478.7 L1954.0,475.8 Z" fill="#22a884" stroke="#fff" stroke-width="0.3"/>
<path d="M1967.9,434.8 L1970.7,437.7 L1967.9,440.6 L1965.0,437.7 Z" fill="#22a884" stroke="#fff" stroke-width="0.3"/>
<path d="M1978.8,462.6 L1981.7,465.4 L1978.8,468.3 L1975.9,465.4 Z" fill="#22a884" stroke="#fff" stroke-width="0.3"/>
<path d="M1989.7,400.2 L1992.6,403.1 L1989.7,405.9 L1986.8,403.1 Z" fill="#22a884" stroke="#fff" stroke-width="0.3"/>
<path d="M2000.6,407.1 L2003.5,410.0 L2000.6,412.9 L1997.7,410.0 Z" fill="#22a884" stroke="#fff" stroke-width="0.3"/>
<path d="M2011.5,417.5 L2014.4,420.4 L2011.5,423.3 L2008.7,420.4 Z" fill="#22a884" stroke="#fff" stroke-width="0.3"/>
<path d="M2022.5,414.0 L2025.4,416.9 L2022.5,419.8 L2019.6,416.9 Z" fill="#22a884" stroke="#fff" stroke-width="0.3"/>
<path d="M2033.4,403.6 L2036.3,406.5 L2033.4,409.4 L2030.5,406.5 Z" fill="#22a884" stroke="#fff" stroke-width="0.3"/>
<path d="M2044.3,410.6 L2047.2,413.5 L2044.3,416.3 L2041.4,413.5 Z" fill="#22a884" stroke="#fff" stroke-width="0.3"/>
<path d="M2055.2,389.8 L2058.1,392.7 L2055.2,395.5 L2052.4,392.7 Z" fill="#22a884" stroke="#fff" stroke-width="0.3"/>
<path d="M2066.2,379.4 L2069.1,382.3 L2066.2,385.1 L2063.3,382.3 Z" fill="#22a884" stroke="#fff" stroke-width="0.3"/>
<path d="M2077.1,382.8 L2080.0,385.7 L2077.1,388.6 L2074.2,385.7 Z" fill="#22a884" stroke="#fff" stroke-width="0.3"/>
<path d="M2332.6,368.4 L2332.6,541.7" stroke="#f3f3f3" stroke-width="0.8"/><path d="M2376.3,368.4 L2376.3,541.7" stroke="#f3f3f3" stroke-width="0.8"/><path d="M2420.0,368.4 L2420.0,541.7" stroke="#f3f3f3" stroke-width="0.8"/><path d="M2293.8,368.4 L2426.0,368.4" stroke="#f3f3f3" stroke-width="0.8"/><path d="M2293.8,411.7 L2426.0,411.7" stroke="#f3f3f3" stroke-width="0.8"/><path d="M2293.8,455.1 L2426.0,455.1" stroke="#f3f3f3" stroke-width="0.8"/><path d="M2293.8,498.4 L2426.0,498.4" stroke="#f3f3f3" stroke-width="0.8"/><path d="M2293.8,541.7 L2426.0,541.7" stroke="#f3f3f3" stroke-width="0.8"/><path d="M2293.8,368.4 L2293.8,541.7 L2426.0,541.7" stroke="#d9d9d9" stroke-width="1" fill="none"/><text x="2332.6" y="550.7" font-size="9.7" fill="#3c3c3c" text-anchor="middle">50</text><text x="2376.3" y="550.7" font-size="9.7" fill="#3c3c3c" text-anchor="middle">100</text><text x="2420.0" y="550.7" font-size="9.7" fill="#3c3c3c" text-anchor="middle">150</text><text x="2292.2" y="371.9" font-size="9.7" fill="#3c3c3c" text-anchor="end">37</text><text x="2292.2" y="415.2" font-size="9.7" fill="#3c3c3c" text-anchor="end">33</text><text x="2292.2" y="458.5" font-size="9.7" fill="#3c3c3c" text-anchor="end">29</text><text x="2292.2" y="501.9" font-size="9.7" fill="#3c3c3c" text-anchor="end">25</text><text x="2292.2" y="545.2" font-size="9.7" fill="#3c3c3c" text-anchor="end">21</text><text x="2361.9" y="353.6" font-size="11.1" font-weight="bold" fill="#333" text-anchor="middle">8×1.5B Downstream Task Score</text><text x="2361.9" y="365.7" font-size="11.1" font-weight="bold" fill="#333" text-anchor="middle">(Higher is better)</text><text x="2359.9" y="560.7" font-size="10.6" fill="#3c3c3c" text-anchor="middle">Processed Tokens (Billions)</text><text x="2276.8" y="455.1" font-size="10.6" fill="#3c3c3c" text-anchor="middle" transform="rotate(-90 2276.8 455.1)">Average Score</text>
<polyline points="2299.8,448.6 2310.8,445.3 2321.7,432.3 2332.6,419.3 2343.5,429.1 2354.4,421.5 2365.4,413.9 2376.3,437.7 2387.2,420.4 2398.2,406.3 2409.1,393.3 2420.0,397.6" fill="none" stroke="#4363e0" stroke-width="0.9" stroke-linejoin="round"/>
<circle cx="2299.8" cy="448.6" r="1.9" fill="#4363e0" stroke="#fff" stroke-width="0.3"/>
<circle cx="2310.8" cy="445.3" r="1.9" fill="#4363e0" stroke="#fff" stroke-width="0.3"/>
<circle cx="2321.7" cy="432.3" r="1.9" fill="#4363e0" stroke="#fff" stroke-width="0.3"/>
<circle cx="2332.6" cy="419.3" r="1.9" fill="#4363e0" stroke="#fff" stroke-width="0.3"/>
<circle cx="2343.5" cy="429.1" r="1.9" fill="#4363e0" stroke="#fff" stroke-width="0.3"/>
<circle cx="2354.4" cy="421.5" r="1.9" fill="#4363e0" stroke="#fff" stroke-width="0.3"/>
<circle cx="2365.4" cy="413.9" r="1.9" fill="#4363e0" stroke="#fff" stroke-width="0.3"/>
<circle cx="2376.3" cy="437.7" r="1.9" fill="#4363e0" stroke="#fff" stroke-width="0.3"/>
<circle cx="2387.2" cy="420.4" r="1.9" fill="#4363e0" stroke="#fff" stroke-width="0.3"/>
<circle cx="2398.2" cy="406.3" r="1.9" fill="#4363e0" stroke="#fff" stroke-width="0.3"/>
<circle cx="2409.1" cy="393.3" r="1.9" fill="#4363e0" stroke="#fff" stroke-width="0.3"/>
<circle cx="2420.0" cy="397.6" r="1.9" fill="#4363e0" stroke="#fff" stroke-width="0.3"/>
<polyline points="2299.8,441.0 2310.8,441.0 2321.7,428.0 2332.6,421.5 2343.5,433.4 2354.4,408.5 2365.4,422.6 2376.3,420.4 2387.2,418.2 2398.2,418.2 2409.1,404.1 2420.0,394.4" fill="none" stroke="#3f3b8c" stroke-width="0.9" stroke-linejoin="round"/>
<rect x="2298.0" y="439.2" width="3.6" height="3.6" fill="#3f3b8c" stroke="#fff" stroke-width="0.3"/>
<rect x="2309.0" y="439.2" width="3.6" height="3.6" fill="#3f3b8c" stroke="#fff" stroke-width="0.3"/>
<rect x="2319.9" y="426.2" width="3.6" height="3.6" fill="#3f3b8c" stroke="#fff" stroke-width="0.3"/>
<rect x="2330.8" y="419.7" width="3.6" height="3.6" fill="#3f3b8c" stroke="#fff" stroke-width="0.3"/>
<rect x="2341.7" y="431.6" width="3.6" height="3.6" fill="#3f3b8c" stroke="#fff" stroke-width="0.3"/>
<rect x="2352.7" y="406.7" width="3.6" height="3.6" fill="#3f3b8c" stroke="#fff" stroke-width="0.3"/>
<rect x="2363.6" y="420.8" width="3.6" height="3.6" fill="#3f3b8c" stroke="#fff" stroke-width="0.3"/>
<rect x="2374.5" y="418.6" width="3.6" height="3.6" fill="#3f3b8c" stroke="#fff" stroke-width="0.3"/>
<rect x="2385.4" y="416.4" width="3.6" height="3.6" fill="#3f3b8c" stroke="#fff" stroke-width="0.3"/>
<rect x="2396.4" y="416.4" width="3.6" height="3.6" fill="#3f3b8c" stroke="#fff" stroke-width="0.3"/>
<rect x="2407.3" y="402.3" width="3.6" height="3.6" fill="#3f3b8c" stroke="#fff" stroke-width="0.3"/>
<rect x="2418.2" y="392.6" width="3.6" height="3.6" fill="#3f3b8c" stroke="#fff" stroke-width="0.3"/>
<polyline points="2299.8,443.1 2310.8,430.1 2321.7,418.2 2332.6,402.0 2343.5,397.6 2354.4,397.6 2365.4,398.7 2376.3,394.4 2387.2,392.2 2398.2,394.4 2409.1,393.3 2420.0,386.8" fill="none" stroke="#2b7b8e" stroke-width="0.9" stroke-linejoin="round"/>
<path d="M2299.8,441.3 L2301.7,444.6 L2298.0,444.6 Z" fill="#2b7b8e" stroke="#fff" stroke-width="0.3"/>
<path d="M2310.8,428.3 L2312.6,431.6 L2308.9,431.6 Z" fill="#2b7b8e" stroke="#fff" stroke-width="0.3"/>
<path d="M2321.7,416.4 L2323.5,419.7 L2319.8,419.7 Z" fill="#2b7b8e" stroke="#fff" stroke-width="0.3"/>
<path d="M2332.6,400.1 L2334.5,403.5 L2330.7,403.5 Z" fill="#2b7b8e" stroke="#fff" stroke-width="0.3"/>
<path d="M2343.5,395.8 L2345.4,399.1 L2341.7,399.1 Z" fill="#2b7b8e" stroke="#fff" stroke-width="0.3"/>
<path d="M2354.4,395.8 L2356.3,399.1 L2352.6,399.1 Z" fill="#2b7b8e" stroke="#fff" stroke-width="0.3"/>
<path d="M2365.4,396.9 L2367.2,400.2 L2363.5,400.2 Z" fill="#2b7b8e" stroke="#fff" stroke-width="0.3"/>
<path d="M2376.3,392.5 L2378.2,395.9 L2374.4,395.9 Z" fill="#2b7b8e" stroke="#fff" stroke-width="0.3"/>
<path d="M2387.2,390.4 L2389.1,393.7 L2385.4,393.7 Z" fill="#2b7b8e" stroke="#fff" stroke-width="0.3"/>
<path d="M2398.2,392.5 L2400.0,395.9 L2396.3,395.9 Z" fill="#2b7b8e" stroke="#fff" stroke-width="0.3"/>
<path d="M2409.1,391.5 L2410.9,394.8 L2407.2,394.8 Z" fill="#2b7b8e" stroke="#fff" stroke-width="0.3"/>
<path d="M2420.0,385.0 L2421.9,388.3 L2418.1,388.3 Z" fill="#2b7b8e" stroke="#fff" stroke-width="0.3"/>
<polyline points="2299.8,512.5 2310.8,478.9 2321.7,443.1 2332.6,431.2 2343.5,436.6 2354.4,422.6 2365.4,406.3 2376.3,398.7 2387.2,400.9 2398.2,380.3 2409.1,403.1 2420.0,393.3" fill="none" stroke="#7ad151" stroke-width="0.9" stroke-linejoin="round"/>
<path d="M2299.8,514.1 L2301.5,511.1 L2298.2,511.1 Z" fill="#7ad151" stroke="#fff" stroke-width="0.3"/>
<path d="M2310.8,480.6 L2312.4,477.5 L2309.1,477.5 Z" fill="#7ad151" stroke="#fff" stroke-width="0.3"/>
<path d="M2321.7,444.8 L2323.3,441.8 L2320.0,441.8 Z" fill="#7ad151" stroke="#fff" stroke-width="0.3"/>
<path d="M2332.6,432.9 L2334.3,429.9 L2330.9,429.9 Z" fill="#7ad151" stroke="#fff" stroke-width="0.3"/>
<path d="M2343.5,438.3 L2345.2,435.3 L2341.9,435.3 Z" fill="#7ad151" stroke="#fff" stroke-width="0.3"/>
<path d="M2354.4,424.2 L2356.1,421.2 L2352.8,421.2 Z" fill="#7ad151" stroke="#fff" stroke-width="0.3"/>
<path d="M2365.4,408.0 L2367.0,405.0 L2363.7,405.0 Z" fill="#7ad151" stroke="#fff" stroke-width="0.3"/>
<path d="M2376.3,400.4 L2378.0,397.4 L2374.6,397.4 Z" fill="#7ad151" stroke="#fff" stroke-width="0.3"/>
<path d="M2387.2,402.6 L2388.9,399.6 L2385.6,399.6 Z" fill="#7ad151" stroke="#fff" stroke-width="0.3"/>
<path d="M2398.2,382.0 L2399.8,379.0 L2396.5,379.0 Z" fill="#7ad151" stroke="#fff" stroke-width="0.3"/>
<path d="M2409.1,404.7 L2410.7,401.7 L2407.4,401.7 Z" fill="#7ad151" stroke="#fff" stroke-width="0.3"/>
<path d="M2420.0,395.0 L2421.7,392.0 L2418.3,392.0 Z" fill="#7ad151" stroke="#fff" stroke-width="0.3"/>
<polyline points="2299.8,524.4 2310.8,499.5 2321.7,465.9 2332.6,446.4 2343.5,445.3 2354.4,420.4 2365.4,425.8 2376.3,410.6 2387.2,404.1 2398.2,394.4 2409.1,400.9 2420.0,391.1" fill="none" stroke="#fde725" stroke-width="0.9" stroke-linejoin="round"/>
<circle cx="2299.8" cy="524.4" r="1.6" fill="#fde725" stroke="#fff" stroke-width="0.3"/>
<circle cx="2310.8" cy="499.5" r="1.6" fill="#fde725" stroke="#fff" stroke-width="0.3"/>
<circle cx="2321.7" cy="465.9" r="1.6" fill="#fde725" stroke="#fff" stroke-width="0.3"/>
<circle cx="2332.6" cy="446.4" r="1.6" fill="#fde725" stroke="#fff" stroke-width="0.3"/>
<circle cx="2343.5" cy="445.3" r="1.6" fill="#fde725" stroke="#fff" stroke-width="0.3"/>
<circle cx="2354.4" cy="420.4" r="1.6" fill="#fde725" stroke="#fff" stroke-width="0.3"/>
<circle cx="2365.4" cy="425.8" r="1.6" fill="#fde725" stroke="#fff" stroke-width="0.3"/>
<circle cx="2376.3" cy="410.6" r="1.6" fill="#fde725" stroke="#fff" stroke-width="0.3"/>
<circle cx="2387.2" cy="404.1" r="1.6" fill="#fde725" stroke="#fff" stroke-width="0.3"/>
<circle cx="2398.2" cy="394.4" r="1.6" fill="#fde725" stroke="#fff" stroke-width="0.3"/>
<circle cx="2409.1" cy="400.9" r="1.6" fill="#fde725" stroke="#fff" stroke-width="0.3"/>
<circle cx="2420.0" cy="391.1" r="1.6" fill="#fde725" stroke="#fff" stroke-width="0.3"/>
<polyline points="2299.8,469.1 2310.8,445.3 2321.7,428.0 2332.6,423.6 2343.5,411.7 2354.4,402.0 2365.4,398.7 2376.3,390.1 2387.2,393.3 2398.2,385.7 2409.1,384.1 2420.0,380.3" fill="none" stroke="#22a884" stroke-width="0.9" stroke-linejoin="round"/>
<path d="M2299.8,466.3 L2302.7,469.1 L2299.8,472.0 L2296.9,469.1 Z" fill="#22a884" stroke="#fff" stroke-width="0.3"/>
<path d="M2310.8,442.4 L2313.6,445.3 L2310.8,448.2 L2307.9,445.3 Z" fill="#22a884" stroke="#fff" stroke-width="0.3"/>
<path d="M2321.7,425.1 L2324.6,428.0 L2321.7,430.9 L2318.8,428.0 Z" fill="#22a884" stroke="#fff" stroke-width="0.3"/>
<path d="M2332.6,420.8 L2335.5,423.6 L2332.6,426.5 L2329.7,423.6 Z" fill="#22a884" stroke="#fff" stroke-width="0.3"/>
<path d="M2343.5,408.8 L2346.4,411.7 L2343.5,414.6 L2340.6,411.7 Z" fill="#22a884" stroke="#fff" stroke-width="0.3"/>
<path d="M2354.4,399.1 L2357.3,402.0 L2354.4,404.9 L2351.6,402.0 Z" fill="#22a884" stroke="#fff" stroke-width="0.3"/>
<path d="M2365.4,395.8 L2368.3,398.7 L2365.4,401.6 L2362.5,398.7 Z" fill="#22a884" stroke="#fff" stroke-width="0.3"/>
<path d="M2376.3,387.2 L2379.2,390.1 L2376.3,392.9 L2373.4,390.1 Z" fill="#22a884" stroke="#fff" stroke-width="0.3"/>
<path d="M2387.2,390.4 L2390.1,393.3 L2387.2,396.2 L2384.3,393.3 Z" fill="#22a884" stroke="#fff" stroke-width="0.3"/>
<path d="M2398.2,382.9 L2401.0,385.7 L2398.2,388.6 L2395.3,385.7 Z" fill="#22a884" stroke="#fff" stroke-width="0.3"/>
<path d="M2409.1,381.2 L2412.0,384.1 L2409.1,387.0 L2406.2,384.1 Z" fill="#22a884" stroke="#fff" stroke-width="0.3"/>
<path d="M2420.0,377.4 L2422.9,380.3 L2420.0,383.2 L2417.1,380.3 Z" fill="#22a884" stroke="#fff" stroke-width="0.3"/>
<rect x="1805" y="575.8" width="566.6" height="54.7" rx="3" fill="#fff" stroke="#f0f0f0" stroke-width="1"/>
<path d="M1814,589.6 L1845.5,589.6" stroke="#4363e0" stroke-width="2.2"/>
<circle cx="1829.7" cy="589.6" r="2.3" fill="#4363e0" stroke="#fff" stroke-width="0.3"/>
<text x="1860.5" y="593.2" font-size="9.9" font-family="DejaVu Sans, sans-serif" fill="#555" textLength="79.0" lengthAdjust="spacingAndGlyphs">naïve Upcycling</text>
<path d="M1814,614.8000000000001 L1845.5,614.8000000000001" stroke="#22a884" stroke-width="2.2"/>
<path d="M1829.7,611.8 L1832.7,614.8 L1829.7,617.8 L1826.7,614.8 Z" fill="#22a884" stroke="#fff" stroke-width="0.3"/>
<text x="1860.5" y="618.4" font-size="9.9" font-family="DejaVu Sans, sans-serif" fill="#555" textLength="120.7" lengthAdjust="spacingAndGlyphs">Drop-Upcycling (<tspan font-style="italic">r</tspan> = 0.5)</text>
<path d="M1999,589.6 L2030.5,589.6" stroke="#3f3b8c" stroke-width="2.2"/>
<rect x="2012.5" y="587.4" width="4.3" height="4.3" fill="#3f3b8c" stroke="#fff" stroke-width="0.3"/>
<text x="2045.3" y="593.2" font-size="9.9" font-family="DejaVu Sans, sans-serif" fill="#555" textLength="120.7" lengthAdjust="spacingAndGlyphs">Drop-Upcycling (<tspan font-style="italic">r</tspan> = 0.1)</text>
<path d="M1999,614.8000000000001 L2030.5,614.8000000000001" stroke="#7ad151" stroke-width="2.2"/>
<path d="M2014.7,616.8 L2016.7,613.2 L2012.7,613.2 Z" fill="#7ad151" stroke="#fff" stroke-width="0.3"/>
<text x="2045.3" y="618.4" font-size="9.9" font-family="DejaVu Sans, sans-serif" fill="#555" textLength="126.5" lengthAdjust="spacingAndGlyphs">Drop-Upcycling (<tspan font-style="italic">r</tspan> = 0.75)</text>
<path d="M2189.7,589.6 L2221.2,589.6" stroke="#2b7b8e" stroke-width="2.2"/>
<path d="M2205.4,587.4 L2207.6,591.4 L2203.1,591.4 Z" fill="#2b7b8e" stroke="#fff" stroke-width="0.3"/>
<text x="2236.3" y="593.2" font-size="9.9" font-family="DejaVu Sans, sans-serif" fill="#555" textLength="126.5" lengthAdjust="spacingAndGlyphs">Drop-Upcycling (<tspan font-style="italic">r</tspan> = 0.25)</text>
<path d="M2189.7,614.8000000000001 L2221.2,614.8000000000001" stroke="#fde725" stroke-width="2.2"/>
<circle cx="2205.4" cy="614.8" r="2.0" fill="#fde725" stroke="#fff" stroke-width="0.3"/>
<text x="2236.3" y="618.4" font-size="9.9" font-family="DejaVu Sans, sans-serif" fill="#555" textLength="120.7" lengthAdjust="spacingAndGlyphs">Drop-Upcycling (<tspan font-style="italic">r</tspan> = 1.0)</text>
</g>
<g id="part_table">
<rect x="812.9" y="1137.8" width="873.1" height="18.8" fill="#ededed" />
<path d="M812.9,1027 L1686,1027" stroke="#444" stroke-width="1.3"/>
<path d="M812.9,1093.5 L1686,1093.5" stroke="#444" stroke-width="1.0"/>
<path d="M812.9,1200.2 L1686,1200.2" stroke="#444" stroke-width="1.3"/>
<path d="M829.1,1054.8 L1071,1054.8" stroke="#b5b5b5" stroke-width="0.9"/>
<path d="M1080.7,1054.8 L1184.7,1054.8" stroke="#b5b5b5" stroke-width="0.9"/>
<path d="M1194.5,1054.8 L1653,1054.8" stroke="#b5b5b5" stroke-width="0.9"/>
<text x="949.7" y="1045.8" font-size="13.3" font-family="Liberation Serif, serif" font-weight="bold" fill="#222" text-anchor="middle">Model</text>
<text x="1132.7" y="1045.8" font-size="13.3" font-family="Liberation Serif, serif" font-weight="bold" fill="#222" text-anchor="middle">Training</text>
<text x="1439.8" y="1045.8" font-size="13.3" font-family="Liberation Serif, serif" font-weight="bold" fill="#222" text-anchor="middle">Individual Scores</text>
<text x="817.0" y="1078.3" font-size="13.3" font-family="Liberation Serif, serif" font-weight="bold" fill="#222">#</text>
<text x="833.3" y="1078.3" font-size="13.3" font-family="Liberation Serif, serif" font-weight="bold" fill="#222">Architecture</text>
<text x="942.4" y="1070.6" font-size="13.3" font-family="Liberation Serif, serif" font-weight="bold" fill="#222" text-anchor="middle">MoE</text>
<text x="942.4" y="1086.1" font-size="13.3" font-family="Liberation Serif, serif" font-weight="bold" fill="#222" text-anchor="middle">Init</text>
<text x="1028.1" y="1070.6" font-size="13.3" font-family="Liberation Serif, serif" font-weight="bold" fill="#222" text-anchor="middle">Act Params /</text>
<text x="1028.1" y="1086.1" font-size="13.3" font-family="Liberation Serif, serif" font-weight="bold" fill="#222" text-anchor="middle">Total Params</text>
<text x="1105.3" y="1078.3" font-size="13.3" font-family="Liberation Serif, serif" font-weight="bold" fill="#222" text-anchor="middle">Tokens</text>
<text x="1157.7" y="1070.6" font-size="13.3" font-family="Liberation Serif, serif" font-weight="bold" fill="#222" text-anchor="middle">FLOPs</text>
<text x="1157.7" y="1086.7" font-size="13.3" font-family="Liberation Serif, serif" fill="#222" text-anchor="middle">(×10<tspan font-size="9" dy="-5">22</tspan><tspan dy="5">)</tspan></text>
<text x="1213.9" y="1070.6" font-size="13.3" font-family="Liberation Serif, serif" font-weight="bold" fill="#222" text-anchor="middle">JEM</text>
<text x="1213.9" y="1086.1" font-size="13.3" font-family="Liberation Serif, serif" font-weight="bold" fill="#222" text-anchor="middle">HQA</text>
<text x="1258.2" y="1078.3" font-size="13.3" font-family="Liberation Serif, serif" font-weight="bold" fill="#222" text-anchor="middle">NIILC</text>
<text x="1299.2" y="1078.3" font-size="13.3" font-family="Liberation Serif, serif" font-weight="bold" fill="#222" text-anchor="middle">JSQ</text>
<text x="1334.0" y="1070.6" font-size="13.3" font-family="Liberation Serif, serif" font-weight="bold" fill="#222" text-anchor="middle">XL-</text>
<text x="1334.0" y="1086.1" font-size="13.3" font-family="Liberation Serif, serif" font-weight="bold" fill="#222" text-anchor="middle">Sum</text>
<text x="1374.4" y="1070.6" font-size="13.3" font-family="Liberation Serif, serif" font-weight="bold" fill="#222" text-anchor="middle">WMT</text>
<text x="1374.4" y="1086.1" font-size="13.3" font-family="Liberation Serif, serif" font-weight="bold" fill="#222" text-anchor="middle">E<tspan font-size="1.3em">→</tspan>J</text>
<text x="1418.9" y="1070.6" font-size="13.3" font-family="Liberation Serif, serif" font-weight="bold" fill="#222" text-anchor="middle">WMT</text>
<text x="1418.9" y="1086.1" font-size="13.3" font-family="Liberation Serif, serif" font-weight="bold" fill="#222" text-anchor="middle">J<tspan font-size="1.3em">→</tspan>E</text>
<text x="1458.0" y="1070.6" font-size="13.3" font-family="Liberation Serif, serif" font-weight="bold" fill="#222" text-anchor="middle">OB</text>
<text x="1458.0" y="1086.1" font-size="13.3" font-family="Liberation Serif, serif" font-weight="bold" fill="#222" text-anchor="middle">QA</text>
<text x="1493.2" y="1078.3" font-size="13.3" font-family="Liberation Serif, serif" font-weight="bold" fill="#222" text-anchor="middle">TQA</text>
<text x="1529.9" y="1078.3" font-size="13.3" font-family="Liberation Serif, serif" font-weight="bold" fill="#222" text-anchor="middle">HS</text>
<text x="1562.7" y="1070.6" font-size="13.3" font-family="Liberation Serif, serif" font-weight="bold" fill="#222" text-anchor="middle">SQ</text>
<text x="1562.7" y="1086.1" font-size="13.3" font-family="Liberation Serif, serif" font-weight="bold" fill="#222" text-anchor="middle">v2</text>
<text x="1596.8" y="1070.6" font-size="13.3" font-family="Liberation Serif, serif" font-weight="bold" fill="#222" text-anchor="middle">XW-</text>
<text x="1596.8" y="1086.1" font-size="13.3" font-family="Liberation Serif, serif" font-weight="bold" fill="#222" text-anchor="middle">EN</text>
<text x="1634.2" y="1078.3" font-size="13.3" font-family="Liberation Serif, serif" font-weight="bold" fill="#222" text-anchor="middle">BBH</text>
<text x="1670.7" y="1078.3" font-size="13.3" font-family="Liberation Serif, serif" font-weight="bold" fill="#222" text-anchor="middle">Avg</text>
<text x="817.0" y="1112.7" font-size="13.3" font-family="Liberation Serif, serif" fill="#222">1</text>
<text x="833.3" y="1112.7" font-size="13.3" font-family="Liberation Serif, serif" fill="#222">Dense 3.7B</text>
<text x="916.9" y="1112.7" font-size="13.3" font-family="Liberation Serif, serif" fill="#222">-</text>
<text x="1065.7" y="1112.7" font-size="13.3" font-family="Liberation Serif, serif" fill="#222" text-anchor="end">3.7B / 3.7B</text>
<text x="1124.8" y="1112.7" font-size="13.3" font-family="Liberation Serif, serif" fill="#222" text-anchor="end">1,000B</text>
<text x="1180.1" y="1112.7" font-size="13.3" font-family="Liberation Serif, serif" fill="#222" text-anchor="end">2.70</text>
<text x="1228.8" y="1112.7" font-size="13.3" font-family="Liberation Serif, serif" fill="#222" text-anchor="end">44.5</text>
<text x="1277.8" y="1112.7" font-size="13.3" font-family="Liberation Serif, serif" fill="#222" text-anchor="end">47.2</text>
<text x="1311.7" y="1112.7" font-size="13.3" font-family="Liberation Serif, serif" fill="#222" text-anchor="end">78.8</text>
<text x="1347.4" y="1112.7" font-size="13.3" font-family="Liberation Serif, serif" fill="#222" text-anchor="end">12.8</text>
<text x="1392.1" y="1112.7" font-size="13.3" font-family="Liberation Serif, serif" fill="#222" text-anchor="end">21.4</text>
<text x="1436.4" y="1112.7" font-size="13.3" font-family="Liberation Serif, serif" fill="#222" text-anchor="end">15.4</text>
<text x="1469.0" y="1112.7" font-size="13.3" font-family="Liberation Serif, serif" fill="#222" text-anchor="end">25.0</text>
<text x="1507.9" y="1112.7" font-size="13.3" font-family="Liberation Serif, serif" fill="#222" text-anchor="end">33.8</text>
<text x="1540.3" y="1112.7" font-size="13.3" font-family="Liberation Serif, serif" fill="#222" text-anchor="end">47.3</text>
<text x="1573.1" y="1112.7" font-size="13.3" font-family="Liberation Serif, serif" fill="#222" text-anchor="end">23.7</text>
<text x="1610.9" y="1112.7" font-size="13.3" font-family="Liberation Serif, serif" fill="#222" text-anchor="end">85.9</text>
<text x="1648.3" y="1112.7" font-size="13.3" font-family="Liberation Serif, serif" fill="#222" text-anchor="end">28.7</text>
<text x="1681.1" y="1112.7" font-size="13.3" font-family="Liberation Serif, serif" fill="#222" text-anchor="end">38.7</text>
<text x="817.0" y="1132.1" font-size="13.3" font-family="Liberation Serif, serif" fill="#222">2</text>
<text x="833.3" y="1132.1" font-size="13.3" font-family="Liberation Serif, serif" fill="#222" textLength="73.2" lengthAdjust="spacingAndGlyphs">MoE 8×3.7B</text>
<text x="916.9" y="1132.1" font-size="13.3" font-family="Liberation Serif, serif" fill="#222">FS</text>
<text x="1065.7" y="1132.1" font-size="13.3" font-family="Liberation Serif, serif" fill="#222" text-anchor="end">5.9B / 18B</text>
<text x="1124.8" y="1132.1" font-size="13.3" font-family="Liberation Serif, serif" fill="#222" text-anchor="end">500B</text>
<text x="1180.1" y="1132.1" font-size="13.3" font-family="Liberation Serif, serif" fill="#222" text-anchor="end">1.98</text>
<text x="1228.8" y="1132.1" font-size="13.3" font-family="Liberation Serif, serif" font-weight="bold" fill="#222" text-anchor="end">53.5</text>
<text x="1277.8" y="1132.1" font-size="13.3" font-family="Liberation Serif, serif" fill="#222" text-anchor="end">50.8</text>
<text x="1311.7" y="1132.1" font-size="13.3" font-family="Liberation Serif, serif" fill="#222" text-anchor="end">69.6</text>
<text x="1347.4" y="1132.1" font-size="13.3" font-family="Liberation Serif, serif" fill="#222" text-anchor="end">10.4</text>
<text x="1392.1" y="1132.1" font-size="13.3" font-family="Liberation Serif, serif" fill="#222" text-anchor="end">20.6</text>
<text x="1436.4" y="1132.1" font-size="13.3" font-family="Liberation Serif, serif" fill="#222" text-anchor="end">13.9</text>
<text x="1469.0" y="1132.1" font-size="13.3" font-family="Liberation Serif, serif" fill="#222" text-anchor="end">29.0</text>
<text x="1507.9" y="1132.1" font-size="13.3" font-family="Liberation Serif, serif" fill="#222" text-anchor="end">45.8</text>
<text x="1540.3" y="1132.1" font-size="13.3" font-family="Liberation Serif, serif" fill="#222" text-anchor="end">51.1</text>
<text x="1573.1" y="1132.1" font-size="13.3" font-family="Liberation Serif, serif" fill="#222" text-anchor="end">21.1</text>
<text x="1610.9" y="1132.1" font-size="13.3" font-family="Liberation Serif, serif" fill="#222" text-anchor="end">87.1</text>
<text x="1648.3" y="1132.1" font-size="13.3" font-family="Liberation Serif, serif" fill="#222" text-anchor="end">28.1</text>
<text x="1681.1" y="1132.1" font-size="13.3" font-family="Liberation Serif, serif" fill="#222" text-anchor="end">40.1</text>
<text x="817.0" y="1151.5" font-size="13.3" font-family="Liberation Serif, serif" fill="#222">3</text>
<text x="833.3" y="1151.5" font-size="13.3" font-family="Liberation Serif, serif" fill="#222" textLength="73.2" lengthAdjust="spacingAndGlyphs">MoE 8×3.7B</text>
<text x="916.9" y="1151.5" font-size="13.3" font-family="Liberation Serif, serif" fill="#222">DU (<tspan font-style="italic">r</tspan>=0.5)</text>
<text x="1065.7" y="1151.5" font-size="13.3" font-family="Liberation Serif, serif" fill="#222" text-anchor="end">5.9B / 18B</text>
<text x="1124.8" y="1151.5" font-size="13.3" font-family="Liberation Serif, serif" fill="#222" text-anchor="end">500B</text>
<text x="1180.1" y="1151.5" font-size="13.3" font-family="Liberation Serif, serif" fill="#222" text-anchor="end">1.98</text>
<text x="1228.8" y="1151.5" font-size="13.3" font-family="Liberation Serif, serif" fill="#222" text-anchor="end">47.5</text>
<text x="1277.8" y="1151.5" font-size="13.3" font-family="Liberation Serif, serif" font-weight="bold" fill="#222" text-anchor="end">57.0</text>
<text x="1311.7" y="1151.5" font-size="13.3" font-family="Liberation Serif, serif" fill="#222" text-anchor="end">82.2</text>
<text x="1347.4" y="1151.5" font-size="13.3" font-family="Liberation Serif, serif" font-weight="bold" fill="#222" text-anchor="end">16.3</text>
<text x="1392.1" y="1151.5" font-size="13.3" font-family="Liberation Serif, serif" font-weight="bold" fill="#222" text-anchor="end">25.0</text>
<text x="1436.4" y="1151.5" font-size="13.3" font-family="Liberation Serif, serif" font-weight="bold" fill="#222" text-anchor="end">19.0</text>
<text x="1469.0" y="1151.5" font-size="13.3" font-family="Liberation Serif, serif" fill="#222" text-anchor="end">31.2</text>
<text x="1507.9" y="1151.5" font-size="13.3" font-family="Liberation Serif, serif" font-weight="bold" fill="#222" text-anchor="end">53.6</text>
<text x="1540.3" y="1151.5" font-size="13.3" font-family="Liberation Serif, serif" font-weight="bold" fill="#222" text-anchor="end">54.4</text>
<text x="1573.1" y="1151.5" font-size="13.3" font-family="Liberation Serif, serif" fill="#222" text-anchor="end">26.3</text>
<text x="1610.9" y="1151.5" font-size="13.3" font-family="Liberation Serif, serif" font-weight="bold" fill="#222" text-anchor="end">88.5</text>
<text x="1648.3" y="1151.5" font-size="13.3" font-family="Liberation Serif, serif" fill="#222" text-anchor="end">32.2</text>
<text x="1681.1" y="1151.5" font-size="13.3" font-family="Liberation Serif, serif" fill="#222" text-anchor="end">44.4</text>
<text x="817.0" y="1171.3" font-size="13.3" font-family="Liberation Serif, serif" fill="#222">4</text>
<text x="833.3" y="1171.3" font-size="13.3" font-family="Liberation Serif, serif" fill="#222">Dense 13B</text>
<text x="916.9" y="1171.3" font-size="13.3" font-family="Liberation Serif, serif" fill="#222">-</text>
<text x="1065.7" y="1171.3" font-size="13.3" font-family="Liberation Serif, serif" fill="#222" text-anchor="end">13B / 13B</text>
<text x="1124.8" y="1171.3" font-size="13.3" font-family="Liberation Serif, serif" fill="#222" text-anchor="end">805B</text>
<text x="1180.1" y="1171.3" font-size="13.3" font-family="Liberation Serif, serif" fill="#222" text-anchor="end">7.43</text>
<text x="1228.8" y="1171.3" font-size="13.3" font-family="Liberation Serif, serif" fill="#222" text-anchor="end">47.6</text>
<text x="1277.8" y="1171.3" font-size="13.3" font-family="Liberation Serif, serif" fill="#222" text-anchor="end">58.3</text>
<text x="1311.7" y="1171.3" font-size="13.3" font-family="Liberation Serif, serif" font-weight="bold" fill="#222" text-anchor="end">85.2</text>
<text x="1347.4" y="1171.3" font-size="13.3" font-family="Liberation Serif, serif" fill="#222" text-anchor="end">14.1</text>
<text x="1392.1" y="1171.3" font-size="13.3" font-family="Liberation Serif, serif" fill="#222" text-anchor="end">24.6</text>
<text x="1436.4" y="1171.3" font-size="13.3" font-family="Liberation Serif, serif" fill="#222" text-anchor="end">18.3</text>
<text x="1469.0" y="1171.3" font-size="13.3" font-family="Liberation Serif, serif" font-weight="bold" fill="#222" text-anchor="end">31.4</text>
<text x="1507.9" y="1171.3" font-size="13.3" font-family="Liberation Serif, serif" fill="#222" text-anchor="end">48.6</text>
<text x="1540.3" y="1171.3" font-size="13.3" font-family="Liberation Serif, serif" fill="#222" text-anchor="end">53.1</text>
<text x="1573.1" y="1171.3" font-size="13.3" font-family="Liberation Serif, serif" font-weight="bold" fill="#222" text-anchor="end">29.3</text>
<text x="1610.9" y="1171.3" font-size="13.3" font-family="Liberation Serif, serif" fill="#222" text-anchor="end">88.3</text>
<text x="1648.3" y="1171.3" font-size="13.3" font-family="Liberation Serif, serif" font-weight="bold" fill="#222" text-anchor="end">35.2</text>
<text x="1681.1" y="1171.3" font-size="13.3" font-family="Liberation Serif, serif" font-weight="bold" fill="#222" text-anchor="end">44.5</text>
<text x="817.0" y="1190.8" font-size="13.3" font-family="Liberation Serif, serif" fill="#222">5</text>
<text x="833.3" y="1190.8" font-size="13.3" font-family="Liberation Serif, serif" fill="#222">Dense 3.7B</text>
<text x="916.9" y="1190.8" font-size="13.3" font-family="Liberation Serif, serif" fill="#222">-</text>
<text x="1065.7" y="1190.8" font-size="13.3" font-family="Liberation Serif, serif" fill="#222" text-anchor="end">3.7B / 3.7B</text>
<text x="1124.8" y="1190.8" font-size="13.3" font-family="Liberation Serif, serif" fill="#222" text-anchor="end">2,072B</text>
<text x="1180.1" y="1190.8" font-size="13.3" font-family="Liberation Serif, serif" fill="#222" text-anchor="end">5.58</text>
<text x="1228.8" y="1190.8" font-size="13.3" font-family="Liberation Serif, serif" fill="#222" text-anchor="end">42.3</text>
<text x="1277.8" y="1190.8" font-size="13.3" font-family="Liberation Serif, serif" fill="#222" text-anchor="end">53.2</text>
<text x="1311.7" y="1190.8" font-size="13.3" font-family="Liberation Serif, serif" fill="#222" text-anchor="end">80.4</text>
<text x="1347.4" y="1190.8" font-size="13.3" font-family="Liberation Serif, serif" fill="#222" text-anchor="end">14.3</text>
<text x="1392.1" y="1190.8" font-size="13.3" font-family="Liberation Serif, serif" fill="#222" text-anchor="end">22.6</text>
<text x="1436.4" y="1190.8" font-size="13.3" font-family="Liberation Serif, serif" fill="#222" text-anchor="end">15.9</text>
<text x="1469.0" y="1190.8" font-size="13.3" font-family="Liberation Serif, serif" fill="#222" text-anchor="end">28.2</text>
<text x="1507.9" y="1190.8" font-size="13.3" font-family="Liberation Serif, serif" fill="#222" text-anchor="end">42.2</text>
<text x="1540.3" y="1190.8" font-size="13.3" font-family="Liberation Serif, serif" fill="#222" text-anchor="end">50.6</text>
<text x="1573.1" y="1190.8" font-size="13.3" font-family="Liberation Serif, serif" fill="#222" text-anchor="end">25.8</text>
<text x="1610.9" y="1190.8" font-size="13.3" font-family="Liberation Serif, serif" fill="#222" text-anchor="end">87.3</text>
<text x="1648.3" y="1190.8" font-size="13.3" font-family="Liberation Serif, serif" fill="#222" text-anchor="end">30.9</text>
<text x="1681.1" y="1190.8" font-size="13.3" font-family="Liberation Serif, serif" fill="#222" text-anchor="end">41.1</text>
</g>
<g id="part_routing">
<text x="1885.4" y="757.2" font-size="10.2" font-weight="bold" fill="#333" text-anchor="middle">8×1.5B From Scratch</text>
<path d="M1786.3,801.0 L1984.5,801.0" stroke="#f2f2f2" stroke-width="0.7"/>
<path d="M1786.3,787.2 L1984.5,787.2" stroke="#f2f2f2" stroke-width="0.7"/>
<path d="M1786.3,773.4 L1984.5,773.4" stroke="#f2f2f2" stroke-width="0.7"/>
<path d="M1786.3,759.6 L1786.3,814.8 L1984.5,814.8" stroke="#dcdcdc" stroke-width="0.9" fill="none"/>
<path d="M1804.7,759.6 L1804.7,814.8" stroke="#f4f4f4" stroke-width="0.6"/>
<rect x="1795.83" y="790.51" width="3.60" height="24.29" fill="#4c97cf"/>
<rect x="1799.38" y="791.62" width="3.60" height="23.18" fill="#e9b04a"/>
<rect x="1802.92" y="810.94" width="3.60" height="3.86" fill="#45b08c"/>
<rect x="1806.48" y="810.94" width="3.60" height="3.86" fill="#e0813f"/>
<rect x="1810.03" y="791.62" width="3.60" height="23.18" fill="#dc9cd2"/>
<text x="1804.7" y="823.4" font-size="7.6" fill="#555" text-anchor="middle">0</text>
<path d="M1828.1,759.6 L1828.1,814.8" stroke="#f4f4f4" stroke-width="0.6"/>
<rect x="1826.33" y="809.28" width="3.60" height="5.52" fill="#45b08c"/>
<rect x="1829.88" y="809.83" width="3.60" height="4.97" fill="#e0813f"/>
<text x="1828.1" y="823.4" font-size="7.6" fill="#555" text-anchor="middle">1</text>
<path d="M1851.5,759.6 L1851.5,814.8" stroke="#f4f4f4" stroke-width="0.6"/>
<rect x="1849.72" y="794.93" width="3.60" height="19.87" fill="#45b08c"/>
<rect x="1853.28" y="794.38" width="3.60" height="20.42" fill="#e0813f"/>
<text x="1851.5" y="823.4" font-size="7.6" fill="#555" text-anchor="middle">2</text>
<path d="M1874.9,759.6 L1874.9,814.8" stroke="#f4f4f4" stroke-width="0.6"/>
<rect x="1873.12" y="813.70" width="3.60" height="1.10" fill="#45b08c"/>
<text x="1874.9" y="823.4" font-size="7.6" fill="#555" text-anchor="middle">3</text>
<path d="M1898.3,759.6 L1898.3,814.8" stroke="#f4f4f4" stroke-width="0.6"/>
<rect x="1889.42" y="787.20" width="3.60" height="27.60" fill="#4c97cf"/>
<rect x="1892.97" y="787.20" width="3.60" height="27.60" fill="#e9b04a"/>
<rect x="1896.52" y="806.52" width="3.60" height="8.28" fill="#45b08c"/>
<rect x="1900.08" y="805.97" width="3.60" height="8.83" fill="#e0813f"/>
<rect x="1903.62" y="787.20" width="3.60" height="27.60" fill="#dc9cd2"/>
<text x="1898.3" y="823.4" font-size="7.6" fill="#555" text-anchor="middle">4</text>
<path d="M1921.7,759.6 L1921.7,814.8" stroke="#f4f4f4" stroke-width="0.6"/>
<rect x="1919.92" y="803.76" width="3.60" height="11.04" fill="#45b08c"/>
<rect x="1923.48" y="802.66" width="3.60" height="12.14" fill="#e0813f"/>
<text x="1921.7" y="823.4" font-size="7.6" fill="#555" text-anchor="middle">5</text>
<path d="M1945.1,759.6 L1945.1,814.8" stroke="#f4f4f4" stroke-width="0.6"/>
<rect x="1936.22" y="812.32" width="3.60" height="2.48" fill="#4c97cf"/>
<rect x="1939.77" y="811.49" width="3.60" height="3.31" fill="#e9b04a"/>
<rect x="1943.32" y="810.94" width="3.60" height="3.86" fill="#45b08c"/>
<rect x="1946.88" y="810.94" width="3.60" height="3.86" fill="#e0813f"/>
<rect x="1950.42" y="811.49" width="3.60" height="3.31" fill="#dc9cd2"/>
<text x="1945.1" y="823.4" font-size="7.6" fill="#555" text-anchor="middle">6</text>
<path d="M1968.5,759.6 L1968.5,814.8" stroke="#f4f4f4" stroke-width="0.6"/>
<text x="1968.5" y="823.4" font-size="7.6" fill="#555" text-anchor="middle">7</text>
<path d="M1786.3,807.9 L1984.5,807.9" stroke="#f05a5a" stroke-width="0.7" stroke-dasharray="1.8 1.2"/>
<path d="M1786.3,866.5 L1984.5,866.5" stroke="#f2f2f2" stroke-width="0.7"/>
<path d="M1786.3,852.7 L1984.5,852.7" stroke="#f2f2f2" stroke-width="0.7"/>
<path d="M1786.3,838.9 L1984.5,838.9" stroke="#f2f2f2" stroke-width="0.7"/>
<path d="M1786.3,825.1 L1786.3,880.3 L1984.5,880.3" stroke="#dcdcdc" stroke-width="0.9" fill="none"/>
<path d="M1804.7,825.1 L1804.7,880.3" stroke="#f4f4f4" stroke-width="0.6"/>
<rect x="1795.83" y="878.92" width="3.60" height="1.38" fill="#4c97cf"/>
<rect x="1799.38" y="876.99" width="3.60" height="3.31" fill="#e9b04a"/>
<rect x="1802.92" y="875.88" width="3.60" height="4.42" fill="#45b08c"/>
<rect x="1806.48" y="876.16" width="3.60" height="4.14" fill="#e0813f"/>
<rect x="1810.03" y="860.15" width="3.60" height="20.15" fill="#dc9cd2"/>
<text x="1804.7" y="888.9" font-size="7.6" fill="#555" text-anchor="middle">0</text>
<path d="M1828.1,825.1 L1828.1,880.3" stroke="#f4f4f4" stroke-width="0.6"/>
<rect x="1819.23" y="879.75" width="3.60" height="0.55" fill="#4c97cf"/>
<rect x="1822.78" y="879.20" width="3.60" height="1.10" fill="#e9b04a"/>
<rect x="1826.33" y="878.64" width="3.60" height="1.66" fill="#45b08c"/>
<rect x="1829.88" y="879.20" width="3.60" height="1.10" fill="#e0813f"/>
<rect x="1833.43" y="875.88" width="3.60" height="4.42" fill="#dc9cd2"/>
<text x="1828.1" y="888.9" font-size="7.6" fill="#555" text-anchor="middle">1</text>
<path d="M1851.5,825.1 L1851.5,880.3" stroke="#f4f4f4" stroke-width="0.6"/>
<rect x="1842.62" y="879.20" width="3.60" height="1.10" fill="#4c97cf"/>
<rect x="1846.17" y="879.47" width="3.60" height="0.83" fill="#e9b04a"/>
<rect x="1849.72" y="873.68" width="3.60" height="6.62" fill="#45b08c"/>
<rect x="1853.28" y="873.12" width="3.60" height="7.18" fill="#e0813f"/>
<text x="1851.5" y="888.9" font-size="7.6" fill="#555" text-anchor="middle">2</text>
<path d="M1874.9,825.1 L1874.9,880.3" stroke="#f4f4f4" stroke-width="0.6"/>
<rect x="1866.03" y="865.40" width="3.60" height="14.90" fill="#4c97cf"/>
<rect x="1869.58" y="863.19" width="3.60" height="17.11" fill="#e9b04a"/>
<rect x="1873.12" y="875.33" width="3.60" height="4.97" fill="#45b08c"/>
<rect x="1876.68" y="873.68" width="3.60" height="6.62" fill="#e0813f"/>
<rect x="1880.23" y="878.09" width="3.60" height="2.21" fill="#dc9cd2"/>
<text x="1874.9" y="888.9" font-size="7.6" fill="#555" text-anchor="middle">3</text>
<path d="M1898.3,825.1 L1898.3,880.3" stroke="#f4f4f4" stroke-width="0.6"/>
<rect x="1889.42" y="876.99" width="3.60" height="3.31" fill="#4c97cf"/>
<rect x="1892.97" y="875.06" width="3.60" height="5.24" fill="#e9b04a"/>
<rect x="1896.52" y="863.74" width="3.60" height="16.56" fill="#45b08c"/>
<rect x="1900.08" y="863.19" width="3.60" height="17.11" fill="#e0813f"/>
<rect x="1903.62" y="879.20" width="3.60" height="1.10" fill="#dc9cd2"/>
<text x="1898.3" y="888.9" font-size="7.6" fill="#555" text-anchor="middle">4</text>
<path d="M1921.7,825.1 L1921.7,880.3" stroke="#f4f4f4" stroke-width="0.6"/>
<rect x="1912.83" y="859.32" width="3.60" height="20.98" fill="#4c97cf"/>
<rect x="1916.38" y="863.19" width="3.60" height="17.11" fill="#e9b04a"/>
<rect x="1919.92" y="871.19" width="3.60" height="9.11" fill="#45b08c"/>
<rect x="1923.48" y="870.92" width="3.60" height="9.38" fill="#e0813f"/>
<rect x="1927.03" y="876.99" width="3.60" height="3.31" fill="#dc9cd2"/>
<text x="1921.7" y="888.9" font-size="7.6" fill="#555" text-anchor="middle">5</text>
<path d="M1945.1,825.1 L1945.1,880.3" stroke="#f4f4f4" stroke-width="0.6"/>
<rect x="1936.22" y="870.36" width="3.60" height="9.94" fill="#4c97cf"/>
<rect x="1939.77" y="872.57" width="3.60" height="7.73" fill="#e9b04a"/>
<rect x="1943.32" y="876.71" width="3.60" height="3.59" fill="#45b08c"/>
<rect x="1946.88" y="877.54" width="3.60" height="2.76" fill="#e0813f"/>
<rect x="1950.42" y="877.54" width="3.60" height="2.76" fill="#dc9cd2"/>
<text x="1945.1" y="888.9" font-size="7.6" fill="#555" text-anchor="middle">6</text>
<path d="M1968.5,825.1 L1968.5,880.3" stroke="#f4f4f4" stroke-width="0.6"/>
<rect x="1959.62" y="878.09" width="3.60" height="2.21" fill="#4c97cf"/>
<rect x="1963.17" y="878.64" width="3.60" height="1.66" fill="#e9b04a"/>
<rect x="1966.72" y="873.12" width="3.60" height="7.18" fill="#45b08c"/>
<rect x="1970.28" y="874.78" width="3.60" height="5.52" fill="#e0813f"/>
<rect x="1973.83" y="860.98" width="3.60" height="19.32" fill="#dc9cd2"/>
<text x="1968.5" y="888.9" font-size="7.6" fill="#555" text-anchor="middle">7</text>
<path d="M1786.3,873.4 L1984.5,873.4" stroke="#f05a5a" stroke-width="0.7" stroke-dasharray="1.8 1.2"/>
<path d="M1786.3,931.9 L1984.5,931.9" stroke="#f2f2f2" stroke-width="0.7"/>
<path d="M1786.3,918.2 L1984.5,918.2" stroke="#f2f2f2" stroke-width="0.7"/>
<path d="M1786.3,904.4 L1984.5,904.4" stroke="#f2f2f2" stroke-width="0.7"/>
<path d="M1786.3,890.7 L1786.3,945.6 L1984.5,945.6" stroke="#dcdcdc" stroke-width="0.9" fill="none"/>
<path d="M1804.7,890.7 L1804.7,945.6" stroke="#f4f4f4" stroke-width="0.6"/>
<rect x="1795.83" y="937.37" width="3.60" height="8.23" fill="#4c97cf"/>
<rect x="1799.38" y="935.99" width="3.60" height="9.61" fill="#e9b04a"/>
<rect x="1802.92" y="944.50" width="3.60" height="1.10" fill="#45b08c"/>
<rect x="1806.48" y="945.05" width="3.60" height="0.55" fill="#e0813f"/>
<rect x="1810.03" y="923.09" width="3.60" height="22.51" fill="#dc9cd2"/>
<text x="1804.7" y="954.2" font-size="7.6" fill="#555" text-anchor="middle">0</text>
<path d="M1828.1,890.7 L1828.1,945.6" stroke="#f4f4f4" stroke-width="0.6"/>
<rect x="1819.23" y="939.56" width="3.60" height="6.04" fill="#4c97cf"/>
<rect x="1822.78" y="939.01" width="3.60" height="6.59" fill="#e9b04a"/>
<rect x="1826.33" y="930.78" width="3.60" height="14.82" fill="#45b08c"/>
<rect x="1829.88" y="930.23" width="3.60" height="15.37" fill="#e0813f"/>
<text x="1828.1" y="954.2" font-size="7.6" fill="#555" text-anchor="middle">1</text>
<path d="M1851.5,890.7 L1851.5,945.6" stroke="#f4f4f4" stroke-width="0.6"/>
<rect x="1842.62" y="918.70" width="3.60" height="26.90" fill="#4c97cf"/>
<rect x="1846.17" y="918.70" width="3.60" height="26.90" fill="#e9b04a"/>
<rect x="1849.72" y="944.78" width="3.60" height="0.82" fill="#45b08c"/>
<rect x="1853.28" y="945.05" width="3.60" height="0.55" fill="#e0813f"/>
<rect x="1856.83" y="934.62" width="3.60" height="10.98" fill="#dc9cd2"/>
<text x="1851.5" y="954.2" font-size="7.6" fill="#555" text-anchor="middle">2</text>
<path d="M1874.9,890.7 L1874.9,945.6" stroke="#f4f4f4" stroke-width="0.6"/>
<rect x="1873.12" y="934.89" width="3.60" height="10.71" fill="#45b08c"/>
<rect x="1876.68" y="933.25" width="3.60" height="12.35" fill="#e0813f"/>
<rect x="1880.23" y="945.33" width="3.60" height="0.27" fill="#dc9cd2"/>
<text x="1874.9" y="954.2" font-size="7.6" fill="#555" text-anchor="middle">3</text>
<path d="M1898.3,890.7 L1898.3,945.6" stroke="#f4f4f4" stroke-width="0.6"/>
<rect x="1889.42" y="941.21" width="3.60" height="4.39" fill="#4c97cf"/>
<rect x="1892.97" y="943.40" width="3.60" height="2.20" fill="#e9b04a"/>
<rect x="1896.52" y="945.05" width="3.60" height="0.55" fill="#45b08c"/>
<rect x="1900.08" y="944.50" width="3.60" height="1.10" fill="#e0813f"/>
<rect x="1903.62" y="944.23" width="3.60" height="1.37" fill="#dc9cd2"/>
<text x="1898.3" y="954.2" font-size="7.6" fill="#555" text-anchor="middle">4</text>
<path d="M1921.7,890.7 L1921.7,945.6" stroke="#f4f4f4" stroke-width="0.6"/>
<rect x="1912.83" y="945.05" width="3.60" height="0.55" fill="#4c97cf"/>
<rect x="1916.38" y="943.40" width="3.60" height="2.20" fill="#e9b04a"/>
<rect x="1919.92" y="936.82" width="3.60" height="8.78" fill="#45b08c"/>
<rect x="1923.48" y="934.89" width="3.60" height="10.71" fill="#e0813f"/>
<rect x="1927.03" y="928.03" width="3.60" height="17.57" fill="#dc9cd2"/>
<text x="1921.7" y="954.2" font-size="7.6" fill="#555" text-anchor="middle">5</text>
<path d="M1945.1,890.7 L1945.1,945.6" stroke="#f4f4f4" stroke-width="0.6"/>
<rect x="1936.22" y="939.56" width="3.60" height="6.04" fill="#4c97cf"/>
<rect x="1939.77" y="941.21" width="3.60" height="4.39" fill="#e9b04a"/>
<rect x="1943.32" y="945.33" width="3.60" height="0.27" fill="#45b08c"/>
<rect x="1950.42" y="945.05" width="3.60" height="0.55" fill="#dc9cd2"/>
<text x="1945.1" y="954.2" font-size="7.6" fill="#555" text-anchor="middle">6</text>
<path d="M1968.5,890.7 L1968.5,945.6" stroke="#f4f4f4" stroke-width="0.6"/>
<rect x="1966.72" y="929.95" width="3.60" height="15.65" fill="#45b08c"/>
<rect x="1970.28" y="932.97" width="3.60" height="12.63" fill="#e0813f"/>
<text x="1968.5" y="954.2" font-size="7.6" fill="#555" text-anchor="middle">7</text>
<path d="M1786.3,938.7 L1984.5,938.7" stroke="#f05a5a" stroke-width="0.7" stroke-dasharray="1.8 1.2"/>
<path d="M1786.3,997.4 L1984.5,997.4" stroke="#f2f2f2" stroke-width="0.7"/>
<path d="M1786.3,983.7 L1984.5,983.7" stroke="#f2f2f2" stroke-width="0.7"/>
<path d="M1786.3,970.0 L1984.5,970.0" stroke="#f2f2f2" stroke-width="0.7"/>
<path d="M1786.3,956.4 L1786.3,1011.0 L1984.5,1011.0" stroke="#dcdcdc" stroke-width="0.9" fill="none"/>
<path d="M1804.7,956.4 L1804.7,1011.0" stroke="#f4f4f4" stroke-width="0.6"/>
<rect x="1795.83" y="1007.72" width="3.60" height="3.28" fill="#4c97cf"/>
<rect x="1799.38" y="1006.63" width="3.60" height="4.37" fill="#e9b04a"/>
<rect x="1802.92" y="986.16" width="3.60" height="24.84" fill="#45b08c"/>
<rect x="1806.48" y="986.16" width="3.60" height="24.84" fill="#e0813f"/>
<rect x="1810.03" y="987.52" width="3.60" height="23.48" fill="#dc9cd2"/>
<text x="1804.7" y="1019.6" font-size="7.6" fill="#555" text-anchor="middle">0</text>
<path d="M1828.1,956.4 L1828.1,1011.0" stroke="#f4f4f4" stroke-width="0.6"/>
<rect x="1826.33" y="993.53" width="3.60" height="17.47" fill="#45b08c"/>
<rect x="1829.88" y="992.44" width="3.60" height="18.56" fill="#e0813f"/>
<rect x="1833.43" y="1010.73" width="3.60" height="0.27" fill="#dc9cd2"/>
<text x="1828.1" y="1019.6" font-size="7.6" fill="#555" text-anchor="middle">1</text>
<path d="M1851.5,956.4 L1851.5,1011.0" stroke="#f4f4f4" stroke-width="0.6"/>
<rect x="1842.62" y="1006.63" width="3.60" height="4.37" fill="#4c97cf"/>
<rect x="1846.17" y="1005.54" width="3.60" height="5.46" fill="#e9b04a"/>
<rect x="1849.72" y="1010.45" width="3.60" height="0.55" fill="#45b08c"/>
<rect x="1856.83" y="1010.45" width="3.60" height="0.55" fill="#dc9cd2"/>
<text x="1851.5" y="1019.6" font-size="7.6" fill="#555" text-anchor="middle">2</text>
<path d="M1874.9,956.4 L1874.9,1011.0" stroke="#f4f4f4" stroke-width="0.6"/>
<rect x="1873.12" y="1006.63" width="3.60" height="4.37" fill="#45b08c"/>
<rect x="1876.68" y="1006.09" width="3.60" height="4.91" fill="#e0813f"/>
<text x="1874.9" y="1019.6" font-size="7.6" fill="#555" text-anchor="middle">3</text>
<path d="M1898.3,956.4 L1898.3,1011.0" stroke="#f4f4f4" stroke-width="0.6"/>
<rect x="1889.42" y="1007.45" width="3.60" height="3.55" fill="#4c97cf"/>
<rect x="1892.97" y="1008.54" width="3.60" height="2.46" fill="#e9b04a"/>
<rect x="1903.62" y="1009.63" width="3.60" height="1.37" fill="#dc9cd2"/>
<text x="1898.3" y="1019.6" font-size="7.6" fill="#555" text-anchor="middle">4</text>
<path d="M1921.7,956.4 L1921.7,1011.0" stroke="#f4f4f4" stroke-width="0.6"/>
<rect x="1912.83" y="1008.54" width="3.60" height="2.46" fill="#4c97cf"/>
<rect x="1916.38" y="1006.90" width="3.60" height="4.10" fill="#e9b04a"/>
<rect x="1919.92" y="1006.63" width="3.60" height="4.37" fill="#45b08c"/>
<rect x="1923.48" y="1007.18" width="3.60" height="3.82" fill="#e0813f"/>
<rect x="1927.03" y="1003.63" width="3.60" height="7.37" fill="#dc9cd2"/>
<text x="1921.7" y="1019.6" font-size="7.6" fill="#555" text-anchor="middle">5</text>
<path d="M1945.1,956.4 L1945.1,1011.0" stroke="#f4f4f4" stroke-width="0.6"/>
<rect x="1936.22" y="985.88" width="3.60" height="25.12" fill="#4c97cf"/>
<rect x="1939.77" y="986.98" width="3.60" height="24.02" fill="#e9b04a"/>
<rect x="1943.32" y="1010.73" width="3.60" height="0.27" fill="#45b08c"/>
<rect x="1950.42" y="994.35" width="3.60" height="16.65" fill="#dc9cd2"/>
<text x="1945.1" y="1019.6" font-size="7.6" fill="#555" text-anchor="middle">6</text>
<path d="M1968.5,956.4 L1968.5,1011.0" stroke="#f4f4f4" stroke-width="0.6"/>
<rect x="1959.62" y="998.44" width="3.60" height="12.56" fill="#4c97cf"/>
<rect x="1963.17" y="1001.72" width="3.60" height="9.28" fill="#e9b04a"/>
<rect x="1973.83" y="1010.45" width="3.60" height="0.55" fill="#dc9cd2"/>
<text x="1968.5" y="1019.6" font-size="7.6" fill="#555" text-anchor="middle">7</text>
<path d="M1786.3,1004.2 L1984.5,1004.2" stroke="#f05a5a" stroke-width="0.7" stroke-dasharray="1.8 1.2"/>
<text x="2103.8" y="757.2" font-size="10.2" font-weight="bold" fill="#333" text-anchor="middle">8×1.5B Sparse Upcycling</text>
<path d="M2004.7,801.0 L2202.9,801.0" stroke="#f2f2f2" stroke-width="0.7"/>
<path d="M2004.7,787.2 L2202.9,787.2" stroke="#f2f2f2" stroke-width="0.7"/>
<path d="M2004.7,773.4 L2202.9,773.4" stroke="#f2f2f2" stroke-width="0.7"/>
<path d="M2004.7,759.6 L2004.7,814.8 L2202.9,814.8" stroke="#dcdcdc" stroke-width="0.9" fill="none"/>
<path d="M2023.3,759.6 L2023.3,814.8" stroke="#f4f4f4" stroke-width="0.6"/>
<rect x="2014.42" y="787.75" width="3.60" height="27.05" fill="#4c97cf"/>
<rect x="2017.97" y="787.48" width="3.60" height="27.32" fill="#e9b04a"/>
<rect x="2021.52" y="787.20" width="3.60" height="27.60" fill="#45b08c"/>
<rect x="2025.08" y="787.20" width="3.60" height="27.60" fill="#e0813f"/>
<rect x="2028.62" y="787.20" width="3.60" height="27.60" fill="#dc9cd2"/>
<text x="2023.3" y="823.4" font-size="7.6" fill="#555" text-anchor="middle">0</text>
<path d="M2046.7,759.6 L2046.7,814.8" stroke="#f4f4f4" stroke-width="0.6"/>
<rect x="2037.83" y="813.14" width="3.60" height="1.66" fill="#4c97cf"/>
<rect x="2041.38" y="812.32" width="3.60" height="2.48" fill="#e9b04a"/>
<rect x="2044.92" y="812.04" width="3.60" height="2.76" fill="#45b08c"/>
<rect x="2048.47" y="809.56" width="3.60" height="5.24" fill="#e0813f"/>
<text x="2046.7" y="823.4" font-size="7.6" fill="#555" text-anchor="middle">1</text>
<path d="M2070.1,759.6 L2070.1,814.8" stroke="#f4f4f4" stroke-width="0.6"/>
<text x="2070.1" y="823.4" font-size="7.6" fill="#555" text-anchor="middle">2</text>
<path d="M2093.5,759.6 L2093.5,814.8" stroke="#f4f4f4" stroke-width="0.6"/>
<text x="2093.5" y="823.4" font-size="7.6" fill="#555" text-anchor="middle">3</text>
<path d="M2116.9,759.6 L2116.9,814.8" stroke="#f4f4f4" stroke-width="0.6"/>
<text x="2116.9" y="823.4" font-size="7.6" fill="#555" text-anchor="middle">4</text>
<path d="M2140.3,759.6 L2140.3,814.8" stroke="#f4f4f4" stroke-width="0.6"/>
<text x="2140.3" y="823.4" font-size="7.6" fill="#555" text-anchor="middle">5</text>
<path d="M2163.7,759.6 L2163.7,814.8" stroke="#f4f4f4" stroke-width="0.6"/>
<text x="2163.7" y="823.4" font-size="7.6" fill="#555" text-anchor="middle">6</text>
<path d="M2187.1,759.6 L2187.1,814.8" stroke="#f4f4f4" stroke-width="0.6"/>
<rect x="2178.22" y="789.13" width="3.60" height="25.67" fill="#4c97cf"/>
<rect x="2181.78" y="790.51" width="3.60" height="24.29" fill="#e9b04a"/>
<rect x="2185.32" y="791.06" width="3.60" height="23.74" fill="#45b08c"/>
<rect x="2188.88" y="793.27" width="3.60" height="21.53" fill="#e0813f"/>
<rect x="2192.42" y="787.75" width="3.60" height="27.05" fill="#dc9cd2"/>
<text x="2187.1" y="823.4" font-size="7.6" fill="#555" text-anchor="middle">7</text>
<path d="M2004.7,807.9 L2202.9,807.9" stroke="#f05a5a" stroke-width="0.7" stroke-dasharray="1.8 1.2"/>
<path d="M2004.7,866.5 L2202.9,866.5" stroke="#f2f2f2" stroke-width="0.7"/>
<path d="M2004.7,852.7 L2202.9,852.7" stroke="#f2f2f2" stroke-width="0.7"/>
<path d="M2004.7,838.9 L2202.9,838.9" stroke="#f2f2f2" stroke-width="0.7"/>
<path d="M2004.7,825.1 L2004.7,880.3 L2202.9,880.3" stroke="#dcdcdc" stroke-width="0.9" fill="none"/>
<path d="M2023.3,825.1 L2023.3,880.3" stroke="#f4f4f4" stroke-width="0.6"/>
<rect x="2014.42" y="854.36" width="3.60" height="25.94" fill="#4c97cf"/>
<rect x="2017.97" y="855.18" width="3.60" height="25.12" fill="#e9b04a"/>
<rect x="2021.52" y="855.74" width="3.60" height="24.56" fill="#45b08c"/>
<rect x="2025.08" y="855.46" width="3.60" height="24.84" fill="#e0813f"/>
<rect x="2028.62" y="854.91" width="3.60" height="25.39" fill="#dc9cd2"/>
<text x="2023.3" y="888.9" font-size="7.6" fill="#555" text-anchor="middle">0</text>
<path d="M2046.7,825.1 L2046.7,880.3" stroke="#f4f4f4" stroke-width="0.6"/>
<rect x="2037.83" y="879.20" width="3.60" height="1.10" fill="#4c97cf"/>
<rect x="2041.38" y="878.37" width="3.60" height="1.93" fill="#e9b04a"/>
<rect x="2044.92" y="877.54" width="3.60" height="2.76" fill="#45b08c"/>
<rect x="2048.47" y="877.82" width="3.60" height="2.48" fill="#e0813f"/>
<rect x="2052.03" y="878.37" width="3.60" height="1.93" fill="#dc9cd2"/>
<text x="2046.7" y="888.9" font-size="7.6" fill="#555" text-anchor="middle">1</text>
<path d="M2070.1,825.1 L2070.1,880.3" stroke="#f4f4f4" stroke-width="0.6"/>
<rect x="2061.22" y="852.98" width="3.60" height="27.32" fill="#4c97cf"/>
<rect x="2064.78" y="852.98" width="3.60" height="27.32" fill="#e9b04a"/>
<rect x="2068.32" y="852.98" width="3.60" height="27.32" fill="#45b08c"/>
<rect x="2071.88" y="852.98" width="3.60" height="27.32" fill="#e0813f"/>
<rect x="2075.42" y="852.98" width="3.60" height="27.32" fill="#dc9cd2"/>
<text x="2070.1" y="888.9" font-size="7.6" fill="#555" text-anchor="middle">2</text>
<path d="M2093.5,825.1 L2093.5,880.3" stroke="#f4f4f4" stroke-width="0.6"/>
<text x="2093.5" y="888.9" font-size="7.6" fill="#555" text-anchor="middle">3</text>
<path d="M2116.9,825.1 L2116.9,880.3" stroke="#f4f4f4" stroke-width="0.6"/>
<text x="2116.9" y="888.9" font-size="7.6" fill="#555" text-anchor="middle">4</text>
<path d="M2140.3,825.1 L2140.3,880.3" stroke="#f4f4f4" stroke-width="0.6"/>
<text x="2140.3" y="888.9" font-size="7.6" fill="#555" text-anchor="middle">5</text>
<path d="M2163.7,825.1 L2163.7,880.3" stroke="#f4f4f4" stroke-width="0.6"/>
<text x="2163.7" y="888.9" font-size="7.6" fill="#555" text-anchor="middle">6</text>
<path d="M2187.1,825.1 L2187.1,880.3" stroke="#f4f4f4" stroke-width="0.6"/>
<text x="2187.1" y="888.9" font-size="7.6" fill="#555" text-anchor="middle">7</text>
<path d="M2004.7,873.4 L2202.9,873.4" stroke="#f05a5a" stroke-width="0.7" stroke-dasharray="1.8 1.2"/>
<path d="M2004.7,931.9 L2202.9,931.9" stroke="#f2f2f2" stroke-width="0.7"/>
<path d="M2004.7,918.2 L2202.9,918.2" stroke="#f2f2f2" stroke-width="0.7"/>
<path d="M2004.7,904.4 L2202.9,904.4" stroke="#f2f2f2" stroke-width="0.7"/>
<path d="M2004.7,890.7 L2004.7,945.6 L2202.9,945.6" stroke="#dcdcdc" stroke-width="0.9" fill="none"/>
<path d="M2023.3,890.7 L2023.3,945.6" stroke="#f4f4f4" stroke-width="0.6"/>
<rect x="2021.52" y="945.33" width="3.60" height="0.27" fill="#45b08c"/>
<rect x="2028.62" y="944.23" width="3.60" height="1.37" fill="#dc9cd2"/>
<text x="2023.3" y="954.2" font-size="7.6" fill="#555" text-anchor="middle">0</text>
<path d="M2046.7,890.7 L2046.7,945.6" stroke="#f4f4f4" stroke-width="0.6"/>
<rect x="2044.92" y="945.33" width="3.60" height="0.27" fill="#45b08c"/>
<rect x="2052.03" y="945.05" width="3.60" height="0.55" fill="#dc9cd2"/>
<text x="2046.7" y="954.2" font-size="7.6" fill="#555" text-anchor="middle">1</text>
<path d="M2070.1,890.7 L2070.1,945.6" stroke="#f4f4f4" stroke-width="0.6"/>
<rect x="2061.22" y="921.99" width="3.60" height="23.61" fill="#4c97cf"/>
<rect x="2064.78" y="920.89" width="3.60" height="24.70" fill="#e9b04a"/>
<rect x="2068.32" y="923.64" width="3.60" height="21.96" fill="#45b08c"/>
<rect x="2071.88" y="920.07" width="3.60" height="25.53" fill="#e0813f"/>
<rect x="2075.42" y="927.76" width="3.60" height="17.84" fill="#dc9cd2"/>
<text x="2070.1" y="954.2" font-size="7.6" fill="#555" text-anchor="middle">2</text>
<path d="M2093.5,890.7 L2093.5,945.6" stroke="#f4f4f4" stroke-width="0.6"/>
<text x="2093.5" y="954.2" font-size="7.6" fill="#555" text-anchor="middle">3</text>
<path d="M2116.9,890.7 L2116.9,945.6" stroke="#f4f4f4" stroke-width="0.6"/>
<text x="2116.9" y="954.2" font-size="7.6" fill="#555" text-anchor="middle">4</text>
<path d="M2140.3,890.7 L2140.3,945.6" stroke="#f4f4f4" stroke-width="0.6"/>
<rect x="2131.43" y="918.42" width="3.60" height="27.18" fill="#4c97cf"/>
<rect x="2134.98" y="918.42" width="3.60" height="27.18" fill="#e9b04a"/>
<rect x="2138.53" y="918.42" width="3.60" height="27.18" fill="#45b08c"/>
<rect x="2142.08" y="918.42" width="3.60" height="27.18" fill="#e0813f"/>
<rect x="2145.62" y="918.42" width="3.60" height="27.18" fill="#dc9cd2"/>
<text x="2140.3" y="954.2" font-size="7.6" fill="#555" text-anchor="middle">5</text>
<path d="M2163.7,890.7 L2163.7,945.6" stroke="#f4f4f4" stroke-width="0.6"/>
<rect x="2169.02" y="945.33" width="3.60" height="0.27" fill="#dc9cd2"/>
<text x="2163.7" y="954.2" font-size="7.6" fill="#555" text-anchor="middle">6</text>
<path d="M2187.1,890.7 L2187.1,945.6" stroke="#f4f4f4" stroke-width="0.6"/>
<rect x="2178.22" y="943.68" width="3.60" height="1.92" fill="#4c97cf"/>
<rect x="2181.78" y="943.95" width="3.60" height="1.65" fill="#e9b04a"/>
<rect x="2185.32" y="942.03" width="3.60" height="3.57" fill="#45b08c"/>
<rect x="2188.88" y="944.78" width="3.60" height="0.82" fill="#e0813f"/>
<rect x="2192.42" y="939.84" width="3.60" height="5.76" fill="#dc9cd2"/>
<text x="2187.1" y="954.2" font-size="7.6" fill="#555" text-anchor="middle">7</text>
<path d="M2004.7,938.7 L2202.9,938.7" stroke="#f05a5a" stroke-width="0.7" stroke-dasharray="1.8 1.2"/>
<path d="M2004.7,997.4 L2202.9,997.4" stroke="#f2f2f2" stroke-width="0.7"/>
<path d="M2004.7,983.7 L2202.9,983.7" stroke="#f2f2f2" stroke-width="0.7"/>
<path d="M2004.7,970.0 L2202.9,970.0" stroke="#f2f2f2" stroke-width="0.7"/>
<path d="M2004.7,956.4 L2004.7,1011.0 L2202.9,1011.0" stroke="#dcdcdc" stroke-width="0.9" fill="none"/>
<path d="M2023.3,956.4 L2023.3,1011.0" stroke="#f4f4f4" stroke-width="0.6"/>
<text x="2023.3" y="1019.6" font-size="7.6" fill="#555" text-anchor="middle">0</text>
<path d="M2046.7,956.4 L2046.7,1011.0" stroke="#f4f4f4" stroke-width="0.6"/>
<rect x="2037.83" y="983.70" width="3.60" height="27.30" fill="#4c97cf"/>
<rect x="2041.38" y="983.70" width="3.60" height="27.30" fill="#e9b04a"/>
<rect x="2044.92" y="983.70" width="3.60" height="27.30" fill="#45b08c"/>
<rect x="2048.47" y="983.70" width="3.60" height="27.30" fill="#e0813f"/>
<rect x="2052.03" y="983.70" width="3.60" height="27.30" fill="#dc9cd2"/>
<text x="2046.7" y="1019.6" font-size="7.6" fill="#555" text-anchor="middle">1</text>
<path d="M2070.1,956.4 L2070.1,1011.0" stroke="#f4f4f4" stroke-width="0.6"/>
<text x="2070.1" y="1019.6" font-size="7.6" fill="#555" text-anchor="middle">2</text>
<path d="M2093.5,956.4 L2093.5,1011.0" stroke="#f4f4f4" stroke-width="0.6"/>
<rect x="2084.62" y="983.70" width="3.60" height="27.30" fill="#4c97cf"/>
<rect x="2088.18" y="983.70" width="3.60" height="27.30" fill="#e9b04a"/>
<rect x="2091.72" y="983.70" width="3.60" height="27.30" fill="#45b08c"/>
<rect x="2095.28" y="983.70" width="3.60" height="27.30" fill="#e0813f"/>
<rect x="2098.82" y="983.70" width="3.60" height="27.30" fill="#dc9cd2"/>
<text x="2093.5" y="1019.6" font-size="7.6" fill="#555" text-anchor="middle">3</text>
<path d="M2116.9,956.4 L2116.9,1011.0" stroke="#f4f4f4" stroke-width="0.6"/>
<text x="2116.9" y="1019.6" font-size="7.6" fill="#555" text-anchor="middle">4</text>
<path d="M2140.3,956.4 L2140.3,1011.0" stroke="#f4f4f4" stroke-width="0.6"/>
<text x="2140.3" y="1019.6" font-size="7.6" fill="#555" text-anchor="middle">5</text>
<path d="M2163.7,956.4 L2163.7,1011.0" stroke="#f4f4f4" stroke-width="0.6"/>
<text x="2163.7" y="1019.6" font-size="7.6" fill="#555" text-anchor="middle">6</text>
<path d="M2187.1,956.4 L2187.1,1011.0" stroke="#f4f4f4" stroke-width="0.6"/>
<text x="2187.1" y="1019.6" font-size="7.6" fill="#555" text-anchor="middle">7</text>
<path d="M2004.7,1004.2 L2202.9,1004.2" stroke="#f05a5a" stroke-width="0.7" stroke-dasharray="1.8 1.2"/>
<text x="2322.6" y="757.2" font-size="10.2" font-weight="bold" fill="#333" text-anchor="middle">8×1.5B Drop Upcycling (r = 0.5)</text>
<path d="M2223.5,801.0 L2421.7,801.0" stroke="#f2f2f2" stroke-width="0.7"/>
<path d="M2223.5,787.2 L2421.7,787.2" stroke="#f2f2f2" stroke-width="0.7"/>
<path d="M2223.5,773.4 L2421.7,773.4" stroke="#f2f2f2" stroke-width="0.7"/>
<path d="M2223.5,759.6 L2223.5,814.8 L2421.7,814.8" stroke="#dcdcdc" stroke-width="0.9" fill="none"/>
<path d="M2241.9,759.6 L2241.9,814.8" stroke="#f4f4f4" stroke-width="0.6"/>
<rect x="2233.03" y="810.94" width="3.60" height="3.86" fill="#4c97cf"/>
<rect x="2236.58" y="811.21" width="3.60" height="3.59" fill="#e9b04a"/>
<rect x="2240.12" y="808.45" width="3.60" height="6.35" fill="#45b08c"/>
<rect x="2243.68" y="809.00" width="3.60" height="5.80" fill="#e0813f"/>
<rect x="2247.22" y="810.38" width="3.60" height="4.42" fill="#dc9cd2"/>
<text x="2241.9" y="823.4" font-size="7.6" fill="#555" text-anchor="middle">0</text>
<path d="M2265.3,759.6 L2265.3,814.8" stroke="#f4f4f4" stroke-width="0.6"/>
<rect x="2256.43" y="806.24" width="3.60" height="8.56" fill="#4c97cf"/>
<rect x="2259.98" y="805.69" width="3.60" height="9.11" fill="#e9b04a"/>
<rect x="2263.53" y="808.73" width="3.60" height="6.07" fill="#45b08c"/>
<rect x="2267.08" y="807.07" width="3.60" height="7.73" fill="#e0813f"/>
<rect x="2270.62" y="805.42" width="3.60" height="9.38" fill="#dc9cd2"/>
<text x="2265.3" y="823.4" font-size="7.6" fill="#555" text-anchor="middle">1</text>
<path d="M2288.7,759.6 L2288.7,814.8" stroke="#f4f4f4" stroke-width="0.6"/>
<rect x="2279.83" y="807.35" width="3.60" height="7.45" fill="#4c97cf"/>
<rect x="2283.38" y="806.80" width="3.60" height="8.00" fill="#e9b04a"/>
<rect x="2286.93" y="805.14" width="3.60" height="9.66" fill="#45b08c"/>
<rect x="2290.48" y="805.69" width="3.60" height="9.11" fill="#e0813f"/>
<rect x="2294.03" y="806.24" width="3.60" height="8.56" fill="#dc9cd2"/>
<text x="2288.7" y="823.4" font-size="7.6" fill="#555" text-anchor="middle">2</text>
<path d="M2312.1,759.6 L2312.1,814.8" stroke="#f4f4f4" stroke-width="0.6"/>
<rect x="2303.22" y="807.62" width="3.60" height="7.18" fill="#4c97cf"/>
<rect x="2306.78" y="807.62" width="3.60" height="7.18" fill="#e9b04a"/>
<rect x="2310.32" y="809.28" width="3.60" height="5.52" fill="#45b08c"/>
<rect x="2313.88" y="810.38" width="3.60" height="4.42" fill="#e0813f"/>
<rect x="2317.42" y="809.83" width="3.60" height="4.97" fill="#dc9cd2"/>
<text x="2312.1" y="823.4" font-size="7.6" fill="#555" text-anchor="middle">3</text>
<path d="M2335.5,759.6 L2335.5,814.8" stroke="#f4f4f4" stroke-width="0.6"/>
<rect x="2326.62" y="807.90" width="3.60" height="6.90" fill="#4c97cf"/>
<rect x="2330.18" y="808.18" width="3.60" height="6.62" fill="#e9b04a"/>
<rect x="2333.72" y="807.90" width="3.60" height="6.90" fill="#45b08c"/>
<rect x="2337.28" y="808.73" width="3.60" height="6.07" fill="#e0813f"/>
<rect x="2340.82" y="804.59" width="3.60" height="10.21" fill="#dc9cd2"/>
<text x="2335.5" y="823.4" font-size="7.6" fill="#555" text-anchor="middle">4</text>
<path d="M2358.9,759.6 L2358.9,814.8" stroke="#f4f4f4" stroke-width="0.6"/>
<rect x="2350.03" y="807.62" width="3.60" height="7.18" fill="#4c97cf"/>
<rect x="2353.58" y="806.80" width="3.60" height="8.00" fill="#e9b04a"/>
<rect x="2357.12" y="806.52" width="3.60" height="8.28" fill="#45b08c"/>
<rect x="2360.68" y="805.42" width="3.60" height="9.38" fill="#e0813f"/>
<rect x="2364.22" y="807.90" width="3.60" height="6.90" fill="#dc9cd2"/>
<text x="2358.9" y="823.4" font-size="7.6" fill="#555" text-anchor="middle">5</text>
<path d="M2382.3,759.6 L2382.3,814.8" stroke="#f4f4f4" stroke-width="0.6"/>
<rect x="2373.43" y="810.66" width="3.60" height="4.14" fill="#4c97cf"/>
<rect x="2376.98" y="810.38" width="3.60" height="4.42" fill="#e9b04a"/>
<rect x="2380.53" y="809.28" width="3.60" height="5.52" fill="#45b08c"/>
<rect x="2384.08" y="808.18" width="3.60" height="6.62" fill="#e0813f"/>
<rect x="2387.62" y="809.56" width="3.60" height="5.24" fill="#dc9cd2"/>
<text x="2382.3" y="823.4" font-size="7.6" fill="#555" text-anchor="middle">6</text>
<path d="M2405.7,759.6 L2405.7,814.8" stroke="#f4f4f4" stroke-width="0.6"/>
<rect x="2396.83" y="806.80" width="3.60" height="8.00" fill="#4c97cf"/>
<rect x="2400.38" y="807.35" width="3.60" height="7.45" fill="#e9b04a"/>
<rect x="2403.93" y="808.45" width="3.60" height="6.35" fill="#45b08c"/>
<rect x="2407.48" y="808.18" width="3.60" height="6.62" fill="#e0813f"/>
<rect x="2411.03" y="811.49" width="3.60" height="3.31" fill="#dc9cd2"/>
<text x="2405.7" y="823.4" font-size="7.6" fill="#555" text-anchor="middle">7</text>
<path d="M2223.5,807.9 L2421.7,807.9" stroke="#f05a5a" stroke-width="0.7" stroke-dasharray="1.8 1.2"/>
<path d="M2223.5,866.5 L2421.7,866.5" stroke="#f2f2f2" stroke-width="0.7"/>
<path d="M2223.5,852.7 L2421.7,852.7" stroke="#f2f2f2" stroke-width="0.7"/>
<path d="M2223.5,838.9 L2421.7,838.9" stroke="#f2f2f2" stroke-width="0.7"/>
<path d="M2223.5,825.1 L2223.5,880.3 L2421.7,880.3" stroke="#dcdcdc" stroke-width="0.9" fill="none"/>
<path d="M2241.9,825.1 L2241.9,880.3" stroke="#f4f4f4" stroke-width="0.6"/>
<rect x="2233.03" y="868.98" width="3.60" height="11.32" fill="#4c97cf"/>
<rect x="2236.58" y="868.98" width="3.60" height="11.32" fill="#e9b04a"/>
<rect x="2240.12" y="877.54" width="3.60" height="2.76" fill="#45b08c"/>
<rect x="2243.68" y="876.99" width="3.60" height="3.31" fill="#e0813f"/>
<rect x="2247.22" y="878.64" width="3.60" height="1.66" fill="#dc9cd2"/>
<text x="2241.9" y="888.9" font-size="7.6" fill="#555" text-anchor="middle">0</text>
<path d="M2265.3,825.1 L2265.3,880.3" stroke="#f4f4f4" stroke-width="0.6"/>
<rect x="2256.43" y="879.20" width="3.60" height="1.10" fill="#4c97cf"/>
<rect x="2259.98" y="878.37" width="3.60" height="1.93" fill="#e9b04a"/>
<rect x="2263.53" y="879.20" width="3.60" height="1.10" fill="#45b08c"/>
<rect x="2267.08" y="879.75" width="3.60" height="0.55" fill="#e0813f"/>
<rect x="2270.62" y="864.57" width="3.60" height="15.73" fill="#dc9cd2"/>
<text x="2265.3" y="888.9" font-size="7.6" fill="#555" text-anchor="middle">1</text>
<path d="M2288.7,825.1 L2288.7,880.3" stroke="#f4f4f4" stroke-width="0.6"/>
<rect x="2279.83" y="871.74" width="3.60" height="8.56" fill="#4c97cf"/>
<rect x="2283.38" y="870.36" width="3.60" height="9.94" fill="#e9b04a"/>
<rect x="2286.93" y="859.60" width="3.60" height="20.70" fill="#45b08c"/>
<rect x="2290.48" y="861.26" width="3.60" height="19.04" fill="#e0813f"/>
<rect x="2294.03" y="867.05" width="3.60" height="13.25" fill="#dc9cd2"/>
<text x="2288.7" y="888.9" font-size="7.6" fill="#555" text-anchor="middle">2</text>
<path d="M2312.1,825.1 L2312.1,880.3" stroke="#f4f4f4" stroke-width="0.6"/>
<rect x="2303.22" y="874.23" width="3.60" height="6.07" fill="#4c97cf"/>
<rect x="2306.78" y="873.68" width="3.60" height="6.62" fill="#e9b04a"/>
<rect x="2310.32" y="877.26" width="3.60" height="3.04" fill="#45b08c"/>
<rect x="2313.88" y="876.71" width="3.60" height="3.59" fill="#e0813f"/>
<rect x="2317.42" y="873.12" width="3.60" height="7.18" fill="#dc9cd2"/>
<text x="2312.1" y="888.9" font-size="7.6" fill="#555" text-anchor="middle">3</text>
<path d="M2335.5,825.1 L2335.5,880.3" stroke="#f4f4f4" stroke-width="0.6"/>
<rect x="2326.62" y="872.85" width="3.60" height="7.45" fill="#4c97cf"/>
<rect x="2330.18" y="873.68" width="3.60" height="6.62" fill="#e9b04a"/>
<rect x="2333.72" y="877.26" width="3.60" height="3.04" fill="#45b08c"/>
<rect x="2337.28" y="877.26" width="3.60" height="3.04" fill="#e0813f"/>
<rect x="2340.82" y="878.64" width="3.60" height="1.66" fill="#dc9cd2"/>
<text x="2335.5" y="888.9" font-size="7.6" fill="#555" text-anchor="middle">4</text>
<path d="M2358.9,825.1 L2358.9,880.3" stroke="#f4f4f4" stroke-width="0.6"/>
<rect x="2350.03" y="866.50" width="3.60" height="13.80" fill="#4c97cf"/>
<rect x="2353.58" y="867.88" width="3.60" height="12.42" fill="#e9b04a"/>
<rect x="2357.12" y="873.68" width="3.60" height="6.62" fill="#45b08c"/>
<rect x="2360.68" y="873.12" width="3.60" height="7.18" fill="#e0813f"/>
<rect x="2364.22" y="866.22" width="3.60" height="14.08" fill="#dc9cd2"/>
<text x="2358.9" y="888.9" font-size="7.6" fill="#555" text-anchor="middle">5</text>
<path d="M2382.3,825.1 L2382.3,880.3" stroke="#f4f4f4" stroke-width="0.6"/>
<rect x="2373.43" y="879.20" width="3.60" height="1.10" fill="#4c97cf"/>
<rect x="2376.98" y="878.37" width="3.60" height="1.93" fill="#e9b04a"/>
<rect x="2380.53" y="872.02" width="3.60" height="8.28" fill="#45b08c"/>
<rect x="2384.08" y="873.12" width="3.60" height="7.18" fill="#e0813f"/>
<rect x="2387.62" y="879.75" width="3.60" height="0.55" fill="#dc9cd2"/>
<text x="2382.3" y="888.9" font-size="7.6" fill="#555" text-anchor="middle">6</text>
<path d="M2405.7,825.1 L2405.7,880.3" stroke="#f4f4f4" stroke-width="0.6"/>
<rect x="2396.83" y="875.61" width="3.60" height="4.69" fill="#4c97cf"/>
<rect x="2400.38" y="876.99" width="3.60" height="3.31" fill="#e9b04a"/>
<rect x="2403.93" y="870.64" width="3.60" height="9.66" fill="#45b08c"/>
<rect x="2407.48" y="869.54" width="3.60" height="10.76" fill="#e0813f"/>
<rect x="2411.03" y="879.75" width="3.60" height="0.55" fill="#dc9cd2"/>
<text x="2405.7" y="888.9" font-size="7.6" fill="#555" text-anchor="middle">7</text>
<path d="M2223.5,873.4 L2421.7,873.4" stroke="#f05a5a" stroke-width="0.7" stroke-dasharray="1.8 1.2"/>
<path d="M2223.5,931.9 L2421.7,931.9" stroke="#f2f2f2" stroke-width="0.7"/>
<path d="M2223.5,918.2 L2421.7,918.2" stroke="#f2f2f2" stroke-width="0.7"/>
<path d="M2223.5,904.4 L2421.7,904.4" stroke="#f2f2f2" stroke-width="0.7"/>
<path d="M2223.5,890.7 L2223.5,945.6 L2421.7,945.6" stroke="#dcdcdc" stroke-width="0.9" fill="none"/>
<path d="M2241.9,890.7 L2241.9,945.6" stroke="#f4f4f4" stroke-width="0.6"/>
<rect x="2233.03" y="938.46" width="3.60" height="7.14" fill="#4c97cf"/>
<rect x="2236.58" y="940.38" width="3.60" height="5.22" fill="#e9b04a"/>
<rect x="2247.22" y="944.23" width="3.60" height="1.37" fill="#dc9cd2"/>
<text x="2241.9" y="954.2" font-size="7.6" fill="#555" text-anchor="middle">0</text>
<path d="M2265.3,890.7 L2265.3,945.6" stroke="#f4f4f4" stroke-width="0.6"/>
<rect x="2256.43" y="932.70" width="3.60" height="12.90" fill="#4c97cf"/>
<rect x="2259.98" y="934.62" width="3.60" height="10.98" fill="#e9b04a"/>
<rect x="2263.53" y="944.50" width="3.60" height="1.10" fill="#45b08c"/>
<rect x="2267.08" y="944.50" width="3.60" height="1.10" fill="#e0813f"/>
<rect x="2270.62" y="944.50" width="3.60" height="1.10" fill="#dc9cd2"/>
<text x="2265.3" y="954.2" font-size="7.6" fill="#555" text-anchor="middle">1</text>
<path d="M2288.7,890.7 L2288.7,945.6" stroke="#f4f4f4" stroke-width="0.6"/>
<rect x="2279.83" y="934.62" width="3.60" height="10.98" fill="#4c97cf"/>
<rect x="2283.38" y="934.07" width="3.60" height="11.53" fill="#e9b04a"/>
<rect x="2286.93" y="938.19" width="3.60" height="7.41" fill="#45b08c"/>
<rect x="2290.48" y="935.99" width="3.60" height="9.61" fill="#e0813f"/>
<rect x="2294.03" y="935.99" width="3.60" height="9.61" fill="#dc9cd2"/>
<text x="2288.7" y="954.2" font-size="7.6" fill="#555" text-anchor="middle">2</text>
<path d="M2312.1,890.7 L2312.1,945.6" stroke="#f4f4f4" stroke-width="0.6"/>
<rect x="2303.22" y="944.50" width="3.60" height="1.10" fill="#4c97cf"/>
<rect x="2306.78" y="945.05" width="3.60" height="0.55" fill="#e9b04a"/>
<rect x="2317.42" y="945.05" width="3.60" height="0.55" fill="#dc9cd2"/>
<text x="2312.1" y="954.2" font-size="7.6" fill="#555" text-anchor="middle">3</text>
<path d="M2335.5,890.7 L2335.5,945.6" stroke="#f4f4f4" stroke-width="0.6"/>
<rect x="2326.62" y="944.78" width="3.60" height="0.82" fill="#4c97cf"/>
<rect x="2330.18" y="943.68" width="3.60" height="1.92" fill="#e9b04a"/>
<rect x="2333.72" y="930.50" width="3.60" height="15.10" fill="#45b08c"/>
<rect x="2337.28" y="932.15" width="3.60" height="13.45" fill="#e0813f"/>
<rect x="2340.82" y="932.15" width="3.60" height="13.45" fill="#dc9cd2"/>
<text x="2335.5" y="954.2" font-size="7.6" fill="#555" text-anchor="middle">4</text>
<path d="M2358.9,890.7 L2358.9,945.6" stroke="#f4f4f4" stroke-width="0.6"/>
<rect x="2353.58" y="945.33" width="3.60" height="0.27" fill="#e9b04a"/>
<rect x="2357.12" y="923.91" width="3.60" height="21.69" fill="#45b08c"/>
<rect x="2360.68" y="923.91" width="3.60" height="21.69" fill="#e0813f"/>
<rect x="2364.22" y="944.78" width="3.60" height="0.82" fill="#dc9cd2"/>
<text x="2358.9" y="954.2" font-size="7.6" fill="#555" text-anchor="middle">5</text>
<path d="M2382.3,890.7 L2382.3,945.6" stroke="#f4f4f4" stroke-width="0.6"/>
<rect x="2373.43" y="944.50" width="3.60" height="1.10" fill="#4c97cf"/>
<rect x="2376.98" y="944.50" width="3.60" height="1.10" fill="#e9b04a"/>
<rect x="2380.53" y="942.31" width="3.60" height="3.29" fill="#45b08c"/>
<rect x="2384.08" y="943.40" width="3.60" height="2.20" fill="#e0813f"/>
<rect x="2387.62" y="934.89" width="3.60" height="10.71" fill="#dc9cd2"/>
<text x="2382.3" y="954.2" font-size="7.6" fill="#555" text-anchor="middle">6</text>
<path d="M2405.7,890.7 L2405.7,945.6" stroke="#f4f4f4" stroke-width="0.6"/>
<rect x="2396.83" y="926.93" width="3.60" height="18.67" fill="#4c97cf"/>
<rect x="2400.38" y="925.01" width="3.60" height="20.59" fill="#e9b04a"/>
<rect x="2403.93" y="941.21" width="3.60" height="4.39" fill="#45b08c"/>
<rect x="2407.48" y="940.38" width="3.60" height="5.22" fill="#e0813f"/>
<rect x="2411.03" y="930.78" width="3.60" height="14.82" fill="#dc9cd2"/>
<text x="2405.7" y="954.2" font-size="7.6" fill="#555" text-anchor="middle">7</text>
<path d="M2223.5,938.7 L2421.7,938.7" stroke="#f05a5a" stroke-width="0.7" stroke-dasharray="1.8 1.2"/>
<path d="M2223.5,997.4 L2421.7,997.4" stroke="#f2f2f2" stroke-width="0.7"/>
<path d="M2223.5,983.7 L2421.7,983.7" stroke="#f2f2f2" stroke-width="0.7"/>
<path d="M2223.5,970.0 L2421.7,970.0" stroke="#f2f2f2" stroke-width="0.7"/>
<path d="M2223.5,956.4 L2223.5,1011.0 L2421.7,1011.0" stroke="#dcdcdc" stroke-width="0.9" fill="none"/>
<path d="M2241.9,956.4 L2241.9,1011.0" stroke="#f4f4f4" stroke-width="0.6"/>
<rect x="2233.03" y="986.16" width="3.60" height="24.84" fill="#4c97cf"/>
<rect x="2236.58" y="987.79" width="3.60" height="23.21" fill="#e9b04a"/>
<rect x="2240.12" y="1010.73" width="3.60" height="0.27" fill="#45b08c"/>
<rect x="2247.22" y="986.16" width="3.60" height="24.84" fill="#dc9cd2"/>
<text x="2241.9" y="1019.6" font-size="7.6" fill="#555" text-anchor="middle">0</text>
<path d="M2265.3,956.4 L2265.3,1011.0" stroke="#f4f4f4" stroke-width="0.6"/>
<text x="2265.3" y="1019.6" font-size="7.6" fill="#555" text-anchor="middle">1</text>
<path d="M2288.7,956.4 L2288.7,1011.0" stroke="#f4f4f4" stroke-width="0.6"/>
<text x="2288.7" y="1019.6" font-size="7.6" fill="#555" text-anchor="middle">2</text>
<path d="M2312.1,956.4 L2312.1,1011.0" stroke="#f4f4f4" stroke-width="0.6"/>
<rect x="2303.22" y="1004.72" width="3.60" height="6.28" fill="#4c97cf"/>
<rect x="2306.78" y="1001.99" width="3.60" height="9.01" fill="#e9b04a"/>
<rect x="2310.32" y="987.52" width="3.60" height="23.48" fill="#45b08c"/>
<rect x="2313.88" y="986.98" width="3.60" height="24.02" fill="#e0813f"/>
<rect x="2317.42" y="1004.99" width="3.60" height="6.01" fill="#dc9cd2"/>
<text x="2312.1" y="1019.6" font-size="7.6" fill="#555" text-anchor="middle">3</text>
<path d="M2335.5,956.4 L2335.5,1011.0" stroke="#f4f4f4" stroke-width="0.6"/>
<text x="2335.5" y="1019.6" font-size="7.6" fill="#555" text-anchor="middle">4</text>
<path d="M2358.9,956.4 L2358.9,1011.0" stroke="#f4f4f4" stroke-width="0.6"/>
<text x="2358.9" y="1019.6" font-size="7.6" fill="#555" text-anchor="middle">5</text>
<path d="M2382.3,956.4 L2382.3,1011.0" stroke="#f4f4f4" stroke-width="0.6"/>
<rect x="2373.43" y="988.07" width="3.60" height="22.93" fill="#4c97cf"/>
<rect x="2376.98" y="988.89" width="3.60" height="22.11" fill="#e9b04a"/>
<rect x="2380.53" y="1004.17" width="3.60" height="6.83" fill="#45b08c"/>
<rect x="2384.08" y="1006.36" width="3.60" height="4.64" fill="#e0813f"/>
<rect x="2387.62" y="988.07" width="3.60" height="22.93" fill="#dc9cd2"/>
<text x="2382.3" y="1019.6" font-size="7.6" fill="#555" text-anchor="middle">6</text>
<path d="M2405.7,956.4 L2405.7,1011.0" stroke="#f4f4f4" stroke-width="0.6"/>
<rect x="2403.93" y="988.34" width="3.60" height="22.66" fill="#45b08c"/>
<rect x="2407.48" y="986.43" width="3.60" height="24.57" fill="#e0813f"/>
<text x="2405.7" y="1019.6" font-size="7.6" fill="#555" text-anchor="middle">7</text>
<path d="M2223.5,1004.2 L2421.7,1004.2" stroke="#f05a5a" stroke-width="0.7" stroke-dasharray="1.8 1.2"/>
<text x="1779" y="787.5" font-size="10.2" font-weight="bold" fill="#333" stroke="#333" stroke-width="0.2" text-anchor="middle" transform="rotate(-90 1779 787.5)">Layer 0</text>
<text x="1779" y="853.0" font-size="10.2" font-weight="bold" fill="#333" stroke="#333" stroke-width="0.2" text-anchor="middle" transform="rotate(-90 1779 853.0)">Layer 7</text>
<text x="1779" y="918.5" font-size="10.2" font-weight="bold" fill="#333" stroke="#333" stroke-width="0.2" text-anchor="middle" transform="rotate(-90 1779 918.5)">Layer 15</text>
<text x="1779" y="984.0" font-size="10.2" font-weight="bold" fill="#333" stroke="#333" stroke-width="0.2" text-anchor="middle" transform="rotate(-90 1779 984.0)">Layer 23</text>
<text x="1766.8" y="901.5" font-size="11.1" font-weight="bold" fill="#333" stroke="#333" stroke-width="0.2" text-anchor="middle" transform="rotate(-90 1766.8 901.5)">Routing Probability (%)</text>
<text x="2093.6" y="1042.2" font-size="11.1" font-weight="bold" fill="#333" text-anchor="middle">Expert ID</text>
<rect x="1857.3" y="1052.2" width="472.9" height="16.8" rx="2.5" fill="#fff" stroke="#e6e6e6" stroke-width="0.8"/>
<rect x="1861.7" y="1057.5" width="17.2" height="5.8" fill="#4c97cf" />
<text x="1883.8" y="1063.4" font-size="8.7" fill="#444">English C4</text>
<rect x="1943.4" y="1057.5" width="17.2" height="5.8" fill="#e9b04a" />
<text x="1965.5" y="1063.4" font-size="8.7" fill="#444">English Wikipedia</text>
<rect x="2051.2" y="1057.5" width="17.2" height="5.8" fill="#45b08c" />
<text x="2073.3" y="1063.4" font-size="8.7" fill="#444">Japanese C4</text>
<rect x="2141.8" y="1057.5" width="17.2" height="5.8" fill="#e0813f" />
<text x="2163.9" y="1063.4" font-size="8.7" fill="#444">Japanese Wikipedia</text>
<rect x="2258.8" y="1057.5" width="17.2" height="5.8" fill="#dc9cd2" />
<text x="2280.5" y="1063.4" font-size="8.7" fill="#444">Code Stack</text>
</g>
<g id="part_qr">
<path d="M2388.30,1144.30h19.52v2.84h-19.52zM2410.60,1144.30h5.58v2.84h-5.58zM2421.76,1144.30h2.79v2.84h-2.79zM2427.33,1144.30h2.79v2.84h-2.79zM2432.91,1144.30h2.79v2.84h-2.79zM2438.48,1144.30h19.52v2.84h-19.52zM2388.30,1147.09h2.79v2.84h-2.79zM2405.03,1147.09h2.79v2.84h-2.79zM2413.39,1147.09h2.79v2.84h-2.79zM2432.91,1147.09h2.79v2.84h-2.79zM2438.48,1147.09h2.79v2.84h-2.79zM2455.21,1147.09h2.79v2.84h-2.79zM2388.30,1149.88h2.79v2.84h-2.79zM2393.88,1149.88h8.36v2.84h-8.36zM2405.03,1149.88h2.79v2.84h-2.79zM2413.39,1149.88h5.58v2.84h-5.58zM2421.76,1149.88h8.36v2.84h-8.36zM2438.48,1149.88h2.79v2.84h-2.79zM2444.06,1149.88h8.36v2.84h-8.36zM2455.21,1149.88h2.79v2.84h-2.79zM2388.30,1152.66h2.79v2.84h-2.79zM2393.88,1152.66h8.36v2.84h-8.36zM2405.03,1152.66h2.79v2.84h-2.79zM2413.39,1152.66h8.36v2.84h-8.36zM2424.54,1152.66h2.79v2.84h-2.79zM2432.91,1152.66h2.79v2.84h-2.79zM2438.48,1152.66h2.79v2.84h-2.79zM2444.06,1152.66h8.36v2.84h-8.36zM2455.21,1152.66h2.79v2.84h-2.79zM2388.30,1155.45h2.79v2.84h-2.79zM2393.88,1155.45h8.36v2.84h-8.36zM2405.03,1155.45h2.79v2.84h-2.79zM2413.39,1155.45h5.58v2.84h-5.58zM2421.76,1155.45h2.79v2.84h-2.79zM2427.33,1155.45h2.79v2.84h-2.79zM2432.91,1155.45h2.79v2.84h-2.79zM2438.48,1155.45h2.79v2.84h-2.79zM2444.06,1155.45h8.36v2.84h-8.36zM2455.21,1155.45h2.79v2.84h-2.79zM2388.30,1158.24h2.79v2.84h-2.79zM2405.03,1158.24h2.79v2.84h-2.79zM2413.39,1158.24h2.79v2.84h-2.79zM2418.97,1158.24h2.79v2.84h-2.79zM2432.91,1158.24h2.79v2.84h-2.79zM2438.48,1158.24h2.79v2.84h-2.79zM2455.21,1158.24h2.79v2.84h-2.79zM2388.30,1161.03h19.52v2.84h-19.52zM2410.60,1161.03h2.79v2.84h-2.79zM2416.18,1161.03h2.79v2.84h-2.79zM2421.76,1161.03h2.79v2.84h-2.79zM2427.33,1161.03h2.79v2.84h-2.79zM2432.91,1161.03h2.79v2.84h-2.79zM2438.48,1161.03h19.52v2.84h-19.52zM2410.60,1163.82h2.79v2.84h-2.79zM2421.76,1163.82h5.58v2.84h-5.58zM2430.12,1163.82h2.79v2.84h-2.79zM2388.30,1166.60h5.58v2.84h-5.58zM2396.66,1166.60h5.58v2.84h-5.58zM2405.03,1166.60h2.79v2.84h-2.79zM2416.18,1166.60h2.79v2.84h-2.79zM2427.33,1166.60h5.58v2.84h-5.58zM2438.48,1166.60h2.79v2.84h-2.79zM2455.21,1166.60h2.79v2.84h-2.79zM2388.30,1169.39h2.79v2.84h-2.79zM2396.66,1169.39h5.58v2.84h-5.58zM2410.60,1169.39h2.79v2.84h-2.79zM2418.97,1169.39h5.58v2.84h-5.58zM2427.33,1169.39h5.58v2.84h-5.58zM2435.70,1169.39h2.79v2.84h-2.79zM2441.27,1169.39h13.94v2.84h-13.94zM2388.30,1172.18h13.94v2.84h-13.94zM2405.03,1172.18h2.79v2.84h-2.79zM2410.60,1172.18h5.58v2.84h-5.58zM2418.97,1172.18h30.67v2.84h-30.67zM2455.21,1172.18h2.79v2.84h-2.79zM2391.09,1174.97h2.79v2.84h-2.79zM2396.66,1174.97h2.79v2.84h-2.79zM2407.82,1174.97h5.58v2.84h-5.58zM2430.12,1174.97h2.79v2.84h-2.79zM2435.70,1174.97h2.79v2.84h-2.79zM2446.85,1174.97h11.15v2.84h-11.15zM2388.30,1177.76h2.79v2.84h-2.79zM2405.03,1177.76h2.79v2.84h-2.79zM2413.39,1177.76h5.58v2.84h-5.58zM2421.76,1177.76h2.79v2.84h-2.79zM2432.91,1177.76h2.79v2.84h-2.79zM2438.48,1177.76h5.58v2.84h-5.58zM2455.21,1177.76h2.79v2.84h-2.79zM2388.30,1180.54h2.79v2.84h-2.79zM2393.88,1180.54h11.15v2.84h-11.15zM2407.82,1180.54h8.36v2.84h-8.36zM2418.97,1180.54h8.36v2.84h-8.36zM2430.12,1180.54h8.36v2.84h-8.36zM2444.06,1180.54h2.79v2.84h-2.79zM2452.42,1180.54h2.79v2.84h-2.79zM2388.30,1183.33h5.58v2.84h-5.58zM2399.45,1183.33h13.94v2.84h-13.94zM2416.18,1183.33h2.79v2.84h-2.79zM2421.76,1183.33h2.79v2.84h-2.79zM2430.12,1183.33h5.58v2.84h-5.58zM2444.06,1183.33h13.94v2.84h-13.94zM2388.30,1186.12h2.79v2.84h-2.79zM2396.66,1186.12h2.79v2.84h-2.79zM2402.24,1186.12h2.79v2.84h-2.79zM2410.60,1186.12h13.94v2.84h-13.94zM2430.12,1186.12h2.79v2.84h-2.79zM2438.48,1186.12h5.58v2.84h-5.58zM2446.85,1186.12h5.58v2.84h-5.58zM2455.21,1186.12h2.79v2.84h-2.79zM2388.30,1188.91h2.79v2.84h-2.79zM2396.66,1188.91h5.58v2.84h-5.58zM2405.03,1188.91h2.79v2.84h-2.79zM2413.39,1188.91h2.79v2.84h-2.79zM2418.97,1188.91h2.79v2.84h-2.79zM2424.54,1188.91h5.58v2.84h-5.58zM2432.91,1188.91h13.94v2.84h-13.94zM2449.64,1188.91h5.58v2.84h-5.58zM2410.60,1191.70h2.79v2.84h-2.79zM2421.76,1191.70h5.58v2.84h-5.58zM2432.91,1191.70h2.79v2.84h-2.79zM2444.06,1191.70h2.79v2.84h-2.79zM2449.64,1191.70h5.58v2.84h-5.58zM2388.30,1194.48h19.52v2.84h-19.52zM2416.18,1194.48h8.36v2.84h-8.36zM2432.91,1194.48h2.79v2.84h-2.79zM2438.48,1194.48h2.79v2.84h-2.79zM2444.06,1194.48h2.79v2.84h-2.79zM2455.21,1194.48h2.79v2.84h-2.79zM2388.30,1197.27h2.79v2.84h-2.79zM2405.03,1197.27h2.79v2.84h-2.79zM2416.18,1197.27h2.79v2.84h-2.79zM2421.76,1197.27h5.58v2.84h-5.58zM2432.91,1197.27h2.79v2.84h-2.79zM2444.06,1197.27h2.79v2.84h-2.79zM2455.21,1197.27h2.79v2.84h-2.79zM2388.30,1200.06h2.79v2.84h-2.79zM2393.88,1200.06h8.36v2.84h-8.36zM2405.03,1200.06h2.79v2.84h-2.79zM2410.60,1200.06h8.36v2.84h-8.36zM2430.12,1200.06h16.73v2.84h-16.73zM2455.21,1200.06h2.79v2.84h-2.79zM2388.30,1202.85h2.79v2.84h-2.79zM2393.88,1202.85h8.36v2.84h-8.36zM2405.03,1202.85h2.79v2.84h-2.79zM2410.60,1202.85h5.58v2.84h-5.58zM2418.97,1202.85h5.58v2.84h-5.58zM2435.70,1202.85h5.58v2.84h-5.58zM2388.30,1205.64h2.79v2.84h-2.79zM2393.88,1205.64h8.36v2.84h-8.36zM2405.03,1205.64h2.79v2.84h-2.79zM2413.39,1205.64h2.79v2.84h-2.79zM2418.97,1205.64h2.79v2.84h-2.79zM2424.54,1205.64h5.58v2.84h-5.58zM2435.70,1205.64h2.79v2.84h-2.79zM2444.06,1205.64h13.94v2.84h-13.94zM2388.30,1208.42h2.79v2.84h-2.79zM2405.03,1208.42h2.79v2.84h-2.79zM2410.60,1208.42h2.79v2.84h-2.79zM2418.97,1208.42h2.79v2.84h-2.79zM2430.12,1208.42h2.79v2.84h-2.79zM2435.70,1208.42h2.79v2.84h-2.79zM2441.27,1208.42h5.58v2.84h-5.58zM2449.64,1208.42h8.36v2.84h-8.36zM2388.30,1211.21h19.52v2.84h-19.52zM2410.60,1211.21h5.58v2.84h-5.58zM2418.97,1211.21h2.79v2.84h-2.79zM2427.33,1211.21h2.79v2.84h-2.79zM2432.91,1211.21h2.79v2.84h-2.79zM2438.48,1211.21h2.79v2.84h-2.79zM2446.85,1211.21h2.79v2.84h-2.79zM2455.21,1211.21h2.79v2.84h-2.79z" fill="#000"/>
</g>
</svg></body></html>
